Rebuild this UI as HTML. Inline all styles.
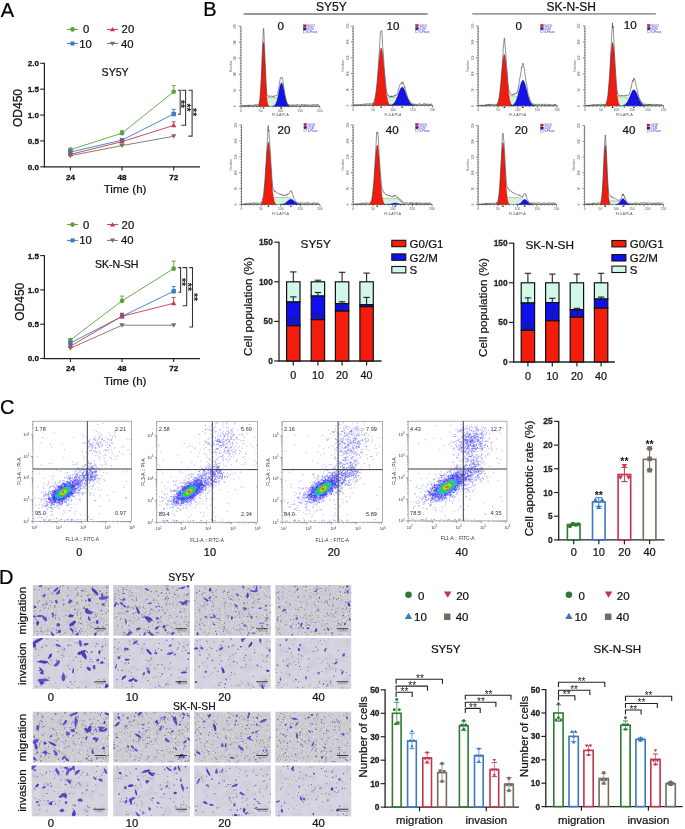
<!DOCTYPE html>
<html><head><meta charset="utf-8"><title>Figure</title>
<style>html,body{margin:0;padding:0;background:#fff;}body>svg{display:block;will-change:transform;}text{font-family:"Liberation Sans",sans-serif;}</style>
</head><body>
<svg width="685" height="829" viewBox="0 0 685 829" font-family="Liberation Sans, sans-serif">
<rect width="685" height="829" fill="#fff"/>
<text x="0.80" y="16.50" font-size="20" text-anchor="start" stroke="#000" stroke-width="0.22" fill="#000">A</text>
<text x="203.20" y="16.40" font-size="20" text-anchor="start" stroke="#000" stroke-width="0.22" fill="#000">B</text>
<text x="0.00" y="413.50" font-size="20" text-anchor="start" stroke="#000" stroke-width="0.22" fill="#000">C</text>
<text x="-1.00" y="583.80" font-size="20" text-anchor="start" stroke="#000" stroke-width="0.22" fill="#000">D</text>
<line x1="67.00" y1="29.40" x2="78.00" y2="29.40" stroke="#5aa23a" stroke-width="1.0"/>
<circle cx="72.50" cy="29.40" r="2.30" fill="#5aa23a"/>
<text x="83.00" y="33.40" font-size="11.3" text-anchor="start" stroke="#111" stroke-width="0.22" fill="#111">0</text>
<line x1="107.00" y1="29.40" x2="118.00" y2="29.40" stroke="#c43a52" stroke-width="1.0"/>
<path d="M109.97,31.21 L115.03,31.21 L112.50,26.98 Z" fill="#c43a52" stroke="none" stroke-width="0"/>
<text x="121.60" y="33.40" font-size="11.3" text-anchor="start" stroke="#111" stroke-width="0.22" fill="#111">20</text>
<line x1="67.00" y1="43.50" x2="78.00" y2="43.50" stroke="#3a7ac4" stroke-width="1.0"/>
<rect x="70.50" y="41.50" width="4.00" height="4.00" fill="#3a7ac4" stroke="none" stroke-width="0"/>
<text x="79.30" y="47.50" font-size="11.3" text-anchor="start" stroke="#111" stroke-width="0.22" fill="#111">10</text>
<line x1="107.00" y1="43.50" x2="118.00" y2="43.50" stroke="#7a705f" stroke-width="1.0"/>
<path d="M109.97,41.69 L115.03,41.69 L112.50,45.92 Z" fill="#7a705f" stroke="none" stroke-width="0"/>
<text x="121.00" y="47.50" font-size="11.3" text-anchor="start" stroke="#111" stroke-width="0.22" fill="#111">40</text>
<line x1="44.40" y1="62.80" x2="44.40" y2="167.40" stroke="#222" stroke-width="1.25"/>
<line x1="43.80" y1="166.80" x2="200.00" y2="166.80" stroke="#222" stroke-width="1.25"/>
<line x1="40.20" y1="166.80" x2="44.40" y2="166.80" stroke="#222" stroke-width="1.1"/>
<text x="39.00" y="169.70" font-size="8.1" text-anchor="end" font-weight="bold" stroke="#111" stroke-width="0.28" fill="#111">0.0</text>
<line x1="40.20" y1="140.93" x2="44.40" y2="140.93" stroke="#222" stroke-width="1.1"/>
<text x="39.00" y="143.83" font-size="8.1" text-anchor="end" font-weight="bold" stroke="#111" stroke-width="0.28" fill="#111">0.5</text>
<line x1="40.20" y1="115.05" x2="44.40" y2="115.05" stroke="#222" stroke-width="1.1"/>
<text x="39.00" y="117.95" font-size="8.1" text-anchor="end" font-weight="bold" stroke="#111" stroke-width="0.28" fill="#111">1.0</text>
<line x1="40.20" y1="89.18" x2="44.40" y2="89.18" stroke="#222" stroke-width="1.1"/>
<text x="39.00" y="92.08" font-size="8.1" text-anchor="end" font-weight="bold" stroke="#111" stroke-width="0.28" fill="#111">1.5</text>
<line x1="40.20" y1="63.30" x2="44.40" y2="63.30" stroke="#222" stroke-width="1.1"/>
<text x="39.00" y="66.20" font-size="8.1" text-anchor="end" font-weight="bold" stroke="#111" stroke-width="0.28" fill="#111">2.0</text>
<line x1="70.40" y1="166.80" x2="70.40" y2="170.40" stroke="#222" stroke-width="1.1"/>
<text x="70.40" y="179.50" font-size="8.1" text-anchor="middle" font-weight="bold" stroke="#111" stroke-width="0.28" fill="#111">24</text>
<line x1="122.00" y1="166.80" x2="122.00" y2="170.40" stroke="#222" stroke-width="1.1"/>
<text x="122.00" y="179.50" font-size="8.1" text-anchor="middle" font-weight="bold" stroke="#111" stroke-width="0.28" fill="#111">48</text>
<line x1="173.70" y1="166.80" x2="173.70" y2="170.40" stroke="#222" stroke-width="1.1"/>
<text x="173.70" y="179.50" font-size="8.1" text-anchor="middle" font-weight="bold" stroke="#111" stroke-width="0.28" fill="#111">72</text>
<text x="125.10" y="193.00" font-size="11.6" text-anchor="middle" stroke="#111" stroke-width="0.22" fill="#111">Time (h)</text>
<text x="101.60" y="76.00" font-size="10.6" text-anchor="start" stroke="#111" stroke-width="0.22" fill="#111">SY5Y</text>
<text x="21.90" y="108.00" font-size="12.0" text-anchor="middle" stroke="#111" stroke-width="0.22" fill="#111" transform="rotate(-90 21.90 108.00)">OD450</text>
<polyline points="70.40,149.72 122.00,133.16 173.70,91.76" fill="none" stroke="#5aa23a" stroke-width="0.9"/>
<line x1="70.40" y1="149.72" x2="70.40" y2="148.69" stroke="#5aa23a" stroke-width="0.9"/>
<line x1="68.40" y1="148.69" x2="72.40" y2="148.69" stroke="#5aa23a" stroke-width="0.9"/>
<line x1="122.00" y1="133.16" x2="122.00" y2="130.58" stroke="#5aa23a" stroke-width="0.9"/>
<line x1="120.00" y1="130.58" x2="124.00" y2="130.58" stroke="#5aa23a" stroke-width="0.9"/>
<line x1="173.70" y1="91.76" x2="173.70" y2="85.55" stroke="#5aa23a" stroke-width="0.9"/>
<line x1="171.70" y1="85.55" x2="175.70" y2="85.55" stroke="#5aa23a" stroke-width="0.9"/>
<circle cx="70.40" cy="149.72" r="2.35" fill="#5aa23a"/>
<circle cx="122.00" cy="133.16" r="2.35" fill="#5aa23a"/>
<circle cx="173.70" cy="91.76" r="2.35" fill="#5aa23a"/>
<polyline points="70.40,152.05 122.00,140.15 173.70,114.02" fill="none" stroke="#3a7ac4" stroke-width="0.9"/>
<line x1="70.40" y1="152.05" x2="70.40" y2="151.02" stroke="#3a7ac4" stroke-width="0.9"/>
<line x1="68.40" y1="151.02" x2="72.40" y2="151.02" stroke="#3a7ac4" stroke-width="0.9"/>
<line x1="122.00" y1="140.15" x2="122.00" y2="138.60" stroke="#3a7ac4" stroke-width="0.9"/>
<line x1="120.00" y1="138.60" x2="124.00" y2="138.60" stroke="#3a7ac4" stroke-width="0.9"/>
<line x1="173.70" y1="114.02" x2="173.70" y2="109.36" stroke="#3a7ac4" stroke-width="0.9"/>
<line x1="171.70" y1="109.36" x2="175.70" y2="109.36" stroke="#3a7ac4" stroke-width="0.9"/>
<rect x="68.20" y="149.85" width="4.40" height="4.40" fill="#3a7ac4" stroke="none" stroke-width="0"/>
<rect x="119.80" y="137.95" width="4.40" height="4.40" fill="#3a7ac4" stroke="none" stroke-width="0"/>
<rect x="171.50" y="111.82" width="4.40" height="4.40" fill="#3a7ac4" stroke="none" stroke-width="0"/>
<polyline points="70.40,154.38 122.00,141.70 173.70,125.40" fill="none" stroke="#c43a52" stroke-width="0.9"/>
<line x1="70.40" y1="154.38" x2="70.40" y2="153.35" stroke="#c43a52" stroke-width="0.9"/>
<line x1="68.40" y1="153.35" x2="72.40" y2="153.35" stroke="#c43a52" stroke-width="0.9"/>
<line x1="122.00" y1="141.70" x2="122.00" y2="140.15" stroke="#c43a52" stroke-width="0.9"/>
<line x1="120.00" y1="140.15" x2="124.00" y2="140.15" stroke="#c43a52" stroke-width="0.9"/>
<line x1="173.70" y1="125.40" x2="173.70" y2="121.78" stroke="#c43a52" stroke-width="0.9"/>
<line x1="171.70" y1="121.78" x2="175.70" y2="121.78" stroke="#c43a52" stroke-width="0.9"/>
<path d="M67.76,156.28 L73.05,156.28 L70.40,151.85 Z" fill="#c43a52" stroke="none" stroke-width="0"/>
<path d="M119.36,143.60 L124.64,143.60 L122.00,139.17 Z" fill="#c43a52" stroke="none" stroke-width="0"/>
<path d="M171.05,127.30 L176.34,127.30 L173.70,122.87 Z" fill="#c43a52" stroke="none" stroke-width="0"/>
<polyline points="70.40,155.67 122.00,145.58 173.70,136.27" fill="none" stroke="#7a705f" stroke-width="0.9"/>
<line x1="70.40" y1="155.67" x2="70.40" y2="155.16" stroke="#7a705f" stroke-width="0.9"/>
<line x1="68.40" y1="155.16" x2="72.40" y2="155.16" stroke="#7a705f" stroke-width="0.9"/>
<line x1="122.00" y1="145.58" x2="122.00" y2="145.06" stroke="#7a705f" stroke-width="0.9"/>
<line x1="120.00" y1="145.06" x2="124.00" y2="145.06" stroke="#7a705f" stroke-width="0.9"/>
<path d="M67.76,153.78 L73.05,153.78 L70.40,158.20 Z" fill="#7a705f" stroke="none" stroke-width="0"/>
<path d="M119.36,143.69 L124.64,143.69 L122.00,148.11 Z" fill="#7a705f" stroke="none" stroke-width="0"/>
<path d="M171.05,134.37 L176.34,134.37 L173.70,138.80 Z" fill="#7a705f" stroke="none" stroke-width="0"/>
<path d="M177.90,90.20 H180.20 V114.30 H177.90" fill="none" stroke="#333" stroke-width="1.05"/>
<text x="177.23" y="104.00" font-size="10.5" text-anchor="middle" font-weight="bold" fill="#222" transform="rotate(90 177.23 104.00)">**</text>
<path d="M181.30,90.20 H185.60 V125.30 H181.30" fill="none" stroke="#333" stroke-width="1.05"/>
<text x="182.73" y="107.50" font-size="10.5" text-anchor="middle" font-weight="bold" fill="#222" transform="rotate(90 182.73 107.50)">**</text>
<path d="M188.40,90.20 H192.10 V136.10 H188.40" fill="none" stroke="#333" stroke-width="1.05"/>
<text x="188.83" y="112.20" font-size="10.5" text-anchor="middle" font-weight="bold" fill="#222" transform="rotate(90 188.83 112.20)">**</text>
<line x1="67.00" y1="224.60" x2="78.00" y2="224.60" stroke="#5aa23a" stroke-width="1.0"/>
<circle cx="72.50" cy="224.60" r="2.30" fill="#5aa23a"/>
<text x="83.00" y="228.60" font-size="11.3" text-anchor="start" stroke="#111" stroke-width="0.22" fill="#111">0</text>
<line x1="107.00" y1="224.60" x2="118.00" y2="224.60" stroke="#c43a52" stroke-width="1.0"/>
<path d="M109.97,226.41 L115.03,226.41 L112.50,222.18 Z" fill="#c43a52" stroke="none" stroke-width="0"/>
<text x="121.60" y="228.60" font-size="11.3" text-anchor="start" stroke="#111" stroke-width="0.22" fill="#111">20</text>
<line x1="67.00" y1="240.40" x2="78.00" y2="240.40" stroke="#3a7ac4" stroke-width="1.0"/>
<rect x="70.50" y="238.40" width="4.00" height="4.00" fill="#3a7ac4" stroke="none" stroke-width="0"/>
<text x="79.30" y="244.40" font-size="11.3" text-anchor="start" stroke="#111" stroke-width="0.22" fill="#111">10</text>
<line x1="107.00" y1="240.40" x2="118.00" y2="240.40" stroke="#7a705f" stroke-width="1.0"/>
<path d="M109.97,238.59 L115.03,238.59 L112.50,242.82 Z" fill="#7a705f" stroke="none" stroke-width="0"/>
<text x="121.00" y="244.40" font-size="11.3" text-anchor="start" stroke="#111" stroke-width="0.22" fill="#111">40</text>
<line x1="44.40" y1="255.10" x2="44.40" y2="359.10" stroke="#222" stroke-width="1.25"/>
<line x1="43.80" y1="358.50" x2="200.00" y2="358.50" stroke="#222" stroke-width="1.25"/>
<line x1="40.20" y1="358.50" x2="44.40" y2="358.50" stroke="#222" stroke-width="1.1"/>
<text x="39.00" y="361.40" font-size="8.1" text-anchor="end" font-weight="bold" stroke="#111" stroke-width="0.28" fill="#111">0.0</text>
<line x1="40.20" y1="324.20" x2="44.40" y2="324.20" stroke="#222" stroke-width="1.1"/>
<text x="39.00" y="327.10" font-size="8.1" text-anchor="end" font-weight="bold" stroke="#111" stroke-width="0.28" fill="#111">0.5</text>
<line x1="40.20" y1="289.90" x2="44.40" y2="289.90" stroke="#222" stroke-width="1.1"/>
<text x="39.00" y="292.80" font-size="8.1" text-anchor="end" font-weight="bold" stroke="#111" stroke-width="0.28" fill="#111">1.0</text>
<line x1="40.20" y1="255.60" x2="44.40" y2="255.60" stroke="#222" stroke-width="1.1"/>
<text x="39.00" y="258.50" font-size="8.1" text-anchor="end" font-weight="bold" stroke="#111" stroke-width="0.28" fill="#111">1.5</text>
<line x1="70.40" y1="358.50" x2="70.40" y2="362.10" stroke="#222" stroke-width="1.1"/>
<text x="70.40" y="371.20" font-size="8.1" text-anchor="middle" font-weight="bold" stroke="#111" stroke-width="0.28" fill="#111">24</text>
<line x1="122.00" y1="358.50" x2="122.00" y2="362.10" stroke="#222" stroke-width="1.1"/>
<text x="122.00" y="371.20" font-size="8.1" text-anchor="middle" font-weight="bold" stroke="#111" stroke-width="0.28" fill="#111">48</text>
<line x1="173.70" y1="358.50" x2="173.70" y2="362.10" stroke="#222" stroke-width="1.1"/>
<text x="173.70" y="371.20" font-size="8.1" text-anchor="middle" font-weight="bold" stroke="#111" stroke-width="0.28" fill="#111">72</text>
<text x="125.10" y="384.70" font-size="11.6" text-anchor="middle" stroke="#111" stroke-width="0.22" fill="#111">Time (h)</text>
<text x="94.90" y="267.80" font-size="10.6" text-anchor="start" stroke="#111" stroke-width="0.22" fill="#111">SK-N-SH</text>
<text x="24.20" y="301.70" font-size="12.0" text-anchor="middle" stroke="#111" stroke-width="0.22" fill="#111" transform="rotate(-90 24.20 301.70)">OD450</text>
<polyline points="70.40,339.98 122.00,300.88 173.70,268.63" fill="none" stroke="#5aa23a" stroke-width="0.9"/>
<line x1="70.40" y1="339.98" x2="70.40" y2="338.61" stroke="#5aa23a" stroke-width="0.9"/>
<line x1="68.40" y1="338.61" x2="72.40" y2="338.61" stroke="#5aa23a" stroke-width="0.9"/>
<line x1="122.00" y1="300.88" x2="122.00" y2="296.07" stroke="#5aa23a" stroke-width="0.9"/>
<line x1="120.00" y1="296.07" x2="124.00" y2="296.07" stroke="#5aa23a" stroke-width="0.9"/>
<line x1="173.70" y1="268.63" x2="173.70" y2="261.09" stroke="#5aa23a" stroke-width="0.9"/>
<line x1="171.70" y1="261.09" x2="175.70" y2="261.09" stroke="#5aa23a" stroke-width="0.9"/>
<circle cx="70.40" cy="339.98" r="2.35" fill="#5aa23a"/>
<circle cx="122.00" cy="300.88" r="2.35" fill="#5aa23a"/>
<circle cx="173.70" cy="268.63" r="2.35" fill="#5aa23a"/>
<polyline points="70.40,343.06 122.00,316.31 173.70,291.27" fill="none" stroke="#3a7ac4" stroke-width="0.9"/>
<line x1="70.40" y1="343.06" x2="70.40" y2="341.69" stroke="#3a7ac4" stroke-width="0.9"/>
<line x1="68.40" y1="341.69" x2="72.40" y2="341.69" stroke="#3a7ac4" stroke-width="0.9"/>
<line x1="122.00" y1="316.31" x2="122.00" y2="313.57" stroke="#3a7ac4" stroke-width="0.9"/>
<line x1="120.00" y1="313.57" x2="124.00" y2="313.57" stroke="#3a7ac4" stroke-width="0.9"/>
<line x1="173.70" y1="291.27" x2="173.70" y2="286.47" stroke="#3a7ac4" stroke-width="0.9"/>
<line x1="171.70" y1="286.47" x2="175.70" y2="286.47" stroke="#3a7ac4" stroke-width="0.9"/>
<rect x="68.20" y="340.87" width="4.40" height="4.40" fill="#3a7ac4" stroke="none" stroke-width="0"/>
<rect x="119.80" y="314.11" width="4.40" height="4.40" fill="#3a7ac4" stroke="none" stroke-width="0"/>
<rect x="171.50" y="289.07" width="4.40" height="4.40" fill="#3a7ac4" stroke="none" stroke-width="0"/>
<polyline points="70.40,346.15 122.00,316.31 173.70,303.28" fill="none" stroke="#c43a52" stroke-width="0.9"/>
<line x1="70.40" y1="346.15" x2="70.40" y2="344.78" stroke="#c43a52" stroke-width="0.9"/>
<line x1="68.40" y1="344.78" x2="72.40" y2="344.78" stroke="#c43a52" stroke-width="0.9"/>
<line x1="122.00" y1="316.31" x2="122.00" y2="313.22" stroke="#c43a52" stroke-width="0.9"/>
<line x1="120.00" y1="313.22" x2="124.00" y2="313.22" stroke="#c43a52" stroke-width="0.9"/>
<line x1="173.70" y1="303.28" x2="173.70" y2="297.45" stroke="#c43a52" stroke-width="0.9"/>
<line x1="171.70" y1="297.45" x2="175.70" y2="297.45" stroke="#c43a52" stroke-width="0.9"/>
<path d="M67.76,348.05 L73.05,348.05 L70.40,343.62 Z" fill="#c43a52" stroke="none" stroke-width="0"/>
<path d="M119.36,318.21 L124.64,318.21 L122.00,313.78 Z" fill="#c43a52" stroke="none" stroke-width="0"/>
<path d="M171.05,305.17 L176.34,305.17 L173.70,300.75 Z" fill="#c43a52" stroke="none" stroke-width="0"/>
<polyline points="70.40,348.21 122.00,325.23 173.70,325.23" fill="none" stroke="#7a705f" stroke-width="0.9"/>
<line x1="70.40" y1="348.21" x2="70.40" y2="347.52" stroke="#7a705f" stroke-width="0.9"/>
<line x1="68.40" y1="347.52" x2="72.40" y2="347.52" stroke="#7a705f" stroke-width="0.9"/>
<line x1="122.00" y1="325.23" x2="122.00" y2="324.54" stroke="#7a705f" stroke-width="0.9"/>
<line x1="120.00" y1="324.54" x2="124.00" y2="324.54" stroke="#7a705f" stroke-width="0.9"/>
<path d="M67.76,346.31 L73.05,346.31 L70.40,350.74 Z" fill="#7a705f" stroke="none" stroke-width="0"/>
<path d="M119.36,323.33 L124.64,323.33 L122.00,327.76 Z" fill="#7a705f" stroke="none" stroke-width="0"/>
<path d="M171.05,323.33 L176.34,323.33 L173.70,327.76 Z" fill="#7a705f" stroke="none" stroke-width="0"/>
<path d="M178.20,267.60 H180.60 V292.20 H178.20" fill="none" stroke="#333" stroke-width="1.05"/>
<text x="177.63" y="282.00" font-size="10.5" text-anchor="middle" font-weight="bold" fill="#222" transform="rotate(90 177.63 282.00)">**</text>
<path d="M182.50,267.60 H186.70 V305.70 H182.50" fill="none" stroke="#333" stroke-width="1.05"/>
<text x="183.63" y="286.90" font-size="10.5" text-anchor="middle" font-weight="bold" fill="#222" transform="rotate(90 183.63 286.90)">**</text>
<path d="M189.30,267.60 H192.50 V326.90 H189.30" fill="none" stroke="#333" stroke-width="1.05"/>
<text x="190.13" y="297.00" font-size="10.5" text-anchor="middle" font-weight="bold" fill="#222" transform="rotate(90 190.13 297.00)">**</text>
<text x="316.00" y="11.30" font-size="12" text-anchor="start" stroke="#111" stroke-width="0.22" fill="#111">SY5Y</text>
<line x1="243.60" y1="14.00" x2="427.70" y2="14.00" stroke="#777" stroke-width="1.3"/>
<text x="546.50" y="11.00" font-size="12" text-anchor="start" stroke="#111" stroke-width="0.22" fill="#111">SK-N-SH</text>
<line x1="472.30" y1="13.80" x2="655.80" y2="13.80" stroke="#777" stroke-width="1.3"/>
<g stroke="#333" stroke-width="0.6">
<line x1="241.00" y1="26.30" x2="241.00" y2="106.20"/>
<line x1="241.00" y1="106.20" x2="319.80" y2="106.20"/>
<line x1="238.80" y1="26.30" x2="241.00" y2="26.30"/>
<line x1="239.90" y1="28.96" x2="241.00" y2="28.96"/>
<line x1="239.90" y1="31.63" x2="241.00" y2="31.63"/>
<line x1="239.90" y1="34.29" x2="241.00" y2="34.29"/>
<line x1="239.90" y1="36.95" x2="241.00" y2="36.95"/>
<line x1="239.90" y1="39.62" x2="241.00" y2="39.62"/>
<line x1="238.80" y1="42.28" x2="241.00" y2="42.28"/>
<line x1="239.90" y1="44.94" x2="241.00" y2="44.94"/>
<line x1="239.90" y1="47.61" x2="241.00" y2="47.61"/>
<line x1="239.90" y1="50.27" x2="241.00" y2="50.27"/>
<line x1="239.90" y1="52.93" x2="241.00" y2="52.93"/>
<line x1="239.90" y1="55.60" x2="241.00" y2="55.60"/>
<line x1="238.80" y1="58.26" x2="241.00" y2="58.26"/>
<line x1="239.90" y1="60.92" x2="241.00" y2="60.92"/>
<line x1="239.90" y1="63.59" x2="241.00" y2="63.59"/>
<line x1="239.90" y1="66.25" x2="241.00" y2="66.25"/>
<line x1="239.90" y1="68.91" x2="241.00" y2="68.91"/>
<line x1="239.90" y1="71.58" x2="241.00" y2="71.58"/>
<line x1="238.80" y1="74.24" x2="241.00" y2="74.24"/>
<line x1="239.90" y1="76.90" x2="241.00" y2="76.90"/>
<line x1="239.90" y1="79.57" x2="241.00" y2="79.57"/>
<line x1="239.90" y1="82.23" x2="241.00" y2="82.23"/>
<line x1="239.90" y1="84.89" x2="241.00" y2="84.89"/>
<line x1="239.90" y1="87.56" x2="241.00" y2="87.56"/>
<line x1="238.80" y1="90.22" x2="241.00" y2="90.22"/>
<line x1="239.90" y1="92.88" x2="241.00" y2="92.88"/>
<line x1="239.90" y1="95.55" x2="241.00" y2="95.55"/>
<line x1="239.90" y1="98.21" x2="241.00" y2="98.21"/>
<line x1="239.90" y1="100.87" x2="241.00" y2="100.87"/>
<line x1="239.90" y1="103.54" x2="241.00" y2="103.54"/>
<line x1="238.80" y1="106.20" x2="241.00" y2="106.20"/>
<line x1="241.00" y1="106.20" x2="241.00" y2="108.40"/>
<line x1="244.94" y1="106.20" x2="244.94" y2="107.30"/>
<line x1="248.88" y1="106.20" x2="248.88" y2="107.30"/>
<line x1="252.82" y1="106.20" x2="252.82" y2="107.30"/>
<line x1="256.76" y1="106.20" x2="256.76" y2="107.30"/>
<line x1="260.70" y1="106.20" x2="260.70" y2="108.40"/>
<line x1="264.64" y1="106.20" x2="264.64" y2="107.30"/>
<line x1="268.58" y1="106.20" x2="268.58" y2="107.30"/>
<line x1="272.52" y1="106.20" x2="272.52" y2="107.30"/>
<line x1="276.46" y1="106.20" x2="276.46" y2="107.30"/>
<line x1="280.40" y1="106.20" x2="280.40" y2="108.40"/>
<line x1="284.34" y1="106.20" x2="284.34" y2="107.30"/>
<line x1="288.28" y1="106.20" x2="288.28" y2="107.30"/>
<line x1="292.22" y1="106.20" x2="292.22" y2="107.30"/>
<line x1="296.16" y1="106.20" x2="296.16" y2="107.30"/>
<line x1="300.10" y1="106.20" x2="300.10" y2="108.40"/>
<line x1="304.04" y1="106.20" x2="304.04" y2="107.30"/>
<line x1="307.98" y1="106.20" x2="307.98" y2="107.30"/>
<line x1="311.92" y1="106.20" x2="311.92" y2="107.30"/>
<line x1="315.86" y1="106.20" x2="315.86" y2="107.30"/>
<line x1="319.80" y1="106.20" x2="319.80" y2="108.40"/>
</g>
<text x="236.40" y="26.30" font-size="3.0" text-anchor="middle" fill="#555" transform="rotate(-90 236.40 26.30)">250</text>
<text x="236.40" y="42.28" font-size="3.0" text-anchor="middle" fill="#555" transform="rotate(-90 236.40 42.28)">200</text>
<text x="236.40" y="58.26" font-size="3.0" text-anchor="middle" fill="#555" transform="rotate(-90 236.40 58.26)">150</text>
<text x="236.40" y="74.24" font-size="3.0" text-anchor="middle" fill="#555" transform="rotate(-90 236.40 74.24)">100</text>
<text x="236.40" y="90.22" font-size="3.0" text-anchor="middle" fill="#555" transform="rotate(-90 236.40 90.22)">50</text>
<text x="236.40" y="106.20" font-size="3.0" text-anchor="middle" fill="#555" transform="rotate(-90 236.40 106.20)">0</text>
<text x="241.00" y="111.80" font-size="3.3" text-anchor="middle" fill="#555">0</text>
<text x="260.70" y="111.80" font-size="3.3" text-anchor="middle" fill="#555">50</text>
<text x="280.40" y="111.80" font-size="3.3" text-anchor="middle" fill="#555">100</text>
<text x="300.10" y="111.80" font-size="3.3" text-anchor="middle" fill="#555">150</text>
<text x="319.80" y="111.80" font-size="3.3" text-anchor="middle" fill="#555">200</text>
<text x="280.40" y="116.40" font-size="3.4" text-anchor="middle" fill="#555">FL3-A/PI-A</text>
<text x="231.80" y="66.25" font-size="3.3" text-anchor="middle" fill="#555" transform="rotate(-90 231.80 66.25)">Number</text>
<path d="M241.00,106.20 L241.00,106.20 L241.49,106.20 L241.99,106.20 L242.48,106.20 L242.97,106.20 L243.46,106.20 L243.96,106.20 L244.45,106.20 L244.94,106.20 L245.43,106.20 L245.93,106.20 L246.42,106.20 L246.91,106.20 L247.40,106.20 L247.90,106.20 L248.39,106.20 L248.88,106.20 L249.37,106.20 L249.87,106.20 L250.36,106.20 L250.85,106.20 L251.34,106.20 L251.84,106.20 L252.33,106.20 L252.82,106.20 L253.31,106.20 L253.81,106.20 L254.30,106.20 L254.79,106.20 L255.28,106.20 L255.78,106.20 L256.27,106.20 L256.76,106.20 L257.25,106.20 L257.75,106.20 L258.24,106.19 L258.73,106.19 L259.22,106.18 L259.72,106.16 L260.21,106.13 L260.70,106.07 L261.19,105.98 L261.69,105.83 L262.18,105.58 L262.67,105.18 L263.16,104.58 L263.66,103.73 L264.15,102.65 L264.64,101.46 L265.13,100.31 L265.62,99.36 L266.12,98.65 L266.61,98.17 L267.10,97.86 L267.60,97.67 L268.09,97.56 L268.58,97.50 L269.07,97.46 L269.56,97.44 L270.06,97.42 L270.55,97.42 L271.04,97.42 L271.54,97.42 L272.03,97.42 L272.52,97.43 L273.01,97.44 L273.50,97.46 L274.00,97.48 L274.49,97.52 L274.98,97.57 L275.48,97.64 L275.97,97.73 L276.46,97.87 L276.95,98.05 L277.44,98.29 L277.94,98.62 L278.43,99.03 L278.92,99.55 L279.42,100.18 L279.91,100.88 L280.40,101.64 L280.89,102.41 L281.38,103.15 L281.88,103.81 L282.37,104.37 L282.86,104.83 L283.36,105.19 L283.85,105.46 L284.34,105.67 L284.83,105.82 L285.32,105.93 L285.82,106.01 L286.31,106.06 L286.80,106.10 L287.30,106.13 L287.79,106.15 L288.28,106.17 L288.77,106.18 L289.26,106.18 L289.76,106.19 L290.25,106.19 L290.74,106.19 L291.24,106.20 L291.73,106.20 L292.22,106.20 L292.71,106.20 L293.20,106.20 L293.70,106.20 L294.19,106.20 L294.68,106.20 L295.18,106.20 L295.67,106.20 L296.16,106.20 L296.65,106.20 L297.14,106.20 L297.64,106.20 L298.13,106.20 L298.62,106.20 L299.12,106.20 L299.61,106.20 L300.10,106.20 L300.59,106.20 L301.09,106.20 L301.58,106.20 L302.07,106.20 L302.56,106.20 L303.06,106.20 L303.55,106.20 L304.04,106.20 L304.53,106.20 L305.02,106.20 L305.52,106.20 L306.01,106.20 L306.50,106.20 L307.00,106.20 L307.49,106.20 L307.98,106.20 L308.47,106.20 L308.97,106.20 L309.46,106.20 L309.95,106.20 L310.44,106.20 L310.94,106.20 L311.43,106.20 L311.92,106.20 L312.41,106.20 L312.90,106.20 L313.40,106.20 L313.89,106.20 L314.38,106.20 L314.88,106.20 L315.37,106.20 L315.86,106.20 L316.35,106.20 L316.85,106.20 L317.34,106.20 L317.83,106.20 L318.32,106.20 L318.81,106.20 L319.31,106.20 L319.80,106.20 L319.80,106.20 Z" fill="#d6f2dc" stroke="#4a7a4a" stroke-width="0.4"/>
<path d="M258.24,106.20 L258.24,105.80 L258.73,105.21 L259.22,103.96 L259.72,101.55 L260.21,97.38 L260.70,90.89 L261.19,81.90 L261.69,70.92 L262.18,59.35 L262.67,49.28 L263.16,42.94 L263.66,41.88 L264.15,46.39 L264.64,55.32 L265.13,66.60 L265.62,78.01 L266.12,87.84 L266.61,95.27 L267.10,100.24 L267.60,103.23 L268.09,104.85 L268.58,105.64 L268.58,106.20 Z" fill="#f01c10" stroke="#6a1010" stroke-width="0.3"/>
<path d="M273.01,106.20 L273.01,106.03 L273.50,105.91 L274.00,105.71 L274.49,105.40 L274.98,104.93 L275.48,104.26 L275.97,103.33 L276.46,102.10 L276.95,100.53 L277.44,98.62 L277.94,96.40 L278.43,93.94 L278.92,91.36 L279.42,88.83 L279.91,86.54 L280.40,84.66 L280.89,83.38 L281.38,82.82 L281.88,83.03 L282.37,83.98 L282.86,85.60 L283.36,87.72 L283.85,90.17 L284.34,92.74 L284.83,95.28 L285.32,97.62 L285.82,99.68 L286.31,101.41 L286.80,102.80 L287.30,103.86 L287.79,104.65 L288.28,105.20 L288.77,105.58 L289.26,105.83 L289.76,105.98 L289.76,106.20 Z" fill="#1414e6" stroke="#10106a" stroke-width="0.3"/>
<polyline points="242.00,106.00 242.35,105.68 242.70,105.76 243.05,106.00 243.40,106.00 243.75,106.00 244.09,105.79 244.44,105.59 244.79,106.00 245.14,106.00 245.49,105.41 245.84,105.85 246.19,105.41 246.54,106.00 246.89,105.68 247.24,105.30 247.59,105.84 247.93,104.93 248.28,104.93 248.63,105.93 248.98,105.89 249.33,105.24 249.68,104.72 250.03,105.36 250.38,105.53 250.73,105.25 251.08,105.70 251.43,105.45 251.77,105.18 252.12,105.09 252.47,105.39 252.82,105.38 253.17,105.39 253.52,105.09 253.87,105.29 254.22,105.61 254.57,104.62 254.92,104.95 255.27,104.85 255.61,105.39 255.96,104.42 256.31,104.58 256.66,105.46 257.01,105.19 257.36,104.70 257.71,104.67 258.06,104.32 258.41,104.82 258.76,103.94 259.11,103.12 259.45,102.06 259.80,99.29 260.15,95.42 260.50,90.97 260.85,86.14 261.20,79.14 261.55,73.50 261.90,64.37 262.25,52.52 262.60,45.17 262.95,38.14 263.29,30.14 263.64,28.42 263.99,33.05 264.34,42.69 264.69,51.31 265.04,59.86 265.39,67.15 265.74,75.82 266.09,82.91 266.44,88.30 266.79,93.69 267.13,95.54 267.48,95.20 267.83,95.33 268.18,96.19 268.53,96.52 268.88,96.76 269.23,96.33 269.58,95.73 269.93,95.98 270.28,96.25 270.63,95.86 270.97,96.62 271.32,96.28 271.67,95.75 272.02,96.21 272.37,96.36 272.72,96.59 273.07,96.27 273.42,95.78 273.77,96.96 274.12,96.02 274.47,96.00 274.81,95.85 275.16,95.91 275.51,95.65 275.86,95.87 276.21,95.58 276.56,95.54 276.91,95.88 277.26,94.16 277.61,93.71 277.96,92.77 278.31,90.31 278.65,88.38 279.00,86.65 279.35,84.62 279.70,82.08 280.05,79.96 280.40,78.38 280.75,77.64 281.10,78.27 281.45,77.45 281.80,78.00 282.15,77.64 282.49,78.22 282.84,80.26 283.19,82.40 283.54,84.57 283.89,88.29 284.24,89.07 284.59,91.64 284.94,94.90 285.29,96.80 285.64,98.39 285.99,98.54 286.33,100.65 286.68,101.94 287.03,102.10 287.38,103.27 287.73,104.26 288.08,104.64 288.43,104.55 288.78,105.11 289.13,105.06 289.48,104.58 289.83,104.95 290.17,105.14 290.52,104.98 290.87,105.54 291.22,105.11 291.57,105.08 291.92,105.37 292.27,105.46 292.62,104.52 292.97,104.99 293.32,105.35 293.67,104.87 294.01,104.62 294.36,105.57 294.71,105.58 295.06,105.42 295.41,104.74 295.76,105.41 296.11,104.75 296.46,104.79 296.81,104.95 297.16,105.34 297.51,104.43 297.85,104.64 298.20,104.98 298.55,105.33 298.90,104.82 299.25,105.13 299.60,104.91 299.95,105.21 300.30,104.84 300.65,105.53 301.00,105.24 301.35,104.44 301.69,104.55 302.04,105.23 302.39,104.57 302.74,105.23 303.09,104.47 303.44,104.71 303.79,105.10 304.14,105.30 304.49,105.59 304.84,104.55 305.19,105.55 305.53,104.62 305.88,104.45 306.23,104.92 306.58,105.39 306.93,104.56 307.28,104.43 307.63,104.76 307.98,104.99 308.33,105.15 308.68,105.18 309.03,105.35 309.37,104.79 309.72,105.08 310.07,105.37 310.42,105.47 310.77,104.80 311.12,105.24 311.47,105.00 311.82,105.21 312.17,104.55 312.52,104.52 312.87,105.58 313.21,105.36 313.56,105.21 313.91,104.42 314.26,104.66 314.61,105.19 314.96,105.34 315.31,104.79 315.66,104.59 316.01,104.48 316.36,105.19 316.71,104.54 317.05,104.78 317.40,105.02 317.75,104.42 318.10,105.32 318.45,104.73 318.80,105.50" fill="none" stroke="#222" stroke-width="0.5"/>
<path d="M262.50,108.60 L264.50,108.60 L263.50,106.80 Z" fill="#111" stroke="none" stroke-width="0"/>
<path d="M280.50,108.60 L282.50,108.60 L281.50,106.80 Z" fill="#111" stroke="none" stroke-width="0"/>
<rect x="303.40" y="24.70" width="2.80" height="2.30" fill="#f01c10" stroke="#600" stroke-width="0.25"/>
<text x="307.00" y="26.90" font-size="2.7" text-anchor="start" fill="#3030d0">G0/G1</text>
<rect x="303.40" y="27.70" width="2.80" height="2.30" fill="#1414e6" stroke="#006" stroke-width="0.25"/>
<text x="307.00" y="29.90" font-size="2.7" text-anchor="start" fill="#3030d0">G2/M</text>
<rect x="303.40" y="30.70" width="2.80" height="2.30" fill="#f6fbf6" stroke="#333" stroke-width="0.25"/>
<text x="307.00" y="32.90" font-size="2.7" text-anchor="start" fill="#3030d0">S-Phase</text>
<text x="277.60" y="29.60" font-size="11.6" text-anchor="start" stroke="#111" stroke-width="0.22" fill="#111">0</text>
<g stroke="#333" stroke-width="0.6">
<line x1="353.20" y1="26.00" x2="353.20" y2="105.30"/>
<line x1="353.20" y1="105.30" x2="432.60" y2="105.30"/>
<line x1="351.00" y1="26.00" x2="353.20" y2="26.00"/>
<line x1="352.10" y1="28.64" x2="353.20" y2="28.64"/>
<line x1="352.10" y1="31.29" x2="353.20" y2="31.29"/>
<line x1="352.10" y1="33.93" x2="353.20" y2="33.93"/>
<line x1="352.10" y1="36.57" x2="353.20" y2="36.57"/>
<line x1="352.10" y1="39.22" x2="353.20" y2="39.22"/>
<line x1="351.00" y1="41.86" x2="353.20" y2="41.86"/>
<line x1="352.10" y1="44.50" x2="353.20" y2="44.50"/>
<line x1="352.10" y1="47.15" x2="353.20" y2="47.15"/>
<line x1="352.10" y1="49.79" x2="353.20" y2="49.79"/>
<line x1="352.10" y1="52.43" x2="353.20" y2="52.43"/>
<line x1="352.10" y1="55.08" x2="353.20" y2="55.08"/>
<line x1="351.00" y1="57.72" x2="353.20" y2="57.72"/>
<line x1="352.10" y1="60.36" x2="353.20" y2="60.36"/>
<line x1="352.10" y1="63.01" x2="353.20" y2="63.01"/>
<line x1="352.10" y1="65.65" x2="353.20" y2="65.65"/>
<line x1="352.10" y1="68.29" x2="353.20" y2="68.29"/>
<line x1="352.10" y1="70.94" x2="353.20" y2="70.94"/>
<line x1="351.00" y1="73.58" x2="353.20" y2="73.58"/>
<line x1="352.10" y1="76.22" x2="353.20" y2="76.22"/>
<line x1="352.10" y1="78.87" x2="353.20" y2="78.87"/>
<line x1="352.10" y1="81.51" x2="353.20" y2="81.51"/>
<line x1="352.10" y1="84.15" x2="353.20" y2="84.15"/>
<line x1="352.10" y1="86.80" x2="353.20" y2="86.80"/>
<line x1="351.00" y1="89.44" x2="353.20" y2="89.44"/>
<line x1="352.10" y1="92.08" x2="353.20" y2="92.08"/>
<line x1="352.10" y1="94.73" x2="353.20" y2="94.73"/>
<line x1="352.10" y1="97.37" x2="353.20" y2="97.37"/>
<line x1="352.10" y1="100.01" x2="353.20" y2="100.01"/>
<line x1="352.10" y1="102.66" x2="353.20" y2="102.66"/>
<line x1="351.00" y1="105.30" x2="353.20" y2="105.30"/>
<line x1="353.20" y1="105.30" x2="353.20" y2="107.50"/>
<line x1="357.17" y1="105.30" x2="357.17" y2="106.40"/>
<line x1="361.14" y1="105.30" x2="361.14" y2="106.40"/>
<line x1="365.11" y1="105.30" x2="365.11" y2="106.40"/>
<line x1="369.08" y1="105.30" x2="369.08" y2="106.40"/>
<line x1="373.05" y1="105.30" x2="373.05" y2="107.50"/>
<line x1="377.02" y1="105.30" x2="377.02" y2="106.40"/>
<line x1="380.99" y1="105.30" x2="380.99" y2="106.40"/>
<line x1="384.96" y1="105.30" x2="384.96" y2="106.40"/>
<line x1="388.93" y1="105.30" x2="388.93" y2="106.40"/>
<line x1="392.90" y1="105.30" x2="392.90" y2="107.50"/>
<line x1="396.87" y1="105.30" x2="396.87" y2="106.40"/>
<line x1="400.84" y1="105.30" x2="400.84" y2="106.40"/>
<line x1="404.81" y1="105.30" x2="404.81" y2="106.40"/>
<line x1="408.78" y1="105.30" x2="408.78" y2="106.40"/>
<line x1="412.75" y1="105.30" x2="412.75" y2="107.50"/>
<line x1="416.72" y1="105.30" x2="416.72" y2="106.40"/>
<line x1="420.69" y1="105.30" x2="420.69" y2="106.40"/>
<line x1="424.66" y1="105.30" x2="424.66" y2="106.40"/>
<line x1="428.63" y1="105.30" x2="428.63" y2="106.40"/>
<line x1="432.60" y1="105.30" x2="432.60" y2="107.50"/>
</g>
<text x="348.60" y="26.00" font-size="3.0" text-anchor="middle" fill="#555" transform="rotate(-90 348.60 26.00)">250</text>
<text x="348.60" y="41.86" font-size="3.0" text-anchor="middle" fill="#555" transform="rotate(-90 348.60 41.86)">200</text>
<text x="348.60" y="57.72" font-size="3.0" text-anchor="middle" fill="#555" transform="rotate(-90 348.60 57.72)">150</text>
<text x="348.60" y="73.58" font-size="3.0" text-anchor="middle" fill="#555" transform="rotate(-90 348.60 73.58)">100</text>
<text x="348.60" y="89.44" font-size="3.0" text-anchor="middle" fill="#555" transform="rotate(-90 348.60 89.44)">50</text>
<text x="348.60" y="105.30" font-size="3.0" text-anchor="middle" fill="#555" transform="rotate(-90 348.60 105.30)">0</text>
<text x="353.20" y="110.90" font-size="3.3" text-anchor="middle" fill="#555">0</text>
<text x="373.05" y="110.90" font-size="3.3" text-anchor="middle" fill="#555">50</text>
<text x="392.90" y="110.90" font-size="3.3" text-anchor="middle" fill="#555">100</text>
<text x="412.75" y="110.90" font-size="3.3" text-anchor="middle" fill="#555">150</text>
<text x="432.60" y="110.90" font-size="3.3" text-anchor="middle" fill="#555">200</text>
<text x="392.90" y="115.50" font-size="3.4" text-anchor="middle" fill="#555">FL3-A/PI-A</text>
<text x="344.00" y="65.65" font-size="3.3" text-anchor="middle" fill="#555" transform="rotate(-90 344.00 65.65)">Number</text>
<path d="M353.20,105.30 L353.20,105.30 L353.70,105.30 L354.19,105.30 L354.69,105.30 L355.19,105.30 L355.68,105.30 L356.18,105.30 L356.67,105.30 L357.17,105.30 L357.67,105.30 L358.16,105.30 L358.66,105.30 L359.15,105.30 L359.65,105.30 L360.15,105.30 L360.64,105.30 L361.14,105.30 L361.64,105.30 L362.13,105.30 L362.63,105.30 L363.12,105.30 L363.62,105.30 L364.12,105.30 L364.61,105.30 L365.11,105.30 L365.61,105.30 L366.10,105.30 L366.60,105.30 L367.09,105.30 L367.59,105.30 L368.09,105.30 L368.58,105.30 L369.08,105.30 L369.58,105.30 L370.07,105.30 L370.57,105.30 L371.06,105.30 L371.56,105.30 L372.06,105.30 L372.55,105.30 L373.05,105.30 L373.55,105.30 L374.04,105.30 L374.54,105.30 L375.03,105.30 L375.53,105.30 L376.03,105.30 L376.52,105.30 L377.02,105.29 L377.52,105.29 L378.01,105.28 L378.51,105.27 L379.00,105.25 L379.50,105.21 L380.00,105.14 L380.49,105.03 L380.99,104.84 L381.49,104.53 L381.98,104.05 L382.48,103.35 L382.98,102.43 L383.47,101.36 L383.97,100.28 L384.46,99.34 L384.96,98.62 L385.46,98.12 L385.95,97.79 L386.45,97.59 L386.94,97.47 L387.44,97.40 L387.94,97.36 L388.43,97.34 L388.93,97.32 L389.43,97.32 L389.92,97.31 L390.42,97.32 L390.92,97.32 L391.41,97.33 L391.91,97.34 L392.40,97.35 L392.90,97.37 L393.40,97.40 L393.89,97.44 L394.39,97.50 L394.88,97.59 L395.38,97.70 L395.88,97.86 L396.37,98.07 L396.87,98.36 L397.37,98.73 L397.86,99.20 L398.36,99.75 L398.86,100.39 L399.35,101.09 L399.85,101.79 L400.34,102.47 L400.84,103.08 L401.34,103.60 L401.83,104.03 L402.33,104.36 L402.82,104.62 L403.32,104.81 L403.82,104.95 L404.31,105.05 L404.81,105.12 L405.31,105.18 L405.80,105.21 L406.30,105.24 L406.80,105.26 L407.29,105.27 L407.79,105.28 L408.28,105.28 L408.78,105.29 L409.28,105.29 L409.77,105.29 L410.27,105.30 L410.76,105.30 L411.26,105.30 L411.76,105.30 L412.25,105.30 L412.75,105.30 L413.25,105.30 L413.74,105.30 L414.24,105.30 L414.74,105.30 L415.23,105.30 L415.73,105.30 L416.22,105.30 L416.72,105.30 L417.22,105.30 L417.71,105.30 L418.21,105.30 L418.71,105.30 L419.20,105.30 L419.70,105.30 L420.19,105.30 L420.69,105.30 L421.19,105.30 L421.68,105.30 L422.18,105.30 L422.68,105.30 L423.17,105.30 L423.67,105.30 L424.16,105.30 L424.66,105.30 L425.16,105.30 L425.65,105.30 L426.15,105.30 L426.64,105.30 L427.14,105.30 L427.64,105.30 L428.13,105.30 L428.63,105.30 L429.13,105.30 L429.62,105.30 L430.12,105.30 L430.62,105.30 L431.11,105.30 L431.61,105.30 L432.10,105.30 L432.60,105.30 L432.60,105.30 Z" fill="#d6f2dc" stroke="#4a7a4a" stroke-width="0.4"/>
<path d="M372.06,105.30 L372.06,104.90 L372.55,104.62 L373.05,104.19 L373.55,103.53 L374.04,102.57 L374.54,101.19 L375.03,99.30 L375.53,96.79 L376.03,93.58 L376.52,89.63 L377.02,84.95 L377.52,79.64 L378.01,73.87 L378.51,67.92 L379.00,62.12 L379.50,56.87 L380.00,52.54 L380.49,49.48 L380.99,47.95 L381.49,48.08 L381.98,49.86 L382.48,53.13 L382.98,57.62 L383.47,62.99 L383.97,68.83 L384.46,74.78 L384.96,80.49 L385.46,85.72 L385.95,90.29 L386.45,94.12 L386.94,97.22 L387.44,99.63 L387.94,101.43 L388.43,102.74 L388.93,103.65 L389.43,104.27 L389.92,104.68 L390.42,104.93 L390.42,105.30 Z" fill="#f01c10" stroke="#6a1010" stroke-width="0.3"/>
<path d="M389.43,105.30 L389.43,105.19 L389.92,105.14 L390.42,105.06 L390.92,104.96 L391.41,104.82 L391.91,104.64 L392.40,104.39 L392.90,104.08 L393.40,103.68 L393.89,103.19 L394.39,102.60 L394.88,101.88 L395.38,101.04 L395.88,100.08 L396.37,99.00 L396.87,97.81 L397.37,96.53 L397.86,95.19 L398.36,93.82 L398.86,92.47 L399.35,91.18 L399.85,89.99 L400.34,88.96 L400.84,88.12 L401.34,87.52 L401.83,87.18 L402.33,87.11 L402.82,87.32 L403.32,87.80 L403.82,88.53 L404.31,89.47 L404.81,90.59 L405.31,91.84 L405.80,93.17 L406.30,94.53 L406.80,95.89 L407.29,97.20 L407.79,98.44 L408.28,99.58 L408.78,100.60 L409.28,101.49 L409.77,102.27 L410.27,102.92 L410.76,103.46 L411.26,103.90 L411.76,104.25 L412.25,104.53 L412.75,104.74 L413.25,104.90 L413.74,105.02 L414.24,105.10 L414.74,105.17 L414.74,105.30 Z" fill="#1414e6" stroke="#10106a" stroke-width="0.3"/>
<polyline points="354.20,104.66 354.55,104.66 354.90,105.10 355.26,105.10 355.61,104.73 355.96,104.82 356.31,104.87 356.66,105.10 357.01,104.87 357.37,104.83 357.72,104.82 358.07,105.10 358.42,104.90 358.77,104.89 359.13,104.44 359.48,104.06 359.83,104.07 360.18,104.50 360.53,104.57 360.88,104.74 361.24,104.98 361.59,104.95 361.94,104.39 362.29,104.53 362.64,104.43 363.00,103.79 363.35,104.20 363.70,104.14 364.05,104.51 364.40,104.75 364.75,104.38 365.11,104.60 365.46,104.14 365.81,103.54 366.16,103.93 366.51,104.51 366.87,103.65 367.22,103.76 367.57,103.84 367.92,103.63 368.27,103.80 368.62,103.76 368.98,104.28 369.33,103.52 369.68,103.54 370.03,104.49 370.38,103.77 370.74,103.79 371.09,104.08 371.44,103.96 371.79,103.96 372.14,103.35 372.49,103.79 372.85,103.21 373.20,103.37 373.55,102.05 373.90,101.23 374.25,100.89 374.61,99.51 374.96,97.40 375.31,95.92 375.66,94.26 376.01,92.41 376.36,89.41 376.72,85.25 377.07,83.37 377.42,77.10 377.77,75.28 378.12,68.20 378.48,66.01 378.83,57.62 379.18,53.16 379.53,48.29 379.88,42.20 380.23,35.80 380.59,31.70 380.94,30.74 381.29,30.86 381.64,30.59 381.99,31.57 382.35,38.50 382.70,47.38 383.05,48.89 383.40,55.02 383.75,59.37 384.10,67.42 384.46,69.44 384.81,76.12 385.16,77.81 385.51,82.51 385.86,85.80 386.22,87.09 386.57,91.42 386.92,92.77 387.27,93.50 387.62,95.09 387.97,95.56 388.33,94.91 388.68,95.87 389.03,95.70 389.38,96.78 389.73,96.43 390.09,96.67 390.44,96.04 390.79,96.78 391.14,95.70 391.49,96.86 391.84,95.99 392.20,96.90 392.55,96.58 392.90,95.78 393.25,96.55 393.60,96.43 393.96,95.62 394.31,95.93 394.66,96.31 395.01,94.77 395.36,95.91 395.71,95.98 396.07,95.36 396.42,94.77 396.77,93.99 397.12,94.27 397.47,92.91 397.83,92.57 398.18,90.70 398.53,88.97 398.88,87.97 399.23,86.55 399.58,85.89 399.94,84.67 400.29,84.20 400.64,84.06 400.99,84.10 401.34,82.45 401.70,83.11 402.05,83.60 402.40,82.66 402.75,81.71 403.10,84.20 403.45,83.58 403.81,84.89 404.16,85.51 404.51,87.49 404.86,86.59 405.21,89.47 405.57,89.86 405.92,91.49 406.27,93.53 406.62,93.53 406.97,95.46 407.32,96.64 407.68,97.64 408.03,98.30 408.38,99.24 408.73,99.13 409.08,100.05 409.44,99.98 409.79,100.66 410.14,101.11 410.49,102.65 410.84,102.76 411.19,103.37 411.55,103.23 411.90,103.45 412.25,103.36 412.60,103.54 412.95,104.16 413.31,104.00 413.66,103.91 414.01,104.58 414.36,104.57 414.71,104.14 415.06,104.51 415.42,103.78 415.77,104.38 416.12,104.56 416.47,104.46 416.82,104.41 417.18,104.43 417.53,104.07 417.88,104.14 418.23,104.32 418.58,103.93 418.93,104.44 419.29,103.61 419.64,103.54 419.99,103.82 420.34,104.18 420.69,104.09 421.05,104.00 421.40,104.64 421.75,104.20 422.10,104.07 422.45,104.48 422.80,104.59 423.16,103.74 423.51,104.26 423.86,104.08 424.21,103.59 424.56,103.97 424.92,104.35 425.27,103.52 425.62,104.25 425.97,104.68 426.32,103.88 426.67,104.58 427.03,104.33 427.38,103.69 427.73,103.89 428.08,104.68 428.43,104.16 428.79,104.21 429.14,104.12 429.49,104.45 429.84,103.99 430.19,104.61 430.54,104.36 430.90,104.25 431.25,103.58 431.60,104.61" fill="none" stroke="#222" stroke-width="0.5"/>
<path d="M380.20,107.70 L382.20,107.70 L381.20,105.90 Z" fill="#111" stroke="none" stroke-width="0"/>
<path d="M401.20,107.70 L403.20,107.70 L402.20,105.90 Z" fill="#111" stroke="none" stroke-width="0"/>
<rect x="415.60" y="24.40" width="2.80" height="2.30" fill="#f01c10" stroke="#600" stroke-width="0.25"/>
<text x="419.20" y="26.60" font-size="2.7" text-anchor="start" fill="#3030d0">G0/G1</text>
<rect x="415.60" y="27.40" width="2.80" height="2.30" fill="#1414e6" stroke="#006" stroke-width="0.25"/>
<text x="419.20" y="29.60" font-size="2.7" text-anchor="start" fill="#3030d0">G2/M</text>
<rect x="415.60" y="30.40" width="2.80" height="2.30" fill="#f6fbf6" stroke="#333" stroke-width="0.25"/>
<text x="419.20" y="32.60" font-size="2.7" text-anchor="start" fill="#3030d0">S-Phase</text>
<text x="386.60" y="29.60" font-size="11.6" text-anchor="start" stroke="#111" stroke-width="0.22" fill="#111">10</text>
<g stroke="#333" stroke-width="0.6">
<line x1="241.50" y1="125.00" x2="241.50" y2="204.40"/>
<line x1="241.50" y1="204.40" x2="320.00" y2="204.40"/>
<line x1="239.30" y1="125.00" x2="241.50" y2="125.00"/>
<line x1="240.40" y1="127.65" x2="241.50" y2="127.65"/>
<line x1="240.40" y1="130.29" x2="241.50" y2="130.29"/>
<line x1="240.40" y1="132.94" x2="241.50" y2="132.94"/>
<line x1="240.40" y1="135.59" x2="241.50" y2="135.59"/>
<line x1="240.40" y1="138.23" x2="241.50" y2="138.23"/>
<line x1="239.30" y1="140.88" x2="241.50" y2="140.88"/>
<line x1="240.40" y1="143.53" x2="241.50" y2="143.53"/>
<line x1="240.40" y1="146.17" x2="241.50" y2="146.17"/>
<line x1="240.40" y1="148.82" x2="241.50" y2="148.82"/>
<line x1="240.40" y1="151.47" x2="241.50" y2="151.47"/>
<line x1="240.40" y1="154.11" x2="241.50" y2="154.11"/>
<line x1="239.30" y1="156.76" x2="241.50" y2="156.76"/>
<line x1="240.40" y1="159.41" x2="241.50" y2="159.41"/>
<line x1="240.40" y1="162.05" x2="241.50" y2="162.05"/>
<line x1="240.40" y1="164.70" x2="241.50" y2="164.70"/>
<line x1="240.40" y1="167.35" x2="241.50" y2="167.35"/>
<line x1="240.40" y1="169.99" x2="241.50" y2="169.99"/>
<line x1="239.30" y1="172.64" x2="241.50" y2="172.64"/>
<line x1="240.40" y1="175.29" x2="241.50" y2="175.29"/>
<line x1="240.40" y1="177.93" x2="241.50" y2="177.93"/>
<line x1="240.40" y1="180.58" x2="241.50" y2="180.58"/>
<line x1="240.40" y1="183.23" x2="241.50" y2="183.23"/>
<line x1="240.40" y1="185.87" x2="241.50" y2="185.87"/>
<line x1="239.30" y1="188.52" x2="241.50" y2="188.52"/>
<line x1="240.40" y1="191.17" x2="241.50" y2="191.17"/>
<line x1="240.40" y1="193.81" x2="241.50" y2="193.81"/>
<line x1="240.40" y1="196.46" x2="241.50" y2="196.46"/>
<line x1="240.40" y1="199.11" x2="241.50" y2="199.11"/>
<line x1="240.40" y1="201.75" x2="241.50" y2="201.75"/>
<line x1="239.30" y1="204.40" x2="241.50" y2="204.40"/>
<line x1="241.50" y1="204.40" x2="241.50" y2="206.60"/>
<line x1="245.43" y1="204.40" x2="245.43" y2="205.50"/>
<line x1="249.35" y1="204.40" x2="249.35" y2="205.50"/>
<line x1="253.28" y1="204.40" x2="253.28" y2="205.50"/>
<line x1="257.20" y1="204.40" x2="257.20" y2="205.50"/>
<line x1="261.12" y1="204.40" x2="261.12" y2="206.60"/>
<line x1="265.05" y1="204.40" x2="265.05" y2="205.50"/>
<line x1="268.98" y1="204.40" x2="268.98" y2="205.50"/>
<line x1="272.90" y1="204.40" x2="272.90" y2="205.50"/>
<line x1="276.82" y1="204.40" x2="276.82" y2="205.50"/>
<line x1="280.75" y1="204.40" x2="280.75" y2="206.60"/>
<line x1="284.68" y1="204.40" x2="284.68" y2="205.50"/>
<line x1="288.60" y1="204.40" x2="288.60" y2="205.50"/>
<line x1="292.52" y1="204.40" x2="292.52" y2="205.50"/>
<line x1="296.45" y1="204.40" x2="296.45" y2="205.50"/>
<line x1="300.38" y1="204.40" x2="300.38" y2="206.60"/>
<line x1="304.30" y1="204.40" x2="304.30" y2="205.50"/>
<line x1="308.23" y1="204.40" x2="308.23" y2="205.50"/>
<line x1="312.15" y1="204.40" x2="312.15" y2="205.50"/>
<line x1="316.07" y1="204.40" x2="316.07" y2="205.50"/>
<line x1="320.00" y1="204.40" x2="320.00" y2="206.60"/>
</g>
<text x="236.90" y="125.00" font-size="3.0" text-anchor="middle" fill="#555" transform="rotate(-90 236.90 125.00)">250</text>
<text x="236.90" y="140.88" font-size="3.0" text-anchor="middle" fill="#555" transform="rotate(-90 236.90 140.88)">200</text>
<text x="236.90" y="156.76" font-size="3.0" text-anchor="middle" fill="#555" transform="rotate(-90 236.90 156.76)">150</text>
<text x="236.90" y="172.64" font-size="3.0" text-anchor="middle" fill="#555" transform="rotate(-90 236.90 172.64)">100</text>
<text x="236.90" y="188.52" font-size="3.0" text-anchor="middle" fill="#555" transform="rotate(-90 236.90 188.52)">50</text>
<text x="236.90" y="204.40" font-size="3.0" text-anchor="middle" fill="#555" transform="rotate(-90 236.90 204.40)">0</text>
<text x="241.50" y="210.00" font-size="3.3" text-anchor="middle" fill="#555">0</text>
<text x="261.12" y="210.00" font-size="3.3" text-anchor="middle" fill="#555">50</text>
<text x="280.75" y="210.00" font-size="3.3" text-anchor="middle" fill="#555">100</text>
<text x="300.38" y="210.00" font-size="3.3" text-anchor="middle" fill="#555">150</text>
<text x="320.00" y="210.00" font-size="3.3" text-anchor="middle" fill="#555">200</text>
<text x="280.75" y="214.60" font-size="3.4" text-anchor="middle" fill="#555">FL3-A/PI-A</text>
<text x="232.30" y="164.70" font-size="3.3" text-anchor="middle" fill="#555" transform="rotate(-90 232.30 164.70)">Number</text>
<path d="M241.50,204.40 L241.50,204.40 L241.99,204.40 L242.48,204.40 L242.97,204.40 L243.46,204.40 L243.95,204.40 L244.44,204.40 L244.93,204.40 L245.43,204.40 L245.92,204.40 L246.41,204.40 L246.90,204.40 L247.39,204.40 L247.88,204.40 L248.37,204.40 L248.86,204.40 L249.35,204.40 L249.84,204.40 L250.33,204.40 L250.82,204.40 L251.31,204.40 L251.80,204.40 L252.29,204.40 L252.78,204.40 L253.28,204.40 L253.77,204.40 L254.26,204.40 L254.75,204.40 L255.24,204.40 L255.73,204.40 L256.22,204.40 L256.71,204.40 L257.20,204.40 L257.69,204.40 L258.18,204.40 L258.67,204.40 L259.16,204.40 L259.65,204.40 L260.14,204.40 L260.63,204.40 L261.12,204.40 L261.62,204.40 L262.11,204.40 L262.60,204.40 L263.09,204.40 L263.58,204.40 L264.07,204.39 L264.56,204.39 L265.05,204.38 L265.54,204.37 L266.03,204.35 L266.52,204.32 L267.01,204.26 L267.50,204.16 L267.99,203.99 L268.48,203.73 L268.98,203.31 L269.47,202.72 L269.96,201.93 L270.45,201.00 L270.94,200.07 L271.43,199.24 L271.92,198.60 L272.41,198.15 L272.90,197.85 L273.39,197.67 L273.88,197.56 L274.37,197.49 L274.86,197.45 L275.35,197.43 L275.84,197.42 L276.33,197.41 L276.82,197.41 L277.32,197.40 L277.81,197.40 L278.30,197.40 L278.79,197.40 L279.28,197.40 L279.77,197.40 L280.26,197.40 L280.75,197.40 L281.24,197.40 L281.73,197.40 L282.22,197.40 L282.71,197.40 L283.20,197.40 L283.69,197.41 L284.18,197.41 L284.68,197.41 L285.17,197.42 L285.66,197.43 L286.15,197.44 L286.64,197.45 L287.13,197.47 L287.62,197.50 L288.11,197.55 L288.60,197.61 L289.09,197.69 L289.58,197.80 L290.07,197.96 L290.56,198.16 L291.05,198.44 L291.54,198.79 L292.03,199.22 L292.52,199.73 L293.02,200.30 L293.51,200.91 L294.00,201.51 L294.49,202.09 L294.98,202.59 L295.47,203.02 L295.96,203.37 L296.45,203.64 L296.94,203.85 L297.43,204.00 L297.92,204.11 L298.41,204.20 L298.90,204.26 L299.39,204.30 L299.88,204.33 L300.38,204.35 L300.87,204.36 L301.36,204.37 L301.85,204.38 L302.34,204.39 L302.83,204.39 L303.32,204.39 L303.81,204.40 L304.30,204.40 L304.79,204.40 L305.28,204.40 L305.77,204.40 L306.26,204.40 L306.75,204.40 L307.24,204.40 L307.73,204.40 L308.23,204.40 L308.72,204.40 L309.21,204.40 L309.70,204.40 L310.19,204.40 L310.68,204.40 L311.17,204.40 L311.66,204.40 L312.15,204.40 L312.64,204.40 L313.13,204.40 L313.62,204.40 L314.11,204.40 L314.60,204.40 L315.09,204.40 L315.58,204.40 L316.07,204.40 L316.57,204.40 L317.06,204.40 L317.55,204.40 L318.04,204.40 L318.53,204.40 L319.02,204.40 L319.51,204.40 L320.00,204.40 L320.00,204.40 Z" fill="#d6f2dc" stroke="#4a7a4a" stroke-width="0.4"/>
<path d="M261.12,204.40 L261.12,203.77 L261.62,203.25 L262.11,202.40 L262.60,201.05 L263.09,199.01 L263.58,196.11 L264.07,192.16 L264.56,187.06 L265.05,180.84 L265.54,173.71 L266.03,166.06 L266.52,158.46 L267.01,151.60 L267.50,146.21 L267.99,142.89 L268.48,142.04 L268.98,143.77 L269.47,147.86 L269.96,153.83 L270.45,161.03 L270.94,168.72 L271.43,176.25 L271.92,183.10 L272.41,188.94 L272.90,193.64 L273.39,197.22 L273.88,199.80 L274.37,201.58 L274.86,202.74 L275.35,203.46 L275.84,203.89 L275.84,204.40 Z" fill="#f01c10" stroke="#6a1010" stroke-width="0.3"/>
<path d="M280.26,204.40 L280.26,204.36 L280.75,204.34 L281.24,204.30 L281.73,204.25 L282.22,204.19 L282.71,204.10 L283.20,203.98 L283.69,203.83 L284.18,203.63 L284.68,203.39 L285.17,203.11 L285.66,202.78 L286.15,202.40 L286.64,201.99 L287.13,201.55 L287.62,201.11 L288.11,200.67 L288.60,200.26 L289.09,199.91 L289.58,199.62 L290.07,199.42 L290.56,199.31 L291.05,199.31 L291.54,199.42 L292.03,199.63 L292.52,199.92 L293.02,200.28 L293.51,200.68 L294.00,201.12 L294.49,201.57 L294.98,202.00 L295.47,202.41 L295.96,202.79 L296.45,203.12 L296.94,203.40 L297.43,203.64 L297.92,203.83 L298.41,203.98 L298.90,204.10 L299.39,204.19 L299.88,204.26 L300.38,204.30 L300.87,204.34 L301.36,204.36 L301.36,204.40 Z" fill="#1414e6" stroke="#10106a" stroke-width="0.3"/>
<polyline points="242.50,204.20 242.85,204.20 243.20,204.20 243.54,204.13 243.89,204.08 244.24,204.20 244.59,204.20 244.93,203.73 245.28,204.20 245.63,204.20 245.98,203.42 246.32,204.01 246.67,203.52 247.02,203.90 247.37,203.65 247.72,204.19 248.06,203.55 248.41,203.22 248.76,203.59 249.11,203.28 249.45,203.32 249.80,204.01 250.15,203.14 250.50,203.31 250.85,203.63 251.19,203.93 251.54,202.90 251.89,203.35 252.24,203.04 252.58,202.83 252.93,203.02 253.28,202.76 253.63,203.38 253.97,202.88 254.32,203.30 254.67,202.71 255.02,202.77 255.37,203.71 255.71,203.66 256.06,203.56 256.41,202.65 256.76,203.29 257.10,203.06 257.45,203.45 257.80,203.20 258.15,203.34 258.50,203.38 258.84,203.09 259.19,203.08 259.54,202.68 259.89,202.92 260.23,202.58 260.58,202.60 260.93,202.34 261.28,202.61 261.62,202.85 261.97,201.23 262.32,200.11 262.67,198.90 263.02,197.77 263.36,195.45 263.71,193.87 264.06,189.48 264.41,186.43 264.75,183.10 265.10,179.28 265.45,171.44 265.80,165.21 266.15,163.25 266.49,153.52 266.84,148.93 267.19,143.82 267.54,136.86 267.88,128.98 268.23,125.58 268.58,131.03 268.93,129.98 269.27,138.10 269.62,139.74 269.97,148.11 270.32,151.30 270.67,156.77 271.01,164.39 271.36,167.68 271.71,174.92 272.06,179.93 272.40,182.45 272.75,187.27 273.10,188.30 273.45,188.80 273.80,189.29 274.14,190.72 274.49,191.47 274.84,190.86 275.19,192.04 275.53,191.54 275.88,191.83 276.23,192.66 276.58,192.75 276.93,192.85 277.27,192.87 277.62,193.09 277.97,193.29 278.32,193.37 278.66,193.12 279.01,193.78 279.36,194.00 279.71,193.77 280.05,194.47 280.40,194.50 280.75,193.79 281.10,194.44 281.45,194.50 281.79,195.25 282.14,194.84 282.49,194.72 282.84,195.50 283.18,194.83 283.53,194.88 283.88,195.68 284.23,195.01 284.57,195.29 284.92,194.98 285.27,195.40 285.62,194.84 285.97,194.71 286.31,195.69 286.66,195.53 287.01,194.40 287.36,193.75 287.70,194.74 288.05,194.18 288.40,193.72 288.75,194.00 289.10,193.19 289.44,192.57 289.79,191.86 290.14,190.99 290.49,191.33 290.83,191.17 291.18,190.61 291.53,192.51 291.88,192.10 292.23,192.59 292.57,194.32 292.92,195.48 293.27,195.45 293.62,197.46 293.96,198.50 294.31,198.97 294.66,199.35 295.01,201.00 295.35,201.28 295.70,201.79 296.05,201.53 296.40,202.44 296.75,202.14 297.09,203.25 297.44,203.09 297.79,202.74 298.14,202.49 298.48,203.08 298.83,203.40 299.18,203.55 299.53,203.07 299.88,203.50 300.22,202.76 300.57,202.73 300.92,203.53 301.27,203.42 301.61,202.79 301.96,202.99 302.31,202.79 302.66,203.35 303.00,203.61 303.35,203.42 303.70,202.82 304.05,203.45 304.40,203.36 304.74,203.28 305.09,203.27 305.44,203.29 305.79,202.67 306.13,203.59 306.48,203.78 306.83,202.65 307.18,202.73 307.52,202.60 307.87,203.26 308.22,202.65 308.57,202.67 308.92,203.52 309.26,202.89 309.61,202.78 309.96,202.99 310.31,203.17 310.65,203.44 311.00,203.38 311.35,203.52 311.70,203.71 312.05,203.09 312.39,203.45 312.74,202.82 313.09,203.74 313.44,202.71 313.78,202.96 314.13,202.69 314.48,202.72 314.83,202.71 315.18,203.10 315.52,203.78 315.87,202.90 316.22,203.59 316.57,203.44 316.91,203.00 317.26,203.17 317.61,203.30 317.96,202.67 318.30,203.06 318.65,203.39 319.00,203.49" fill="none" stroke="#222" stroke-width="0.5"/>
<path d="M267.40,206.80 L269.40,206.80 L268.40,205.00 Z" fill="#111" stroke="none" stroke-width="0"/>
<path d="M289.80,206.80 L291.80,206.80 L290.80,205.00 Z" fill="#111" stroke="none" stroke-width="0"/>
<rect x="303.90" y="123.40" width="2.80" height="2.30" fill="#f01c10" stroke="#600" stroke-width="0.25"/>
<text x="307.50" y="125.60" font-size="2.7" text-anchor="start" fill="#3030d0">G0/G1</text>
<rect x="303.90" y="126.40" width="2.80" height="2.30" fill="#1414e6" stroke="#006" stroke-width="0.25"/>
<text x="307.50" y="128.60" font-size="2.7" text-anchor="start" fill="#3030d0">G2/M</text>
<rect x="303.90" y="129.40" width="2.80" height="2.30" fill="#f6fbf6" stroke="#333" stroke-width="0.25"/>
<text x="307.50" y="131.60" font-size="2.7" text-anchor="start" fill="#3030d0">S-Phase</text>
<text x="277.60" y="133.80" font-size="11.6" text-anchor="start" stroke="#111" stroke-width="0.22" fill="#111">20</text>
<g stroke="#333" stroke-width="0.6">
<line x1="353.20" y1="125.00" x2="353.20" y2="204.40"/>
<line x1="353.20" y1="204.40" x2="432.10" y2="204.40"/>
<line x1="351.00" y1="125.00" x2="353.20" y2="125.00"/>
<line x1="352.10" y1="127.65" x2="353.20" y2="127.65"/>
<line x1="352.10" y1="130.29" x2="353.20" y2="130.29"/>
<line x1="352.10" y1="132.94" x2="353.20" y2="132.94"/>
<line x1="352.10" y1="135.59" x2="353.20" y2="135.59"/>
<line x1="352.10" y1="138.23" x2="353.20" y2="138.23"/>
<line x1="351.00" y1="140.88" x2="353.20" y2="140.88"/>
<line x1="352.10" y1="143.53" x2="353.20" y2="143.53"/>
<line x1="352.10" y1="146.17" x2="353.20" y2="146.17"/>
<line x1="352.10" y1="148.82" x2="353.20" y2="148.82"/>
<line x1="352.10" y1="151.47" x2="353.20" y2="151.47"/>
<line x1="352.10" y1="154.11" x2="353.20" y2="154.11"/>
<line x1="351.00" y1="156.76" x2="353.20" y2="156.76"/>
<line x1="352.10" y1="159.41" x2="353.20" y2="159.41"/>
<line x1="352.10" y1="162.05" x2="353.20" y2="162.05"/>
<line x1="352.10" y1="164.70" x2="353.20" y2="164.70"/>
<line x1="352.10" y1="167.35" x2="353.20" y2="167.35"/>
<line x1="352.10" y1="169.99" x2="353.20" y2="169.99"/>
<line x1="351.00" y1="172.64" x2="353.20" y2="172.64"/>
<line x1="352.10" y1="175.29" x2="353.20" y2="175.29"/>
<line x1="352.10" y1="177.93" x2="353.20" y2="177.93"/>
<line x1="352.10" y1="180.58" x2="353.20" y2="180.58"/>
<line x1="352.10" y1="183.23" x2="353.20" y2="183.23"/>
<line x1="352.10" y1="185.87" x2="353.20" y2="185.87"/>
<line x1="351.00" y1="188.52" x2="353.20" y2="188.52"/>
<line x1="352.10" y1="191.17" x2="353.20" y2="191.17"/>
<line x1="352.10" y1="193.81" x2="353.20" y2="193.81"/>
<line x1="352.10" y1="196.46" x2="353.20" y2="196.46"/>
<line x1="352.10" y1="199.11" x2="353.20" y2="199.11"/>
<line x1="352.10" y1="201.75" x2="353.20" y2="201.75"/>
<line x1="351.00" y1="204.40" x2="353.20" y2="204.40"/>
<line x1="353.20" y1="204.40" x2="353.20" y2="206.60"/>
<line x1="357.14" y1="204.40" x2="357.14" y2="205.50"/>
<line x1="361.09" y1="204.40" x2="361.09" y2="205.50"/>
<line x1="365.03" y1="204.40" x2="365.03" y2="205.50"/>
<line x1="368.98" y1="204.40" x2="368.98" y2="205.50"/>
<line x1="372.93" y1="204.40" x2="372.93" y2="206.60"/>
<line x1="376.87" y1="204.40" x2="376.87" y2="205.50"/>
<line x1="380.81" y1="204.40" x2="380.81" y2="205.50"/>
<line x1="384.76" y1="204.40" x2="384.76" y2="205.50"/>
<line x1="388.70" y1="204.40" x2="388.70" y2="205.50"/>
<line x1="392.65" y1="204.40" x2="392.65" y2="206.60"/>
<line x1="396.60" y1="204.40" x2="396.60" y2="205.50"/>
<line x1="400.54" y1="204.40" x2="400.54" y2="205.50"/>
<line x1="404.49" y1="204.40" x2="404.49" y2="205.50"/>
<line x1="408.43" y1="204.40" x2="408.43" y2="205.50"/>
<line x1="412.38" y1="204.40" x2="412.38" y2="206.60"/>
<line x1="416.32" y1="204.40" x2="416.32" y2="205.50"/>
<line x1="420.26" y1="204.40" x2="420.26" y2="205.50"/>
<line x1="424.21" y1="204.40" x2="424.21" y2="205.50"/>
<line x1="428.16" y1="204.40" x2="428.16" y2="205.50"/>
<line x1="432.10" y1="204.40" x2="432.10" y2="206.60"/>
</g>
<text x="348.60" y="125.00" font-size="3.0" text-anchor="middle" fill="#555" transform="rotate(-90 348.60 125.00)">250</text>
<text x="348.60" y="140.88" font-size="3.0" text-anchor="middle" fill="#555" transform="rotate(-90 348.60 140.88)">200</text>
<text x="348.60" y="156.76" font-size="3.0" text-anchor="middle" fill="#555" transform="rotate(-90 348.60 156.76)">150</text>
<text x="348.60" y="172.64" font-size="3.0" text-anchor="middle" fill="#555" transform="rotate(-90 348.60 172.64)">100</text>
<text x="348.60" y="188.52" font-size="3.0" text-anchor="middle" fill="#555" transform="rotate(-90 348.60 188.52)">50</text>
<text x="348.60" y="204.40" font-size="3.0" text-anchor="middle" fill="#555" transform="rotate(-90 348.60 204.40)">0</text>
<text x="353.20" y="210.00" font-size="3.3" text-anchor="middle" fill="#555">0</text>
<text x="372.93" y="210.00" font-size="3.3" text-anchor="middle" fill="#555">50</text>
<text x="392.65" y="210.00" font-size="3.3" text-anchor="middle" fill="#555">100</text>
<text x="412.38" y="210.00" font-size="3.3" text-anchor="middle" fill="#555">150</text>
<text x="432.10" y="210.00" font-size="3.3" text-anchor="middle" fill="#555">200</text>
<text x="392.65" y="214.60" font-size="3.4" text-anchor="middle" fill="#555">FL3-A/PI-A</text>
<text x="344.00" y="164.70" font-size="3.3" text-anchor="middle" fill="#555" transform="rotate(-90 344.00 164.70)">Number</text>
<path d="M353.20,204.40 L353.20,204.40 L353.69,204.40 L354.19,204.40 L354.68,204.40 L355.17,204.40 L355.67,204.40 L356.16,204.40 L356.65,204.40 L357.14,204.40 L357.64,204.40 L358.13,204.40 L358.62,204.40 L359.12,204.40 L359.61,204.40 L360.10,204.40 L360.60,204.40 L361.09,204.40 L361.58,204.40 L362.08,204.40 L362.57,204.40 L363.06,204.40 L363.56,204.40 L364.05,204.40 L364.54,204.40 L365.03,204.40 L365.53,204.40 L366.02,204.40 L366.51,204.40 L367.01,204.40 L367.50,204.40 L367.99,204.40 L368.49,204.40 L368.98,204.40 L369.47,204.40 L369.97,204.40 L370.46,204.40 L370.95,204.40 L371.45,204.40 L371.94,204.40 L372.43,204.40 L372.93,204.39 L373.42,204.39 L373.91,204.38 L374.40,204.36 L374.90,204.34 L375.39,204.29 L375.88,204.22 L376.38,204.09 L376.87,203.89 L377.36,203.56 L377.86,203.09 L378.35,202.44 L378.84,201.66 L379.34,200.85 L379.83,200.11 L380.32,199.52 L380.81,199.10 L381.31,198.83 L381.80,198.66 L382.29,198.55 L382.79,198.49 L383.28,198.45 L383.77,198.43 L384.27,198.42 L384.76,198.41 L385.25,198.41 L385.75,198.40 L386.24,198.40 L386.73,198.40 L387.23,198.40 L387.72,198.40 L388.21,198.40 L388.70,198.40 L389.20,198.40 L389.69,198.40 L390.18,198.40 L390.68,198.40 L391.17,198.41 L391.66,198.41 L392.16,198.41 L392.65,198.42 L393.14,198.42 L393.64,198.43 L394.13,198.44 L394.62,198.46 L395.12,198.49 L395.61,198.52 L396.10,198.58 L396.60,198.65 L397.09,198.75 L397.58,198.88 L398.07,199.06 L398.57,199.30 L399.06,199.60 L399.55,199.97 L400.05,200.42 L400.54,200.91 L401.03,201.44 L401.53,201.96 L402.02,202.45 L402.51,202.88 L403.01,203.24 L403.50,203.54 L403.99,203.77 L404.49,203.94 L404.98,204.07 L405.47,204.16 L405.96,204.23 L406.46,204.28 L406.95,204.32 L407.44,204.34 L407.94,204.36 L408.43,204.37 L408.92,204.38 L409.42,204.39 L409.91,204.39 L410.40,204.39 L410.90,204.39 L411.39,204.40 L411.88,204.40 L412.38,204.40 L412.87,204.40 L413.36,204.40 L413.85,204.40 L414.35,204.40 L414.84,204.40 L415.33,204.40 L415.83,204.40 L416.32,204.40 L416.81,204.40 L417.31,204.40 L417.80,204.40 L418.29,204.40 L418.79,204.40 L419.28,204.40 L419.77,204.40 L420.26,204.40 L420.76,204.40 L421.25,204.40 L421.74,204.40 L422.24,204.40 L422.73,204.40 L423.22,204.40 L423.72,204.40 L424.21,204.40 L424.70,204.40 L425.20,204.40 L425.69,204.40 L426.18,204.40 L426.68,204.40 L427.17,204.40 L427.66,204.40 L428.16,204.40 L428.65,204.40 L429.14,204.40 L429.63,204.40 L430.13,204.40 L430.62,204.40 L431.11,204.40 L431.61,204.40 L432.10,204.40 L432.10,204.40 Z" fill="#d6f2dc" stroke="#4a7a4a" stroke-width="0.4"/>
<path d="M369.97,204.40 L369.97,203.84 L370.46,203.38 L370.95,202.60 L371.45,201.37 L371.94,199.51 L372.43,196.82 L372.93,193.14 L373.42,188.37 L373.91,182.52 L374.40,175.76 L374.90,168.47 L375.39,161.19 L375.88,154.58 L376.38,149.33 L376.87,146.04 L377.36,145.12 L377.86,146.67 L378.35,150.51 L378.84,156.17 L379.34,163.02 L379.83,170.36 L380.32,177.56 L380.81,184.11 L381.31,189.70 L381.80,194.19 L382.29,197.60 L382.79,200.06 L383.28,201.74 L383.77,202.84 L384.27,203.52 L384.76,203.93 L384.76,204.40 Z" fill="#f01c10" stroke="#6a1010" stroke-width="0.3"/>
<path d="M385.75,204.40 L385.75,204.39 L386.24,204.38 L386.73,204.37 L387.23,204.36 L387.72,204.34 L388.21,204.31 L388.70,204.27 L389.20,204.21 L389.69,204.14 L390.18,204.05 L390.68,203.95 L391.17,203.83 L391.66,203.70 L392.16,203.56 L392.65,203.42 L393.14,203.29 L393.64,203.18 L394.13,203.09 L394.62,203.03 L395.12,203.00 L395.61,203.01 L396.10,203.06 L396.60,203.14 L397.09,203.25 L397.58,203.38 L398.07,203.52 L398.57,203.65 L399.06,203.79 L399.55,203.91 L400.05,204.02 L400.54,204.11 L401.03,204.19 L401.53,204.25 L402.02,204.29 L402.51,204.33 L403.01,204.35 L403.50,204.37 L403.99,204.38 L404.49,204.39 L404.49,204.40 Z" fill="#1414e6" stroke="#10106a" stroke-width="0.3"/>
<polyline points="354.20,204.20 354.55,204.20 354.90,204.20 355.25,204.20 355.60,204.20 355.95,204.20 356.30,203.67 356.65,203.78 357.00,203.78 357.35,204.20 357.70,203.97 358.05,204.20 358.39,204.20 358.74,204.20 359.09,204.16 359.44,203.25 359.79,203.32 360.14,203.29 360.49,203.25 360.84,203.93 361.19,203.75 361.54,203.33 361.89,203.17 362.24,202.99 362.59,202.93 362.94,203.86 363.29,203.21 363.64,203.11 363.99,203.29 364.34,203.67 364.69,203.30 365.04,203.75 365.39,202.73 365.74,202.80 366.08,203.18 366.43,203.47 366.78,202.73 367.13,203.13 367.48,202.75 367.83,202.78 368.18,203.18 368.53,203.27 368.88,203.02 369.23,203.18 369.58,203.45 369.93,203.18 370.28,202.41 370.63,202.91 370.98,202.20 371.33,200.41 371.68,199.63 372.03,197.56 372.38,195.56 372.73,193.24 373.08,188.67 373.43,187.00 373.77,182.34 374.12,178.48 374.47,171.94 374.82,167.94 375.17,161.75 375.52,153.41 375.87,148.96 376.22,140.88 376.57,132.72 376.92,133.46 377.27,132.01 377.62,132.11 377.97,132.30 378.32,138.58 378.67,146.88 379.02,152.50 379.37,159.09 379.72,163.24 380.07,170.00 380.42,172.37 380.77,176.33 381.12,180.42 381.46,184.76 381.81,187.00 382.16,189.93 382.51,190.34 382.86,190.09 383.21,191.14 383.56,192.29 383.91,192.10 384.26,192.98 384.61,192.98 384.96,193.86 385.31,194.20 385.66,194.10 386.01,194.66 386.36,194.55 386.71,194.03 387.06,194.95 387.41,195.50 387.76,195.60 388.11,195.59 388.46,194.97 388.81,195.61 389.15,195.82 389.50,196.17 389.85,195.17 390.20,195.97 390.55,196.34 390.90,196.63 391.25,196.72 391.60,196.66 391.95,196.01 392.30,196.70 392.65,196.81 393.00,196.12 393.35,196.39 393.70,195.24 394.05,196.46 394.40,195.83 394.75,195.46 395.10,196.03 395.45,195.25 395.80,196.12 396.15,196.63 396.50,196.58 396.84,197.34 397.19,197.03 397.54,197.54 397.89,196.93 398.24,197.31 398.59,198.08 398.94,198.95 399.29,198.94 399.64,199.28 399.99,199.67 400.34,200.03 400.69,199.64 401.04,200.96 401.39,201.49 401.74,200.81 402.09,201.63 402.44,201.46 402.79,202.48 403.14,202.15 403.49,202.62 403.84,202.53 404.19,202.64 404.53,202.99 404.88,203.51 405.23,203.40 405.58,202.62 405.93,202.61 406.28,202.60 406.63,203.32 406.98,202.95 407.33,202.78 407.68,202.98 408.03,202.78 408.38,203.13 408.73,202.98 409.08,202.95 409.43,203.45 409.78,202.67 410.13,202.63 410.48,203.69 410.83,202.61 411.18,202.63 411.53,202.98 411.88,203.73 412.22,202.71 412.57,203.63 412.92,202.62 413.27,202.99 413.62,203.72 413.97,203.59 414.32,203.03 414.67,203.11 415.02,202.89 415.37,202.68 415.72,203.53 416.07,203.79 416.42,202.69 416.77,203.78 417.12,202.74 417.47,203.65 417.82,202.82 418.17,202.86 418.52,202.74 418.87,203.13 419.22,202.74 419.56,203.55 419.91,202.99 420.26,203.40 420.61,202.73 420.96,202.87 421.31,203.23 421.66,203.17 422.01,203.77 422.36,203.76 422.71,203.08 423.06,203.21 423.41,202.76 423.76,203.07 424.11,203.63 424.46,203.36 424.81,202.88 425.16,203.17 425.51,203.79 425.86,202.79 426.21,202.81 426.56,203.70 426.91,203.15 427.25,203.34 427.60,202.85 427.95,203.43 428.30,203.52 428.65,203.22 429.00,202.64 429.35,203.69 429.70,203.66 430.05,203.05 430.40,202.74 430.75,203.18 431.10,203.28" fill="none" stroke="#222" stroke-width="0.5"/>
<path d="M376.30,206.80 L378.30,206.80 L377.30,205.00 Z" fill="#111" stroke="none" stroke-width="0"/>
<path d="M394.20,206.80 L396.20,206.80 L395.20,205.00 Z" fill="#111" stroke="none" stroke-width="0"/>
<rect x="415.60" y="123.40" width="2.80" height="2.30" fill="#f01c10" stroke="#600" stroke-width="0.25"/>
<text x="419.20" y="125.60" font-size="2.7" text-anchor="start" fill="#3030d0">G0/G1</text>
<rect x="415.60" y="126.40" width="2.80" height="2.30" fill="#1414e6" stroke="#006" stroke-width="0.25"/>
<text x="419.20" y="128.60" font-size="2.7" text-anchor="start" fill="#3030d0">G2/M</text>
<rect x="415.60" y="129.40" width="2.80" height="2.30" fill="#f6fbf6" stroke="#333" stroke-width="0.25"/>
<text x="419.20" y="131.60" font-size="2.7" text-anchor="start" fill="#3030d0">S-Phase</text>
<text x="385.80" y="133.80" font-size="11.6" text-anchor="start" stroke="#111" stroke-width="0.22" fill="#111">40</text>
<g stroke="#333" stroke-width="0.6">
<line x1="478.20" y1="26.00" x2="478.20" y2="105.70"/>
<line x1="478.20" y1="105.70" x2="557.20" y2="105.70"/>
<line x1="476.00" y1="26.00" x2="478.20" y2="26.00"/>
<line x1="477.10" y1="28.66" x2="478.20" y2="28.66"/>
<line x1="477.10" y1="31.31" x2="478.20" y2="31.31"/>
<line x1="477.10" y1="33.97" x2="478.20" y2="33.97"/>
<line x1="477.10" y1="36.63" x2="478.20" y2="36.63"/>
<line x1="477.10" y1="39.28" x2="478.20" y2="39.28"/>
<line x1="476.00" y1="41.94" x2="478.20" y2="41.94"/>
<line x1="477.10" y1="44.60" x2="478.20" y2="44.60"/>
<line x1="477.10" y1="47.25" x2="478.20" y2="47.25"/>
<line x1="477.10" y1="49.91" x2="478.20" y2="49.91"/>
<line x1="477.10" y1="52.57" x2="478.20" y2="52.57"/>
<line x1="477.10" y1="55.22" x2="478.20" y2="55.22"/>
<line x1="476.00" y1="57.88" x2="478.20" y2="57.88"/>
<line x1="477.10" y1="60.54" x2="478.20" y2="60.54"/>
<line x1="477.10" y1="63.19" x2="478.20" y2="63.19"/>
<line x1="477.10" y1="65.85" x2="478.20" y2="65.85"/>
<line x1="477.10" y1="68.51" x2="478.20" y2="68.51"/>
<line x1="477.10" y1="71.16" x2="478.20" y2="71.16"/>
<line x1="476.00" y1="73.82" x2="478.20" y2="73.82"/>
<line x1="477.10" y1="76.48" x2="478.20" y2="76.48"/>
<line x1="477.10" y1="79.13" x2="478.20" y2="79.13"/>
<line x1="477.10" y1="81.79" x2="478.20" y2="81.79"/>
<line x1="477.10" y1="84.45" x2="478.20" y2="84.45"/>
<line x1="477.10" y1="87.10" x2="478.20" y2="87.10"/>
<line x1="476.00" y1="89.76" x2="478.20" y2="89.76"/>
<line x1="477.10" y1="92.42" x2="478.20" y2="92.42"/>
<line x1="477.10" y1="95.07" x2="478.20" y2="95.07"/>
<line x1="477.10" y1="97.73" x2="478.20" y2="97.73"/>
<line x1="477.10" y1="100.39" x2="478.20" y2="100.39"/>
<line x1="477.10" y1="103.04" x2="478.20" y2="103.04"/>
<line x1="476.00" y1="105.70" x2="478.20" y2="105.70"/>
<line x1="478.20" y1="105.70" x2="478.20" y2="107.90"/>
<line x1="482.15" y1="105.70" x2="482.15" y2="106.80"/>
<line x1="486.10" y1="105.70" x2="486.10" y2="106.80"/>
<line x1="490.05" y1="105.70" x2="490.05" y2="106.80"/>
<line x1="494.00" y1="105.70" x2="494.00" y2="106.80"/>
<line x1="497.95" y1="105.70" x2="497.95" y2="107.90"/>
<line x1="501.90" y1="105.70" x2="501.90" y2="106.80"/>
<line x1="505.85" y1="105.70" x2="505.85" y2="106.80"/>
<line x1="509.80" y1="105.70" x2="509.80" y2="106.80"/>
<line x1="513.75" y1="105.70" x2="513.75" y2="106.80"/>
<line x1="517.70" y1="105.70" x2="517.70" y2="107.90"/>
<line x1="521.65" y1="105.70" x2="521.65" y2="106.80"/>
<line x1="525.60" y1="105.70" x2="525.60" y2="106.80"/>
<line x1="529.55" y1="105.70" x2="529.55" y2="106.80"/>
<line x1="533.50" y1="105.70" x2="533.50" y2="106.80"/>
<line x1="537.45" y1="105.70" x2="537.45" y2="107.90"/>
<line x1="541.40" y1="105.70" x2="541.40" y2="106.80"/>
<line x1="545.35" y1="105.70" x2="545.35" y2="106.80"/>
<line x1="549.30" y1="105.70" x2="549.30" y2="106.80"/>
<line x1="553.25" y1="105.70" x2="553.25" y2="106.80"/>
<line x1="557.20" y1="105.70" x2="557.20" y2="107.90"/>
</g>
<text x="473.60" y="26.00" font-size="3.0" text-anchor="middle" fill="#555" transform="rotate(-90 473.60 26.00)">250</text>
<text x="473.60" y="41.94" font-size="3.0" text-anchor="middle" fill="#555" transform="rotate(-90 473.60 41.94)">200</text>
<text x="473.60" y="57.88" font-size="3.0" text-anchor="middle" fill="#555" transform="rotate(-90 473.60 57.88)">150</text>
<text x="473.60" y="73.82" font-size="3.0" text-anchor="middle" fill="#555" transform="rotate(-90 473.60 73.82)">100</text>
<text x="473.60" y="89.76" font-size="3.0" text-anchor="middle" fill="#555" transform="rotate(-90 473.60 89.76)">50</text>
<text x="473.60" y="105.70" font-size="3.0" text-anchor="middle" fill="#555" transform="rotate(-90 473.60 105.70)">0</text>
<text x="478.20" y="111.30" font-size="3.3" text-anchor="middle" fill="#555">0</text>
<text x="497.95" y="111.30" font-size="3.3" text-anchor="middle" fill="#555">50</text>
<text x="517.70" y="111.30" font-size="3.3" text-anchor="middle" fill="#555">100</text>
<text x="537.45" y="111.30" font-size="3.3" text-anchor="middle" fill="#555">150</text>
<text x="557.20" y="111.30" font-size="3.3" text-anchor="middle" fill="#555">200</text>
<text x="517.70" y="115.90" font-size="3.4" text-anchor="middle" fill="#555">FL3-A/PI-A</text>
<text x="469.00" y="65.85" font-size="3.3" text-anchor="middle" fill="#555" transform="rotate(-90 469.00 65.85)">Number</text>
<path d="M478.20,105.70 L478.20,105.70 L478.69,105.70 L479.19,105.70 L479.68,105.70 L480.18,105.70 L480.67,105.70 L481.16,105.70 L481.66,105.70 L482.15,105.70 L482.64,105.70 L483.14,105.70 L483.63,105.70 L484.12,105.70 L484.62,105.70 L485.11,105.70 L485.61,105.70 L486.10,105.70 L486.59,105.70 L487.09,105.70 L487.58,105.70 L488.07,105.70 L488.57,105.70 L489.06,105.70 L489.56,105.70 L490.05,105.70 L490.54,105.70 L491.04,105.70 L491.53,105.70 L492.02,105.70 L492.52,105.70 L493.01,105.70 L493.51,105.70 L494.00,105.70 L494.49,105.70 L494.99,105.70 L495.48,105.70 L495.98,105.70 L496.47,105.70 L496.96,105.70 L497.46,105.70 L497.95,105.70 L498.44,105.70 L498.94,105.70 L499.43,105.69 L499.93,105.69 L500.42,105.68 L500.91,105.67 L501.41,105.64 L501.90,105.60 L502.39,105.52 L502.89,105.39 L503.38,105.18 L503.88,104.84 L504.37,104.30 L504.86,103.50 L505.36,102.42 L505.85,101.12 L506.34,99.76 L506.84,98.53 L507.33,97.56 L507.82,96.86 L508.32,96.41 L508.81,96.12 L509.31,95.95 L509.80,95.85 L510.29,95.79 L510.79,95.76 L511.28,95.75 L511.78,95.74 L512.27,95.75 L512.76,95.76 L513.26,95.78 L513.75,95.82 L514.24,95.86 L514.74,95.93 L515.23,96.02 L515.73,96.15 L516.22,96.33 L516.71,96.57 L517.21,96.90 L517.70,97.32 L518.19,97.86 L518.69,98.51 L519.18,99.28 L519.68,100.12 L520.17,101.00 L520.66,101.86 L521.16,102.65 L521.65,103.35 L522.14,103.92 L522.64,104.38 L523.13,104.73 L523.62,105.00 L524.12,105.20 L524.61,105.34 L525.11,105.45 L525.60,105.52 L526.09,105.57 L526.59,105.61 L527.08,105.64 L527.58,105.66 L528.07,105.67 L528.56,105.68 L529.06,105.68 L529.55,105.69 L530.04,105.69 L530.54,105.69 L531.03,105.70 L531.52,105.70 L532.02,105.70 L532.51,105.70 L533.01,105.70 L533.50,105.70 L533.99,105.70 L534.49,105.70 L534.98,105.70 L535.48,105.70 L535.97,105.70 L536.46,105.70 L536.96,105.70 L537.45,105.70 L537.94,105.70 L538.44,105.70 L538.93,105.70 L539.43,105.70 L539.92,105.70 L540.41,105.70 L540.91,105.70 L541.40,105.70 L541.89,105.70 L542.39,105.70 L542.88,105.70 L543.38,105.70 L543.87,105.70 L544.36,105.70 L544.86,105.70 L545.35,105.70 L545.84,105.70 L546.34,105.70 L546.83,105.70 L547.33,105.70 L547.82,105.70 L548.31,105.70 L548.81,105.70 L549.30,105.70 L549.79,105.70 L550.29,105.70 L550.78,105.70 L551.28,105.70 L551.77,105.70 L552.26,105.70 L552.76,105.70 L553.25,105.70 L553.74,105.70 L554.24,105.70 L554.73,105.70 L555.23,105.70 L555.72,105.70 L556.21,105.70 L556.71,105.70 L557.20,105.70 L557.20,105.70 Z" fill="#d6f2dc" stroke="#4a7a4a" stroke-width="0.4"/>
<path d="M496.47,105.70 L496.47,105.15 L496.96,104.74 L497.46,104.09 L497.95,103.09 L498.44,101.62 L498.94,99.56 L499.43,96.78 L499.93,93.20 L500.42,88.80 L500.91,83.66 L501.41,77.98 L501.90,72.07 L502.39,66.34 L502.89,61.27 L503.38,57.32 L503.88,54.88 L504.37,54.22 L504.86,55.39 L505.36,58.28 L505.85,62.58 L506.34,67.89 L506.84,73.71 L507.33,79.60 L507.82,85.16 L508.32,90.10 L508.81,94.28 L509.31,97.63 L509.80,100.20 L510.29,102.09 L510.79,103.41 L511.28,104.30 L511.78,104.87 L512.27,105.23 L512.27,105.70 Z" fill="#f01c10" stroke="#6a1010" stroke-width="0.3"/>
<path d="M510.79,105.70 L510.79,105.54 L511.28,105.46 L511.78,105.35 L512.27,105.19 L512.76,104.98 L513.26,104.69 L513.75,104.30 L514.24,103.80 L514.74,103.17 L515.23,102.39 L515.73,101.43 L516.22,100.29 L516.71,98.95 L517.21,97.43 L517.70,95.74 L518.19,93.90 L518.69,91.96 L519.18,89.96 L519.68,87.98 L520.17,86.08 L520.66,84.34 L521.16,82.84 L521.65,81.64 L522.14,80.80 L522.64,80.36 L523.13,80.35 L523.62,80.76 L524.12,81.57 L524.61,82.75 L525.11,84.24 L525.60,85.97 L526.09,87.86 L526.59,89.84 L527.08,91.83 L527.58,93.78 L528.07,95.63 L528.56,97.33 L529.06,98.86 L529.55,100.21 L530.04,101.36 L530.54,102.33 L531.03,103.13 L531.52,103.77 L532.02,104.27 L532.51,104.66 L533.01,104.96 L533.50,105.18 L533.99,105.34 L534.49,105.46 L534.98,105.54 L534.98,105.70 Z" fill="#1414e6" stroke="#10106a" stroke-width="0.3"/>
<polyline points="479.20,105.46 479.55,105.30 479.90,105.22 480.25,105.02 480.60,105.24 480.95,105.00 481.30,105.50 481.65,105.48 482.00,104.87 482.35,105.18 482.70,104.83 483.05,105.50 483.40,105.26 483.75,105.47 484.10,105.06 484.45,104.97 484.80,105.50 485.15,105.30 485.50,105.18 485.85,104.37 486.20,104.50 486.55,105.19 486.90,104.39 487.25,105.15 487.60,104.54 487.95,105.11 488.30,105.23 488.65,104.17 489.00,104.95 489.35,104.93 489.70,103.99 490.05,104.11 490.40,104.80 490.75,103.99 491.10,104.49 491.45,104.32 491.80,104.88 492.15,103.99 492.50,104.29 492.85,103.95 493.20,104.04 493.55,104.75 493.90,104.67 494.25,104.89 494.60,104.90 494.95,104.98 495.30,104.67 495.65,104.27 496.00,104.95 496.35,104.04 496.70,104.36 497.05,104.11 497.40,102.87 497.75,102.57 498.10,101.83 498.45,100.35 498.80,98.43 499.15,97.70 499.50,93.66 499.85,93.05 500.20,88.33 500.55,84.59 500.90,83.32 501.25,76.75 501.60,73.89 501.95,68.33 502.30,65.86 502.65,60.51 503.00,54.51 503.35,45.28 503.70,45.30 504.05,39.58 504.40,37.98 504.75,39.43 505.10,46.08 505.45,50.46 505.80,54.56 506.15,58.43 506.50,66.28 506.85,68.10 507.20,72.26 507.55,76.15 507.90,82.41 508.25,83.30 508.60,88.53 508.95,90.66 509.30,91.70 509.65,91.81 510.00,93.34 510.35,92.88 510.70,93.81 511.05,94.42 511.40,94.62 511.75,94.95 512.10,95.08 512.45,94.99 512.80,94.30 513.15,93.88 513.50,94.90 513.85,94.97 514.20,93.56 514.55,94.07 514.90,94.12 515.25,94.23 515.60,93.49 515.95,92.90 516.30,93.36 516.65,93.23 517.00,93.78 517.35,91.11 517.70,91.66 518.05,89.03 518.40,86.43 518.75,86.46 519.10,82.77 519.45,79.95 519.80,78.68 520.15,75.86 520.50,75.93 520.85,72.60 521.20,71.63 521.55,67.20 521.90,67.85 522.25,66.17 522.60,63.39 522.95,63.88 523.30,63.73 523.65,66.68 524.00,67.88 524.35,68.70 524.70,71.72 525.05,74.70 525.40,76.74 525.75,80.09 526.10,81.80 526.45,82.37 526.80,84.83 527.15,87.96 527.50,90.31 527.85,92.52 528.20,94.72 528.55,95.77 528.90,96.06 529.25,97.12 529.60,99.13 529.95,99.34 530.30,100.21 530.65,101.08 531.00,101.77 531.35,102.19 531.70,103.23 532.05,103.17 532.40,104.08 532.75,104.09 533.10,103.82 533.45,103.99 533.80,104.54 534.15,103.78 534.50,104.19 534.85,104.30 535.20,105.02 535.55,104.38 535.90,104.76 536.25,104.26 536.60,104.52 536.95,104.10 537.30,104.31 537.65,104.13 538.00,104.68 538.35,104.32 538.70,104.21 539.05,104.10 539.40,104.68 539.75,104.09 540.10,104.06 540.45,104.27 540.80,103.93 541.15,103.95 541.50,104.48 541.85,104.46 542.20,104.90 542.55,104.10 542.90,103.98 543.25,104.53 543.60,104.27 543.95,104.24 544.30,104.22 544.65,104.89 545.00,104.16 545.35,104.40 545.70,104.30 546.05,104.60 546.40,104.35 546.75,104.17 547.10,104.34 547.45,104.24 547.80,105.07 548.15,104.91 548.50,104.57 548.85,104.32 549.20,104.84 549.55,104.28 549.90,104.34 550.25,105.05 550.60,104.53 550.95,104.83 551.30,105.04 551.65,104.94 552.00,104.72 552.35,104.88 552.70,104.87 553.05,105.06 553.40,104.54 553.75,104.64 554.10,104.37 554.45,104.39 554.80,104.81 555.15,104.02 555.50,105.10 555.85,104.61 556.20,104.77" fill="none" stroke="#222" stroke-width="0.5"/>
<path d="M503.30,108.10 L505.30,108.10 L504.30,106.30 Z" fill="#111" stroke="none" stroke-width="0"/>
<path d="M521.90,108.10 L523.90,108.10 L522.90,106.30 Z" fill="#111" stroke="none" stroke-width="0"/>
<rect x="540.60" y="24.40" width="2.80" height="2.30" fill="#f01c10" stroke="#600" stroke-width="0.25"/>
<text x="544.20" y="26.60" font-size="2.7" text-anchor="start" fill="#3030d0">G0/G1</text>
<rect x="540.60" y="27.40" width="2.80" height="2.30" fill="#1414e6" stroke="#006" stroke-width="0.25"/>
<text x="544.20" y="29.60" font-size="2.7" text-anchor="start" fill="#3030d0">G2/M</text>
<rect x="540.60" y="30.40" width="2.80" height="2.30" fill="#f6fbf6" stroke="#333" stroke-width="0.25"/>
<text x="544.20" y="32.60" font-size="2.7" text-anchor="start" fill="#3030d0">S-Phase</text>
<text x="515.40" y="29.60" font-size="11.6" text-anchor="start" stroke="#111" stroke-width="0.22" fill="#111">0</text>
<g stroke="#333" stroke-width="0.6">
<line x1="585.00" y1="26.00" x2="585.00" y2="105.70"/>
<line x1="585.00" y1="105.70" x2="663.60" y2="105.70"/>
<line x1="582.80" y1="26.00" x2="585.00" y2="26.00"/>
<line x1="583.90" y1="28.66" x2="585.00" y2="28.66"/>
<line x1="583.90" y1="31.31" x2="585.00" y2="31.31"/>
<line x1="583.90" y1="33.97" x2="585.00" y2="33.97"/>
<line x1="583.90" y1="36.63" x2="585.00" y2="36.63"/>
<line x1="583.90" y1="39.28" x2="585.00" y2="39.28"/>
<line x1="582.80" y1="41.94" x2="585.00" y2="41.94"/>
<line x1="583.90" y1="44.60" x2="585.00" y2="44.60"/>
<line x1="583.90" y1="47.25" x2="585.00" y2="47.25"/>
<line x1="583.90" y1="49.91" x2="585.00" y2="49.91"/>
<line x1="583.90" y1="52.57" x2="585.00" y2="52.57"/>
<line x1="583.90" y1="55.22" x2="585.00" y2="55.22"/>
<line x1="582.80" y1="57.88" x2="585.00" y2="57.88"/>
<line x1="583.90" y1="60.54" x2="585.00" y2="60.54"/>
<line x1="583.90" y1="63.19" x2="585.00" y2="63.19"/>
<line x1="583.90" y1="65.85" x2="585.00" y2="65.85"/>
<line x1="583.90" y1="68.51" x2="585.00" y2="68.51"/>
<line x1="583.90" y1="71.16" x2="585.00" y2="71.16"/>
<line x1="582.80" y1="73.82" x2="585.00" y2="73.82"/>
<line x1="583.90" y1="76.48" x2="585.00" y2="76.48"/>
<line x1="583.90" y1="79.13" x2="585.00" y2="79.13"/>
<line x1="583.90" y1="81.79" x2="585.00" y2="81.79"/>
<line x1="583.90" y1="84.45" x2="585.00" y2="84.45"/>
<line x1="583.90" y1="87.10" x2="585.00" y2="87.10"/>
<line x1="582.80" y1="89.76" x2="585.00" y2="89.76"/>
<line x1="583.90" y1="92.42" x2="585.00" y2="92.42"/>
<line x1="583.90" y1="95.07" x2="585.00" y2="95.07"/>
<line x1="583.90" y1="97.73" x2="585.00" y2="97.73"/>
<line x1="583.90" y1="100.39" x2="585.00" y2="100.39"/>
<line x1="583.90" y1="103.04" x2="585.00" y2="103.04"/>
<line x1="582.80" y1="105.70" x2="585.00" y2="105.70"/>
<line x1="585.00" y1="105.70" x2="585.00" y2="107.90"/>
<line x1="588.93" y1="105.70" x2="588.93" y2="106.80"/>
<line x1="592.86" y1="105.70" x2="592.86" y2="106.80"/>
<line x1="596.79" y1="105.70" x2="596.79" y2="106.80"/>
<line x1="600.72" y1="105.70" x2="600.72" y2="106.80"/>
<line x1="604.65" y1="105.70" x2="604.65" y2="107.90"/>
<line x1="608.58" y1="105.70" x2="608.58" y2="106.80"/>
<line x1="612.51" y1="105.70" x2="612.51" y2="106.80"/>
<line x1="616.44" y1="105.70" x2="616.44" y2="106.80"/>
<line x1="620.37" y1="105.70" x2="620.37" y2="106.80"/>
<line x1="624.30" y1="105.70" x2="624.30" y2="107.90"/>
<line x1="628.23" y1="105.70" x2="628.23" y2="106.80"/>
<line x1="632.16" y1="105.70" x2="632.16" y2="106.80"/>
<line x1="636.09" y1="105.70" x2="636.09" y2="106.80"/>
<line x1="640.02" y1="105.70" x2="640.02" y2="106.80"/>
<line x1="643.95" y1="105.70" x2="643.95" y2="107.90"/>
<line x1="647.88" y1="105.70" x2="647.88" y2="106.80"/>
<line x1="651.81" y1="105.70" x2="651.81" y2="106.80"/>
<line x1="655.74" y1="105.70" x2="655.74" y2="106.80"/>
<line x1="659.67" y1="105.70" x2="659.67" y2="106.80"/>
<line x1="663.60" y1="105.70" x2="663.60" y2="107.90"/>
</g>
<text x="580.40" y="26.00" font-size="3.0" text-anchor="middle" fill="#555" transform="rotate(-90 580.40 26.00)">250</text>
<text x="580.40" y="41.94" font-size="3.0" text-anchor="middle" fill="#555" transform="rotate(-90 580.40 41.94)">200</text>
<text x="580.40" y="57.88" font-size="3.0" text-anchor="middle" fill="#555" transform="rotate(-90 580.40 57.88)">150</text>
<text x="580.40" y="73.82" font-size="3.0" text-anchor="middle" fill="#555" transform="rotate(-90 580.40 73.82)">100</text>
<text x="580.40" y="89.76" font-size="3.0" text-anchor="middle" fill="#555" transform="rotate(-90 580.40 89.76)">50</text>
<text x="580.40" y="105.70" font-size="3.0" text-anchor="middle" fill="#555" transform="rotate(-90 580.40 105.70)">0</text>
<text x="585.00" y="111.30" font-size="3.3" text-anchor="middle" fill="#555">0</text>
<text x="600.72" y="111.30" font-size="3.3" text-anchor="middle" fill="#555">50</text>
<text x="616.44" y="111.30" font-size="3.3" text-anchor="middle" fill="#555">100</text>
<text x="632.16" y="111.30" font-size="3.3" text-anchor="middle" fill="#555">150</text>
<text x="647.88" y="111.30" font-size="3.3" text-anchor="middle" fill="#555">200</text>
<text x="663.60" y="111.30" font-size="3.3" text-anchor="middle" fill="#555">250</text>
<text x="624.30" y="115.90" font-size="3.4" text-anchor="middle" fill="#555">FL3-A/PI-A</text>
<text x="575.80" y="65.85" font-size="3.3" text-anchor="middle" fill="#555" transform="rotate(-90 575.80 65.85)">Number</text>
<path d="M585.00,105.70 L585.00,105.70 L585.49,105.70 L585.98,105.70 L586.47,105.70 L586.97,105.70 L587.46,105.70 L587.95,105.70 L588.44,105.70 L588.93,105.70 L589.42,105.70 L589.91,105.70 L590.40,105.70 L590.89,105.70 L591.39,105.70 L591.88,105.70 L592.37,105.70 L592.86,105.70 L593.35,105.70 L593.84,105.70 L594.33,105.70 L594.83,105.70 L595.32,105.70 L595.81,105.70 L596.30,105.70 L596.79,105.70 L597.28,105.70 L597.77,105.70 L598.26,105.70 L598.75,105.70 L599.25,105.70 L599.74,105.70 L600.23,105.70 L600.72,105.70 L601.21,105.70 L601.70,105.70 L602.19,105.70 L602.69,105.70 L603.18,105.70 L603.67,105.70 L604.16,105.70 L604.65,105.70 L605.14,105.70 L605.63,105.70 L606.12,105.70 L606.62,105.70 L607.11,105.70 L607.60,105.70 L608.09,105.69 L608.58,105.69 L609.07,105.68 L609.56,105.66 L610.05,105.64 L610.54,105.59 L611.04,105.51 L611.53,105.38 L612.02,105.16 L612.51,104.81 L613.00,104.27 L613.49,103.48 L613.98,102.46 L614.48,101.26 L614.97,100.06 L615.46,99.01 L615.95,98.20 L616.44,97.63 L616.93,97.27 L617.42,97.04 L617.91,96.90 L618.40,96.82 L618.90,96.77 L619.39,96.74 L619.88,96.73 L620.37,96.72 L620.86,96.72 L621.35,96.72 L621.84,96.73 L622.34,96.74 L622.83,96.75 L623.32,96.78 L623.81,96.81 L624.30,96.85 L624.79,96.91 L625.28,97.00 L625.77,97.12 L626.26,97.28 L626.76,97.51 L627.25,97.81 L627.74,98.19 L628.23,98.68 L628.72,99.28 L629.21,99.97 L629.70,100.73 L630.20,101.51 L630.69,102.28 L631.18,102.99 L631.67,103.60 L632.16,104.11 L632.65,104.52 L633.14,104.84 L633.63,105.08 L634.12,105.25 L634.62,105.38 L635.11,105.47 L635.60,105.54 L636.09,105.59 L636.58,105.62 L637.07,105.64 L637.56,105.66 L638.06,105.67 L638.55,105.68 L639.04,105.69 L639.53,105.69 L640.02,105.69 L640.51,105.70 L641.00,105.70 L641.49,105.70 L641.99,105.70 L642.48,105.70 L642.97,105.70 L643.46,105.70 L643.95,105.70 L644.44,105.70 L644.93,105.70 L645.42,105.70 L645.91,105.70 L646.41,105.70 L646.90,105.70 L647.39,105.70 L647.88,105.70 L648.37,105.70 L648.86,105.70 L649.35,105.70 L649.85,105.70 L650.34,105.70 L650.83,105.70 L651.32,105.70 L651.81,105.70 L652.30,105.70 L652.79,105.70 L653.28,105.70 L653.77,105.70 L654.27,105.70 L654.76,105.70 L655.25,105.70 L655.74,105.70 L656.23,105.70 L656.72,105.70 L657.21,105.70 L657.71,105.70 L658.20,105.70 L658.69,105.70 L659.18,105.70 L659.67,105.70 L660.16,105.70 L660.65,105.70 L661.14,105.70 L661.63,105.70 L662.13,105.70 L662.62,105.70 L663.11,105.70 L663.60,105.70 L663.60,105.70 Z" fill="#d6f2dc" stroke="#4a7a4a" stroke-width="0.4"/>
<path d="M605.14,105.70 L605.14,105.19 L605.63,104.76 L606.12,104.04 L606.62,102.88 L607.11,101.09 L607.60,98.49 L608.09,94.88 L608.58,90.13 L609.07,84.22 L609.56,77.28 L610.05,69.64 L610.54,61.83 L611.04,54.51 L611.53,48.42 L612.02,44.23 L612.51,42.44 L613.00,43.28 L613.49,46.63 L613.98,52.09 L614.48,59.05 L614.97,66.77 L615.46,74.54 L615.95,81.79 L616.44,88.10 L616.93,93.28 L617.42,97.29 L617.91,100.24 L618.40,102.30 L618.90,103.67 L619.39,104.54 L619.88,105.06 L619.88,105.70 Z" fill="#f01c10" stroke="#6a1010" stroke-width="0.3"/>
<path d="M621.84,105.70 L621.84,105.57 L622.34,105.50 L622.83,105.42 L623.32,105.30 L623.81,105.14 L624.30,104.93 L624.79,104.66 L625.28,104.32 L625.77,103.89 L626.26,103.36 L626.76,102.73 L627.25,101.99 L627.74,101.13 L628.23,100.17 L628.72,99.12 L629.21,97.98 L629.70,96.79 L630.20,95.57 L630.69,94.38 L631.18,93.24 L631.67,92.20 L632.16,91.31 L632.65,90.59 L633.14,90.10 L633.63,89.84 L634.12,89.83 L634.62,90.07 L635.11,90.54 L635.60,91.24 L636.09,92.12 L636.58,93.15 L637.07,94.28 L637.56,95.47 L638.06,96.69 L638.55,97.88 L639.04,99.02 L639.53,100.09 L640.02,101.06 L640.51,101.92 L641.00,102.67 L641.49,103.31 L641.99,103.85 L642.48,104.28 L642.97,104.63 L643.46,104.91 L643.95,105.13 L644.44,105.29 L644.93,105.41 L645.42,105.50 L645.91,105.56 L645.91,105.70 Z" fill="#1414e6" stroke="#10106a" stroke-width="0.3"/>
<polyline points="586.00,105.26 586.35,105.21 586.70,105.50 587.04,105.50 587.39,105.50 587.74,105.31 588.09,105.50 588.44,105.13 588.79,105.50 589.13,105.04 589.48,105.50 589.83,104.91 590.18,104.95 590.53,105.27 590.87,105.07 591.22,104.85 591.57,105.38 591.92,104.90 592.27,104.55 592.62,105.15 592.96,104.46 593.31,104.56 593.66,104.34 594.01,104.92 594.36,105.18 594.70,104.30 595.05,104.27 595.40,104.69 595.75,105.09 596.10,104.95 596.45,104.41 596.79,104.81 597.14,104.01 597.49,104.44 597.84,104.90 598.19,104.35 598.53,104.69 598.88,104.00 599.23,104.03 599.58,104.50 599.93,104.34 600.28,104.27 600.62,104.14 600.97,103.94 601.32,105.07 601.67,104.67 602.02,104.38 602.36,104.73 602.71,104.39 603.06,104.98 603.41,104.02 603.76,104.43 604.11,104.90 604.45,104.20 604.80,104.56 605.15,104.62 605.50,104.13 605.85,104.13 606.19,103.32 606.54,101.43 606.89,100.35 607.24,99.78 607.59,96.35 607.94,95.22 608.28,91.47 608.63,86.33 608.98,82.78 609.33,79.05 609.68,73.63 610.02,67.97 610.37,63.16 610.72,52.12 611.07,50.31 611.42,41.09 611.77,32.41 612.11,29.52 612.46,22.88 612.81,28.13 613.16,26.36 613.51,32.34 613.85,40.34 614.20,46.02 614.55,55.11 614.90,59.46 615.25,65.50 615.60,72.01 615.94,77.09 616.29,80.89 616.64,85.73 616.99,89.93 617.34,91.49 617.68,93.89 618.03,94.12 618.38,94.17 618.73,95.45 619.08,95.92 619.43,95.99 619.77,95.48 620.12,95.76 620.47,95.88 620.82,95.64 621.17,95.06 621.51,95.89 621.86,95.70 622.21,95.14 622.56,95.47 622.91,95.91 623.26,95.67 623.60,95.69 623.95,96.14 624.30,95.88 624.65,96.01 625.00,95.31 625.34,95.93 625.69,95.43 626.04,94.95 626.39,94.98 626.74,95.79 627.09,95.45 627.43,95.94 627.78,95.87 628.13,95.79 628.48,95.29 628.83,94.12 629.17,94.46 629.52,94.05 629.87,91.94 630.22,91.63 630.57,90.42 630.92,87.17 631.26,87.47 631.61,84.42 631.96,84.04 632.31,81.13 632.66,80.27 633.00,81.67 633.35,80.62 633.70,77.99 634.05,78.97 634.40,79.86 634.75,79.41 635.09,80.25 635.44,82.36 635.79,83.79 636.14,86.29 636.49,87.14 636.83,89.29 637.18,89.66 637.53,91.26 637.88,93.80 638.23,94.08 638.58,96.46 638.92,97.57 639.27,97.55 639.62,98.84 639.97,98.93 640.32,100.17 640.66,100.74 641.01,102.24 641.36,101.70 641.71,103.26 642.06,102.90 642.41,102.86 642.75,103.19 643.10,103.49 643.45,104.19 643.80,103.95 644.15,103.89 644.49,104.76 644.84,103.80 645.19,103.87 645.54,104.47 645.89,104.08 646.24,104.50 646.58,104.72 646.93,104.21 647.28,105.00 647.63,104.12 647.98,103.91 648.32,104.75 648.67,103.96 649.02,104.99 649.37,104.07 649.72,104.76 650.07,103.94 650.41,104.58 650.76,103.99 651.11,105.06 651.46,105.00 651.81,104.12 652.15,104.33 652.50,104.46 652.85,105.06 653.20,104.89 653.55,104.66 653.90,105.04 654.24,103.91 654.59,104.18 654.94,103.96 655.29,104.26 655.64,104.69 655.98,105.01 656.33,104.22 656.68,104.96 657.03,104.44 657.38,104.54 657.73,104.51 658.07,105.01 658.42,105.01 658.77,104.48 659.12,105.06 659.47,104.47 659.81,104.92 660.16,104.76 660.51,104.92 660.86,104.42 661.21,104.63 661.56,104.83 661.90,104.83 662.25,104.42 662.60,104.01" fill="none" stroke="#222" stroke-width="0.5"/>
<path d="M611.60,108.10 L613.60,108.10 L612.60,106.30 Z" fill="#111" stroke="none" stroke-width="0"/>
<path d="M632.90,108.10 L634.90,108.10 L633.90,106.30 Z" fill="#111" stroke="none" stroke-width="0"/>
<rect x="647.40" y="24.40" width="2.80" height="2.30" fill="#f01c10" stroke="#600" stroke-width="0.25"/>
<text x="651.00" y="26.60" font-size="2.7" text-anchor="start" fill="#3030d0">G0/G1</text>
<rect x="647.40" y="27.40" width="2.80" height="2.30" fill="#1414e6" stroke="#006" stroke-width="0.25"/>
<text x="651.00" y="29.60" font-size="2.7" text-anchor="start" fill="#3030d0">G2/M</text>
<rect x="647.40" y="30.40" width="2.80" height="2.30" fill="#f6fbf6" stroke="#333" stroke-width="0.25"/>
<text x="651.00" y="32.60" font-size="2.7" text-anchor="start" fill="#3030d0">S-Phase</text>
<text x="623.80" y="29.40" font-size="11.6" text-anchor="start" stroke="#111" stroke-width="0.22" fill="#111">10</text>
<g stroke="#333" stroke-width="0.6">
<line x1="478.20" y1="125.60" x2="478.20" y2="204.40"/>
<line x1="478.20" y1="204.40" x2="556.60" y2="204.40"/>
<line x1="476.00" y1="125.60" x2="478.20" y2="125.60"/>
<line x1="477.10" y1="128.23" x2="478.20" y2="128.23"/>
<line x1="477.10" y1="130.85" x2="478.20" y2="130.85"/>
<line x1="477.10" y1="133.48" x2="478.20" y2="133.48"/>
<line x1="477.10" y1="136.11" x2="478.20" y2="136.11"/>
<line x1="477.10" y1="138.73" x2="478.20" y2="138.73"/>
<line x1="476.00" y1="141.36" x2="478.20" y2="141.36"/>
<line x1="477.10" y1="143.99" x2="478.20" y2="143.99"/>
<line x1="477.10" y1="146.61" x2="478.20" y2="146.61"/>
<line x1="477.10" y1="149.24" x2="478.20" y2="149.24"/>
<line x1="477.10" y1="151.87" x2="478.20" y2="151.87"/>
<line x1="477.10" y1="154.49" x2="478.20" y2="154.49"/>
<line x1="476.00" y1="157.12" x2="478.20" y2="157.12"/>
<line x1="477.10" y1="159.75" x2="478.20" y2="159.75"/>
<line x1="477.10" y1="162.37" x2="478.20" y2="162.37"/>
<line x1="477.10" y1="165.00" x2="478.20" y2="165.00"/>
<line x1="477.10" y1="167.63" x2="478.20" y2="167.63"/>
<line x1="477.10" y1="170.25" x2="478.20" y2="170.25"/>
<line x1="476.00" y1="172.88" x2="478.20" y2="172.88"/>
<line x1="477.10" y1="175.51" x2="478.20" y2="175.51"/>
<line x1="477.10" y1="178.13" x2="478.20" y2="178.13"/>
<line x1="477.10" y1="180.76" x2="478.20" y2="180.76"/>
<line x1="477.10" y1="183.39" x2="478.20" y2="183.39"/>
<line x1="477.10" y1="186.01" x2="478.20" y2="186.01"/>
<line x1="476.00" y1="188.64" x2="478.20" y2="188.64"/>
<line x1="477.10" y1="191.27" x2="478.20" y2="191.27"/>
<line x1="477.10" y1="193.89" x2="478.20" y2="193.89"/>
<line x1="477.10" y1="196.52" x2="478.20" y2="196.52"/>
<line x1="477.10" y1="199.15" x2="478.20" y2="199.15"/>
<line x1="477.10" y1="201.77" x2="478.20" y2="201.77"/>
<line x1="476.00" y1="204.40" x2="478.20" y2="204.40"/>
<line x1="478.20" y1="204.40" x2="478.20" y2="206.60"/>
<line x1="482.12" y1="204.40" x2="482.12" y2="205.50"/>
<line x1="486.04" y1="204.40" x2="486.04" y2="205.50"/>
<line x1="489.96" y1="204.40" x2="489.96" y2="205.50"/>
<line x1="493.88" y1="204.40" x2="493.88" y2="205.50"/>
<line x1="497.80" y1="204.40" x2="497.80" y2="206.60"/>
<line x1="501.72" y1="204.40" x2="501.72" y2="205.50"/>
<line x1="505.64" y1="204.40" x2="505.64" y2="205.50"/>
<line x1="509.56" y1="204.40" x2="509.56" y2="205.50"/>
<line x1="513.48" y1="204.40" x2="513.48" y2="205.50"/>
<line x1="517.40" y1="204.40" x2="517.40" y2="206.60"/>
<line x1="521.32" y1="204.40" x2="521.32" y2="205.50"/>
<line x1="525.24" y1="204.40" x2="525.24" y2="205.50"/>
<line x1="529.16" y1="204.40" x2="529.16" y2="205.50"/>
<line x1="533.08" y1="204.40" x2="533.08" y2="205.50"/>
<line x1="537.00" y1="204.40" x2="537.00" y2="206.60"/>
<line x1="540.92" y1="204.40" x2="540.92" y2="205.50"/>
<line x1="544.84" y1="204.40" x2="544.84" y2="205.50"/>
<line x1="548.76" y1="204.40" x2="548.76" y2="205.50"/>
<line x1="552.68" y1="204.40" x2="552.68" y2="205.50"/>
<line x1="556.60" y1="204.40" x2="556.60" y2="206.60"/>
</g>
<text x="473.60" y="125.60" font-size="3.0" text-anchor="middle" fill="#555" transform="rotate(-90 473.60 125.60)">250</text>
<text x="473.60" y="141.36" font-size="3.0" text-anchor="middle" fill="#555" transform="rotate(-90 473.60 141.36)">200</text>
<text x="473.60" y="157.12" font-size="3.0" text-anchor="middle" fill="#555" transform="rotate(-90 473.60 157.12)">150</text>
<text x="473.60" y="172.88" font-size="3.0" text-anchor="middle" fill="#555" transform="rotate(-90 473.60 172.88)">100</text>
<text x="473.60" y="188.64" font-size="3.0" text-anchor="middle" fill="#555" transform="rotate(-90 473.60 188.64)">50</text>
<text x="473.60" y="204.40" font-size="3.0" text-anchor="middle" fill="#555" transform="rotate(-90 473.60 204.40)">0</text>
<text x="478.20" y="210.00" font-size="3.3" text-anchor="middle" fill="#555">0</text>
<text x="497.80" y="210.00" font-size="3.3" text-anchor="middle" fill="#555">50</text>
<text x="517.40" y="210.00" font-size="3.3" text-anchor="middle" fill="#555">100</text>
<text x="537.00" y="210.00" font-size="3.3" text-anchor="middle" fill="#555">150</text>
<text x="556.60" y="210.00" font-size="3.3" text-anchor="middle" fill="#555">200</text>
<text x="517.40" y="214.60" font-size="3.4" text-anchor="middle" fill="#555">FL3-A/PI-A</text>
<text x="469.00" y="165.00" font-size="3.3" text-anchor="middle" fill="#555" transform="rotate(-90 469.00 165.00)">Number</text>
<path d="M478.20,204.40 L478.20,204.40 L478.69,204.40 L479.18,204.40 L479.67,204.40 L480.16,204.40 L480.65,204.40 L481.14,204.40 L481.63,204.40 L482.12,204.40 L482.61,204.40 L483.10,204.40 L483.59,204.40 L484.08,204.40 L484.57,204.40 L485.06,204.40 L485.55,204.40 L486.04,204.40 L486.53,204.40 L487.02,204.40 L487.51,204.40 L488.00,204.40 L488.49,204.40 L488.98,204.40 L489.47,204.40 L489.96,204.40 L490.45,204.40 L490.94,204.40 L491.43,204.40 L491.92,204.40 L492.41,204.40 L492.90,204.40 L493.39,204.40 L493.88,204.40 L494.37,204.40 L494.86,204.40 L495.35,204.40 L495.84,204.40 L496.33,204.40 L496.82,204.40 L497.31,204.40 L497.80,204.40 L498.29,204.40 L498.78,204.39 L499.27,204.39 L499.76,204.38 L500.25,204.36 L500.74,204.34 L501.23,204.30 L501.72,204.22 L502.21,204.10 L502.70,203.90 L503.19,203.57 L503.68,203.09 L504.17,202.41 L504.66,201.55 L505.15,200.61 L505.64,199.71 L506.13,198.95 L506.62,198.39 L507.11,198.01 L507.60,197.77 L508.09,197.62 L508.58,197.53 L509.07,197.48 L509.56,197.44 L510.05,197.43 L510.54,197.42 L511.03,197.41 L511.52,197.41 L512.01,197.41 L512.50,197.41 L512.99,197.41 L513.48,197.41 L513.97,197.41 L514.46,197.42 L514.95,197.42 L515.44,197.43 L515.93,197.44 L516.42,197.46 L516.91,197.49 L517.40,197.53 L517.89,197.58 L518.38,197.65 L518.87,197.75 L519.36,197.88 L519.85,198.07 L520.34,198.31 L520.83,198.63 L521.32,199.02 L521.81,199.50 L522.30,200.04 L522.79,200.64 L523.28,201.25 L523.77,201.84 L524.26,202.38 L524.75,202.84 L525.24,203.22 L525.73,203.53 L526.22,203.76 L526.71,203.94 L527.20,204.07 L527.69,204.16 L528.18,204.23 L528.67,204.28 L529.16,204.32 L529.65,204.34 L530.14,204.36 L530.63,204.37 L531.12,204.38 L531.61,204.39 L532.10,204.39 L532.59,204.39 L533.08,204.39 L533.57,204.40 L534.06,204.40 L534.55,204.40 L535.04,204.40 L535.53,204.40 L536.02,204.40 L536.51,204.40 L537.00,204.40 L537.49,204.40 L537.98,204.40 L538.47,204.40 L538.96,204.40 L539.45,204.40 L539.94,204.40 L540.43,204.40 L540.92,204.40 L541.41,204.40 L541.90,204.40 L542.39,204.40 L542.88,204.40 L543.37,204.40 L543.86,204.40 L544.35,204.40 L544.84,204.40 L545.33,204.40 L545.82,204.40 L546.31,204.40 L546.80,204.40 L547.29,204.40 L547.78,204.40 L548.27,204.40 L548.76,204.40 L549.25,204.40 L549.74,204.40 L550.23,204.40 L550.72,204.40 L551.21,204.40 L551.70,204.40 L552.19,204.40 L552.68,204.40 L553.17,204.40 L553.66,204.40 L554.15,204.40 L554.64,204.40 L555.13,204.40 L555.62,204.40 L556.11,204.40 L556.60,204.40 L556.60,204.40 Z" fill="#d6f2dc" stroke="#4a7a4a" stroke-width="0.4"/>
<path d="M496.82,204.40 L496.82,203.88 L497.31,203.32 L497.80,202.29 L498.29,200.53 L498.78,197.71 L499.27,193.51 L499.76,187.71 L500.25,180.31 L500.74,171.66 L501.23,162.49 L501.72,153.88 L502.21,147.05 L502.70,143.09 L503.19,142.68 L503.68,145.88 L504.17,152.15 L504.66,160.47 L505.15,169.61 L505.64,178.46 L506.13,186.18 L506.62,192.35 L507.11,196.89 L507.60,200.00 L508.09,201.97 L508.58,203.13 L509.07,203.78 L509.07,204.40 Z" fill="#f01c10" stroke="#6a1010" stroke-width="0.3"/>
<path d="M516.42,204.40 L516.42,204.37 L516.91,204.34 L517.40,204.30 L517.89,204.23 L518.38,204.13 L518.87,203.99 L519.36,203.78 L519.85,203.50 L520.34,203.15 L520.83,202.72 L521.32,202.21 L521.81,201.65 L522.30,201.07 L522.79,200.51 L523.28,200.01 L523.77,199.62 L524.26,199.37 L524.75,199.30 L525.24,199.41 L525.73,199.68 L526.22,200.10 L526.71,200.62 L527.20,201.19 L527.69,201.77 L528.18,202.32 L528.67,202.81 L529.16,203.23 L529.65,203.57 L530.14,203.83 L530.63,204.02 L531.12,204.16 L531.61,204.25 L532.10,204.31 L532.59,204.35 L532.59,204.40 Z" fill="#1414e6" stroke="#10106a" stroke-width="0.3"/>
<polyline points="479.20,204.20 479.55,204.20 479.89,204.09 480.24,204.20 480.59,204.19 480.94,204.20 481.28,204.20 481.63,204.13 481.98,204.20 482.33,204.14 482.67,204.20 483.02,204.20 483.37,204.01 483.71,203.48 484.06,204.20 484.41,204.10 484.76,203.56 485.10,203.13 485.45,203.53 485.80,203.70 486.15,202.96 486.49,204.03 486.84,203.02 487.19,203.67 487.53,203.82 487.88,203.82 488.23,203.57 488.58,202.94 488.92,203.69 489.27,203.19 489.62,203.11 489.97,203.42 490.31,203.20 490.66,203.77 491.01,203.77 491.35,203.59 491.70,203.01 492.05,203.31 492.40,203.44 492.74,203.11 493.09,203.27 493.44,203.45 493.79,202.86 494.13,202.97 494.48,203.51 494.83,203.11 495.17,203.16 495.52,202.72 495.87,202.87 496.22,203.35 496.56,202.43 496.91,203.38 497.26,202.71 497.61,201.49 497.95,201.20 498.30,199.17 498.65,197.80 498.99,193.96 499.34,190.21 499.69,186.33 500.04,180.43 500.38,176.42 500.73,168.83 501.08,162.52 501.43,155.63 501.77,149.30 502.12,140.63 502.47,134.63 502.81,134.38 503.16,133.12 503.51,139.34 503.86,140.18 504.20,146.31 504.55,150.89 504.90,158.08 505.25,166.32 505.59,171.63 505.94,176.11 506.29,182.58 506.63,184.47 506.98,186.09 507.33,187.12 507.68,188.06 508.02,187.79 508.37,189.33 508.72,189.73 509.07,189.92 509.41,189.62 509.76,190.88 510.11,190.71 510.45,190.86 510.80,190.72 511.15,191.05 511.50,191.24 511.84,192.17 512.19,192.22 512.54,192.50 512.89,192.07 513.23,192.17 513.58,193.32 513.93,193.46 514.27,193.56 514.62,193.72 514.97,193.57 515.32,193.59 515.66,194.12 516.01,194.57 516.36,194.21 516.71,194.40 517.05,194.30 517.40,193.96 517.75,194.41 518.09,194.77 518.44,194.79 518.79,194.88 519.14,195.84 519.48,194.95 519.83,195.31 520.18,195.36 520.53,195.60 520.87,196.34 521.22,196.50 521.57,197.14 521.91,196.45 522.26,197.56 522.61,197.11 522.96,195.94 523.30,195.12 523.65,193.95 524.00,193.85 524.35,193.58 524.69,193.23 525.04,193.62 525.39,193.73 525.73,195.28 526.08,194.76 526.43,196.41 526.78,198.35 527.12,199.20 527.47,199.96 527.82,200.74 528.17,201.77 528.51,201.25 528.86,201.52 529.21,202.63 529.55,202.84 529.90,203.44 530.25,203.48 530.60,203.22 530.94,203.36 531.29,202.69 531.64,203.51 531.99,203.69 532.33,202.57 532.68,203.08 533.03,203.55 533.37,203.07 533.72,203.70 534.07,203.10 534.42,202.56 534.76,202.70 535.11,202.91 535.46,203.43 535.81,203.31 536.15,203.55 536.50,202.83 536.85,203.12 537.19,202.82 537.54,203.36 537.89,203.49 538.24,202.79 538.58,202.58 538.93,202.74 539.28,202.80 539.63,202.79 539.97,202.88 540.32,203.50 540.67,203.15 541.01,203.35 541.36,203.74 541.71,203.74 542.06,203.44 542.40,203.47 542.75,202.95 543.10,202.63 543.45,203.25 543.79,202.66 544.14,202.60 544.49,202.64 544.83,203.35 545.18,203.52 545.53,203.51 545.88,203.55 546.22,203.54 546.57,203.04 546.92,202.71 547.27,202.78 547.61,203.22 547.96,203.01 548.31,202.83 548.65,203.69 549.00,203.00 549.35,202.70 549.70,202.85 550.04,202.89 550.39,203.22 550.74,203.58 551.09,202.85 551.43,203.40 551.78,202.83 552.13,202.63 552.47,203.32 552.82,203.31 553.17,202.66 553.52,202.93 553.86,203.59 554.21,203.64 554.56,203.62 554.91,202.71 555.25,202.83 555.60,203.62" fill="none" stroke="#222" stroke-width="0.5"/>
<path d="M502.00,206.80 L504.00,206.80 L503.00,205.00 Z" fill="#111" stroke="none" stroke-width="0"/>
<path d="M523.70,206.80 L525.70,206.80 L524.70,205.00 Z" fill="#111" stroke="none" stroke-width="0"/>
<rect x="540.60" y="124.00" width="2.80" height="2.30" fill="#f01c10" stroke="#600" stroke-width="0.25"/>
<text x="544.20" y="126.20" font-size="2.7" text-anchor="start" fill="#3030d0">G0/G1</text>
<rect x="540.60" y="127.00" width="2.80" height="2.30" fill="#1414e6" stroke="#006" stroke-width="0.25"/>
<text x="544.20" y="129.20" font-size="2.7" text-anchor="start" fill="#3030d0">G2/M</text>
<rect x="540.60" y="130.00" width="2.80" height="2.30" fill="#f6fbf6" stroke="#333" stroke-width="0.25"/>
<text x="544.20" y="132.20" font-size="2.7" text-anchor="start" fill="#3030d0">S-Phase</text>
<text x="514.80" y="134.00" font-size="11.6" text-anchor="start" stroke="#111" stroke-width="0.22" fill="#111">20</text>
<g stroke="#333" stroke-width="0.6">
<line x1="584.60" y1="125.60" x2="584.60" y2="204.40"/>
<line x1="584.60" y1="204.40" x2="663.60" y2="204.40"/>
<line x1="582.40" y1="125.60" x2="584.60" y2="125.60"/>
<line x1="583.50" y1="128.23" x2="584.60" y2="128.23"/>
<line x1="583.50" y1="130.85" x2="584.60" y2="130.85"/>
<line x1="583.50" y1="133.48" x2="584.60" y2="133.48"/>
<line x1="583.50" y1="136.11" x2="584.60" y2="136.11"/>
<line x1="583.50" y1="138.73" x2="584.60" y2="138.73"/>
<line x1="582.40" y1="141.36" x2="584.60" y2="141.36"/>
<line x1="583.50" y1="143.99" x2="584.60" y2="143.99"/>
<line x1="583.50" y1="146.61" x2="584.60" y2="146.61"/>
<line x1="583.50" y1="149.24" x2="584.60" y2="149.24"/>
<line x1="583.50" y1="151.87" x2="584.60" y2="151.87"/>
<line x1="583.50" y1="154.49" x2="584.60" y2="154.49"/>
<line x1="582.40" y1="157.12" x2="584.60" y2="157.12"/>
<line x1="583.50" y1="159.75" x2="584.60" y2="159.75"/>
<line x1="583.50" y1="162.37" x2="584.60" y2="162.37"/>
<line x1="583.50" y1="165.00" x2="584.60" y2="165.00"/>
<line x1="583.50" y1="167.63" x2="584.60" y2="167.63"/>
<line x1="583.50" y1="170.25" x2="584.60" y2="170.25"/>
<line x1="582.40" y1="172.88" x2="584.60" y2="172.88"/>
<line x1="583.50" y1="175.51" x2="584.60" y2="175.51"/>
<line x1="583.50" y1="178.13" x2="584.60" y2="178.13"/>
<line x1="583.50" y1="180.76" x2="584.60" y2="180.76"/>
<line x1="583.50" y1="183.39" x2="584.60" y2="183.39"/>
<line x1="583.50" y1="186.01" x2="584.60" y2="186.01"/>
<line x1="582.40" y1="188.64" x2="584.60" y2="188.64"/>
<line x1="583.50" y1="191.27" x2="584.60" y2="191.27"/>
<line x1="583.50" y1="193.89" x2="584.60" y2="193.89"/>
<line x1="583.50" y1="196.52" x2="584.60" y2="196.52"/>
<line x1="583.50" y1="199.15" x2="584.60" y2="199.15"/>
<line x1="583.50" y1="201.77" x2="584.60" y2="201.77"/>
<line x1="582.40" y1="204.40" x2="584.60" y2="204.40"/>
<line x1="584.60" y1="204.40" x2="584.60" y2="206.60"/>
<line x1="588.55" y1="204.40" x2="588.55" y2="205.50"/>
<line x1="592.50" y1="204.40" x2="592.50" y2="205.50"/>
<line x1="596.45" y1="204.40" x2="596.45" y2="205.50"/>
<line x1="600.40" y1="204.40" x2="600.40" y2="205.50"/>
<line x1="604.35" y1="204.40" x2="604.35" y2="206.60"/>
<line x1="608.30" y1="204.40" x2="608.30" y2="205.50"/>
<line x1="612.25" y1="204.40" x2="612.25" y2="205.50"/>
<line x1="616.20" y1="204.40" x2="616.20" y2="205.50"/>
<line x1="620.15" y1="204.40" x2="620.15" y2="205.50"/>
<line x1="624.10" y1="204.40" x2="624.10" y2="206.60"/>
<line x1="628.05" y1="204.40" x2="628.05" y2="205.50"/>
<line x1="632.00" y1="204.40" x2="632.00" y2="205.50"/>
<line x1="635.95" y1="204.40" x2="635.95" y2="205.50"/>
<line x1="639.90" y1="204.40" x2="639.90" y2="205.50"/>
<line x1="643.85" y1="204.40" x2="643.85" y2="206.60"/>
<line x1="647.80" y1="204.40" x2="647.80" y2="205.50"/>
<line x1="651.75" y1="204.40" x2="651.75" y2="205.50"/>
<line x1="655.70" y1="204.40" x2="655.70" y2="205.50"/>
<line x1="659.65" y1="204.40" x2="659.65" y2="205.50"/>
<line x1="663.60" y1="204.40" x2="663.60" y2="206.60"/>
</g>
<text x="580.00" y="125.60" font-size="3.0" text-anchor="middle" fill="#555" transform="rotate(-90 580.00 125.60)">250</text>
<text x="580.00" y="141.36" font-size="3.0" text-anchor="middle" fill="#555" transform="rotate(-90 580.00 141.36)">200</text>
<text x="580.00" y="157.12" font-size="3.0" text-anchor="middle" fill="#555" transform="rotate(-90 580.00 157.12)">150</text>
<text x="580.00" y="172.88" font-size="3.0" text-anchor="middle" fill="#555" transform="rotate(-90 580.00 172.88)">100</text>
<text x="580.00" y="188.64" font-size="3.0" text-anchor="middle" fill="#555" transform="rotate(-90 580.00 188.64)">50</text>
<text x="580.00" y="204.40" font-size="3.0" text-anchor="middle" fill="#555" transform="rotate(-90 580.00 204.40)">0</text>
<text x="584.60" y="210.00" font-size="3.3" text-anchor="middle" fill="#555">0</text>
<text x="600.40" y="210.00" font-size="3.3" text-anchor="middle" fill="#555">50</text>
<text x="616.20" y="210.00" font-size="3.3" text-anchor="middle" fill="#555">100</text>
<text x="632.00" y="210.00" font-size="3.3" text-anchor="middle" fill="#555">150</text>
<text x="647.80" y="210.00" font-size="3.3" text-anchor="middle" fill="#555">200</text>
<text x="663.60" y="210.00" font-size="3.3" text-anchor="middle" fill="#555">250</text>
<text x="624.10" y="214.60" font-size="3.4" text-anchor="middle" fill="#555">FL3-A/PI-A</text>
<text x="575.40" y="165.00" font-size="3.3" text-anchor="middle" fill="#555" transform="rotate(-90 575.40 165.00)">Number</text>
<path d="M584.60,204.40 L584.60,204.40 L585.09,204.40 L585.59,204.40 L586.08,204.40 L586.58,204.40 L587.07,204.40 L587.56,204.40 L588.06,204.40 L588.55,204.40 L589.04,204.40 L589.54,204.40 L590.03,204.40 L590.52,204.40 L591.02,204.40 L591.51,204.40 L592.01,204.40 L592.50,204.40 L592.99,204.40 L593.49,204.40 L593.98,204.40 L594.48,204.40 L594.97,204.40 L595.46,204.40 L595.96,204.40 L596.45,204.40 L596.94,204.40 L597.44,204.40 L597.93,204.40 L598.43,204.40 L598.92,204.40 L599.41,204.40 L599.91,204.40 L600.40,204.40 L600.89,204.40 L601.39,204.39 L601.88,204.39 L602.38,204.38 L602.87,204.36 L603.36,204.34 L603.86,204.29 L604.35,204.22 L604.84,204.10 L605.34,203.91 L605.83,203.63 L606.33,203.25 L606.82,202.78 L607.31,202.29 L607.81,201.84 L608.30,201.49 L608.79,201.23 L609.29,201.06 L609.78,200.96 L610.27,200.90 L610.77,200.86 L611.26,200.84 L611.76,200.83 L612.25,200.82 L612.74,200.83 L613.24,200.83 L613.73,200.84 L614.23,200.86 L614.72,200.88 L615.21,200.91 L615.71,200.96 L616.20,201.02 L616.69,201.11 L617.19,201.23 L617.68,201.38 L618.18,201.57 L618.67,201.80 L619.16,202.08 L619.66,202.38 L620.15,202.70 L620.64,203.01 L621.14,203.29 L621.63,203.54 L622.12,203.75 L622.62,203.92 L623.11,204.05 L623.61,204.15 L624.10,204.22 L624.59,204.27 L625.09,204.31 L625.58,204.33 L626.08,204.35 L626.57,204.37 L627.06,204.38 L627.56,204.38 L628.05,204.39 L628.54,204.39 L629.04,204.39 L629.53,204.40 L630.02,204.40 L630.52,204.40 L631.01,204.40 L631.51,204.40 L632.00,204.40 L632.49,204.40 L632.99,204.40 L633.48,204.40 L633.98,204.40 L634.47,204.40 L634.96,204.40 L635.46,204.40 L635.95,204.40 L636.44,204.40 L636.94,204.40 L637.43,204.40 L637.93,204.40 L638.42,204.40 L638.91,204.40 L639.41,204.40 L639.90,204.40 L640.39,204.40 L640.89,204.40 L641.38,204.40 L641.88,204.40 L642.37,204.40 L642.86,204.40 L643.36,204.40 L643.85,204.40 L644.34,204.40 L644.84,204.40 L645.33,204.40 L645.83,204.40 L646.32,204.40 L646.81,204.40 L647.31,204.40 L647.80,204.40 L648.29,204.40 L648.79,204.40 L649.28,204.40 L649.77,204.40 L650.27,204.40 L650.76,204.40 L651.26,204.40 L651.75,204.40 L652.24,204.40 L652.74,204.40 L653.23,204.40 L653.73,204.40 L654.22,204.40 L654.71,204.40 L655.21,204.40 L655.70,204.40 L656.19,204.40 L656.69,204.40 L657.18,204.40 L657.68,204.40 L658.17,204.40 L658.66,204.40 L659.16,204.40 L659.65,204.40 L660.14,204.40 L660.64,204.40 L661.13,204.40 L661.62,204.40 L662.12,204.40 L662.61,204.40 L663.11,204.40 L663.60,204.40 L663.60,204.40 Z" fill="#d6f2dc" stroke="#4a7a4a" stroke-width="0.4"/>
<path d="M600.40,204.40 L600.40,203.68 L600.89,202.72 L601.39,200.83 L601.88,197.47 L602.38,192.08 L602.87,184.37 L603.36,174.64 L603.86,163.96 L604.35,154.16 L604.84,147.32 L605.34,145.12 L605.83,148.10 L606.33,155.51 L606.82,165.58 L607.31,176.22 L607.81,185.69 L608.30,193.04 L608.79,198.10 L609.29,201.20 L609.78,202.92 L610.27,203.77 L610.27,204.40 Z" fill="#f01c10" stroke="#6a1010" stroke-width="0.3"/>
<path d="M615.71,204.40 L615.71,204.34 L616.20,204.30 L616.69,204.22 L617.19,204.09 L617.68,203.90 L618.18,203.63 L618.67,203.26 L619.16,202.78 L619.66,202.20 L620.15,201.53 L620.64,200.82 L621.14,200.11 L621.63,199.47 L622.12,198.97 L622.62,198.67 L623.11,198.61 L623.61,198.78 L624.10,199.18 L624.59,199.75 L625.09,200.43 L625.58,201.15 L626.08,201.85 L626.57,202.48 L627.06,203.02 L627.56,203.44 L628.05,203.77 L628.54,204.00 L629.04,204.15 L629.53,204.26 L630.02,204.32 L630.52,204.36 L630.52,204.40 Z" fill="#1414e6" stroke="#10106a" stroke-width="0.3"/>
<polyline points="585.60,204.20 585.95,203.74 586.30,204.20 586.65,204.01 587.00,204.20 587.35,204.20 587.70,203.57 588.05,204.20 588.40,203.93 588.75,204.11 589.10,204.07 589.45,203.97 589.80,204.20 590.15,203.47 590.50,204.20 590.85,204.08 591.20,204.20 591.55,203.94 591.90,203.72 592.25,203.08 592.60,203.67 592.95,203.95 593.30,203.74 593.65,202.82 594.00,203.91 594.35,203.22 594.70,203.48 595.05,203.12 595.40,203.49 595.75,203.06 596.10,203.27 596.45,203.08 596.80,202.77 597.15,203.15 597.50,203.67 597.85,203.75 598.20,202.69 598.55,203.23 598.90,203.57 599.25,202.64 599.60,203.03 599.95,202.77 600.30,202.44 600.65,202.75 601.00,201.61 601.35,199.23 601.70,198.02 602.05,193.61 602.40,190.66 602.75,183.81 603.10,177.20 603.45,168.84 603.80,161.07 604.15,154.14 604.50,147.47 604.85,140.88 605.20,135.01 605.55,136.16 605.90,143.72 606.25,146.40 606.60,156.41 606.95,163.35 607.30,172.45 607.65,178.91 608.00,185.23 608.35,189.27 608.70,192.66 609.05,193.52 609.40,194.50 609.75,194.62 610.10,195.13 610.45,196.30 610.80,196.29 611.15,196.82 611.50,196.46 611.85,196.31 612.20,197.46 612.55,196.98 612.90,197.74 613.25,198.26 613.60,197.54 613.95,198.21 614.30,198.57 614.65,198.40 615.00,198.80 615.35,198.73 615.70,198.83 616.05,199.01 616.40,198.96 616.75,199.48 617.10,199.89 617.45,200.09 617.80,200.27 618.15,199.97 618.50,200.41 618.85,199.94 619.20,200.47 619.55,200.28 619.90,199.67 620.25,200.45 620.60,199.83 620.95,198.85 621.30,197.58 621.65,196.38 622.00,195.27 622.35,195.30 622.70,193.74 623.05,195.41 623.40,194.07 623.75,195.73 624.10,195.27 624.45,197.66 624.80,197.00 625.15,198.31 625.50,198.84 625.85,200.28 626.20,201.55 626.55,200.98 626.90,202.21 627.25,203.09 627.60,202.67 627.95,202.91 628.30,203.01 628.65,203.46 629.00,203.55 629.35,203.02 629.70,203.20 630.05,203.61 630.40,203.24 630.75,202.90 631.10,202.92 631.45,203.21 631.80,203.31 632.15,203.35 632.50,203.51 632.85,203.55 633.20,203.25 633.55,203.66 633.90,202.92 634.25,202.94 634.60,203.05 634.95,203.76 635.30,203.35 635.65,203.27 636.00,203.68 636.35,202.63 636.70,202.89 637.05,203.19 637.40,202.95 637.75,203.55 638.10,203.52 638.45,203.16 638.80,202.90 639.15,203.02 639.50,203.79 639.85,203.06 640.20,202.71 640.55,202.90 640.90,202.68 641.25,202.62 641.60,203.53 641.95,203.44 642.30,203.14 642.65,202.63 643.00,203.35 643.35,202.67 643.70,202.78 644.05,203.18 644.40,203.05 644.75,202.65 645.10,202.86 645.45,203.44 645.80,202.78 646.15,203.56 646.50,203.35 646.85,202.65 647.20,202.78 647.55,203.42 647.90,203.45 648.25,203.06 648.60,202.79 648.95,202.98 649.30,202.68 649.65,202.93 650.00,202.81 650.35,203.07 650.70,203.36 651.05,203.29 651.40,203.21 651.75,203.16 652.10,202.79 652.45,203.48 652.80,203.72 653.15,202.92 653.50,203.47 653.85,203.30 654.20,203.66 654.55,202.80 654.90,203.47 655.25,203.45 655.60,202.83 655.95,203.19 656.30,203.47 656.65,202.73 657.00,203.31 657.35,203.37 657.70,202.64 658.05,202.85 658.40,202.90 658.75,203.50 659.10,202.82 659.45,203.08 659.80,202.80 660.15,203.36 660.50,202.86 660.85,202.85 661.20,203.33 661.55,203.01 661.90,202.86 662.25,202.61 662.60,202.70" fill="none" stroke="#222" stroke-width="0.5"/>
<path d="M604.30,206.80 L606.30,206.80 L605.30,205.00 Z" fill="#111" stroke="none" stroke-width="0"/>
<path d="M622.00,206.80 L624.00,206.80 L623.00,205.00 Z" fill="#111" stroke="none" stroke-width="0"/>
<rect x="647.00" y="124.00" width="2.80" height="2.30" fill="#f01c10" stroke="#600" stroke-width="0.25"/>
<text x="650.60" y="126.20" font-size="2.7" text-anchor="start" fill="#3030d0">G0/G1</text>
<rect x="647.00" y="127.00" width="2.80" height="2.30" fill="#1414e6" stroke="#006" stroke-width="0.25"/>
<text x="650.60" y="129.20" font-size="2.7" text-anchor="start" fill="#3030d0">G2/M</text>
<rect x="647.00" y="130.00" width="2.80" height="2.30" fill="#f6fbf6" stroke="#333" stroke-width="0.25"/>
<text x="650.60" y="132.20" font-size="2.7" text-anchor="start" fill="#3030d0">S-Phase</text>
<text x="622.60" y="134.00" font-size="11.6" text-anchor="start" stroke="#111" stroke-width="0.22" fill="#111">40</text>
<line x1="279.00" y1="241.70" x2="279.00" y2="361.60" stroke="#222" stroke-width="1.3"/>
<line x1="278.40" y1="361.00" x2="381.60" y2="361.00" stroke="#222" stroke-width="1.3"/>
<line x1="274.20" y1="361.00" x2="279.00" y2="361.00" stroke="#222" stroke-width="1.2"/>
<text x="272.80" y="364.00" font-size="8.3" text-anchor="end" font-weight="bold" stroke="#222" stroke-width="0.28" fill="#222">0</text>
<line x1="274.20" y1="321.40" x2="279.00" y2="321.40" stroke="#222" stroke-width="1.2"/>
<text x="272.80" y="324.40" font-size="8.3" text-anchor="end" font-weight="bold" stroke="#222" stroke-width="0.28" fill="#222">50</text>
<line x1="274.20" y1="281.80" x2="279.00" y2="281.80" stroke="#222" stroke-width="1.2"/>
<text x="272.80" y="284.80" font-size="8.3" text-anchor="end" font-weight="bold" stroke="#222" stroke-width="0.28" fill="#222">100</text>
<line x1="274.20" y1="242.20" x2="279.00" y2="242.20" stroke="#222" stroke-width="1.2"/>
<text x="272.80" y="245.20" font-size="8.3" text-anchor="end" font-weight="bold" stroke="#222" stroke-width="0.28" fill="#222">150</text>
<line x1="293.30" y1="361.00" x2="293.30" y2="365.40" stroke="#222" stroke-width="1.2"/>
<text x="293.30" y="379.20" font-size="10.8" text-anchor="middle" stroke="#111" stroke-width="0.22" fill="#111">0</text>
<line x1="293.30" y1="281.80" x2="293.30" y2="271.90" stroke="#222" stroke-width="1.1"/>
<line x1="290.10" y1="271.90" x2="296.50" y2="271.90" stroke="#222" stroke-width="1.1"/>
<line x1="293.30" y1="302.00" x2="293.30" y2="296.85" stroke="#222" stroke-width="1.1"/>
<line x1="290.10" y1="296.85" x2="296.50" y2="296.85" stroke="#222" stroke-width="1.1"/>
<line x1="293.30" y1="325.76" x2="293.30" y2="319.02" stroke="#222" stroke-width="1.1"/>
<line x1="290.10" y1="319.02" x2="296.50" y2="319.02" stroke="#222" stroke-width="1.1"/>
<rect x="286.60" y="281.80" width="13.40" height="20.20" fill="#d2f8ea" stroke="#111" stroke-width="1.2"/>
<rect x="286.60" y="302.00" width="13.40" height="23.76" fill="#1010ee" stroke="#111" stroke-width="1.2"/>
<rect x="286.60" y="325.76" width="13.40" height="35.24" fill="#f41c0c" stroke="#111" stroke-width="1.2"/>
<line x1="293.30" y1="302.00" x2="293.30" y2="296.85" stroke="#222" stroke-width="1.1"/>
<line x1="290.10" y1="296.85" x2="296.50" y2="296.85" stroke="#222" stroke-width="1.1"/>
<line x1="293.30" y1="325.76" x2="293.30" y2="319.02" stroke="#222" stroke-width="1.1"/>
<line x1="290.10" y1="319.02" x2="296.50" y2="319.02" stroke="#222" stroke-width="1.1"/>
<line x1="317.90" y1="361.00" x2="317.90" y2="365.40" stroke="#222" stroke-width="1.2"/>
<text x="317.90" y="379.20" font-size="10.8" text-anchor="middle" stroke="#111" stroke-width="0.22" fill="#111">10</text>
<line x1="317.90" y1="281.80" x2="317.90" y2="280.22" stroke="#222" stroke-width="1.1"/>
<line x1="314.70" y1="280.22" x2="321.10" y2="280.22" stroke="#222" stroke-width="1.1"/>
<line x1="317.90" y1="296.06" x2="317.90" y2="292.49" stroke="#222" stroke-width="1.1"/>
<line x1="314.70" y1="292.49" x2="321.10" y2="292.49" stroke="#222" stroke-width="1.1"/>
<line x1="317.90" y1="319.66" x2="317.90" y2="314.43" stroke="#222" stroke-width="1.1"/>
<line x1="314.70" y1="314.43" x2="321.10" y2="314.43" stroke="#222" stroke-width="1.1"/>
<rect x="311.20" y="281.80" width="13.40" height="14.26" fill="#d2f8ea" stroke="#111" stroke-width="1.2"/>
<rect x="311.20" y="296.06" width="13.40" height="23.60" fill="#1010ee" stroke="#111" stroke-width="1.2"/>
<rect x="311.20" y="319.66" width="13.40" height="41.34" fill="#f41c0c" stroke="#111" stroke-width="1.2"/>
<line x1="317.90" y1="296.06" x2="317.90" y2="292.49" stroke="#222" stroke-width="1.1"/>
<line x1="314.70" y1="292.49" x2="321.10" y2="292.49" stroke="#222" stroke-width="1.1"/>
<line x1="317.90" y1="319.66" x2="317.90" y2="314.43" stroke="#222" stroke-width="1.1"/>
<line x1="314.70" y1="314.43" x2="321.10" y2="314.43" stroke="#222" stroke-width="1.1"/>
<line x1="342.10" y1="361.00" x2="342.10" y2="365.40" stroke="#222" stroke-width="1.2"/>
<text x="342.10" y="379.20" font-size="10.8" text-anchor="middle" stroke="#111" stroke-width="0.22" fill="#111">20</text>
<line x1="342.10" y1="281.80" x2="342.10" y2="272.30" stroke="#222" stroke-width="1.1"/>
<line x1="338.90" y1="272.30" x2="345.30" y2="272.30" stroke="#222" stroke-width="1.1"/>
<line x1="342.10" y1="311.10" x2="342.10" y2="301.76" stroke="#222" stroke-width="1.1"/>
<line x1="338.90" y1="301.76" x2="345.30" y2="301.76" stroke="#222" stroke-width="1.1"/>
<rect x="335.40" y="281.80" width="13.40" height="21.78" fill="#d2f8ea" stroke="#111" stroke-width="1.2"/>
<rect x="335.40" y="303.58" width="13.40" height="7.52" fill="#1010ee" stroke="#111" stroke-width="1.2"/>
<rect x="335.40" y="311.10" width="13.40" height="49.90" fill="#f41c0c" stroke="#111" stroke-width="1.2"/>
<line x1="342.10" y1="311.10" x2="342.10" y2="301.76" stroke="#222" stroke-width="1.1"/>
<line x1="338.90" y1="301.76" x2="345.30" y2="301.76" stroke="#222" stroke-width="1.1"/>
<line x1="366.60" y1="361.00" x2="366.60" y2="365.40" stroke="#222" stroke-width="1.2"/>
<text x="366.60" y="379.20" font-size="10.8" text-anchor="middle" stroke="#111" stroke-width="0.22" fill="#111">40</text>
<line x1="366.60" y1="281.80" x2="366.60" y2="273.09" stroke="#222" stroke-width="1.1"/>
<line x1="363.40" y1="273.09" x2="369.80" y2="273.09" stroke="#222" stroke-width="1.1"/>
<line x1="366.60" y1="304.77" x2="366.60" y2="297.40" stroke="#222" stroke-width="1.1"/>
<line x1="363.40" y1="297.40" x2="369.80" y2="297.40" stroke="#222" stroke-width="1.1"/>
<rect x="359.90" y="281.80" width="13.40" height="22.97" fill="#d2f8ea" stroke="#111" stroke-width="1.2"/>
<rect x="359.90" y="304.77" width="13.40" height="1.90" fill="#1010ee" stroke="#111" stroke-width="1.2"/>
<rect x="359.90" y="306.67" width="13.40" height="54.33" fill="#f41c0c" stroke="#111" stroke-width="1.2"/>
<line x1="366.60" y1="304.77" x2="366.60" y2="297.40" stroke="#222" stroke-width="1.1"/>
<line x1="363.40" y1="297.40" x2="369.80" y2="297.40" stroke="#222" stroke-width="1.1"/>
<text x="300.60" y="248.00" font-size="11.8" text-anchor="start" stroke="#111" stroke-width="0.22" fill="#111">SY5Y</text>
<text x="251.50" y="306.50" font-size="11.7" text-anchor="middle" stroke="#111" stroke-width="0.22" fill="#111" transform="rotate(-90 251.50 306.50)">Cell population (%)</text>
<rect x="391.80" y="240.30" width="14.00" height="6.40" fill="#f41c0c" stroke="#111" stroke-width="1.1"/>
<text x="409.60" y="247.90" font-size="11.5" text-anchor="start" stroke="#111" stroke-width="0.22" fill="#111">G0/G1</text>
<rect x="391.80" y="253.90" width="14.00" height="6.40" fill="#1010ee" stroke="#111" stroke-width="1.1"/>
<text x="409.60" y="261.50" font-size="11.5" text-anchor="start" stroke="#111" stroke-width="0.22" fill="#111">G2/M</text>
<rect x="391.80" y="266.50" width="14.00" height="6.40" fill="#d2f8ea" stroke="#111" stroke-width="1.1"/>
<text x="409.60" y="274.10" font-size="11.5" text-anchor="start" stroke="#111" stroke-width="0.22" fill="#111">S</text>
<line x1="513.70" y1="242.70" x2="513.70" y2="362.60" stroke="#222" stroke-width="1.3"/>
<line x1="513.10" y1="362.00" x2="614.80" y2="362.00" stroke="#222" stroke-width="1.3"/>
<line x1="508.90" y1="362.00" x2="513.70" y2="362.00" stroke="#222" stroke-width="1.2"/>
<text x="507.50" y="365.00" font-size="8.3" text-anchor="end" font-weight="bold" stroke="#222" stroke-width="0.28" fill="#222">0</text>
<line x1="508.90" y1="322.40" x2="513.70" y2="322.40" stroke="#222" stroke-width="1.2"/>
<text x="507.50" y="325.40" font-size="8.3" text-anchor="end" font-weight="bold" stroke="#222" stroke-width="0.28" fill="#222">50</text>
<line x1="508.90" y1="282.80" x2="513.70" y2="282.80" stroke="#222" stroke-width="1.2"/>
<text x="507.50" y="285.80" font-size="8.3" text-anchor="end" font-weight="bold" stroke="#222" stroke-width="0.28" fill="#222">100</text>
<line x1="508.90" y1="243.20" x2="513.70" y2="243.20" stroke="#222" stroke-width="1.2"/>
<text x="507.50" y="246.20" font-size="8.3" text-anchor="end" font-weight="bold" stroke="#222" stroke-width="0.28" fill="#222">150</text>
<line x1="527.90" y1="362.00" x2="527.90" y2="366.40" stroke="#222" stroke-width="1.2"/>
<text x="527.90" y="380.20" font-size="10.8" text-anchor="middle" stroke="#111" stroke-width="0.22" fill="#111">0</text>
<line x1="527.90" y1="282.80" x2="527.90" y2="273.30" stroke="#222" stroke-width="1.1"/>
<line x1="524.70" y1="273.30" x2="531.10" y2="273.30" stroke="#222" stroke-width="1.1"/>
<line x1="527.90" y1="303.00" x2="527.90" y2="297.85" stroke="#222" stroke-width="1.1"/>
<line x1="524.70" y1="297.85" x2="531.10" y2="297.85" stroke="#222" stroke-width="1.1"/>
<line x1="527.90" y1="330.32" x2="527.90" y2="323.98" stroke="#222" stroke-width="1.1"/>
<line x1="524.70" y1="323.98" x2="531.10" y2="323.98" stroke="#222" stroke-width="1.1"/>
<rect x="521.20" y="282.80" width="13.40" height="20.20" fill="#d2f8ea" stroke="#111" stroke-width="1.2"/>
<rect x="521.20" y="303.00" width="13.40" height="27.32" fill="#1010ee" stroke="#111" stroke-width="1.2"/>
<rect x="521.20" y="330.32" width="13.40" height="31.68" fill="#f41c0c" stroke="#111" stroke-width="1.2"/>
<line x1="527.90" y1="303.00" x2="527.90" y2="297.85" stroke="#222" stroke-width="1.1"/>
<line x1="524.70" y1="297.85" x2="531.10" y2="297.85" stroke="#222" stroke-width="1.1"/>
<line x1="527.90" y1="330.32" x2="527.90" y2="323.98" stroke="#222" stroke-width="1.1"/>
<line x1="524.70" y1="323.98" x2="531.10" y2="323.98" stroke="#222" stroke-width="1.1"/>
<line x1="552.30" y1="362.00" x2="552.30" y2="366.40" stroke="#222" stroke-width="1.2"/>
<text x="552.30" y="380.20" font-size="10.8" text-anchor="middle" stroke="#111" stroke-width="0.22" fill="#111">10</text>
<line x1="552.30" y1="282.80" x2="552.30" y2="274.09" stroke="#222" stroke-width="1.1"/>
<line x1="549.10" y1="274.09" x2="555.50" y2="274.09" stroke="#222" stroke-width="1.1"/>
<line x1="552.30" y1="302.60" x2="552.30" y2="298.24" stroke="#222" stroke-width="1.1"/>
<line x1="549.10" y1="298.24" x2="555.50" y2="298.24" stroke="#222" stroke-width="1.1"/>
<line x1="552.30" y1="320.82" x2="552.30" y2="312.10" stroke="#222" stroke-width="1.1"/>
<line x1="549.10" y1="312.10" x2="555.50" y2="312.10" stroke="#222" stroke-width="1.1"/>
<rect x="545.60" y="282.80" width="13.40" height="19.80" fill="#d2f8ea" stroke="#111" stroke-width="1.2"/>
<rect x="545.60" y="302.60" width="13.40" height="18.22" fill="#1010ee" stroke="#111" stroke-width="1.2"/>
<rect x="545.60" y="320.82" width="13.40" height="41.18" fill="#f41c0c" stroke="#111" stroke-width="1.2"/>
<line x1="552.30" y1="302.60" x2="552.30" y2="298.24" stroke="#222" stroke-width="1.1"/>
<line x1="549.10" y1="298.24" x2="555.50" y2="298.24" stroke="#222" stroke-width="1.1"/>
<line x1="552.30" y1="320.82" x2="552.30" y2="312.10" stroke="#222" stroke-width="1.1"/>
<line x1="549.10" y1="312.10" x2="555.50" y2="312.10" stroke="#222" stroke-width="1.1"/>
<line x1="576.90" y1="362.00" x2="576.90" y2="366.40" stroke="#222" stroke-width="1.2"/>
<text x="576.90" y="380.20" font-size="10.8" text-anchor="middle" stroke="#111" stroke-width="0.22" fill="#111">20</text>
<line x1="576.90" y1="282.80" x2="576.90" y2="274.09" stroke="#222" stroke-width="1.1"/>
<line x1="573.70" y1="274.09" x2="580.10" y2="274.09" stroke="#222" stroke-width="1.1"/>
<line x1="576.90" y1="317.17" x2="576.90" y2="308.30" stroke="#222" stroke-width="1.1"/>
<line x1="573.70" y1="308.30" x2="580.10" y2="308.30" stroke="#222" stroke-width="1.1"/>
<rect x="570.20" y="282.80" width="13.40" height="26.93" fill="#d2f8ea" stroke="#111" stroke-width="1.2"/>
<rect x="570.20" y="309.73" width="13.40" height="7.44" fill="#1010ee" stroke="#111" stroke-width="1.2"/>
<rect x="570.20" y="317.17" width="13.40" height="44.83" fill="#f41c0c" stroke="#111" stroke-width="1.2"/>
<line x1="576.90" y1="317.17" x2="576.90" y2="308.30" stroke="#222" stroke-width="1.1"/>
<line x1="573.70" y1="308.30" x2="580.10" y2="308.30" stroke="#222" stroke-width="1.1"/>
<line x1="601.10" y1="362.00" x2="601.10" y2="366.40" stroke="#222" stroke-width="1.2"/>
<text x="601.10" y="380.20" font-size="10.8" text-anchor="middle" stroke="#111" stroke-width="0.22" fill="#111">40</text>
<line x1="601.10" y1="282.80" x2="601.10" y2="273.30" stroke="#222" stroke-width="1.1"/>
<line x1="597.90" y1="273.30" x2="604.30" y2="273.30" stroke="#222" stroke-width="1.1"/>
<line x1="601.10" y1="299.04" x2="601.10" y2="297.06" stroke="#222" stroke-width="1.1"/>
<line x1="597.90" y1="297.06" x2="604.30" y2="297.06" stroke="#222" stroke-width="1.1"/>
<rect x="594.40" y="282.80" width="13.40" height="16.24" fill="#d2f8ea" stroke="#111" stroke-width="1.2"/>
<rect x="594.40" y="299.04" width="13.40" height="9.11" fill="#1010ee" stroke="#111" stroke-width="1.2"/>
<rect x="594.40" y="308.14" width="13.40" height="53.86" fill="#f41c0c" stroke="#111" stroke-width="1.2"/>
<line x1="601.10" y1="299.04" x2="601.10" y2="297.06" stroke="#222" stroke-width="1.1"/>
<line x1="597.90" y1="297.06" x2="604.30" y2="297.06" stroke="#222" stroke-width="1.1"/>
<text x="525.50" y="249.30" font-size="11.8" text-anchor="start" stroke="#111" stroke-width="0.22" fill="#111">SK-N-SH</text>
<text x="486.90" y="307.50" font-size="11.7" text-anchor="middle" stroke="#111" stroke-width="0.22" fill="#111" transform="rotate(-90 486.90 307.50)">Cell population (%)</text>
<rect x="611.90" y="240.50" width="14.00" height="6.40" fill="#f41c0c" stroke="#111" stroke-width="1.1"/>
<text x="629.70" y="248.10" font-size="11.5" text-anchor="start" stroke="#111" stroke-width="0.22" fill="#111">G0/G1</text>
<rect x="611.90" y="254.60" width="14.00" height="6.40" fill="#1010ee" stroke="#111" stroke-width="1.1"/>
<text x="629.70" y="262.20" font-size="11.5" text-anchor="start" stroke="#111" stroke-width="0.22" fill="#111">G2/M</text>
<rect x="611.90" y="266.10" width="14.00" height="6.40" fill="#d2f8ea" stroke="#111" stroke-width="1.1"/>
<text x="629.70" y="273.70" font-size="11.5" text-anchor="start" stroke="#111" stroke-width="0.22" fill="#111">S</text>
<defs><filter id="fblur" x="-50%" y="-50%" width="200%" height="200%"><feGaussianBlur stdDeviation="2.2"/></filter></defs>
<rect x="32.90" y="421.20" width="98.60" height="100.10" fill="#fff" stroke="#8c8c8c" stroke-width="0.7"/>
<path d="M30.7 521.3h2.2M31.9 514.8h1M31.9 511.0h1M31.9 508.3h1M31.9 506.2h1M31.9 504.5h1M31.9 503.0h1M31.9 501.8h1M31.9 500.7h1M30.7 499.7h2.2M31.9 493.2h1M31.9 489.4h1M31.9 486.7h1M31.9 484.6h1M31.9 482.9h1M31.9 481.4h1M31.9 480.2h1M31.9 479.1h1M30.7 478.1h2.2M31.9 471.6h1M31.9 467.8h1M31.9 465.1h1M31.9 463.0h1M31.9 461.3h1M31.9 459.8h1M31.9 458.6h1M31.9 457.5h1M30.7 456.5h2.2M31.9 450.0h1M31.9 446.2h1M31.9 443.5h1M31.9 441.4h1M31.9 439.7h1M31.9 438.2h1M31.9 437.0h1M31.9 435.9h1M30.7 434.9h2.2M31.9 428.4h1M31.9 424.6h1M31.9 421.9h1M32.9 521.3v2.2M40.2 521.3v1.1M44.5 521.3v1.1M47.6 521.3v1.1M49.9 521.3v1.1M51.8 521.3v1.1M53.5 521.3v1.1M54.9 521.3v1.1M56.1 521.3v1.1M57.2 521.3v2.2M64.6 521.3v1.1M68.9 521.3v1.1M71.9 521.3v1.1M74.3 521.3v1.1M76.2 521.3v1.1M77.8 521.3v1.1M79.2 521.3v1.1M80.5 521.3v1.1M81.6 521.3v2.2M88.9 521.3v1.1M93.2 521.3v1.1M96.2 521.3v1.1M98.6 521.3v1.1M100.5 521.3v1.1M102.2 521.3v1.1M103.6 521.3v1.1M104.8 521.3v1.1M105.9 521.3v2.2M113.3 521.3v1.1M117.6 521.3v1.1M120.6 521.3v1.1M123.0 521.3v1.1M124.9 521.3v1.1M126.5 521.3v1.1M127.9 521.3v1.1M129.2 521.3v1.1M130.3 521.3v2.2" stroke="#555" stroke-width="0.5" fill="none"/>
<text x="29.30" y="522.60" font-size="4.0" text-anchor="end" fill="#333">10<tspan dy="-1.7" font-size="2.7">2</tspan></text>
<text x="34.50" y="529.30" font-size="4.0" text-anchor="middle" fill="#333">10<tspan dy="-1.7" font-size="2.7">2</tspan></text>
<text x="29.30" y="501.00" font-size="4.0" text-anchor="end" fill="#333">10<tspan dy="-1.7" font-size="2.7">3</tspan></text>
<text x="58.85" y="529.30" font-size="4.0" text-anchor="middle" fill="#333">10<tspan dy="-1.7" font-size="2.7">3</tspan></text>
<text x="29.30" y="479.40" font-size="4.0" text-anchor="end" fill="#333">10<tspan dy="-1.7" font-size="2.7">4</tspan></text>
<text x="83.19" y="529.30" font-size="4.0" text-anchor="middle" fill="#333">10<tspan dy="-1.7" font-size="2.7">4</tspan></text>
<text x="29.30" y="457.80" font-size="4.0" text-anchor="end" fill="#333">10<tspan dy="-1.7" font-size="2.7">5</tspan></text>
<text x="107.54" y="529.30" font-size="4.0" text-anchor="middle" fill="#333">10<tspan dy="-1.7" font-size="2.7">5</tspan></text>
<text x="29.30" y="436.20" font-size="4.0" text-anchor="end" fill="#333">10<tspan dy="-1.7" font-size="2.7">6</tspan></text>
<text x="131.88" y="529.30" font-size="4.0" text-anchor="middle" fill="#333">10<tspan dy="-1.7" font-size="2.7">6</tspan></text>
<text x="82.20" y="540.60" font-size="4.8" text-anchor="middle" fill="#333">FL1-A :: FITC-A</text>
<text x="20.70" y="471.25" font-size="4.8" text-anchor="middle" fill="#333" transform="rotate(-90 20.70 471.25)">FL3-A :: PI-A</text>
<ellipse cx="63.30" cy="492.40" rx="15.00" ry="6.00" fill="#4a4af2" fill-opacity="0.4" filter="url(#fblur)" transform="rotate(-35 63.30 492.40)"/>
<path d="M81.9 476.0h.1M57.0 506.8h.1M79.9 479.7h.1M59.1 503.6h.1M87.7 475.5h.1M91.6 477.0h.1M62.7 482.9h.1M51.8 511.6h.1M65.3 477.7h.1M76.0 477.3h.1M89.1 483.2h.1M64.2 481.0h.1M95.6 464.3h.1M48.3 483.6h.1M83.2 486.7h.1M61.7 504.4h.1M62.5 514.5h.1M78.0 487.6h.1M78.7 482.1h.1M35.5 505.7h.1M78.6 486.6h.1M64.9 512.2h.1M66.8 481.5h.1M79.1 482.4h.1M89.5 470.5h.1M79.9 499.3h.1M86.5 482.0h.1M73.4 496.0h.1M62.4 483.4h.1M52.1 491.1h.1M87.1 472.9h.1M61.6 504.0h.1M87.6 491.0h.1M79.4 491.0h.1M44.3 505.9h.1M44.6 499.5h.1M56.7 487.1h.1M46.1 518.0h.1M46.8 494.3h.1M100.3 478.7h.1M45.7 505.8h.1M95.9 470.8h.1M78.0 477.7h.1M42.5 507.3h.1M57.7 486.1h.1M78.1 487.8h.1M55.1 507.6h.1M58.5 485.7h.1M44.3 506.3h.1M91.7 466.9h.1M48.2 496.7h.1M82.3 474.8h.1M75.5 479.3h.1M46.9 505.5h.1M42.0 504.7h.1M59.7 503.4h.1M39.6 512.1h.1M80.2 481.9h.1M43.2 500.9h.1M48.7 495.4h.1M51.2 511.5h.1M81.9 469.1h.1M81.1 485.3h.1M48.3 492.5h.1M63.7 502.1h.1M41.4 517.5h.1M57.7 486.6h.1M47.5 505.3h.1M84.1 478.6h.1M58.0 486.7h.1M44.2 503.5h.1M44.8 495.0h.1M78.4 493.1h.1M43.0 497.0h.1M50.8 505.0h.1M88.8 475.4h.1M43.3 498.2h.1M43.7 491.8h.1M77.8 492.3h.1M50.8 491.8h.1M70.3 480.0h.1M48.6 506.9h.1M86.3 484.1h.1M47.6 485.2h.1M43.2 513.9h.1M66.7 477.6h.1M70.4 478.2h.1M38.9 508.1h.1M50.6 505.4h.1M62.3 503.3h.1M76.0 479.2h.1M59.6 503.0h.1M39.3 517.0h.1M47.5 494.3h.1M77.9 480.3h.1M46.1 504.4h.1M93.8 479.8h.1M66.5 481.7h.1M63.6 480.3h.1M83.2 488.6h.1M62.4 503.4h.1M84.6 483.3h.1M79.9 477.4h.1M55.7 481.8h.1M51.4 486.3h.1M55.0 487.3h.1M103.9 479.8h.1M80.3 485.0h.1M76.1 498.6h.1M53.9 483.3h.1M54.4 506.1h.1M60.4 471.6h.1M39.0 504.6h.1M69.0 479.5h.1M74.3 479.9h.1M70.5 498.0h.1M69.8 478.2h.1M72.8 475.3h.1M66.2 503.3h.1M58.8 505.6h.1M59.4 482.7h.1M50.6 493.3h.1M55.6 484.7h.1M74.5 492.9h.1M60.0 481.6h.1M77.8 492.9h.1M50.8 493.2h.1M90.5 477.1h.1M76.9 474.6h.1M67.3 481.7h.1M106.7 472.7h.1M71.4 499.7h.1M75.8 479.8h.1M57.3 506.9h.1M41.7 499.6h.1M45.7 492.2h.1M51.0 493.5h.1M76.2 474.7h.1M60.1 504.7h.1M45.3 505.3h.1M68.0 503.1h.1M57.2 505.5h.1M75.2 480.3h.1M37.8 514.2h.1M53.7 486.7h.1M86.7 488.5h.1M46.9 516.6h.1M84.1 487.8h.1M59.8 503.0h.1M64.6 477.3h.1M45.6 493.5h.1M45.4 501.9h.1M62.0 505.7h.1M96.8 481.8h.1M51.4 508.3h.1M40.9 499.1h.1M67.5 504.6h.1M94.3 477.1h.1M49.8 487.2h.1M69.5 477.9h.1M80.2 487.9h.1M47.4 503.6h.1M49.8 488.1h.1M86.2 471.2h.1M52.6 490.6h.1M68.0 499.3h.1M50.7 507.7h.1M83.1 473.3h.1M69.1 500.0h.1M95.3 472.0h.1M58.9 505.1h.1M37.3 517.9h.1M70.9 480.5h.1M60.0 504.2h.1M77.3 473.7h.1M42.0 505.7h.1M66.4 501.7h.1M46.8 508.6h.1M46.4 501.4h.1M69.4 478.8h.1M51.9 505.3h.1M79.9 479.4h.1M66.2 501.4h.1M74.6 477.7h.1M80.2 475.6h.1M46.9 498.8h.1M81.9 481.1h.1M91.5 488.7h.1M58.8 482.7h.1M72.7 496.5h.1M40.7 501.0h.1M49.5 494.1h.1M88.2 467.2h.1M63.2 483.3h.1M48.8 481.9h.1M76.0 491.6h.1M103.6 472.6h.1M87.6 489.9h.1M68.2 476.6h.1M79.7 480.8h.1M58.1 486.0h.1M47.0 503.2h.1M75.8 495.8h.1M79.4 495.8h.1M80.5 486.1h.1M80.0 475.6h.1M78.6 482.7h.1M83.3 479.5h.1M49.5 506.8h.1M61.2 504.0h.1M95.0 478.8h.1M47.9 504.6h.1M46.5 506.1h.1M80.5 480.5h.1M93.9 476.2h.1M82.5 474.9h.1M76.7 479.7h.1M74.4 477.6h.1M61.7 484.4h.1M58.3 508.6h.1M65.6 502.0h.1M56.5 485.1h.1M68.4 500.4h.1M83.3 486.5h.1M43.5 494.4h.1M48.4 494.4h.1M44.6 496.4h.1M53.6 490.5h.1M41.1 492.5h.1M75.3 493.1h.1M62.1 483.8h.1M45.4 494.2h.1M83.9 476.2h.1M52.2 491.3h.1M78.9 499.6h.1M74.4 496.4h.1M64.6 482.8h.1M84.5 487.3h.1M50.8 507.5h.1M46.8 501.7h.1M49.2 492.2h.1M75.8 476.2h.1M38.8 498.5h.1M84.6 484.0h.1M64.7 501.5h.1M42.4 517.8h.1M71.5 500.8h.1M33.8 518.5h.1M63.8 510.6h.1M66.8 499.2h.1M52.0 507.5h.1M51.7 505.0h.1M74.5 473.2h.1M98.5 488.0h.1M44.2 495.6h.1M83.5 478.9h.1M56.2 518.0h.1M56.6 518.6h.1M78.9 480.8h.1M60.0 507.6h.1M85.7 486.1h.1M46.9 502.0h.1M62.7 480.6h.1M81.7 484.7h.1M83.1 480.5h.1M73.0 495.6h.1M50.9 515.3h.1M55.6 482.9h.1M52.7 485.8h.1M73.7 496.7h.1M79.7 489.4h.1M70.4 475.5h.1M81.3 486.8h.1M80.9 480.0h.1M46.2 498.8h.1M46.3 506.7h.1M79.2 486.6h.1M50.2 491.5h.1M91.1 478.9h.1M86.4 474.8h.1M66.5 505.5h.1M51.6 507.6h.1M72.6 461.9h.1M63.3 482.9h.1M46.2 513.6h.1M78.2 480.1h.1M82.4 494.8h.1M66.2 499.9h.1M54.1 485.8h.1M79.9 485.0h.1M49.0 491.2h.1M82.1 482.0h.1M83.8 492.5h.1M85.1 485.9h.1M45.5 495.6h.1M60.6 504.4h.1M62.3 502.7h.1M77.4 481.3h.1M52.6 509.4h.1M46.9 501.5h.1M53.5 504.5h.1M80.7 492.0h.1M85.7 484.6h.1M76.0 477.3h.1M85.1 464.6h.1M64.8 501.9h.1M83.6 475.8h.1M47.5 505.2h.1M46.0 498.9h.1M55.3 488.6h.1M82.2 479.1h.1M82.5 480.3h.1M45.3 520.3h.1M47.1 495.3h.1M75.9 493.2h.1M82.0 475.0h.1M80.2 485.9h.1M52.0 508.9h.1M64.5 502.5h.1M54.7 487.5h.1M72.3 478.6h.1M80.5 489.4h.1M93.1 485.0h.1M80.6 483.3h.1M50.7 486.8h.1M48.5 493.3h.1M72.6 474.4h.1M48.3 494.8h.1M79.0 492.6h.1M86.2 484.0h.1M88.5 463.6h.1M77.9 489.5h.1M87.1 479.7h.1M92.1 479.6h.1M86.1 472.4h.1M83.0 483.8h.1M92.3 472.5h.1M81.0 481.7h.1M74.3 477.5h.1M92.8 480.5h.1M86.8 472.4h.1M82.5 466.2h.1M80.8 484.1h.1M89.6 479.3h.1M90.7 480.5h.1M82.5 475.3h.1M91.1 476.9h.1M92.5 475.5h.1M90.7 479.6h.1M99.7 483.3h.1M84.7 477.3h.1M94.4 469.1h.1M96.0 466.8h.1M65.9 472.9h.1M84.1 477.1h.1M82.3 474.1h.1M88.2 474.7h.1M76.6 473.5h.1M92.1 466.6h.1M86.7 478.0h.1M79.0 472.4h.1M94.2 483.5h.1M96.0 472.4h.1M78.5 481.3h.1M95.0 478.7h.1M88.9 480.2h.1M90.5 475.8h.1M75.2 486.3h.1M79.6 478.0h.1M84.6 476.6h.1M73.4 485.9h.1M96.0 471.5h.1M93.1 481.5h.1M82.3 468.0h.1M85.6 475.2h.1M86.2 473.7h.1M86.5 472.1h.1M80.7 472.2h.1M74.0 464.4h.1M75.8 485.9h.1M86.6 477.3h.1M93.3 472.5h.1M95.0 489.1h.1M83.9 469.7h.1M72.3 477.3h.1M79.9 487.4h.1M95.5 473.1h.1M94.5 479.5h.1M90.5 464.3h.1M89.5 479.3h.1M84.2 477.6h.1M92.6 473.5h.1M78.8 470.0h.1M92.7 473.1h.1M82.9 479.2h.1M90.5 470.8h.1M79.5 481.5h.1M95.9 470.2h.1M79.3 490.4h.1M75.0 480.0h.1M86.2 465.6h.1M76.8 476.7h.1M83.5 476.5h.1M95.8 478.0h.1M98.7 468.5h.1M91.3 479.6h.1M75.0 475.3h.1M90.5 477.3h.1M88.4 466.1h.1M89.5 483.6h.1M96.6 474.7h.1M89.6 482.4h.1M75.9 469.5h.1M79.9 470.6h.1M80.2 478.1h.1M92.2 473.2h.1M84.4 480.1h.1M90.3 469.7h.1M79.1 479.0h.1M80.6 481.5h.1M83.4 472.5h.1M77.7 467.8h.1M80.0 488.3h.1M82.2 473.5h.1M83.4 477.6h.1M83.8 471.4h.1M79.5 474.5h.1M78.3 485.1h.1M86.4 474.9h.1M87.8 478.7h.1M94.8 479.1h.1M90.1 472.0h.1M79.2 476.8h.1M79.2 484.6h.1M88.0 480.1h.1M91.5 477.5h.1M86.6 483.2h.1M86.9 485.3h.1M73.1 484.7h.1M93.1 472.7h.1M85.7 480.6h.1M86.4 480.0h.1M77.4 481.5h.1M93.2 466.4h.1M92.8 478.4h.1M75.0 483.4h.1M76.4 480.3h.1M91.0 471.8h.1M76.6 484.7h.1M95.3 477.7h.1M88.9 473.7h.1M80.8 488.9h.1M102.5 465.3h.1M84.2 475.7h.1M85.4 475.4h.1M75.8 485.4h.1M84.6 483.1h.1M80.9 481.0h.1M96.8 467.8h.1M98.7 478.6h.1M83.3 473.8h.1M82.0 479.0h.1M87.2 476.7h.1M90.3 473.8h.1M91.3 468.4h.1M89.1 486.9h.1M76.6 478.6h.1M97.9 481.0h.1M90.7 465.8h.1M88.0 480.3h.1M83.1 469.7h.1M92.7 474.8h.1M85.0 477.9h.1M80.5 482.3h.1M87.8 477.6h.1M91.9 486.7h.1M93.5 475.5h.1M72.5 484.1h.1M93.3 477.7h.1M88.3 474.1h.1M74.5 478.3h.1M93.5 477.2h.1M89.4 466.2h.1M89.0 468.2h.1M68.8 477.3h.1M92.0 476.4h.1M100.0 479.9h.1M91.1 478.4h.1M97.2 475.6h.1M84.8 474.9h.1M96.2 471.0h.1M75.9 492.4h.1M91.4 473.7h.1M91.6 477.0h.1M85.9 468.6h.1M70.3 484.4h.1M79.4 493.1h.1M78.7 480.9h.1M77.1 484.5h.1M88.7 474.7h.1M82.6 483.2h.1M89.8 480.4h.1M89.8 481.8h.1M81.1 488.5h.1M101.5 475.7h.1M85.5 480.7h.1M73.3 480.0h.1M90.8 467.7h.1M75.5 483.7h.1M72.3 465.0h.1M81.5 472.2h.1M84.9 479.5h.1M91.4 476.6h.1M69.2 483.3h.1M78.1 484.1h.1M92.3 477.0h.1M72.5 482.3h.1M91.1 463.6h.1M94.0 471.8h.1M90.7 480.9h.1M75.8 471.4h.1M78.9 490.2h.1M79.9 484.5h.1M84.6 472.0h.1M77.5 481.0h.1M85.3 464.5h.1M79.4 478.7h.1M95.7 471.9h.1M94.2 469.0h.1M86.7 478.3h.1M78.3 475.6h.1M87.5 468.7h.1M82.9 469.7h.1M87.8 476.3h.1M90.2 477.0h.1M94.4 462.8h.1M81.9 480.4h.1M75.5 481.9h.1M81.8 477.7h.1M82.7 475.6h.1M87.4 485.2h.1M79.7 483.8h.1M88.7 477.8h.1M91.9 471.7h.1M96.8 475.9h.1M92.9 486.2h.1M82.3 477.0h.1M86.3 470.3h.1M90.5 477.4h.1M88.0 470.0h.1M88.4 479.2h.1M92.0 467.4h.1M97.1 478.5h.1M81.8 481.9h.1M88.6 476.6h.1M78.9 471.9h.1M73.7 471.7h.1M87.2 485.0h.1M81.9 493.2h.1M94.0 471.6h.1M77.2 478.4h.1M74.7 477.2h.1M89.1 478.6h.1M85.5 478.4h.1M93.2 480.8h.1M93.9 465.4h.1M84.1 493.3h.1M94.8 479.9h.1M86.5 473.8h.1M79.0 484.9h.1M70.6 477.7h.1M86.4 471.4h.1M92.6 472.9h.1M92.3 467.6h.1M86.7 478.3h.1M75.8 470.9h.1M87.3 475.3h.1M88.7 470.7h.1M72.6 481.8h.1M86.7 481.1h.1M76.1 476.1h.1M79.6 481.0h.1M92.5 476.8h.1M85.8 488.8h.1M77.6 480.1h.1M79.0 483.0h.1M77.1 475.9h.1M93.3 468.2h.1M91.2 463.5h.1M71.2 480.9h.1M84.7 482.0h.1M80.7 483.3h.1M85.6 481.1h.1M93.9 467.8h.1M87.5 459.1h.1M77.5 494.1h.1M101.1 490.1h.1M86.1 475.6h.1M91.8 475.0h.1M99.6 470.4h.1M90.2 475.9h.1M80.9 475.9h.1M72.2 481.3h.1M91.9 469.2h.1M90.1 472.3h.1M84.8 478.3h.1M82.8 472.6h.1M79.0 483.0h.1M81.5 481.3h.1M67.5 472.4h.1M84.0 466.5h.1M75.8 477.4h.1M87.0 475.1h.1M67.4 478.4h.1M87.1 481.0h.1M89.0 477.6h.1M95.7 474.9h.1M86.0 492.1h.1M96.6 471.6h.1M89.0 468.5h.1M92.9 471.8h.1M77.9 490.5h.1M85.6 480.6h.1M90.8 476.0h.1M95.6 471.5h.1M94.5 472.6h.1M92.0 472.9h.1M95.6 476.0h.1M71.5 480.8h.1M88.8 472.5h.1M82.5 485.4h.1M78.8 476.9h.1M92.5 477.2h.1M95.2 476.9h.1M88.5 475.2h.1M78.1 483.3h.1M91.7 479.7h.1M77.3 480.1h.1M94.5 476.7h.1M96.4 472.0h.1M73.1 493.1h.1M92.3 479.3h.1M86.2 479.5h.1M82.3 481.0h.1M71.7 484.7h.1M91.2 476.9h.1M69.6 479.8h.1M75.6 478.8h.1M78.6 486.8h.1M93.7 468.8h.1M69.2 478.6h.1M88.2 460.9h.1M94.4 460.6h.1M86.9 469.0h.1M92.3 467.5h.1M78.6 468.2h.1M90.7 474.9h.1M86.1 457.2h.1M70.3 483.1h.1M79.0 483.3h.1M81.5 493.2h.1M86.3 475.2h.1M94.4 475.0h.1M82.7 469.3h.1M89.8 471.6h.1M91.7 473.2h.1M86.6 473.3h.1M70.9 478.3h.1M85.0 470.2h.1M86.7 475.5h.1M68.3 475.5h.1M87.1 468.0h.1M78.1 484.7h.1M90.4 470.2h.1M70.1 477.0h.1M76.1 473.8h.1M77.3 468.8h.1M78.9 486.2h.1M86.6 474.0h.1M92.2 474.3h.1M90.0 470.1h.1M94.5 471.3h.1M96.0 475.4h.1M89.9 474.1h.1M90.9 474.8h.1M87.9 477.2h.1M95.9 465.8h.1M84.7 475.6h.1M77.2 476.1h.1M86.2 473.9h.1M84.8 483.3h.1M89.8 473.9h.1M83.9 476.3h.1M92.8 469.3h.1M91.1 475.4h.1M91.8 471.3h.1M74.6 488.9h.1M87.4 481.4h.1M83.8 478.2h.1M77.5 480.0h.1M94.7 465.3h.1M90.3 480.0h.1M84.3 465.8h.1M95.2 474.4h.1M91.1 470.9h.1M95.2 476.3h.1M80.2 470.3h.1M97.1 474.8h.1M78.8 490.0h.1M88.8 472.7h.1M86.2 470.1h.1M86.4 471.7h.1M76.8 474.3h.1M88.9 462.2h.1M85.6 473.8h.1M91.0 477.9h.1M91.2 470.1h.1M97.4 478.9h.1M82.9 475.1h.1M108.0 444.3h.1M88.8 446.5h.1M105.7 445.2h.1M99.9 457.3h.1M94.1 451.6h.1M115.1 459.1h.1M87.7 449.7h.1M100.7 464.7h.1M112.2 453.6h.1M111.3 450.0h.1M88.8 463.5h.1M82.3 451.7h.1M107.2 447.1h.1M109.6 445.3h.1M107.5 447.5h.1M92.0 453.4h.1M93.7 450.6h.1M88.9 447.4h.1M104.9 454.8h.1M88.4 441.2h.1M99.3 437.2h.1M105.5 464.6h.1M106.3 450.6h.1M91.1 450.1h.1M104.8 461.4h.1M95.9 455.5h.1M95.9 443.3h.1M95.2 447.8h.1M84.4 442.6h.1M114.4 431.0h.1M108.4 451.8h.1M95.1 439.3h.1M111.0 442.8h.1M102.5 443.8h.1M88.2 454.0h.1M106.1 438.0h.1M110.6 435.5h.1M86.6 452.5h.1M95.1 445.6h.1M115.6 436.9h.1M105.7 442.3h.1M100.5 443.8h.1M91.5 446.0h.1M90.2 445.7h.1M89.9 443.4h.1M100.8 434.3h.1M98.8 451.2h.1M100.7 453.1h.1M89.5 450.3h.1M102.7 423.4h.1M99.4 452.7h.1M98.8 445.9h.1M98.2 444.3h.1M89.0 440.1h.1M77.4 462.4h.1M99.3 447.4h.1M105.8 449.7h.1M98.7 432.9h.1M87.4 459.2h.1M103.7 450.9h.1M88.9 441.7h.1M102.2 439.3h.1M111.5 439.5h.1M95.1 436.3h.1M103.1 456.0h.1M101.6 445.5h.1M95.9 452.0h.1M99.5 459.7h.1M96.8 442.5h.1M94.2 430.2h.1M101.8 446.6h.1M83.4 436.2h.1M88.7 443.0h.1M89.2 451.7h.1M111.5 440.4h.1M99.7 437.0h.1M112.7 436.8h.1M91.5 445.6h.1M91.3 467.1h.1M97.5 443.6h.1M89.5 444.9h.1M93.4 442.2h.1M109.5 440.8h.1M103.7 440.5h.1M109.6 439.5h.1M89.8 443.6h.1M112.0 442.3h.1M90.7 444.4h.1M92.3 447.7h.1M92.6 448.1h.1M108.4 449.5h.1M114.6 448.0h.1M118.0 455.8h.1M96.7 451.8h.1M92.1 444.0h.1M98.6 439.3h.1M102.6 444.9h.1M119.4 451.8h.1M97.0 440.2h.1M94.1 440.1h.1M92.0 445.7h.1M86.0 443.1h.1M104.4 440.9h.1M88.3 441.6h.1M108.0 439.5h.1M115.0 432.3h.1M91.4 450.4h.1M112.9 444.0h.1M83.0 443.3h.1M90.4 440.1h.1M95.7 440.8h.1M99.0 446.7h.1M96.6 431.3h.1M97.7 424.7h.1M100.2 442.2h.1M90.2 462.3h.1M116.0 456.3h.1M101.6 441.7h.1M104.1 458.6h.1M98.6 444.4h.1M93.6 445.0h.1M107.8 438.3h.1M110.0 446.7h.1M121.7 447.1h.1M112.1 437.7h.1M123.6 446.3h.1M98.7 457.6h.1M101.1 435.8h.1M105.6 450.0h.1M99.4 441.9h.1M83.5 459.0h.1M95.2 448.5h.1M94.6 440.0h.1M102.4 438.6h.1M108.9 432.9h.1M105.5 455.1h.1M95.2 447.4h.1M107.8 442.2h.1M97.3 444.2h.1M126.7 439.2h.1M97.9 442.1h.1M94.1 438.3h.1M93.1 446.9h.1M111.2 458.6h.1M86.8 437.9h.1M99.3 437.9h.1M91.9 443.9h.1M94.0 439.0h.1M101.8 439.5h.1M97.0 448.2h.1M54.1 432.7h.1M70.3 510.7h.1M130.0 439.8h.1M52.9 504.1h.1M60.8 495.2h.1M99.9 496.0h.1M83.8 456.3h.1M123.0 453.9h.1M122.5 471.9h.1M43.4 488.4h.1M51.0 476.4h.1M99.2 513.6h.1M57.1 470.5h.1M94.8 500.5h.1M44.8 478.3h.1M75.9 511.5h.1M107.0 495.7h.1M68.7 494.2h.1M60.3 503.7h.1M52.2 463.6h.1M69.8 501.9h.1M89.9 495.4h.1M123.4 487.5h.1M39.3 473.8h.1M34.9 497.8h.1M68.3 506.0h.1M51.5 447.3h.1M78.6 477.5h.1M69.2 510.7h.1M104.7 480.8h.1M105.8 463.4h.1M97.8 454.2h.1M77.1 519.3h.1M37.6 456.6h.1M109.3 500.7h.1M71.0 504.3h.1M64.5 449.8h.1M90.6 493.3h.1M63.8 457.5h.1M125.5 497.5h.1M130.5 454.0h.1M95.6 500.6h.1M126.4 497.9h.1M126.7 471.2h.1M52.4 514.4h.1M54.3 498.0h.1M98.5 490.2h.1M80.1 501.1h.1M41.4 465.0h.1M73.6 437.4h.1M126.7 481.2h.1M77.2 463.9h.1M50.4 498.3h.1M37.3 486.8h.1M57.4 498.3h.1M113.4 492.0h.1M114.4 435.4h.1M71.5 507.6h.1M93.6 495.2h.1M55.6 492.1h.1M41.3 442.7h.1M62.1 444.7h.1M47.3 510.1h.1M74.3 513.8h.1M80.7 514.8h.1M53.2 519.2h.1M109.9 457.5h.1M75.7 464.3h.1M68.3 504.9h.1M59.2 494.0h.1M75.0 504.3h.1M111.2 465.6h.1M49.1 463.3h.1M99.1 446.2h.1M109.6 445.0h.1M44.1 483.7h.1M68.5 519.4h.1M82.3 434.1h.1M43.3 487.0h.1M50.4 444.1h.1M52.8 478.8h.1M60.1 480.5h.1M71.8 500.9h.1M42.6 437.5h.1M59.1 491.5h.1M95.2 450.9h.1M90.2 493.2h.1M88.4 517.0h.1M100.1 506.4h.1M71.2 493.4h.1M73.3 479.4h.1M67.4 483.6h.1M82.7 493.9h.1M53.6 476.2h.1M128.1 450.1h.1M67.0 519.9h.1M78.8 519.8h.1M60.5 520.2h.1M81.1 519.7h.1M61.3 519.3h.1M61.3 519.6h.1M43.6 520.0h.1M71.1 520.1h.1M92.7 519.3h.1M72.0 519.6h.1M49.9 519.6h.1M84.7 519.9h.1M67.3 519.7h.1M48.6 520.3h.1M44.7 519.8h.1M71.5 519.5h.1M49.7 520.2h.1M58.7 520.2h.1M49.2 519.9h.1M74.3 520.3h.1M44.2 519.9h.1M64.6 520.2h.1M72.9 519.8h.1M90.7 519.4h.1M70.9 520.3h.1" stroke="#4040f4" stroke-opacity="0.5" stroke-width="0.8" stroke-linecap="square" fill="none"/>
<path d="M53.5 497.5h.1M54.2 497.6h.1M64.4 486.5h.1M72.5 481.4h.1M64.3 485.6h.1M55.0 497.1h.1M53.2 500.3h.1M63.6 499.6h.1M49.3 497.0h.1M77.8 483.3h.1M64.9 485.9h.1M63.0 488.1h.1M54.7 492.0h.1M72.1 487.6h.1M71.2 491.0h.1M64.4 484.5h.1M54.3 504.3h.1M55.7 501.9h.1M51.4 504.0h.1M59.6 499.0h.1M52.8 501.9h.1M65.8 497.9h.1M71.2 495.8h.1M51.8 495.6h.1M53.1 499.5h.1M61.7 498.9h.1M74.1 488.7h.1M63.6 487.5h.1M54.5 502.4h.1M49.2 502.1h.1M62.8 488.1h.1M63.6 498.0h.1M61.6 488.7h.1M59.5 498.7h.1M59.1 502.3h.1M63.9 497.4h.1M54.1 492.9h.1M56.4 502.4h.1M52.5 498.1h.1M54.5 494.4h.1M70.5 493.4h.1M72.7 486.6h.1M52.5 502.4h.1M67.3 494.3h.1M51.9 501.2h.1M59.6 499.3h.1M72.5 487.0h.1M69.0 494.1h.1M49.3 498.8h.1M50.7 500.1h.1M61.6 486.6h.1M55.6 498.7h.1M58.4 500.7h.1M71.7 491.6h.1M61.1 486.4h.1M70.5 490.5h.1M64.9 498.0h.1M69.1 492.6h.1M67.0 486.5h.1M51.0 501.3h.1M62.2 498.4h.1M55.7 498.2h.1M74.4 484.0h.1M64.5 486.9h.1M54.1 495.6h.1M70.2 494.4h.1M59.8 498.3h.1M69.6 496.4h.1M68.3 496.7h.1M74.7 486.8h.1M60.5 499.4h.1M63.1 500.1h.1M73.0 484.7h.1M58.5 486.8h.1M64.1 483.8h.1M73.9 485.2h.1M70.8 484.3h.1M54.1 496.1h.1M53.4 497.7h.1M57.7 498.7h.1M65.3 497.5h.1M75.8 488.7h.1M55.4 500.4h.1M66.2 496.1h.1M61.6 498.8h.1M53.5 492.9h.1M53.7 494.2h.1M56.6 491.9h.1M71.2 489.2h.1M70.1 484.6h.1M62.5 499.7h.1M53.1 493.7h.1M69.6 483.1h.1M49.5 498.9h.1M58.2 491.7h.1M68.6 494.2h.1M73.9 489.8h.1M54.4 499.2h.1M74.4 486.0h.1M70.8 484.9h.1M68.0 483.1h.1M51.4 501.8h.1M54.0 498.7h.1M71.2 493.0h.1M72.0 494.6h.1M74.3 486.4h.1M63.8 500.1h.1M77.1 483.2h.1M63.3 483.5h.1M69.2 483.8h.1M68.6 485.2h.1M60.9 486.7h.1M62.1 487.6h.1M65.9 483.7h.1M51.5 503.2h.1M55.9 492.7h.1M53.1 498.8h.1M77.1 485.4h.1M71.5 486.3h.1M70.0 494.7h.1M76.9 482.8h.1M55.4 490.9h.1M58.2 491.1h.1M55.3 494.8h.1M63.6 485.0h.1M73.2 487.5h.1M62.1 488.1h.1M54.2 496.3h.1M68.8 497.1h.1M52.5 492.0h.1M52.0 496.1h.1M69.1 495.0h.1M50.6 501.8h.1M72.5 489.3h.1M72.4 486.5h.1M58.8 499.8h.1M60.8 488.1h.1M59.7 489.0h.1M55.4 497.0h.1M62.1 500.5h.1M69.7 491.7h.1M55.9 498.3h.1M75.1 488.6h.1M49.3 502.4h.1M54.5 490.2h.1M56.0 490.1h.1M76.5 488.4h.1M53.4 498.3h.1M63.7 497.8h.1M61.1 487.1h.1M53.4 494.4h.1M53.9 496.9h.1M50.5 499.5h.1M54.4 500.9h.1M59.5 501.9h.1M49.2 502.6h.1M61.7 488.5h.1M64.0 497.8h.1M64.6 486.9h.1M55.4 497.8h.1M72.8 489.0h.1M68.9 494.7h.1M65.6 484.8h.1M62.1 501.4h.1M69.5 486.3h.1M50.6 500.8h.1M66.4 486.2h.1M68.9 481.6h.1M75.9 483.8h.1M61.3 488.6h.1M62.4 501.8h.1M71.1 490.3h.1M62.4 485.1h.1M56.1 499.1h.1M62.7 487.7h.1M72.0 483.2h.1M67.9 496.6h.1M53.3 495.4h.1M58.2 491.4h.1M58.9 499.9h.1M48.9 498.6h.1M63.1 498.1h.1M74.8 480.9h.1M53.4 499.1h.1M55.6 491.8h.1M52.7 498.6h.1M54.9 493.7h.1M67.7 495.8h.1M48.7 497.8h.1M71.5 487.4h.1M72.5 485.9h.1M61.3 488.4h.1M54.4 500.6h.1M64.2 498.8h.1M58.9 499.2h.1M53.9 500.4h.1M50.1 499.3h.1M59.7 487.6h.1M53.9 492.2h.1M70.3 492.8h.1M63.5 498.5h.1M61.0 499.6h.1M72.8 485.2h.1M52.7 496.6h.1M57.2 489.4h.1M69.9 482.4h.1M55.8 499.1h.1M54.8 490.6h.1M62.7 498.3h.1M66.5 485.8h.1M69.8 482.5h.1M53.7 494.0h.1M55.5 497.4h.1M78.6 485.2h.1M48.8 499.5h.1M72.1 485.8h.1M69.9 495.1h.1M71.7 494.7h.1M59.2 502.3h.1M57.8 502.5h.1M75.6 488.2h.1M65.6 496.6h.1M55.8 497.7h.1M63.4 497.6h.1M67.1 484.5h.1M77.1 488.6h.1M72.0 492.3h.1M61.4 497.9h.1M61.6 487.3h.1M53.0 497.6h.1M75.5 484.2h.1M68.4 494.1h.1M59.3 486.8h.1M52.4 502.8h.1M60.1 486.3h.1M67.2 495.4h.1M58.6 489.5h.1M73.8 487.3h.1M49.3 498.3h.1M54.2 497.3h.1M55.8 488.8h.1M65.8 496.9h.1M75.0 480.6h.1M60.9 489.2h.1M73.3 493.6h.1M64.6 498.3h.1M59.6 498.9h.1M70.8 487.4h.1M59.3 501.0h.1M69.8 485.7h.1M62.8 484.5h.1M65.9 484.8h.1M55.7 493.1h.1M70.8 481.9h.1M53.5 497.5h.1M53.2 495.9h.1M78.4 483.9h.1M67.7 482.2h.1M74.3 486.1h.1M76.0 480.9h.1M57.0 492.1h.1M56.3 493.7h.1M56.6 493.3h.1M54.6 499.5h.1M57.5 500.4h.1M54.4 498.6h.1M57.8 488.1h.1M75.6 490.7h.1M72.3 493.5h.1M58.6 499.8h.1M64.9 496.1h.1M67.2 494.6h.1M55.9 494.1h.1M54.1 495.9h.1M70.5 486.4h.1M62.8 498.8h.1M74.4 481.3h.1M63.9 496.8h.1M55.9 500.0h.1M64.9 498.1h.1M57.4 490.0h.1M51.9 499.7h.1M59.2 489.8h.1M67.5 481.7h.1M57.9 499.9h.1M53.4 500.8h.1M68.2 495.7h.1M61.8 488.4h.1M53.0 502.9h.1M72.2 485.1h.1M61.5 502.0h.1M64.5 486.4h.1M53.7 498.6h.1M54.5 492.4h.1M53.3 499.0h.1M57.5 500.6h.1M69.6 485.1h.1M71.6 492.8h.1M54.2 502.5h.1M77.7 483.7h.1M53.4 492.3h.1M64.8 486.9h.1M50.0 500.6h.1M54.5 492.0h.1M67.3 496.2h.1M65.3 496.2h.1M71.7 486.0h.1M68.0 483.4h.1M74.4 489.6h.1M49.2 499.8h.1M64.9 483.8h.1M57.7 491.1h.1M54.7 499.4h.1M66.7 495.7h.1M70.5 484.3h.1M55.3 490.7h.1M71.8 487.3h.1M68.6 497.6h.1M68.4 494.0h.1M54.0 497.7h.1M72.5 490.1h.1M56.0 498.8h.1M55.6 492.9h.1M72.4 488.7h.1M55.4 500.9h.1M69.2 485.3h.1M60.6 485.6h.1M53.7 496.5h.1M70.2 492.2h.1M61.7 501.2h.1M71.2 493.7h.1M52.9 492.9h.1M64.7 484.9h.1M68.6 496.8h.1M61.6 486.9h.1M62.7 498.0h.1M74.0 486.8h.1M68.9 496.3h.1M71.3 491.2h.1M66.1 497.1h.1M48.8 497.9h.1M51.7 497.6h.1M54.4 500.9h.1M59.1 501.1h.1M54.0 502.3h.1M59.4 500.8h.1M53.3 498.9h.1M55.8 495.1h.1M58.8 487.3h.1M54.6 497.0h.1M76.7 484.2h.1M61.5 498.0h.1M61.5 485.8h.1M70.7 486.7h.1M73.1 493.5h.1M55.3 501.9h.1M63.4 498.1h.1M54.8 491.7h.1M59.1 489.4h.1M72.4 494.7h.1M58.4 499.0h.1M73.0 485.9h.1M56.6 490.3h.1M73.3 493.0h.1M60.7 488.7h.1M72.6 481.7h.1M60.0 489.3h.1M76.0 482.0h.1M62.8 485.8h.1M69.6 493.6h.1M73.5 485.8h.1M57.0 492.6h.1M61.4 485.5h.1M74.8 481.0h.1M58.5 488.9h.1M59.9 487.4h.1M54.1 497.7h.1M75.0 489.2h.1M60.0 500.7h.1M53.9 497.9h.1M74.6 483.5h.1M61.8 500.0h.1M55.6 496.5h.1M72.9 486.7h.1M53.9 490.4h.1M71.5 488.5h.1M62.6 487.9h.1M55.8 492.4h.1M71.2 493.7h.1M67.1 485.2h.1M65.5 486.4h.1M64.7 485.4h.1M74.1 486.1h.1M64.5 485.6h.1M72.5 491.9h.1M61.0 499.7h.1M52.0 494.6h.1M54.6 498.5h.1M55.0 500.8h.1M71.5 492.0h.1M69.0 492.9h.1M71.4 491.9h.1M59.8 499.0h.1M50.9 503.0h.1M56.4 499.5h.1M64.2 484.3h.1M72.7 489.9h.1M52.4 495.2h.1M69.0 495.4h.1M71.7 492.2h.1M66.2 486.7h.1M75.7 483.6h.1M65.0 500.2h.1M55.3 490.9h.1M64.9 484.4h.1M71.3 493.1h.1M74.8 491.0h.1M71.0 486.0h.1M72.5 493.2h.1M60.7 500.8h.1M55.1 500.2h.1M67.9 495.6h.1M57.8 499.6h.1M58.9 490.5h.1M67.8 493.6h.1M55.7 497.3h.1M55.5 502.6h.1M55.6 497.3h.1M55.1 491.4h.1M67.1 485.2h.1M62.7 499.9h.1M69.6 492.8h.1M51.5 494.3h.1M63.2 498.5h.1M67.5 495.7h.1M71.1 487.8h.1M56.4 493.9h.1M74.1 491.7h.1M59.6 487.3h.1M57.8 502.7h.1M52.9 497.9h.1M70.3 486.4h.1M60.2 498.8h.1M54.3 495.8h.1M62.3 498.7h.1M58.2 491.3h.1M52.6 492.1h.1M67.4 495.7h.1M67.9 486.2h.1M77.6 483.1h.1M67.3 482.3h.1M65.4 483.9h.1M73.2 487.8h.1M64.6 499.4h.1M54.7 497.1h.1M51.6 498.6h.1M67.5 484.8h.1M55.1 494.4h.1M56.2 493.2h.1M58.3 487.4h.1M48.6 499.5h.1M59.1 490.7h.1M60.1 487.1h.1M54.0 495.9h.1M54.0 501.8h.1M53.0 494.7h.1M56.6 490.0h.1M68.1 494.8h.1M53.4 492.9h.1M71.0 495.5h.1M64.9 498.2h.1M54.4 499.9h.1M66.4 496.6h.1M51.1 500.5h.1M57.6 492.3h.1M53.0 497.1h.1M59.4 500.1h.1M75.6 484.2h.1M60.1 486.5h.1M75.4 485.2h.1M66.8 497.9h.1M59.5 489.5h.1M73.3 486.5h.1M74.6 492.0h.1M73.0 482.8h.1M61.3 500.0h.1M74.9 488.6h.1M77.3 482.4h.1M65.1 497.5h.1M72.7 483.5h.1M60.9 499.6h.1M77.4 484.7h.1M57.1 503.8h.1M73.9 491.3h.1M77.5 482.9h.1M49.7 498.0h.1M73.7 481.9h.1M71.8 493.8h.1M66.2 485.4h.1M69.2 493.2h.1M69.7 482.9h.1M54.0 491.9h.1M69.0 496.8h.1M61.4 487.5h.1M71.3 485.8h.1M72.7 484.7h.1M61.7 501.6h.1M72.6 482.9h.1M75.5 489.5h.1M72.6 485.8h.1M62.3 501.7h.1M65.9 484.0h.1M72.8 481.5h.1M58.2 502.5h.1M68.4 483.1h.1M61.3 501.5h.1M77.4 487.2h.1M73.8 482.3h.1M68.9 486.1h.1M66.6 499.2h.1M52.1 504.1h.1M74.2 480.4h.1M70.7 492.9h.1M56.3 499.0h.1M71.0 492.2h.1M48.6 498.9h.1M55.9 501.3h.1M57.1 498.5h.1M63.2 486.8h.1M75.8 482.2h.1M60.5 487.9h.1M73.3 490.5h.1M59.7 488.3h.1M74.0 487.5h.1" stroke="#3a3af2" stroke-opacity="0.7" stroke-width="0.8" stroke-linecap="square" fill="none"/>
<path d="M67.9 487.0h.1M65.7 495.1h.1M63.0 489.1h.1M67.1 493.5h.1M63.0 489.1h.1M58.8 498.2h.1M63.3 495.8h.1M68.9 488.1h.1M70.2 489.7h.1M59.7 498.1h.1M57.8 495.8h.1M69.6 490.6h.1M56.8 496.8h.1M69.5 489.2h.1M57.6 497.0h.1M58.1 497.5h.1M55.9 495.9h.1M69.7 490.3h.1M65.8 494.7h.1M57.9 493.3h.1M58.4 497.3h.1M58.2 493.1h.1M58.5 496.7h.1M57.5 494.8h.1M62.5 496.5h.1M67.9 487.3h.1M68.7 490.8h.1M57.1 493.4h.1M67.4 492.8h.1M68.7 491.7h.1M59.9 497.3h.1M57.7 497.3h.1M69.6 487.5h.1M58.5 496.8h.1M61.4 497.0h.1M64.9 495.8h.1M65.2 495.0h.1M68.7 492.3h.1M64.2 495.7h.1M59.7 496.7h.1M68.2 488.1h.1M57.6 494.8h.1M62.4 489.5h.1M57.4 493.3h.1M69.1 492.2h.1M60.6 489.7h.1M63.7 495.7h.1M69.5 487.5h.1M63.3 488.8h.1M56.1 494.9h.1M62.4 489.2h.1M69.7 488.5h.1M57.1 494.0h.1M70.3 486.9h.1M57.1 496.9h.1M57.9 493.4h.1M68.1 487.9h.1M67.5 493.9h.1M63.7 496.4h.1M59.6 490.4h.1M69.1 489.8h.1M65.3 495.0h.1M62.2 488.6h.1M64.5 487.8h.1M69.3 490.9h.1M64.2 487.8h.1M57.8 496.0h.1M64.4 487.5h.1M58.3 492.5h.1M55.6 496.8h.1M64.8 495.8h.1M58.8 497.3h.1M68.2 486.7h.1M56.6 496.2h.1M64.7 495.0h.1M58.7 498.2h.1M68.5 487.5h.1M68.2 492.6h.1M66.8 487.2h.1M66.7 487.3h.1M62.6 497.2h.1M65.1 487.5h.1M56.3 497.9h.1M68.8 492.2h.1M62.6 497.0h.1M63.9 495.8h.1M70.6 489.0h.1M69.8 488.2h.1M65.7 494.3h.1M57.0 497.5h.1M57.7 495.4h.1M57.9 496.7h.1M64.0 488.8h.1M66.6 494.2h.1M57.7 493.7h.1M70.3 489.3h.1M58.5 497.4h.1M59.5 498.1h.1M60.1 497.5h.1M68.7 490.3h.1M55.9 497.3h.1M59.3 496.9h.1M68.8 490.5h.1M58.3 497.1h.1M64.3 495.8h.1M67.8 487.6h.1M68.9 486.4h.1M56.0 496.1h.1M56.6 495.9h.1M57.0 494.7h.1M55.8 496.4h.1M70.2 488.1h.1M56.7 496.4h.1M64.8 487.5h.1M58.8 497.5h.1M57.7 498.0h.1M69.4 487.7h.1M55.9 495.2h.1M67.5 492.4h.1M59.3 492.0h.1M55.9 497.3h.1M57.7 493.7h.1M69.5 487.1h.1M63.9 488.0h.1M60.2 490.8h.1M64.2 487.5h.1M60.5 497.1h.1M63.7 495.4h.1M56.7 495.1h.1M59.3 490.9h.1M56.8 496.2h.1M68.2 491.6h.1M65.7 494.9h.1M66.7 487.4h.1M60.8 497.6h.1M69.1 492.1h.1M56.8 493.9h.1M69.7 491.0h.1M63.4 488.7h.1M63.9 487.8h.1M70.5 488.1h.1M67.7 492.8h.1M58.5 497.2h.1M68.3 491.1h.1M57.4 495.7h.1M64.7 488.5h.1M58.7 492.9h.1M69.7 486.6h.1M58.5 491.7h.1M63.9 488.2h.1M64.6 495.4h.1M62.0 497.0h.1M69.8 490.9h.1M62.4 489.6h.1M69.7 487.6h.1M69.3 490.6h.1M57.8 496.8h.1M57.6 496.6h.1M59.4 497.6h.1M69.0 490.1h.1M69.3 486.8h.1M66.9 493.2h.1M61.4 489.1h.1M70.1 490.7h.1M69.5 488.4h.1M65.0 495.0h.1" stroke="#20a8f0" stroke-opacity="0.9" stroke-width="0.8" stroke-linecap="square" fill="none"/>
<path d="M65.1 493.1h.1M61.8 491.7h.1M61.9 495.2h.1M61.9 495.0h.1M63.9 495.3h.1M67.1 488.7h.1M60.3 495.6h.1M61.5 494.8h.1M64.8 493.0h.1M62.7 495.7h.1M61.6 496.1h.1M60.8 492.6h.1M66.0 493.2h.1M59.5 496.4h.1M63.1 494.2h.1M64.7 493.3h.1M64.0 494.3h.1M61.8 490.3h.1M68.6 490.2h.1M68.0 488.7h.1M63.9 489.1h.1M63.6 493.9h.1M58.6 495.2h.1M67.1 489.0h.1M61.1 495.4h.1M59.8 495.3h.1M67.7 488.5h.1M66.1 489.4h.1M67.1 488.2h.1M58.7 493.7h.1M59.6 496.1h.1M65.5 489.9h.1M66.3 491.4h.1M61.9 490.1h.1M59.1 494.1h.1M64.6 489.2h.1M59.5 495.7h.1M63.6 494.3h.1M66.9 492.7h.1M59.2 495.7h.1M64.6 489.9h.1M63.4 495.1h.1M60.4 493.4h.1M62.1 495.0h.1M60.8 495.9h.1M59.2 495.3h.1M67.0 492.4h.1M59.3 494.6h.1M60.9 495.5h.1M59.0 494.9h.1M59.7 496.1h.1M66.3 489.3h.1M66.5 493.2h.1M65.4 493.2h.1M67.5 491.4h.1M67.2 488.1h.1M62.0 494.9h.1M65.4 493.7h.1M58.0 495.9h.1M61.1 495.0h.1M67.7 491.7h.1M62.1 491.6h.1M63.0 490.1h.1M68.5 490.3h.1M61.2 491.2h.1M58.7 495.2h.1M62.5 490.9h.1M59.0 494.2h.1M67.2 491.0h.1M60.0 492.1h.1M65.8 488.4h.1M65.6 493.1h.1M67.4 490.0h.1M60.0 495.7h.1M61.0 490.7h.1M66.8 488.6h.1M68.3 489.0h.1M63.9 490.1h.1M64.8 490.1h.1M68.3 488.7h.1M66.8 490.2h.1M68.7 489.4h.1M61.3 496.3h.1M67.7 490.5h.1M66.7 491.8h.1M65.7 493.3h.1M68.4 489.1h.1M63.9 489.8h.1M59.2 493.9h.1M59.4 493.9h.1M60.3 495.1h.1M61.7 496.2h.1M59.6 495.1h.1M64.8 489.9h.1M58.6 494.2h.1M66.2 492.1h.1M63.5 494.9h.1M66.6 489.7h.1M62.0 491.1h.1M62.9 490.6h.1M62.8 494.5h.1M66.1 489.4h.1M59.8 496.5h.1M64.4 493.8h.1M65.4 492.9h.1M62.8 489.7h.1M61.1 495.4h.1M67.0 490.5h.1M62.4 494.5h.1M60.5 494.6h.1M58.4 495.8h.1M60.1 495.6h.1M66.6 489.6h.1M66.5 490.7h.1M66.1 490.5h.1M59.5 493.4h.1M63.6 489.8h.1M59.0 495.5h.1M64.5 489.1h.1M63.2 490.8h.1M60.8 491.7h.1M60.2 495.9h.1M61.6 491.5h.1M60.1 494.0h.1M63.6 489.2h.1M67.4 489.1h.1M61.2 490.9h.1M65.2 494.1h.1M59.7 494.0h.1M59.3 494.3h.1M67.1 490.0h.1M67.4 489.7h.1M58.8 495.5h.1M61.1 495.8h.1M67.7 491.7h.1M61.8 491.2h.1M66.3 490.4h.1M67.4 489.3h.1M61.8 495.2h.1M68.3 488.5h.1M63.1 490.8h.1M63.6 495.1h.1M63.7 494.0h.1M67.7 488.7h.1M64.7 493.7h.1M60.4 496.3h.1M67.3 492.1h.1M62.8 495.2h.1M68.5 489.4h.1M62.0 494.9h.1M59.7 495.4h.1M66.5 489.2h.1M60.4 493.3h.1M64.7 489.2h.1M62.3 495.9h.1M60.2 492.4h.1M60.3 492.0h.1M65.3 492.9h.1M65.4 489.7h.1M62.3 495.5h.1M67.1 488.9h.1M66.1 490.1h.1M65.6 493.0h.1M58.9 495.7h.1M62.5 489.8h.1M60.4 494.7h.1M60.0 495.7h.1M61.9 491.5h.1M60.6 492.4h.1M67.2 490.6h.1M66.7 488.3h.1M66.5 492.3h.1M62.0 491.2h.1M61.0 494.8h.1M58.1 495.3h.1M62.5 489.7h.1M61.1 492.4h.1M63.0 494.6h.1M59.6 493.5h.1M68.3 489.3h.1M66.6 489.3h.1M60.9 495.6h.1M60.6 493.1h.1M61.5 490.4h.1M62.2 490.5h.1M59.1 492.9h.1M62.7 489.8h.1M59.5 494.7h.1M65.0 489.3h.1M66.5 493.2h.1M61.8 494.5h.1M61.2 494.6h.1M58.0 495.3h.1M61.3 495.8h.1M62.5 490.9h.1" stroke="#34d23a" stroke-opacity="0.95" stroke-width="0.8" stroke-linecap="square" fill="none"/>
<path d="M64.9 490.3h.1M64.6 491.3h.1M63.8 493.2h.1M61.6 493.3h.1M64.5 490.7h.1M62.0 493.4h.1M61.8 494.5h.1M62.0 491.9h.1M66.0 490.8h.1M63.7 490.6h.1M64.9 492.8h.1M62.5 494.0h.1M61.6 492.2h.1M61.3 493.8h.1M61.9 492.1h.1M62.1 494.1h.1M62.4 494.3h.1M60.8 493.2h.1M64.9 491.8h.1M61.5 493.8h.1M64.6 490.8h.1M61.9 493.2h.1M62.6 493.6h.1M64.9 492.3h.1M64.9 491.8h.1M63.7 493.7h.1M65.2 490.4h.1M65.9 491.4h.1M63.5 493.7h.1M64.9 490.8h.1M65.6 491.4h.1M64.8 491.0h.1M64.9 491.0h.1M61.1 493.7h.1M63.8 491.0h.1M64.6 490.8h.1M61.8 494.3h.1M64.5 490.8h.1M63.3 491.1h.1M64.5 492.8h.1M65.7 491.6h.1M64.9 492.0h.1M63.8 493.7h.1M61.5 493.9h.1M62.0 493.1h.1M63.1 491.7h.1M64.7 493.0h.1M63.9 490.7h.1M61.0 494.3h.1M63.3 491.6h.1M61.5 493.6h.1M60.7 493.6h.1M63.7 491.4h.1M64.5 490.7h.1" stroke="#c8e020" stroke-opacity="0.95" stroke-width="0.8" stroke-linecap="square" fill="none"/>
<path d="M62.9 492.0h.1M63.5 491.7h.1M62.2 493.1h.1M63.8 492.1h.1M62.8 492.4h.1M63.2 491.8h.1M62.7 492.5h.1" stroke="#ee4a1c" stroke-opacity="1.0" stroke-width="0.8" stroke-linecap="square" fill="none"/>
<line x1="87.30" y1="421.20" x2="87.30" y2="521.30" stroke="#3c3c3c" stroke-width="1.0"/>
<line x1="32.90" y1="469.00" x2="131.50" y2="469.00" stroke="#3c3c3c" stroke-width="1.0"/>
<text x="34.90" y="430.90" font-size="5.6" text-anchor="start" fill="#333">1.78</text>
<text x="126.00" y="430.90" font-size="5.6" text-anchor="end" fill="#333">2.21</text>
<text x="34.90" y="515.30" font-size="5.6" text-anchor="start" fill="#333">95.0</text>
<text x="126.00" y="515.30" font-size="5.6" text-anchor="end" fill="#333">0.97</text>
<text x="79.20" y="555.90" font-size="11.0" text-anchor="middle" stroke="#111" stroke-width="0.22" fill="#111">0</text>
<rect x="156.80" y="421.60" width="100.60" height="100.60" fill="#fff" stroke="#8c8c8c" stroke-width="0.7"/>
<path d="M154.6 522.2h2.2M155.8 515.7h1M155.8 511.9h1M155.8 509.2h1M155.8 507.1h1M155.8 505.4h1M155.8 503.9h1M155.8 502.7h1M155.8 501.6h1M154.6 500.6h2.2M155.8 494.1h1M155.8 490.3h1M155.8 487.6h1M155.8 485.5h1M155.8 483.8h1M155.8 482.3h1M155.8 481.1h1M155.8 480.0h1M154.6 479.0h2.2M155.8 472.5h1M155.8 468.7h1M155.8 466.0h1M155.8 463.9h1M155.8 462.2h1M155.8 460.7h1M155.8 459.5h1M155.8 458.4h1M154.6 457.4h2.2M155.8 450.9h1M155.8 447.1h1M155.8 444.4h1M155.8 442.3h1M155.8 440.6h1M155.8 439.1h1M155.8 437.9h1M155.8 436.8h1M154.6 435.8h2.2M155.8 429.3h1M155.8 425.5h1M155.8 422.8h1M156.8 522.2v2.2M164.3 522.2v1.1M168.7 522.2v1.1M171.8 522.2v1.1M174.2 522.2v1.1M176.1 522.2v1.1M177.8 522.2v1.1M179.2 522.2v1.1M180.5 522.2v1.1M181.6 522.2v2.2M189.1 522.2v1.1M193.5 522.2v1.1M196.6 522.2v1.1M199.0 522.2v1.1M201.0 522.2v1.1M202.6 522.2v1.1M204.1 522.2v1.1M205.3 522.2v1.1M206.5 522.2v2.2M214.0 522.2v1.1M218.3 522.2v1.1M221.4 522.2v1.1M223.8 522.2v1.1M225.8 522.2v1.1M227.5 522.2v1.1M228.9 522.2v1.1M230.2 522.2v1.1M231.3 522.2v2.2M238.8 522.2v1.1M243.2 522.2v1.1M246.3 522.2v1.1M248.7 522.2v1.1M250.6 522.2v1.1M252.3 522.2v1.1M253.8 522.2v1.1M255.0 522.2v1.1M256.2 522.2v2.2" stroke="#555" stroke-width="0.5" fill="none"/>
<text x="153.20" y="523.50" font-size="4.0" text-anchor="end" fill="#333">10<tspan dy="-1.7" font-size="2.7">2</tspan></text>
<text x="158.40" y="530.20" font-size="4.0" text-anchor="middle" fill="#333">10<tspan dy="-1.7" font-size="2.7">2</tspan></text>
<text x="153.20" y="501.90" font-size="4.0" text-anchor="end" fill="#333">10<tspan dy="-1.7" font-size="2.7">3</tspan></text>
<text x="183.24" y="530.20" font-size="4.0" text-anchor="middle" fill="#333">10<tspan dy="-1.7" font-size="2.7">3</tspan></text>
<text x="153.20" y="480.30" font-size="4.0" text-anchor="end" fill="#333">10<tspan dy="-1.7" font-size="2.7">4</tspan></text>
<text x="208.08" y="530.20" font-size="4.0" text-anchor="middle" fill="#333">10<tspan dy="-1.7" font-size="2.7">4</tspan></text>
<text x="153.20" y="458.70" font-size="4.0" text-anchor="end" fill="#333">10<tspan dy="-1.7" font-size="2.7">5</tspan></text>
<text x="232.92" y="530.20" font-size="4.0" text-anchor="middle" fill="#333">10<tspan dy="-1.7" font-size="2.7">5</tspan></text>
<text x="153.20" y="437.10" font-size="4.0" text-anchor="end" fill="#333">10<tspan dy="-1.7" font-size="2.7">6</tspan></text>
<text x="257.76" y="530.20" font-size="4.0" text-anchor="middle" fill="#333">10<tspan dy="-1.7" font-size="2.7">6</tspan></text>
<text x="207.10" y="541.50" font-size="4.8" text-anchor="middle" fill="#333">FL1-A :: FITC-A</text>
<text x="144.60" y="471.90" font-size="4.8" text-anchor="middle" fill="#333" transform="rotate(-90 144.60 471.90)">FL3-A :: PI-A</text>
<ellipse cx="189.00" cy="491.70" rx="15.00" ry="6.00" fill="#4a4af2" fill-opacity="0.4" filter="url(#fblur)" transform="rotate(-35 189.00 491.70)"/>
<path d="M194.7 480.2h.1M162.3 500.9h.1M202.4 478.5h.1M203.8 473.9h.1M176.2 489.3h.1M166.0 498.0h.1M193.0 479.8h.1M205.6 480.2h.1M168.7 504.2h.1M219.9 476.2h.1M173.6 485.2h.1M196.1 479.6h.1M178.0 504.7h.1M192.7 500.4h.1M189.6 501.0h.1M204.8 486.7h.1M173.9 490.3h.1M187.3 482.7h.1M172.8 513.6h.1M180.2 487.3h.1M174.7 495.7h.1M169.4 499.0h.1M164.0 499.7h.1M212.4 487.8h.1M211.6 479.9h.1M205.4 480.9h.1M167.4 494.1h.1M173.5 502.7h.1M204.9 474.7h.1M175.7 484.4h.1M170.9 501.5h.1M206.1 485.5h.1M200.5 476.0h.1M201.5 491.2h.1M186.4 501.9h.1M196.7 477.0h.1M207.0 481.4h.1M167.0 488.1h.1M177.3 490.1h.1M204.9 483.0h.1M205.7 486.6h.1M189.3 504.4h.1M185.8 504.5h.1M173.2 501.1h.1M195.7 478.3h.1M175.7 490.5h.1M158.1 512.8h.1M181.0 486.3h.1M212.5 470.9h.1M211.4 475.3h.1M206.4 498.4h.1M162.0 491.3h.1M180.6 483.6h.1M192.8 498.6h.1M240.3 472.3h.1M186.3 482.9h.1M203.4 489.5h.1M208.7 467.7h.1M190.9 503.3h.1M210.3 469.1h.1M201.8 479.1h.1M176.7 506.0h.1M172.5 491.0h.1M202.9 488.3h.1M230.2 474.4h.1M213.4 467.4h.1M170.6 496.4h.1M180.4 505.5h.1M202.8 475.7h.1M166.9 505.2h.1M197.6 475.2h.1M210.6 485.0h.1M194.5 480.2h.1M189.9 477.3h.1M174.2 503.5h.1M201.5 476.8h.1M210.8 484.8h.1M176.4 504.0h.1M168.9 501.6h.1M204.3 485.1h.1M206.2 501.1h.1M194.8 497.6h.1M229.3 459.7h.1M183.7 503.3h.1M171.4 501.3h.1M205.1 481.2h.1M206.5 478.6h.1M199.9 478.1h.1M208.2 492.1h.1M196.1 505.1h.1M209.8 477.7h.1M211.8 484.3h.1M185.3 478.9h.1M211.2 471.4h.1M190.5 505.8h.1M164.1 508.3h.1M181.9 472.7h.1M199.5 477.8h.1M202.3 489.7h.1M192.7 498.7h.1M203.2 492.2h.1M206.8 483.4h.1M195.3 507.6h.1M210.7 471.4h.1M191.1 480.5h.1M191.8 504.0h.1M211.0 484.1h.1M179.1 508.4h.1M161.9 497.7h.1M177.0 504.9h.1M172.9 507.9h.1M181.3 504.5h.1M188.4 505.5h.1M176.5 492.9h.1M188.8 479.0h.1M206.2 481.0h.1M175.3 485.1h.1M184.2 484.2h.1M183.5 507.8h.1M191.4 499.3h.1M171.6 497.1h.1M214.0 464.0h.1M201.9 489.7h.1M186.0 476.5h.1M159.9 501.7h.1M208.2 482.9h.1M191.7 499.8h.1M194.7 501.2h.1M175.0 505.5h.1M221.2 476.8h.1M173.7 480.5h.1M189.8 501.0h.1M177.4 511.6h.1M192.8 474.2h.1M196.0 477.9h.1M202.1 500.6h.1M198.2 478.4h.1M198.0 504.0h.1M188.1 482.2h.1M204.6 483.0h.1M180.0 504.0h.1M173.1 506.4h.1M175.1 495.0h.1M162.9 501.8h.1M203.4 491.1h.1M201.3 478.3h.1M216.7 475.4h.1M172.9 500.9h.1M232.1 473.9h.1M168.1 481.7h.1M173.5 500.1h.1M207.5 479.4h.1M202.5 478.7h.1M183.9 505.8h.1M191.1 500.3h.1M210.2 476.5h.1M163.5 509.5h.1M213.7 481.3h.1M176.9 507.8h.1M191.2 502.7h.1M203.2 469.0h.1M195.7 469.6h.1M175.3 503.6h.1M201.0 492.7h.1M199.2 497.4h.1M174.1 502.4h.1M210.5 470.1h.1M173.6 504.7h.1M190.7 501.0h.1M200.5 492.0h.1M174.4 515.4h.1M207.6 479.8h.1M177.1 486.6h.1M201.9 474.4h.1M189.3 474.2h.1M219.0 480.6h.1M199.6 492.9h.1M199.0 471.5h.1M208.6 474.4h.1M187.1 503.1h.1M179.2 504.1h.1M203.0 475.5h.1M170.2 489.1h.1M173.5 502.1h.1M194.3 469.3h.1M199.8 492.9h.1M185.2 482.3h.1M212.8 462.9h.1M206.7 484.1h.1M212.5 481.1h.1M159.6 504.7h.1M204.6 482.3h.1M182.0 485.9h.1M170.5 490.6h.1M193.4 499.2h.1M186.2 508.9h.1M202.0 477.3h.1M208.9 477.1h.1M204.5 485.6h.1M173.8 504.1h.1M194.2 499.6h.1M219.3 479.1h.1M191.6 514.9h.1M174.2 502.6h.1M204.4 486.6h.1M186.2 505.0h.1M210.5 473.7h.1M214.6 474.0h.1M182.8 508.4h.1M167.8 501.2h.1M173.4 490.8h.1M208.6 483.3h.1M183.1 482.7h.1M189.3 501.4h.1M171.2 504.5h.1M178.0 508.6h.1M181.5 482.4h.1M200.3 476.0h.1M173.5 481.6h.1M176.4 491.2h.1M199.9 498.1h.1M207.5 482.2h.1M176.1 510.7h.1M204.9 484.6h.1M189.3 502.2h.1M202.3 493.1h.1M204.6 475.6h.1M172.3 496.3h.1M174.8 490.7h.1M167.1 504.4h.1M197.4 479.7h.1M179.6 471.9h.1M201.2 477.8h.1M197.9 494.3h.1M166.0 514.5h.1M199.4 471.7h.1M207.3 483.9h.1M216.4 481.4h.1M188.7 481.3h.1M166.2 503.1h.1M204.9 479.9h.1M175.1 505.6h.1M185.6 484.6h.1M167.0 507.9h.1M200.1 495.7h.1M209.8 489.8h.1M207.5 480.6h.1M194.7 480.4h.1M204.2 486.1h.1M174.3 491.1h.1M179.7 481.9h.1M199.4 476.3h.1M206.4 482.7h.1M167.8 500.7h.1M188.3 475.3h.1M187.4 481.9h.1M197.9 478.2h.1M213.9 481.4h.1M185.0 483.1h.1M171.2 499.9h.1M210.7 486.6h.1M213.3 472.3h.1M216.0 470.6h.1M206.5 483.5h.1M210.6 483.6h.1M213.9 499.2h.1M192.8 479.6h.1M194.7 477.3h.1M183.7 482.7h.1M231.1 469.8h.1M202.1 490.7h.1M172.2 503.6h.1M204.7 487.0h.1M191.7 473.8h.1M191.9 476.4h.1M174.3 491.2h.1M194.6 498.1h.1M201.8 490.2h.1M161.1 515.8h.1M181.3 486.3h.1M200.4 469.5h.1M180.3 509.3h.1M187.8 502.2h.1M161.4 511.7h.1M202.7 478.3h.1M212.7 480.7h.1M185.3 480.9h.1M185.3 484.1h.1M187.6 502.4h.1M171.0 496.4h.1M183.0 503.5h.1M175.4 504.6h.1M172.5 499.6h.1M202.9 473.7h.1M172.7 510.9h.1M205.4 480.1h.1M189.0 481.9h.1M209.7 491.0h.1M173.4 494.4h.1M201.5 475.3h.1M172.2 505.0h.1M206.5 487.9h.1M205.6 496.0h.1M193.8 499.3h.1M204.9 478.8h.1M223.0 468.8h.1M205.3 493.7h.1M170.5 507.5h.1M205.5 485.4h.1M172.9 520.1h.1M198.5 475.6h.1M163.1 497.8h.1M173.9 497.3h.1M182.2 486.9h.1M208.1 484.5h.1M173.5 497.6h.1M212.4 487.3h.1M187.6 502.4h.1M216.1 471.3h.1M187.7 502.6h.1M173.4 499.7h.1M221.4 477.2h.1M206.0 480.2h.1M191.1 500.9h.1M195.0 479.9h.1M188.3 478.7h.1M181.7 505.0h.1M173.5 496.5h.1M186.3 483.5h.1M189.9 481.3h.1M200.7 498.4h.1M193.9 480.2h.1M215.2 482.0h.1M198.8 502.7h.1M190.3 501.4h.1M161.4 496.8h.1M190.7 500.8h.1M212.8 481.6h.1M177.7 488.3h.1M172.8 507.3h.1M161.7 512.7h.1M205.0 490.1h.1M209.0 458.9h.1M206.2 473.5h.1M204.8 481.6h.1M200.0 494.4h.1M178.7 487.4h.1M171.7 502.7h.1M175.4 481.8h.1M206.4 476.3h.1M170.9 491.0h.1M160.3 514.8h.1M202.5 476.4h.1M178.4 488.5h.1M182.4 486.8h.1M195.4 502.1h.1M210.2 473.2h.1M200.1 481.0h.1M219.1 466.9h.1M213.9 480.8h.1M206.1 473.8h.1M210.7 466.7h.1M214.5 469.5h.1M219.1 465.6h.1M216.2 468.3h.1M200.5 485.7h.1M209.9 476.7h.1M214.9 473.8h.1M221.1 472.1h.1M219.4 471.9h.1M203.0 481.2h.1M211.4 475.3h.1M213.8 483.9h.1M212.0 483.5h.1M217.6 473.7h.1M206.1 488.0h.1M211.9 475.3h.1M198.9 471.4h.1M205.9 475.1h.1M203.2 478.7h.1M211.8 480.7h.1M220.2 476.6h.1M205.4 482.5h.1M198.0 479.7h.1M203.4 485.5h.1M204.4 472.2h.1M220.4 473.8h.1M221.9 473.7h.1M203.9 482.3h.1M217.9 469.8h.1M219.6 472.4h.1M208.4 472.2h.1M204.9 474.2h.1M217.0 469.3h.1M202.3 484.6h.1M214.3 481.5h.1M199.7 477.1h.1M227.5 476.8h.1M215.0 476.0h.1M225.1 476.6h.1M203.7 478.6h.1M205.6 467.9h.1M208.3 476.7h.1M213.8 469.7h.1M211.6 476.2h.1M201.8 487.7h.1M219.2 468.4h.1M216.5 464.6h.1M210.2 481.8h.1M217.9 477.7h.1M202.6 472.9h.1M197.0 484.7h.1M207.0 474.9h.1M208.1 470.0h.1M222.4 475.1h.1M215.2 477.1h.1M224.5 476.3h.1M205.4 483.0h.1M220.9 469.8h.1M203.8 479.9h.1M203.5 488.8h.1M220.0 470.2h.1M211.0 477.1h.1M203.9 471.5h.1M217.0 470.7h.1M210.7 473.3h.1M217.8 466.8h.1M200.1 475.1h.1M205.4 471.6h.1M210.7 472.7h.1M199.9 471.9h.1M222.5 475.5h.1M216.8 481.5h.1M209.8 465.2h.1M200.2 473.8h.1M213.1 472.5h.1M211.8 469.9h.1M215.7 463.8h.1M217.8 472.5h.1M198.7 479.4h.1M199.3 479.5h.1M209.5 473.0h.1M200.9 480.9h.1M199.5 480.1h.1M201.5 476.3h.1M199.6 485.1h.1M216.5 465.3h.1M221.8 469.5h.1M222.0 478.0h.1M215.6 485.6h.1M218.9 467.1h.1M213.7 472.0h.1M218.4 480.8h.1M211.9 474.5h.1M205.6 474.2h.1M217.6 476.8h.1M211.6 484.1h.1M216.2 468.0h.1M197.7 477.6h.1M227.4 472.8h.1M214.6 472.2h.1M198.8 484.3h.1M203.0 468.8h.1M211.3 480.6h.1M204.9 481.6h.1M209.3 486.4h.1M209.1 466.6h.1M214.5 473.9h.1M211.8 473.8h.1M201.2 482.3h.1M228.5 475.8h.1M210.5 474.2h.1M203.6 486.0h.1M217.1 466.8h.1M216.4 482.9h.1M215.7 470.7h.1M222.2 476.4h.1M212.6 474.1h.1M211.6 470.3h.1M200.8 466.7h.1M217.4 466.9h.1M204.8 475.5h.1M208.4 485.1h.1M212.0 483.3h.1M195.3 478.1h.1M212.9 472.1h.1M216.4 476.7h.1M219.1 475.9h.1M209.0 481.2h.1M214.8 474.3h.1M198.3 482.7h.1M212.9 478.6h.1M205.0 478.4h.1M221.9 479.6h.1M209.3 467.0h.1M206.3 473.0h.1M217.8 463.5h.1M206.6 485.5h.1M223.3 472.5h.1M211.6 483.1h.1M208.5 484.2h.1M208.7 463.4h.1M205.4 480.4h.1M210.5 469.2h.1M210.9 474.8h.1M218.1 466.6h.1M210.3 478.3h.1M214.6 461.5h.1M216.8 471.5h.1M205.4 476.7h.1M212.1 485.2h.1M215.2 482.3h.1M203.8 474.6h.1M220.0 469.7h.1M215.9 459.1h.1M201.3 477.5h.1M208.8 478.2h.1M214.1 475.8h.1M211.2 471.8h.1M219.8 470.4h.1M201.0 480.6h.1M211.5 479.4h.1M222.8 474.3h.1M203.6 486.8h.1M203.5 472.2h.1M209.6 478.7h.1M211.2 475.6h.1M200.5 481.1h.1M209.0 482.4h.1M212.0 473.5h.1M213.2 473.7h.1M197.7 483.5h.1M217.3 467.3h.1M224.4 478.2h.1M215.6 478.8h.1M205.9 478.1h.1M222.2 478.3h.1M233.8 479.6h.1M217.7 468.0h.1M211.6 469.5h.1M204.9 473.7h.1M203.9 470.6h.1M214.3 493.0h.1M214.3 482.4h.1M204.9 483.2h.1M213.3 487.8h.1M201.1 485.5h.1M196.3 478.7h.1M197.9 479.4h.1M215.3 478.9h.1M212.9 486.0h.1M214.5 479.8h.1M220.0 476.1h.1M210.2 470.5h.1M204.0 480.1h.1M198.6 480.6h.1M222.3 476.5h.1M219.3 471.8h.1M200.7 483.7h.1M217.3 466.5h.1M218.8 470.8h.1M218.1 470.3h.1M212.3 470.5h.1M212.2 462.0h.1M218.0 482.2h.1M212.1 479.0h.1M218.3 469.5h.1M220.8 489.6h.1M207.4 461.8h.1M210.9 479.6h.1M218.2 475.4h.1M214.7 466.2h.1M208.0 471.8h.1M201.5 468.5h.1M193.8 478.0h.1M213.4 470.2h.1M209.4 477.8h.1M225.0 469.9h.1M220.2 471.0h.1M214.3 466.6h.1M214.1 481.2h.1M211.0 479.9h.1M208.8 478.2h.1M218.0 467.5h.1M227.2 477.3h.1M205.8 468.4h.1M215.6 461.3h.1M221.8 478.1h.1M206.9 466.2h.1M210.9 483.3h.1M221.6 473.6h.1M212.8 477.6h.1M215.0 472.2h.1M203.0 484.3h.1M201.0 488.7h.1M206.5 484.8h.1M204.8 466.0h.1M207.7 482.5h.1M210.8 480.2h.1M217.7 472.9h.1M218.1 468.9h.1M202.8 485.4h.1M214.7 468.0h.1M205.7 476.8h.1M215.5 481.8h.1M224.2 481.7h.1M217.0 471.6h.1M196.5 483.9h.1M220.1 471.8h.1M207.7 478.9h.1M217.2 470.4h.1M203.6 484.8h.1M212.6 473.2h.1M212.2 471.7h.1M208.4 484.5h.1M214.0 475.8h.1M210.5 472.3h.1M198.3 474.2h.1M203.5 481.0h.1M203.0 487.2h.1M224.1 482.6h.1M206.8 477.5h.1M215.2 473.6h.1M207.1 484.3h.1M208.3 469.0h.1M212.9 472.3h.1M217.4 470.7h.1M211.2 477.2h.1M219.7 481.3h.1M211.4 479.6h.1M198.2 474.3h.1M219.1 466.9h.1M203.2 470.5h.1M198.3 477.6h.1M214.5 475.9h.1M204.1 470.5h.1M212.6 474.5h.1M208.8 479.8h.1M220.8 472.8h.1M209.0 485.4h.1M215.9 477.2h.1M205.7 468.6h.1M209.7 469.6h.1M195.3 478.8h.1M199.1 486.1h.1M221.6 478.3h.1M215.2 478.6h.1M212.3 472.0h.1M205.5 490.2h.1M212.3 485.3h.1M218.0 472.7h.1M216.7 470.8h.1M198.4 479.8h.1M219.2 473.3h.1M219.1 478.2h.1M208.6 481.4h.1M206.5 472.2h.1M219.4 478.0h.1M220.0 473.5h.1M218.0 473.8h.1M220.2 470.3h.1M208.2 486.9h.1M212.1 465.0h.1M207.5 483.3h.1M215.7 464.3h.1M213.5 474.5h.1M217.0 469.6h.1M214.0 476.4h.1M191.2 477.0h.1M201.3 483.9h.1M213.7 484.9h.1M215.3 474.4h.1M211.7 469.4h.1M217.5 477.9h.1M213.1 474.3h.1M205.2 477.7h.1M218.6 478.5h.1M207.2 467.7h.1M209.4 482.9h.1M220.7 471.7h.1M207.6 472.9h.1M217.9 473.4h.1M216.3 479.5h.1M221.6 474.3h.1M201.5 492.3h.1M198.3 479.6h.1M211.0 472.2h.1M220.2 470.7h.1M211.7 477.9h.1M219.2 463.5h.1M204.2 489.8h.1M218.7 469.1h.1M213.5 481.3h.1M205.8 488.7h.1M198.2 485.6h.1M193.7 477.5h.1M214.9 472.8h.1M211.7 467.6h.1M210.1 460.0h.1M223.9 472.9h.1M208.4 473.4h.1M199.9 481.2h.1M201.7 478.4h.1M211.2 478.7h.1M213.5 471.9h.1M202.9 476.3h.1M205.6 482.9h.1M216.3 481.7h.1M202.2 469.2h.1M213.9 469.7h.1M213.4 466.0h.1M214.4 471.7h.1M208.5 470.2h.1M199.8 490.8h.1M215.5 474.9h.1M216.0 471.1h.1M215.2 474.4h.1M213.4 475.6h.1M221.8 470.9h.1M210.8 469.0h.1M203.4 486.1h.1M206.0 487.1h.1M210.5 480.4h.1M208.2 465.3h.1M207.8 470.2h.1M220.1 476.3h.1M217.0 467.3h.1M212.2 471.4h.1M215.3 466.4h.1M210.1 464.6h.1M209.1 478.7h.1M201.7 484.6h.1M209.3 468.5h.1M208.7 476.8h.1M205.1 484.4h.1M214.4 479.8h.1M219.5 483.2h.1M213.6 476.3h.1M203.8 470.6h.1M213.4 473.6h.1M214.9 479.2h.1M216.8 476.5h.1M211.9 480.0h.1M205.2 483.5h.1M210.9 471.3h.1M214.1 466.2h.1M210.2 479.0h.1M227.8 436.0h.1M223.8 422.8h.1M234.0 424.1h.1M217.7 448.5h.1M223.9 446.5h.1M212.4 438.8h.1M213.1 473.4h.1M192.2 446.9h.1M236.7 437.1h.1M217.7 439.3h.1M246.9 446.1h.1M237.8 429.9h.1M228.1 456.4h.1M221.0 456.3h.1M256.4 445.2h.1M216.0 444.7h.1M229.7 440.3h.1M230.2 436.8h.1M212.4 435.8h.1M241.7 435.1h.1M231.1 434.2h.1M232.6 435.4h.1M228.9 450.6h.1M229.8 449.7h.1M205.6 425.1h.1M224.4 436.2h.1M205.6 442.5h.1M224.0 436.8h.1M217.5 460.0h.1M222.6 442.8h.1M213.3 442.9h.1M229.2 432.3h.1M202.3 431.4h.1M231.9 432.7h.1M236.8 438.2h.1M228.9 454.1h.1M228.2 448.3h.1M223.3 435.0h.1M216.8 431.8h.1M222.7 442.4h.1M209.0 443.5h.1M199.4 434.5h.1M206.8 454.8h.1M222.8 445.8h.1M229.7 433.1h.1M210.6 430.5h.1M243.7 440.5h.1M215.1 452.0h.1M231.3 464.8h.1M235.5 446.2h.1M235.8 453.1h.1M230.3 444.8h.1M214.1 445.0h.1M233.6 434.3h.1M221.9 445.4h.1M219.2 439.5h.1M223.4 438.1h.1M203.8 444.6h.1M219.2 453.5h.1M224.9 435.8h.1M242.6 435.6h.1M218.7 441.5h.1M229.8 458.5h.1M227.8 433.9h.1M228.5 451.5h.1M225.9 447.5h.1M222.9 425.1h.1M221.4 445.5h.1M229.6 455.1h.1M214.5 427.6h.1M220.1 436.1h.1M225.0 451.1h.1M219.4 440.8h.1M221.0 442.4h.1M217.8 440.0h.1M216.5 441.5h.1M209.7 426.9h.1M235.1 423.3h.1M222.7 455.5h.1M211.1 429.8h.1M219.1 447.4h.1M224.2 449.4h.1M198.0 456.3h.1M207.9 443.9h.1M227.7 438.7h.1M205.6 429.5h.1M214.2 441.0h.1M213.1 456.7h.1M226.5 427.5h.1M211.7 424.8h.1M231.4 450.3h.1M228.4 430.1h.1M246.1 454.1h.1M213.5 443.7h.1M208.9 442.4h.1M207.7 429.3h.1M239.6 450.6h.1M227.0 451.0h.1M221.1 446.8h.1M217.7 449.7h.1M227.2 444.0h.1M236.0 450.4h.1M221.7 452.8h.1M213.3 429.9h.1M223.0 431.7h.1M223.6 454.6h.1M232.9 435.9h.1M231.5 447.3h.1M230.5 447.8h.1M226.4 424.0h.1M220.8 473.6h.1M215.0 461.2h.1M239.5 453.8h.1M219.9 463.0h.1M241.4 428.6h.1M215.3 423.8h.1M216.2 444.2h.1M225.9 443.6h.1M204.6 453.9h.1M219.5 441.9h.1M216.9 440.4h.1M208.9 437.9h.1M226.1 459.3h.1M229.8 442.8h.1M232.3 442.6h.1M233.3 454.6h.1M218.3 444.5h.1M212.3 425.9h.1M223.1 441.8h.1M236.4 438.7h.1M212.4 450.1h.1M228.2 433.9h.1M224.6 441.7h.1M241.9 464.6h.1M215.8 440.5h.1M226.1 447.5h.1M232.4 431.7h.1M222.5 444.1h.1M212.7 457.8h.1M209.7 459.9h.1M212.4 448.8h.1M227.1 445.6h.1M225.3 476.8h.1M226.6 440.8h.1M217.8 457.5h.1M230.7 438.7h.1M243.5 443.6h.1M228.1 427.5h.1M230.0 447.9h.1M233.7 439.5h.1M231.3 437.5h.1M222.9 441.7h.1M219.5 430.3h.1M211.6 446.1h.1M220.4 442.1h.1M227.3 447.4h.1M231.3 431.2h.1M232.5 445.1h.1M214.9 449.6h.1M228.9 452.2h.1M222.9 460.5h.1M219.6 453.2h.1M222.2 439.7h.1M232.3 452.3h.1M204.8 429.8h.1M234.1 435.0h.1M241.9 433.5h.1M217.4 444.5h.1M232.1 430.2h.1M212.2 441.3h.1M249.2 424.4h.1M228.3 431.8h.1M217.9 448.5h.1M228.2 461.2h.1M226.2 459.9h.1M235.6 437.2h.1M206.4 441.6h.1M224.1 452.3h.1M219.4 452.0h.1M225.6 434.4h.1M217.8 436.1h.1M227.0 423.0h.1M236.7 461.1h.1M210.5 445.3h.1M242.2 448.0h.1M220.7 445.7h.1M230.1 453.7h.1M225.0 435.1h.1M221.0 433.3h.1M208.2 439.6h.1M219.3 443.2h.1M216.2 449.1h.1M221.3 440.4h.1M223.7 444.5h.1M226.8 452.4h.1M212.8 433.1h.1M218.0 441.3h.1M238.4 439.6h.1M215.4 437.6h.1M221.5 456.3h.1M230.7 436.1h.1M225.8 440.4h.1M241.0 440.5h.1M228.1 435.1h.1M208.9 429.7h.1M184.1 443.5h.1M218.1 440.3h.1M238.0 447.9h.1M227.5 449.8h.1M223.1 464.2h.1M227.6 450.8h.1M243.8 456.8h.1M218.1 439.1h.1M220.0 442.6h.1M223.7 444.8h.1M207.0 457.1h.1M209.9 451.5h.1M205.4 433.3h.1M229.2 441.3h.1M233.9 434.4h.1M220.3 450.4h.1M216.9 441.4h.1M226.7 431.4h.1M222.3 456.3h.1M199.3 453.0h.1M220.4 441.7h.1M234.5 452.1h.1M216.6 452.3h.1M219.9 445.8h.1M204.8 426.0h.1M229.6 441.8h.1M227.2 437.0h.1M195.0 449.0h.1M212.4 437.0h.1M216.8 448.9h.1M216.9 422.3h.1M215.5 438.1h.1M215.5 432.2h.1M211.0 434.7h.1M223.0 434.2h.1M224.5 436.4h.1M239.5 446.2h.1M250.0 444.3h.1M219.3 439.8h.1M225.8 447.1h.1M231.9 439.0h.1M223.1 458.6h.1M225.5 439.9h.1M217.3 423.3h.1M222.7 432.8h.1M240.6 451.3h.1M232.6 442.4h.1M229.1 439.7h.1M224.0 444.7h.1M213.0 452.5h.1M223.4 427.2h.1M216.4 448.3h.1M213.4 436.4h.1M214.8 431.5h.1M226.2 453.3h.1M233.2 428.5h.1M212.9 443.9h.1M206.3 447.4h.1M227.3 442.2h.1M225.1 448.2h.1M223.9 441.1h.1M209.2 444.6h.1M246.9 433.4h.1M204.5 440.9h.1M224.1 452.0h.1M220.8 429.2h.1M220.6 435.9h.1M223.8 457.2h.1M223.8 443.9h.1M234.4 447.9h.1M231.0 437.3h.1M237.1 443.4h.1M232.2 444.2h.1M205.9 441.8h.1M229.3 453.5h.1M213.0 445.4h.1M209.1 443.9h.1M228.8 442.7h.1M233.4 457.1h.1M199.7 443.0h.1M229.1 441.1h.1M215.7 462.7h.1M254.1 465.4h.1M219.6 445.5h.1M204.0 448.7h.1M211.6 453.2h.1M230.9 446.9h.1M227.9 451.1h.1M221.5 438.1h.1M231.1 456.5h.1M223.2 460.1h.1M217.2 459.0h.1M236.2 460.6h.1M209.4 449.4h.1M217.8 441.7h.1M215.5 451.7h.1M214.3 452.9h.1M231.3 439.5h.1M231.4 429.6h.1M233.5 452.0h.1M226.3 443.6h.1M220.0 441.6h.1M241.3 428.4h.1M232.1 450.1h.1M219.2 456.4h.1M227.5 439.6h.1M218.5 433.7h.1M224.3 450.5h.1M212.2 462.6h.1M207.4 443.1h.1M218.1 442.9h.1M221.4 447.6h.1M239.2 434.6h.1M215.1 426.3h.1M191.3 452.1h.1M227.1 439.8h.1M216.2 454.7h.1M226.0 446.9h.1M219.4 441.1h.1M242.9 457.5h.1M221.1 458.0h.1M188.8 517.2h.1M188.7 496.2h.1M209.9 471.7h.1M163.8 508.3h.1M245.2 462.6h.1M203.5 516.0h.1M161.1 451.8h.1M182.7 492.5h.1M200.8 482.5h.1M245.5 453.2h.1M200.3 449.8h.1M212.3 497.3h.1M185.0 488.9h.1M256.6 463.1h.1M162.5 473.1h.1M215.0 507.8h.1M200.3 512.3h.1M195.9 489.2h.1M235.1 489.6h.1M211.4 519.4h.1M183.9 480.3h.1M168.2 500.4h.1M180.7 510.0h.1M163.1 460.3h.1M222.4 520.0h.1M227.4 503.4h.1M241.4 487.5h.1M179.8 505.5h.1M212.6 467.9h.1M200.7 461.1h.1M164.7 494.9h.1M158.1 444.9h.1M202.9 503.9h.1M170.9 476.9h.1M194.5 465.2h.1M160.0 466.9h.1M171.2 491.7h.1M164.7 494.2h.1M179.9 494.7h.1M187.3 467.1h.1M161.9 482.4h.1M226.2 433.3h.1M244.8 464.3h.1M177.8 487.0h.1M254.5 461.0h.1M195.1 447.9h.1M181.5 462.2h.1M210.1 505.0h.1M245.1 459.3h.1M207.0 507.7h.1M207.4 493.4h.1M256.4 486.8h.1M174.6 491.0h.1M196.3 501.7h.1M191.0 475.0h.1M227.6 491.7h.1M226.9 511.7h.1M158.7 464.8h.1M218.5 483.9h.1M203.9 513.0h.1M193.6 474.4h.1M158.7 445.8h.1M186.0 507.7h.1M205.5 489.5h.1M235.0 473.0h.1M164.3 486.2h.1M235.5 450.5h.1M191.8 462.6h.1M239.1 477.8h.1M188.5 446.7h.1M159.5 496.3h.1M179.1 492.9h.1M205.4 485.8h.1M252.6 446.8h.1M254.7 437.2h.1M234.2 440.0h.1M206.5 498.8h.1M167.5 503.9h.1M223.6 439.3h.1M169.8 500.9h.1M190.5 445.3h.1M244.3 437.8h.1M256.1 453.2h.1M204.0 470.5h.1M173.5 501.3h.1M185.8 502.7h.1M176.8 480.7h.1M225.5 465.9h.1M215.6 516.9h.1M174.0 498.1h.1M213.0 512.2h.1M202.7 484.9h.1M177.5 455.0h.1M166.5 497.8h.1M210.0 499.0h.1M220.2 469.6h.1M213.3 520.5h.1M183.2 521.0h.1M206.9 520.7h.1M174.3 521.0h.1M190.6 521.0h.1M200.9 520.5h.1M166.2 520.2h.1M167.2 520.7h.1M201.7 520.6h.1M215.5 520.9h.1M176.8 520.5h.1M167.6 520.7h.1M178.1 520.9h.1M164.4 520.6h.1M167.6 520.7h.1M162.5 520.8h.1M176.5 520.4h.1M188.0 520.7h.1M214.4 520.3h.1M174.1 520.5h.1M193.9 520.5h.1M192.7 520.6h.1M166.1 520.8h.1M176.2 521.1h.1M163.9 521.1h.1" stroke="#4040f4" stroke-opacity="0.5" stroke-width="0.8" stroke-linecap="square" fill="none"/>
<path d="M177.8 498.4h.1M183.0 487.5h.1M183.1 499.4h.1M197.5 482.5h.1M197.4 479.8h.1M194.0 492.5h.1M183.5 498.5h.1M200.0 482.6h.1M200.2 484.8h.1M179.1 493.2h.1M175.9 501.5h.1M201.8 481.2h.1M197.8 486.9h.1M190.2 483.7h.1M180.7 492.0h.1M198.2 483.7h.1M179.9 490.8h.1M198.2 487.2h.1M189.0 497.6h.1M185.3 487.2h.1M187.1 488.1h.1M180.5 500.0h.1M202.0 484.5h.1M196.3 495.0h.1M188.1 497.7h.1M193.6 484.5h.1M192.8 495.8h.1M173.9 500.0h.1M187.6 487.0h.1M178.3 495.0h.1M198.7 485.9h.1M179.1 492.6h.1M197.0 491.4h.1M201.5 489.1h.1M191.4 497.5h.1M197.3 485.4h.1M189.9 498.3h.1M181.7 498.0h.1M184.5 501.6h.1M185.4 498.1h.1M181.7 493.7h.1M174.3 501.5h.1M200.6 485.5h.1M179.0 495.2h.1M199.4 484.0h.1M187.7 498.5h.1M201.7 484.7h.1M179.6 495.6h.1M202.7 485.5h.1M199.2 487.5h.1M191.4 498.6h.1M184.4 499.0h.1M193.5 484.4h.1M196.5 481.9h.1M190.9 485.2h.1M180.3 494.4h.1M185.0 486.0h.1M189.6 485.1h.1M183.2 498.6h.1M190.3 496.2h.1M182.6 501.1h.1M176.6 496.7h.1M195.5 482.1h.1M196.2 480.6h.1M178.8 498.4h.1M192.6 495.0h.1M185.7 488.3h.1M199.9 491.6h.1M176.8 493.4h.1M198.1 488.0h.1M176.4 503.0h.1M179.4 499.5h.1M188.2 487.6h.1M191.5 495.6h.1M178.9 493.3h.1M199.6 492.4h.1M188.1 487.7h.1M184.3 489.1h.1M193.2 497.4h.1M182.7 488.5h.1M180.9 498.8h.1M189.1 497.3h.1M174.9 497.9h.1M201.9 482.8h.1M201.3 487.2h.1M179.3 497.8h.1M187.3 497.5h.1M189.2 482.9h.1M187.8 497.6h.1M199.8 487.6h.1M186.8 485.8h.1M196.9 489.5h.1M199.5 486.8h.1M198.4 490.4h.1M199.2 489.4h.1M189.2 486.8h.1M203.4 485.8h.1M195.1 484.6h.1M196.7 486.8h.1M184.0 488.1h.1M184.7 486.8h.1M188.4 498.5h.1M177.3 497.5h.1M197.8 492.3h.1M189.5 496.6h.1M197.7 479.8h.1M191.2 496.4h.1M200.5 484.4h.1M194.1 481.7h.1M179.8 495.7h.1M193.7 495.6h.1M190.9 486.2h.1M200.3 484.5h.1M193.5 494.5h.1M174.2 501.1h.1M182.5 497.7h.1M179.7 497.5h.1M195.1 485.3h.1M184.1 497.9h.1M190.9 484.0h.1M197.8 486.0h.1M182.5 498.2h.1M177.8 497.7h.1M199.4 484.2h.1M197.1 490.3h.1M175.3 498.6h.1M195.7 482.8h.1M184.5 489.0h.1M188.8 486.7h.1M195.8 496.0h.1M183.0 498.1h.1M195.4 491.9h.1M197.3 483.7h.1M178.8 498.9h.1M178.7 499.5h.1M196.7 489.5h.1M181.7 503.1h.1M191.3 482.4h.1M178.3 502.4h.1M194.0 485.1h.1M195.0 491.3h.1M193.3 493.4h.1M195.1 480.9h.1M182.0 489.6h.1M195.6 494.5h.1M194.6 483.9h.1M185.5 488.8h.1M186.7 501.5h.1M199.7 488.5h.1M198.6 490.1h.1M191.6 495.4h.1M193.4 485.2h.1M177.9 494.0h.1M196.6 493.5h.1M198.4 492.9h.1M189.7 495.9h.1M183.1 491.2h.1M198.9 488.7h.1M186.1 497.8h.1M195.6 495.3h.1M199.6 485.5h.1M200.2 485.4h.1M199.7 491.5h.1M195.0 483.6h.1M179.5 495.9h.1M192.9 485.0h.1M184.8 499.5h.1M187.6 486.8h.1M175.3 496.5h.1M178.2 499.9h.1M201.1 489.3h.1M197.6 491.7h.1M179.2 495.9h.1M182.1 491.8h.1M176.3 501.9h.1M196.1 492.2h.1M196.2 486.0h.1M181.2 500.5h.1M183.7 498.4h.1M194.2 493.3h.1M180.7 494.0h.1M181.8 497.7h.1M186.4 498.6h.1M183.1 487.8h.1M181.8 498.6h.1M192.2 497.3h.1M174.0 499.5h.1M182.4 492.8h.1M198.7 486.0h.1M178.4 499.8h.1M188.0 486.0h.1M188.4 486.6h.1M180.1 490.7h.1M193.8 483.8h.1M200.4 483.8h.1M196.4 493.3h.1M175.7 501.8h.1M178.7 491.6h.1M181.2 503.1h.1M184.2 499.2h.1M197.9 492.1h.1M183.3 498.0h.1M190.4 485.7h.1M178.6 499.4h.1M198.3 485.3h.1M196.2 481.3h.1M181.8 490.2h.1M183.5 490.3h.1M192.5 495.9h.1M177.2 494.8h.1M178.2 495.6h.1M201.7 483.2h.1M188.1 487.4h.1M189.1 497.0h.1M188.0 500.4h.1M183.0 500.2h.1M177.6 500.8h.1M182.9 497.6h.1M200.1 484.2h.1M181.3 497.9h.1M199.6 480.6h.1M184.3 498.8h.1M189.6 496.2h.1M188.7 486.1h.1M197.8 493.4h.1M185.2 489.5h.1M200.4 481.2h.1M186.6 488.5h.1M185.9 488.0h.1M188.0 485.9h.1M199.9 486.4h.1M201.7 485.3h.1M197.5 480.9h.1M196.5 484.4h.1M185.1 498.0h.1M183.3 502.9h.1M182.5 498.1h.1M199.3 492.3h.1M197.4 480.9h.1M184.0 486.5h.1M182.6 502.9h.1M189.3 485.6h.1M198.1 490.6h.1M196.8 481.0h.1M202.2 484.9h.1M190.8 483.4h.1M198.8 480.0h.1M182.1 499.1h.1M196.9 489.0h.1M197.9 485.5h.1M203.7 485.4h.1M194.8 495.3h.1M202.0 484.3h.1M187.0 485.8h.1M184.5 487.9h.1M200.1 488.0h.1M198.3 490.6h.1M184.8 489.7h.1M196.8 486.4h.1M182.9 497.7h.1M200.4 489.1h.1M199.2 487.0h.1M188.5 483.2h.1M176.9 493.4h.1M182.6 487.7h.1M191.6 484.9h.1M200.8 479.8h.1M202.1 487.5h.1M185.9 488.7h.1M195.7 491.2h.1M193.6 484.7h.1M197.8 489.4h.1M193.9 494.4h.1M190.5 497.4h.1M202.4 482.6h.1M200.0 482.5h.1M197.5 480.6h.1M186.7 499.3h.1M193.8 492.6h.1M194.9 481.1h.1M186.6 487.9h.1M182.8 489.3h.1M199.5 481.0h.1M182.4 497.5h.1M179.1 492.9h.1M181.5 502.0h.1M199.1 488.2h.1M190.9 497.6h.1M180.2 494.9h.1M182.4 499.4h.1M182.8 488.9h.1M198.2 483.1h.1M198.1 490.2h.1M183.6 502.8h.1M188.5 485.4h.1M199.1 487.6h.1M185.5 487.1h.1M179.9 492.0h.1M195.1 481.5h.1M181.9 500.2h.1M183.8 498.4h.1M180.8 499.8h.1M197.6 490.7h.1M185.7 501.0h.1M190.4 483.3h.1M198.0 484.3h.1M193.9 494.1h.1M176.5 498.1h.1M185.9 499.8h.1M187.6 486.7h.1M200.7 488.7h.1M196.5 493.7h.1M200.1 485.8h.1M195.4 492.7h.1M180.0 493.4h.1M174.0 499.4h.1M183.9 501.2h.1M180.0 492.9h.1M184.6 499.2h.1M181.9 493.6h.1M193.1 481.9h.1M182.9 489.3h.1M178.0 492.0h.1M183.6 501.0h.1M178.1 496.3h.1M181.4 494.4h.1M177.3 496.8h.1M199.7 490.2h.1M178.0 495.2h.1M174.2 498.4h.1M190.6 496.5h.1M196.5 484.5h.1M198.6 482.0h.1M196.4 489.1h.1M184.6 489.2h.1M176.5 502.1h.1M195.0 483.8h.1M201.2 484.9h.1M185.1 498.4h.1M185.0 498.1h.1M194.2 484.3h.1M178.8 503.3h.1M200.0 488.1h.1M190.5 497.8h.1M194.2 492.7h.1M196.1 481.9h.1M190.3 497.2h.1M191.3 484.7h.1M192.1 496.4h.1M201.7 480.4h.1M176.6 497.4h.1M174.7 497.1h.1M191.4 482.5h.1M187.1 500.9h.1M176.8 499.9h.1M189.5 495.9h.1M182.1 498.5h.1M179.9 493.7h.1M192.3 495.8h.1M193.8 495.9h.1M200.6 490.2h.1M185.0 486.4h.1M196.3 482.6h.1M180.4 491.0h.1M177.9 497.8h.1M182.4 489.5h.1M178.9 493.2h.1M177.0 496.2h.1M182.6 501.9h.1M195.0 493.9h.1M196.6 489.2h.1M194.3 492.5h.1M199.9 484.1h.1M194.3 484.3h.1M196.3 494.2h.1M199.1 490.5h.1M196.8 486.0h.1M183.5 490.1h.1M203.1 485.0h.1M191.7 494.6h.1M201.1 482.0h.1M180.9 503.0h.1M201.4 484.3h.1M176.2 500.2h.1M194.8 485.3h.1M194.3 492.2h.1M181.3 499.4h.1M189.1 483.0h.1M195.5 491.2h.1M186.9 484.8h.1M191.9 498.1h.1M199.8 482.7h.1M197.4 490.8h.1M177.3 498.9h.1M187.3 498.2h.1M201.3 485.6h.1M194.0 485.2h.1M186.7 499.7h.1M184.6 487.6h.1M202.7 487.6h.1M197.5 493.3h.1M183.6 489.3h.1M181.8 498.8h.1M188.3 487.0h.1M177.0 498.5h.1M194.9 495.7h.1M176.8 502.3h.1M183.1 488.4h.1M181.8 493.4h.1M179.6 497.9h.1M192.2 497.7h.1M199.8 485.6h.1M193.3 495.8h.1M189.8 496.3h.1M182.5 497.7h.1M181.7 500.6h.1M197.3 480.9h.1M186.5 486.8h.1M189.0 499.2h.1M188.8 485.5h.1M181.7 489.0h.1M192.2 485.9h.1M182.0 503.2h.1M177.6 502.3h.1M195.9 482.6h.1M197.0 485.5h.1M196.4 483.6h.1M185.2 500.6h.1M193.9 481.7h.1M177.1 502.6h.1M177.2 503.5h.1M199.0 483.9h.1M200.3 484.4h.1M185.4 498.1h.1M202.8 487.1h.1M187.5 484.0h.1M196.5 490.6h.1M177.2 494.5h.1M196.8 480.7h.1M202.3 489.0h.1M199.9 487.9h.1M193.1 496.4h.1M190.2 484.7h.1M194.2 482.9h.1M196.9 490.1h.1M187.3 488.2h.1M183.5 498.1h.1M176.9 502.7h.1M189.2 499.5h.1M182.0 499.4h.1M200.1 479.8h.1M181.3 501.4h.1M189.9 497.6h.1M190.9 496.4h.1M198.1 485.4h.1M193.6 484.3h.1M187.2 487.1h.1M197.7 486.8h.1M194.8 496.4h.1M187.1 500.4h.1M186.6 488.0h.1M196.1 492.1h.1M175.3 502.1h.1M185.1 486.8h.1M196.4 486.3h.1M197.4 493.3h.1M181.0 498.8h.1M192.3 484.3h.1M178.1 491.2h.1M189.2 487.0h.1M195.8 490.8h.1M201.9 487.0h.1M179.2 495.9h.1M177.9 494.7h.1M183.2 490.8h.1M192.6 497.7h.1M201.7 480.7h.1M184.8 489.0h.1M182.1 499.9h.1M177.6 494.7h.1M186.5 497.3h.1M183.2 490.8h.1M193.3 496.0h.1M201.7 483.2h.1M201.4 481.8h.1M194.7 480.5h.1M184.3 501.9h.1M184.4 499.6h.1M190.4 497.9h.1M194.0 493.0h.1M194.1 483.0h.1M201.5 482.0h.1M190.3 483.8h.1M193.4 497.0h.1M182.1 497.4h.1M180.4 490.2h.1M175.9 500.5h.1M197.7 487.8h.1M196.9 490.3h.1M198.7 488.3h.1M191.9 495.7h.1M188.1 487.5h.1M197.1 488.5h.1M196.5 492.1h.1M185.1 489.4h.1M186.6 497.8h.1M191.0 486.3h.1M198.6 487.1h.1M202.3 483.3h.1M193.4 494.4h.1M190.5 497.8h.1M196.4 489.1h.1M178.4 498.4h.1M197.2 493.5h.1M194.6 485.6h.1M193.1 494.1h.1M196.4 491.3h.1M180.7 495.3h.1M197.5 484.1h.1M182.3 491.0h.1M177.8 501.4h.1M192.6 485.7h.1M198.6 483.3h.1M178.2 497.8h.1M180.5 497.6h.1M197.5 493.5h.1M189.0 499.1h.1M189.4 486.2h.1M180.6 493.6h.1M193.0 482.2h.1M194.6 485.3h.1M180.3 492.5h.1M198.9 487.7h.1M179.0 495.7h.1M192.4 482.5h.1M198.9 487.6h.1M180.9 494.0h.1M191.0 499.1h.1M189.3 484.1h.1M192.5 497.7h.1M178.3 499.8h.1M187.6 497.7h.1M200.9 490.0h.1M193.7 494.9h.1M195.8 485.7h.1M187.8 499.1h.1M199.6 485.8h.1M183.7 486.9h.1M183.6 500.1h.1M183.2 501.0h.1M201.6 485.9h.1M186.4 501.3h.1M202.2 488.8h.1M196.8 491.6h.1M196.0 493.6h.1M201.1 483.0h.1M177.1 501.9h.1M197.0 488.4h.1M198.1 484.4h.1M186.2 488.4h.1M198.3 485.0h.1M197.4 487.8h.1M190.4 495.8h.1M197.3 486.8h.1M178.4 503.4h.1" stroke="#3a3af2" stroke-opacity="0.7" stroke-width="0.8" stroke-linecap="square" fill="none"/>
<path d="M192.0 487.4h.1M194.4 487.1h.1M188.8 488.2h.1M194.7 487.5h.1M186.8 495.8h.1M184.0 497.3h.1M183.6 492.2h.1M183.6 493.3h.1M193.4 486.5h.1M184.7 491.8h.1M182.0 496.6h.1M181.8 494.2h.1M189.0 488.3h.1M189.8 487.4h.1M189.4 495.1h.1M194.8 491.6h.1M192.5 486.9h.1M194.2 487.8h.1M183.3 491.8h.1M187.8 488.0h.1M190.5 494.2h.1M183.6 497.6h.1M182.9 492.8h.1M185.2 490.4h.1M181.8 495.8h.1M190.7 494.0h.1M192.9 493.4h.1M182.4 494.2h.1M195.2 489.6h.1M185.7 496.9h.1M190.6 487.4h.1M193.3 487.0h.1M194.9 487.5h.1M184.1 490.9h.1M183.6 492.3h.1M185.9 496.6h.1M191.0 494.6h.1M181.8 495.2h.1M192.0 493.1h.1M188.9 488.4h.1M187.9 496.5h.1M186.6 496.7h.1M183.0 493.8h.1M190.2 495.4h.1M193.9 492.6h.1M183.1 492.7h.1M191.0 486.9h.1M187.4 496.6h.1M194.0 486.2h.1M194.3 486.6h.1M183.5 495.8h.1M186.4 496.9h.1M183.4 497.2h.1M190.5 486.6h.1M183.3 492.9h.1M195.2 487.1h.1M181.9 496.5h.1M182.7 497.0h.1M186.8 496.2h.1M195.7 488.9h.1M194.8 489.6h.1M184.7 490.7h.1M191.0 487.3h.1M194.6 486.7h.1M184.7 491.6h.1M182.4 493.6h.1M194.0 487.4h.1M184.8 490.7h.1M183.5 491.8h.1M194.9 491.3h.1M190.1 486.9h.1M192.4 492.6h.1M191.0 486.6h.1M185.3 496.1h.1M182.2 493.7h.1M192.4 487.3h.1M182.0 495.7h.1M189.0 487.8h.1M195.0 490.2h.1M189.1 488.3h.1M184.7 496.1h.1M184.3 491.2h.1M186.3 496.7h.1M193.4 486.1h.1M182.6 492.9h.1M184.3 496.9h.1M188.7 495.2h.1M189.7 487.6h.1M193.1 486.1h.1M181.4 495.5h.1M187.2 488.8h.1M184.0 491.6h.1M191.8 493.1h.1M194.5 490.2h.1M184.6 496.0h.1M183.6 497.2h.1M182.9 493.1h.1M191.2 487.4h.1M188.4 495.7h.1M191.6 487.1h.1M195.6 487.4h.1M184.2 496.2h.1M195.2 487.1h.1M184.0 496.2h.1M181.7 494.2h.1M184.4 497.4h.1M183.6 496.2h.1M187.7 495.9h.1M194.1 485.9h.1M194.7 487.6h.1M188.5 488.5h.1M181.8 494.5h.1M181.5 496.0h.1M194.6 490.5h.1M186.3 489.2h.1M194.8 489.8h.1M191.3 487.1h.1M184.4 496.1h.1M194.8 489.8h.1M184.7 491.4h.1M187.5 489.1h.1M195.7 489.7h.1M194.5 490.9h.1M183.5 494.3h.1M182.9 493.1h.1M195.9 487.4h.1M185.3 489.8h.1M183.0 492.4h.1M188.4 488.5h.1M194.5 488.3h.1M193.6 486.7h.1M184.1 496.9h.1M194.3 490.0h.1M194.2 491.7h.1M190.9 495.0h.1M184.3 492.1h.1M189.4 495.6h.1M183.9 496.1h.1M195.5 486.4h.1M188.3 487.7h.1M181.8 494.5h.1M182.8 496.3h.1M183.8 497.3h.1M184.9 491.1h.1M189.7 494.8h.1M183.8 492.1h.1M193.5 492.4h.1M193.0 485.8h.1M191.5 494.0h.1M185.3 491.0h.1M195.3 488.1h.1M196.4 486.9h.1M193.9 486.5h.1M194.6 488.7h.1M192.0 486.6h.1M181.7 494.8h.1M182.7 493.1h.1M190.3 487.6h.1M187.5 488.7h.1" stroke="#20a8f0" stroke-opacity="0.9" stroke-width="0.8" stroke-linecap="square" fill="none"/>
<path d="M188.8 494.6h.1M184.0 495.6h.1M185.0 495.4h.1M184.2 494.1h.1M186.6 490.3h.1M188.8 494.4h.1M191.3 487.6h.1M186.3 491.4h.1M186.9 494.5h.1M193.9 487.7h.1M183.8 494.8h.1M188.2 490.3h.1M184.1 493.3h.1M188.1 494.9h.1M193.2 490.3h.1M184.4 493.4h.1M191.0 487.7h.1M184.8 492.4h.1M186.2 492.1h.1M194.4 488.7h.1M191.6 489.0h.1M184.3 493.1h.1M185.5 495.1h.1M186.1 490.7h.1M187.7 495.0h.1M192.1 488.5h.1M192.3 488.5h.1M192.5 487.6h.1M191.0 488.1h.1M186.6 495.3h.1M192.5 490.2h.1M190.8 488.0h.1M185.5 492.5h.1M185.2 494.1h.1M190.5 493.5h.1M186.3 494.8h.1M185.2 494.6h.1M185.4 495.2h.1M188.1 494.2h.1M184.1 495.7h.1M186.1 494.9h.1M185.3 495.3h.1M187.2 491.1h.1M190.5 492.3h.1M192.7 490.5h.1M193.3 488.3h.1M190.7 489.4h.1M190.8 488.0h.1M192.2 491.2h.1M185.1 492.9h.1M188.6 494.7h.1M190.9 488.5h.1M185.5 494.9h.1M184.1 494.3h.1M186.7 491.6h.1M186.5 495.2h.1M188.0 494.6h.1M192.8 487.7h.1M193.9 488.6h.1M187.5 493.9h.1M192.5 487.6h.1M193.8 489.8h.1M188.4 489.0h.1M184.9 492.1h.1M192.9 491.4h.1M187.0 491.6h.1M193.1 489.8h.1M185.7 492.8h.1M187.9 494.8h.1M191.2 488.9h.1M184.8 492.7h.1M191.8 491.8h.1M191.5 491.6h.1M193.3 488.7h.1M186.3 491.8h.1M191.8 493.0h.1M188.1 490.6h.1M186.0 490.8h.1M191.2 491.6h.1M189.4 489.5h.1M193.3 490.9h.1M184.7 494.7h.1M185.6 492.6h.1M192.9 487.8h.1M186.4 490.6h.1M184.7 494.0h.1M187.3 494.5h.1M187.2 491.2h.1M190.1 488.2h.1M190.8 493.6h.1M188.6 494.9h.1M191.2 488.4h.1M183.9 495.0h.1M192.3 491.8h.1M188.1 490.2h.1M189.3 494.3h.1M191.5 492.5h.1M194.4 488.9h.1M185.9 491.4h.1M192.1 492.1h.1M191.6 491.8h.1M184.9 491.8h.1M187.9 490.8h.1M184.8 494.2h.1M193.7 490.2h.1M186.3 494.0h.1M190.3 493.7h.1M194.1 488.9h.1M184.6 494.6h.1M192.8 491.0h.1M189.3 489.7h.1M187.0 493.9h.1M186.0 495.7h.1M184.2 494.9h.1M192.4 488.3h.1M191.5 492.8h.1M191.6 492.2h.1M192.9 489.5h.1M185.4 495.6h.1M185.1 492.7h.1M188.1 490.4h.1M184.1 494.6h.1M189.2 490.0h.1M192.9 489.2h.1M186.7 490.1h.1M188.4 495.2h.1M186.4 491.2h.1M194.0 489.6h.1M188.8 493.5h.1M189.0 489.4h.1M190.2 488.9h.1M191.2 492.1h.1M192.5 491.9h.1M184.5 493.1h.1M193.5 488.5h.1M191.7 490.5h.1M193.3 489.5h.1M186.3 493.8h.1M185.2 494.2h.1M193.2 490.3h.1M188.7 494.1h.1M185.7 493.3h.1M188.8 494.9h.1M193.7 490.0h.1M193.4 490.1h.1M184.7 492.5h.1M191.0 488.0h.1M192.5 492.1h.1M186.9 491.3h.1M183.7 494.2h.1M189.7 489.0h.1M187.2 494.8h.1" stroke="#34d23a" stroke-opacity="0.95" stroke-width="0.8" stroke-linecap="square" fill="none"/>
<path d="M191.6 490.8h.1M188.0 493.6h.1M187.4 492.0h.1M188.3 490.8h.1M186.7 493.5h.1M190.5 491.3h.1M188.0 491.4h.1M187.4 492.4h.1M190.6 491.2h.1M190.1 490.0h.1M189.3 490.6h.1M189.4 489.9h.1M189.3 492.9h.1M186.5 493.2h.1M189.5 489.9h.1M187.5 491.8h.1M189.0 490.6h.1M188.5 493.0h.1M190.1 489.9h.1M190.6 492.0h.1M187.1 492.5h.1M187.6 493.3h.1M187.7 491.9h.1M189.2 490.2h.1M188.3 491.2h.1M186.7 493.6h.1M188.7 490.7h.1M189.4 490.5h.1M191.4 490.4h.1M187.2 491.7h.1M188.1 493.0h.1M187.0 491.8h.1M191.3 489.7h.1M189.6 492.4h.1M187.3 491.5h.1M189.6 489.9h.1M189.6 490.1h.1M187.8 491.8h.1M187.7 491.6h.1M187.7 493.3h.1M186.8 493.6h.1M187.4 492.7h.1M190.6 491.1h.1M187.2 491.8h.1M187.6 491.1h.1M190.6 489.8h.1M190.3 490.6h.1M188.4 490.7h.1M188.3 493.3h.1M190.6 489.7h.1M188.2 493.5h.1" stroke="#c8e020" stroke-opacity="0.95" stroke-width="0.8" stroke-linecap="square" fill="none"/>
<path d="M189.4 490.9h.1M190.0 491.2h.1M189.8 491.2h.1M188.5 491.7h.1M189.4 490.9h.1M188.4 492.6h.1M188.4 492.6h.1M188.8 492.2h.1M188.5 492.4h.1M189.2 492.1h.1M188.6 492.0h.1M188.9 491.7h.1M188.0 492.5h.1M188.4 492.3h.1" stroke="#ee4a1c" stroke-opacity="1.0" stroke-width="0.8" stroke-linecap="square" fill="none"/>
<line x1="212.30" y1="421.60" x2="212.30" y2="522.20" stroke="#3c3c3c" stroke-width="1.0"/>
<line x1="156.80" y1="469.60" x2="257.40" y2="469.60" stroke="#3c3c3c" stroke-width="1.0"/>
<text x="158.80" y="431.30" font-size="5.6" text-anchor="start" fill="#333">2.58</text>
<text x="251.90" y="431.30" font-size="5.6" text-anchor="end" fill="#333">5.69</text>
<text x="158.80" y="516.20" font-size="5.6" text-anchor="start" fill="#333">89.4</text>
<text x="251.90" y="516.20" font-size="5.6" text-anchor="end" fill="#333">2.34</text>
<text x="209.90" y="555.90" font-size="11.0" text-anchor="middle" stroke="#111" stroke-width="0.22" fill="#111">10</text>
<rect x="282.10" y="421.60" width="100.30" height="100.60" fill="#fff" stroke="#8c8c8c" stroke-width="0.7"/>
<path d="M279.9 522.2h2.2M281.1 515.7h1M281.1 511.9h1M281.1 509.2h1M281.1 507.1h1M281.1 505.4h1M281.1 503.9h1M281.1 502.7h1M281.1 501.6h1M279.9 500.6h2.2M281.1 494.1h1M281.1 490.3h1M281.1 487.6h1M281.1 485.5h1M281.1 483.8h1M281.1 482.3h1M281.1 481.1h1M281.1 480.0h1M279.9 479.0h2.2M281.1 472.5h1M281.1 468.7h1M281.1 466.0h1M281.1 463.9h1M281.1 462.2h1M281.1 460.7h1M281.1 459.5h1M281.1 458.4h1M279.9 457.4h2.2M281.1 450.9h1M281.1 447.1h1M281.1 444.4h1M281.1 442.3h1M281.1 440.6h1M281.1 439.1h1M281.1 437.9h1M281.1 436.8h1M279.9 435.8h2.2M281.1 429.3h1M281.1 425.5h1M281.1 422.8h1M282.1 522.2v2.2M289.6 522.2v1.1M293.9 522.2v1.1M297.0 522.2v1.1M299.4 522.2v1.1M301.4 522.2v1.1M303.0 522.2v1.1M304.5 522.2v1.1M305.7 522.2v1.1M306.9 522.2v2.2M314.3 522.2v1.1M318.7 522.2v1.1M321.8 522.2v1.1M324.2 522.2v1.1M326.1 522.2v1.1M327.8 522.2v1.1M329.2 522.2v1.1M330.5 522.2v1.1M331.6 522.2v2.2M339.1 522.2v1.1M343.4 522.2v1.1M346.5 522.2v1.1M348.9 522.2v1.1M350.9 522.2v1.1M352.6 522.2v1.1M354.0 522.2v1.1M355.3 522.2v1.1M356.4 522.2v2.2M363.9 522.2v1.1M368.2 522.2v1.1M371.3 522.2v1.1M373.7 522.2v1.1M375.7 522.2v1.1M377.3 522.2v1.1M378.8 522.2v1.1M380.0 522.2v1.1M381.2 522.2v2.2" stroke="#555" stroke-width="0.5" fill="none"/>
<text x="278.50" y="523.50" font-size="4.0" text-anchor="end" fill="#333">10<tspan dy="-1.7" font-size="2.7">2</tspan></text>
<text x="283.70" y="530.20" font-size="4.0" text-anchor="middle" fill="#333">10<tspan dy="-1.7" font-size="2.7">2</tspan></text>
<text x="278.50" y="501.90" font-size="4.0" text-anchor="end" fill="#333">10<tspan dy="-1.7" font-size="2.7">3</tspan></text>
<text x="308.47" y="530.20" font-size="4.0" text-anchor="middle" fill="#333">10<tspan dy="-1.7" font-size="2.7">3</tspan></text>
<text x="278.50" y="480.30" font-size="4.0" text-anchor="end" fill="#333">10<tspan dy="-1.7" font-size="2.7">4</tspan></text>
<text x="333.23" y="530.20" font-size="4.0" text-anchor="middle" fill="#333">10<tspan dy="-1.7" font-size="2.7">4</tspan></text>
<text x="278.50" y="458.70" font-size="4.0" text-anchor="end" fill="#333">10<tspan dy="-1.7" font-size="2.7">5</tspan></text>
<text x="358.00" y="530.20" font-size="4.0" text-anchor="middle" fill="#333">10<tspan dy="-1.7" font-size="2.7">5</tspan></text>
<text x="278.50" y="437.10" font-size="4.0" text-anchor="end" fill="#333">10<tspan dy="-1.7" font-size="2.7">6</tspan></text>
<text x="382.76" y="530.20" font-size="4.0" text-anchor="middle" fill="#333">10<tspan dy="-1.7" font-size="2.7">6</tspan></text>
<text x="332.25" y="541.50" font-size="4.8" text-anchor="middle" fill="#333">FL1-A :: FITC-A</text>
<text x="269.90" y="471.90" font-size="4.8" text-anchor="middle" fill="#333" transform="rotate(-90 269.90 471.90)">FL3-A :: PI-A</text>
<ellipse cx="323.00" cy="488.80" rx="16.20" ry="6.48" fill="#4a4af2" fill-opacity="0.4" filter="url(#fblur)" transform="rotate(-33 323.00 488.80)"/>
<path d="M332.2 474.5h.1M351.5 475.5h.1M349.1 482.8h.1M332.6 472.6h.1M329.5 472.5h.1M306.6 503.4h.1M377.1 453.0h.1M301.3 502.6h.1M299.2 502.0h.1M336.7 465.8h.1M341.5 484.0h.1M301.0 489.2h.1M305.4 501.6h.1M300.5 480.8h.1M351.2 484.9h.1M297.2 497.8h.1M341.7 483.3h.1M307.1 491.7h.1M312.7 486.0h.1M295.0 509.4h.1M335.0 467.0h.1M318.5 480.3h.1M304.6 496.0h.1M334.7 474.8h.1M334.5 495.3h.1M322.9 468.0h.1M324.0 464.1h.1M346.2 472.3h.1M339.8 495.3h.1M297.2 507.7h.1M294.3 514.2h.1M314.5 477.4h.1M298.4 497.7h.1M330.3 499.5h.1M327.0 496.5h.1M291.8 504.5h.1M338.4 472.2h.1M303.2 497.9h.1M303.8 495.8h.1M318.4 481.4h.1M326.6 475.6h.1M335.7 492.3h.1M313.8 511.9h.1M309.6 489.1h.1M288.1 502.7h.1M325.2 476.3h.1M343.2 469.6h.1M312.3 484.3h.1M340.3 463.9h.1M325.1 477.0h.1M319.4 502.6h.1M321.1 500.0h.1M287.0 514.5h.1M322.3 479.0h.1M342.6 493.1h.1M299.7 488.1h.1M344.9 477.6h.1M342.3 483.6h.1M343.5 482.2h.1M322.7 477.5h.1M333.7 475.3h.1M339.4 485.6h.1M331.0 493.6h.1M308.4 488.8h.1M323.6 477.9h.1M341.1 479.9h.1M316.8 511.2h.1M313.0 473.8h.1M312.9 502.7h.1M297.6 502.3h.1M299.4 499.3h.1M311.4 502.1h.1M360.0 457.8h.1M334.2 472.7h.1M332.2 475.1h.1M305.1 507.1h.1M316.7 478.9h.1M306.5 501.6h.1M350.5 465.9h.1M319.0 501.9h.1M303.6 495.5h.1M349.0 475.7h.1M302.9 501.6h.1M351.1 464.8h.1M283.7 512.0h.1M315.9 502.2h.1M341.2 477.2h.1M314.6 482.2h.1M345.4 476.7h.1M336.1 474.9h.1M290.2 506.8h.1M364.4 463.6h.1M328.3 472.9h.1M340.7 492.0h.1M356.0 480.5h.1M314.0 502.4h.1M351.1 469.9h.1M339.0 491.1h.1M320.4 469.0h.1M339.1 491.3h.1M304.9 500.6h.1M297.9 498.9h.1M313.0 482.4h.1M341.3 483.6h.1M322.8 501.0h.1M308.2 488.2h.1M338.7 463.6h.1M343.6 470.8h.1M302.9 497.7h.1M303.5 493.7h.1M305.8 494.4h.1M352.7 475.3h.1M310.1 502.7h.1M321.8 501.9h.1M305.1 492.4h.1M347.5 468.9h.1M335.9 493.4h.1M353.4 474.0h.1M337.9 470.4h.1M329.0 472.1h.1M331.0 475.4h.1M307.1 501.5h.1M325.1 469.2h.1M304.9 493.9h.1M295.9 514.8h.1M340.6 487.7h.1M339.4 476.4h.1M314.7 483.6h.1M321.2 479.9h.1M327.4 474.4h.1M311.0 502.0h.1M342.4 479.1h.1M335.8 475.0h.1M337.5 489.9h.1M305.8 504.8h.1M312.6 506.8h.1M339.7 491.5h.1M332.9 468.6h.1M291.2 484.0h.1M341.8 488.4h.1M344.0 466.5h.1M322.1 475.2h.1M309.8 501.9h.1M305.0 497.8h.1M289.5 507.2h.1M306.1 507.1h.1M316.9 501.1h.1M301.7 503.3h.1M338.7 486.2h.1M314.5 501.8h.1M331.4 494.6h.1M316.8 501.5h.1M327.5 476.6h.1M298.3 497.5h.1M307.5 501.8h.1M342.7 487.1h.1M347.5 485.0h.1M342.2 478.2h.1M313.9 481.6h.1M303.3 512.3h.1M332.1 473.1h.1M339.2 489.0h.1M315.8 483.1h.1M323.5 500.8h.1M357.5 470.2h.1M305.8 488.0h.1M330.5 475.4h.1M341.5 473.0h.1M316.7 504.6h.1M350.0 474.0h.1M331.6 494.2h.1M344.1 469.5h.1M311.4 486.0h.1M330.1 475.6h.1M311.7 516.5h.1M340.5 498.2h.1M316.7 510.3h.1M339.5 473.0h.1M333.6 494.0h.1M289.6 517.1h.1M346.0 496.5h.1M302.8 496.9h.1M305.4 514.1h.1M337.8 499.0h.1M332.6 475.6h.1M308.5 509.8h.1M284.5 512.4h.1M350.9 470.2h.1M347.1 471.5h.1M337.5 457.9h.1M339.0 486.0h.1M346.9 477.3h.1M287.7 503.7h.1M310.4 487.5h.1M306.0 487.7h.1M299.5 510.4h.1M340.8 488.7h.1M343.2 482.4h.1M342.5 477.6h.1M316.9 482.3h.1M338.8 474.5h.1M325.2 477.3h.1M294.1 503.6h.1M294.5 492.3h.1M342.4 471.2h.1M306.3 503.2h.1M343.2 481.0h.1M308.8 502.6h.1M311.7 503.4h.1M313.3 485.3h.1M291.2 487.4h.1M343.6 493.7h.1M303.0 488.2h.1M313.5 505.1h.1M340.1 490.4h.1M333.6 469.5h.1M338.2 494.0h.1M318.6 501.0h.1M302.0 498.3h.1M318.8 506.7h.1M319.5 502.4h.1M315.6 505.0h.1M323.7 473.8h.1M319.9 510.0h.1M338.3 474.1h.1M338.3 475.0h.1M341.5 475.0h.1M305.7 504.4h.1M348.9 485.5h.1M344.8 476.8h.1M324.4 500.5h.1M346.3 474.7h.1M351.0 468.2h.1M338.0 474.0h.1M318.6 502.8h.1M305.2 492.6h.1M326.9 476.0h.1M305.2 497.8h.1M315.7 483.3h.1M351.6 467.8h.1M324.7 476.6h.1M304.5 498.8h.1M317.2 503.4h.1M317.5 479.4h.1M307.9 491.2h.1M299.7 494.7h.1M302.9 499.8h.1M304.2 493.8h.1M331.7 494.5h.1M333.7 467.8h.1M318.4 476.3h.1M326.8 475.5h.1M350.5 488.4h.1M296.2 508.9h.1M336.5 475.0h.1M337.8 466.8h.1M305.8 494.6h.1M294.4 500.9h.1M312.2 502.0h.1M335.2 458.5h.1M300.7 503.8h.1M334.5 500.4h.1M346.2 476.3h.1M306.2 510.2h.1M349.4 472.5h.1M310.4 482.7h.1M346.3 474.2h.1M300.1 502.5h.1M300.2 493.0h.1M303.2 488.6h.1M334.0 474.9h.1M339.1 464.2h.1M303.8 494.4h.1M318.4 475.8h.1M299.9 497.1h.1M345.7 479.0h.1M306.7 490.4h.1M346.4 483.4h.1M297.7 505.5h.1M324.4 476.8h.1M352.4 471.8h.1M343.9 464.7h.1M301.1 500.0h.1M298.1 497.1h.1M345.0 476.9h.1M309.8 487.3h.1M300.0 502.9h.1M318.6 477.8h.1M349.0 472.8h.1M343.4 469.9h.1M309.1 513.9h.1M297.1 510.5h.1M306.3 507.3h.1M321.8 476.7h.1M294.8 509.0h.1M343.4 481.6h.1M306.6 508.8h.1M321.5 479.0h.1M341.5 469.3h.1M295.1 495.2h.1M322.8 476.2h.1M345.1 473.6h.1M356.4 472.0h.1M358.8 463.4h.1M344.0 470.5h.1M342.5 466.0h.1M353.1 471.9h.1M345.5 477.4h.1M347.1 464.4h.1M350.3 462.3h.1M349.0 460.0h.1M335.3 478.7h.1M354.9 477.5h.1M339.5 478.2h.1M336.4 474.1h.1M334.3 476.1h.1M341.4 474.3h.1M336.3 476.7h.1M351.1 472.3h.1M353.6 469.6h.1M349.5 476.1h.1M334.4 480.6h.1M342.2 482.6h.1M348.5 480.5h.1M345.7 474.2h.1M338.4 487.4h.1M347.1 473.7h.1M354.7 460.7h.1M333.8 478.4h.1M342.1 475.5h.1M350.9 462.5h.1M353.6 470.6h.1M350.4 465.8h.1M345.9 463.1h.1M344.1 481.8h.1M343.1 480.7h.1M348.6 482.1h.1M340.4 473.9h.1M347.7 461.1h.1M342.0 474.8h.1M342.5 479.4h.1M351.0 458.4h.1M336.9 478.1h.1M348.9 467.7h.1M349.7 474.5h.1M332.6 478.1h.1M348.1 477.1h.1M330.8 472.9h.1M344.7 473.8h.1M355.8 467.4h.1M349.6 462.8h.1M342.4 477.2h.1M345.2 474.3h.1M339.0 486.8h.1M351.8 474.1h.1M341.4 472.7h.1M354.8 475.5h.1M341.4 472.1h.1M356.8 464.6h.1M342.8 476.6h.1M354.6 483.8h.1M350.7 473.0h.1M359.6 479.0h.1M342.1 482.3h.1M336.2 474.2h.1M339.5 462.1h.1M339.0 493.4h.1M347.9 480.3h.1M336.8 473.8h.1M348.7 466.7h.1M338.9 481.2h.1M348.8 475.6h.1M357.0 481.2h.1M359.8 472.7h.1M340.2 479.0h.1M352.2 469.0h.1M352.5 465.6h.1M350.6 467.7h.1M339.6 469.6h.1M348.4 467.1h.1M341.6 482.6h.1M352.5 464.8h.1M350.6 463.1h.1M346.0 481.6h.1M335.8 472.1h.1M353.3 481.4h.1M346.1 472.8h.1M341.1 484.3h.1M334.8 465.3h.1M332.7 481.9h.1M353.8 472.1h.1M344.2 479.8h.1M339.2 480.3h.1M340.7 478.2h.1M340.5 467.3h.1M354.9 467.2h.1M334.2 478.6h.1M351.8 458.8h.1M344.6 478.9h.1M339.9 471.4h.1M351.0 484.0h.1M351.4 474.6h.1M345.2 459.4h.1M338.1 475.7h.1M353.9 468.2h.1M357.4 479.6h.1M344.6 464.4h.1M332.4 475.6h.1M331.9 473.4h.1M355.7 471.6h.1M343.2 475.5h.1M340.2 477.7h.1M359.0 475.8h.1M349.6 476.3h.1M336.2 479.2h.1M351.2 470.4h.1M357.9 471.4h.1M336.2 470.7h.1M344.6 482.2h.1M349.9 468.9h.1M336.1 481.1h.1M352.5 475.1h.1M348.6 476.6h.1M342.2 483.2h.1M351.3 472.7h.1M358.2 471.9h.1M351.3 476.3h.1M347.5 459.9h.1M351.3 470.5h.1M343.1 473.3h.1M350.5 480.3h.1M345.8 470.0h.1M350.9 471.4h.1M347.4 484.7h.1M355.8 475.0h.1M342.1 491.8h.1M343.6 475.7h.1M343.4 467.6h.1M348.0 475.9h.1M342.5 470.6h.1M356.2 478.5h.1M347.9 475.9h.1M340.7 477.5h.1M344.7 484.3h.1M343.6 474.3h.1M356.1 473.1h.1M344.7 468.3h.1M346.0 477.0h.1M353.8 473.6h.1M344.1 480.3h.1M334.2 473.3h.1M337.7 487.0h.1M345.3 474.3h.1M346.8 463.1h.1M351.3 469.5h.1M337.6 471.8h.1M349.8 485.4h.1M347.9 463.6h.1M352.5 471.7h.1M355.7 471.4h.1M353.4 476.0h.1M342.0 475.7h.1M338.7 468.8h.1M338.7 478.6h.1M339.5 490.6h.1M345.2 480.9h.1M334.1 471.9h.1M341.9 463.2h.1M356.5 477.3h.1M349.0 469.6h.1M351.1 476.7h.1M343.2 474.2h.1M348.0 475.0h.1M349.6 473.9h.1M331.8 476.5h.1M350.1 473.7h.1M339.2 484.1h.1M336.6 481.5h.1M342.6 484.4h.1M342.3 468.7h.1M347.9 471.8h.1M349.5 470.4h.1M340.7 473.9h.1M344.8 464.6h.1M328.5 478.9h.1M332.9 480.0h.1M343.9 468.1h.1M353.6 463.6h.1M336.7 481.0h.1M346.8 467.4h.1M354.1 468.7h.1M345.4 470.3h.1M337.8 479.7h.1M341.0 466.5h.1M354.3 471.5h.1M345.6 471.6h.1M355.8 482.0h.1M330.2 475.4h.1M338.4 482.4h.1M355.3 475.3h.1M345.1 478.2h.1M342.2 471.3h.1M342.1 487.2h.1M341.7 483.9h.1M338.0 480.2h.1M332.4 478.7h.1M357.4 473.0h.1M345.5 472.5h.1M335.9 482.3h.1M347.9 473.4h.1M340.0 477.3h.1M342.1 469.3h.1M334.9 485.3h.1M342.1 489.4h.1M337.0 485.9h.1M332.1 475.2h.1M341.0 482.9h.1M340.6 480.6h.1M344.5 473.2h.1M329.6 464.6h.1M336.4 478.6h.1M344.3 478.5h.1M351.5 467.3h.1M344.3 474.9h.1M339.8 474.7h.1M335.4 474.1h.1M336.5 482.0h.1M355.9 465.1h.1M339.6 479.8h.1M354.8 465.4h.1M342.8 483.0h.1M347.6 472.8h.1M348.4 470.3h.1M336.1 484.3h.1M342.8 473.4h.1M358.4 475.8h.1M350.1 479.2h.1M340.4 472.7h.1M338.7 476.5h.1M344.8 475.6h.1M346.3 476.6h.1M343.5 469.9h.1M345.7 480.4h.1M334.5 476.3h.1M340.3 470.4h.1M337.5 469.5h.1M340.7 486.1h.1M345.2 461.2h.1M345.3 485.2h.1M338.7 463.7h.1M354.5 469.9h.1M350.0 465.5h.1M346.9 475.6h.1M331.5 473.4h.1M347.3 475.7h.1M336.9 473.2h.1M357.1 481.4h.1M343.8 467.8h.1M330.9 477.3h.1M350.6 461.8h.1M336.5 492.8h.1M346.3 475.9h.1M345.0 480.4h.1M343.0 475.9h.1M357.8 472.1h.1M342.5 475.0h.1M345.1 458.6h.1M344.0 479.7h.1M347.3 477.6h.1M338.9 482.4h.1M339.6 482.8h.1M327.1 480.4h.1M354.0 473.3h.1M353.6 477.8h.1M355.1 460.1h.1M326.5 466.3h.1M349.9 469.3h.1M331.0 478.1h.1M334.2 472.4h.1M335.7 473.2h.1M336.0 480.4h.1M344.2 479.6h.1M353.1 467.0h.1M343.3 460.5h.1M353.2 459.8h.1M339.2 474.0h.1M344.3 480.2h.1M340.5 470.8h.1M349.9 469.4h.1M338.8 469.5h.1M327.5 470.5h.1M355.0 462.3h.1M338.1 467.1h.1M355.5 476.8h.1M339.9 471.9h.1M356.4 474.0h.1M352.7 471.5h.1M324.6 470.8h.1M333.7 488.9h.1M334.4 472.0h.1M336.2 471.7h.1M354.8 466.9h.1M350.3 463.3h.1M351.7 467.2h.1M352.3 469.4h.1M346.9 463.3h.1M339.7 471.2h.1M332.2 474.6h.1M334.3 477.3h.1M349.7 472.3h.1M355.4 464.8h.1M342.7 467.2h.1M352.5 472.2h.1M332.2 481.1h.1M352.6 466.7h.1M340.5 477.7h.1M336.1 475.4h.1M358.0 472.1h.1M340.1 462.6h.1M355.9 463.9h.1M345.1 484.2h.1M344.0 467.2h.1M339.2 480.1h.1M343.1 473.3h.1M346.4 468.5h.1M338.9 469.4h.1M336.3 491.6h.1M341.4 475.5h.1M349.4 476.9h.1M349.5 474.4h.1M335.4 475.7h.1M346.1 467.8h.1M345.5 475.9h.1M332.3 476.3h.1M343.5 464.0h.1M338.1 489.9h.1M336.3 475.7h.1M339.1 473.9h.1M346.7 470.8h.1M344.9 472.9h.1M353.3 468.6h.1M340.8 477.6h.1M341.6 472.5h.1M348.3 473.7h.1M342.7 479.7h.1M352.8 463.7h.1M341.1 463.6h.1M354.2 474.1h.1M341.2 474.7h.1M346.2 469.3h.1M353.2 475.7h.1M347.5 470.9h.1M353.9 461.4h.1M353.8 479.5h.1M351.2 465.3h.1M348.6 484.7h.1M332.5 473.0h.1M361.3 470.2h.1M337.7 475.8h.1M334.4 481.0h.1M352.2 474.0h.1M335.2 475.1h.1M355.9 470.6h.1M342.7 460.6h.1M347.5 470.4h.1M348.7 482.9h.1M334.4 481.1h.1M355.9 476.6h.1M334.5 478.1h.1M356.0 471.4h.1M354.2 469.3h.1M340.1 486.0h.1M349.1 481.8h.1M342.6 483.7h.1M351.6 470.4h.1M351.7 470.5h.1M342.6 465.2h.1M354.7 473.7h.1M355.6 472.0h.1M346.8 484.5h.1M351.0 467.5h.1M352.7 467.6h.1M342.1 465.0h.1M344.1 473.0h.1M331.6 464.8h.1M354.0 468.9h.1M352.5 467.1h.1M351.0 479.8h.1M338.3 480.7h.1M347.8 457.1h.1M349.3 468.0h.1M343.9 428.7h.1M353.6 439.9h.1M365.9 438.6h.1M348.5 449.1h.1M344.6 436.1h.1M337.5 432.6h.1M351.6 452.8h.1M349.8 442.6h.1M356.5 435.7h.1M356.4 447.0h.1M339.8 443.6h.1M337.2 433.4h.1M371.8 440.0h.1M359.3 435.3h.1M340.4 438.6h.1M351.1 458.2h.1M358.7 435.2h.1M341.9 434.9h.1M354.8 448.5h.1M341.1 450.0h.1M353.1 443.0h.1M378.9 437.6h.1M364.8 439.4h.1M347.8 441.5h.1M370.8 456.6h.1M351.9 457.1h.1M346.1 453.7h.1M348.3 441.7h.1M357.5 443.0h.1M357.1 443.5h.1M357.0 438.8h.1M338.6 442.6h.1M351.7 451.6h.1M358.9 446.9h.1M345.9 427.3h.1M353.3 449.5h.1M365.8 446.8h.1M359.4 447.1h.1M349.0 433.1h.1M345.2 443.1h.1M371.8 442.0h.1M357.6 434.4h.1M348.8 433.7h.1M358.2 447.5h.1M342.1 447.9h.1M350.1 431.5h.1M340.6 428.1h.1M352.4 457.2h.1M334.7 450.7h.1M366.1 446.4h.1M340.7 466.4h.1M349.5 453.3h.1M346.8 435.8h.1M324.0 453.4h.1M335.1 448.3h.1M337.5 441.3h.1M340.7 438.4h.1M342.4 444.2h.1M330.4 433.7h.1M353.2 428.0h.1M342.9 451.1h.1M362.8 430.8h.1M348.0 445.5h.1M344.6 453.8h.1M351.3 433.1h.1M341.0 450.4h.1M349.6 427.7h.1M347.8 449.4h.1M338.6 445.6h.1M333.9 431.7h.1M357.8 441.6h.1M359.0 445.2h.1M366.1 432.5h.1M338.0 446.7h.1M346.8 434.9h.1M359.3 455.5h.1M339.7 441.0h.1M343.4 459.7h.1M362.6 441.2h.1M354.0 436.7h.1M327.8 439.1h.1M355.7 461.8h.1M348.9 436.7h.1M352.7 431.2h.1M360.3 440.4h.1M339.6 448.5h.1M355.9 431.0h.1M350.2 443.4h.1M345.8 458.1h.1M342.9 431.5h.1M362.5 453.2h.1M351.6 462.5h.1M351.7 429.2h.1M350.3 431.6h.1M347.4 450.4h.1M357.7 443.5h.1M359.7 443.9h.1M356.2 454.7h.1M338.6 422.5h.1M344.7 433.4h.1M347.3 450.5h.1M338.4 457.9h.1M335.4 456.9h.1M346.1 446.1h.1M356.1 435.8h.1M355.4 460.8h.1M362.0 439.8h.1M352.3 435.1h.1M353.5 451.5h.1M366.6 446.3h.1M333.6 435.0h.1M355.0 439.4h.1M354.3 429.2h.1M337.8 448.1h.1M359.2 431.9h.1M356.3 435.9h.1M346.0 435.1h.1M341.3 441.5h.1M355.9 438.0h.1M350.0 450.7h.1M330.8 446.2h.1M336.2 443.0h.1M345.5 457.6h.1M348.3 444.9h.1M352.6 446.4h.1M348.2 438.0h.1M341.8 441.9h.1M359.6 442.0h.1M339.3 434.1h.1M351.7 430.4h.1M343.4 436.9h.1M353.2 441.2h.1M346.6 457.3h.1M355.5 442.2h.1M341.0 441.3h.1M376.4 455.6h.1M337.1 461.8h.1M350.3 449.6h.1M345.8 446.6h.1M346.7 453.1h.1M355.3 442.5h.1M364.4 434.5h.1M344.6 451.1h.1M364.1 444.6h.1M338.2 445.1h.1M344.7 457.7h.1M345.1 435.0h.1M343.7 442.2h.1M353.0 448.0h.1M348.4 439.8h.1M336.6 447.6h.1M343.9 460.6h.1M336.3 439.2h.1M345.7 460.5h.1M345.9 426.0h.1M358.4 441.7h.1M342.5 442.5h.1M344.7 436.5h.1M349.2 446.3h.1M352.1 445.8h.1M361.1 457.0h.1M356.6 448.9h.1M336.0 459.7h.1M352.1 452.9h.1M345.3 438.8h.1M358.4 441.4h.1M364.3 433.7h.1M350.6 442.5h.1M343.0 452.3h.1M344.5 430.6h.1M361.3 451.9h.1M347.4 446.1h.1M354.7 453.2h.1M348.3 445.3h.1M345.9 447.6h.1M339.1 424.6h.1M346.9 454.7h.1M353.8 435.1h.1M347.7 443.6h.1M362.5 440.0h.1M345.9 427.6h.1M353.0 456.4h.1M351.6 432.1h.1M353.1 442.4h.1M344.7 443.2h.1M352.9 423.9h.1M351.8 464.7h.1M335.4 429.1h.1M347.5 444.1h.1M357.0 461.2h.1M341.4 451.2h.1M338.4 442.0h.1M345.4 444.2h.1M339.5 444.4h.1M341.1 424.2h.1M356.4 446.5h.1M349.4 455.8h.1M347.2 457.0h.1M353.4 440.7h.1M338.2 445.3h.1M367.0 454.9h.1M341.2 445.7h.1M359.1 454.6h.1M357.1 429.4h.1M363.1 449.3h.1M354.2 443.0h.1M355.0 427.4h.1M348.7 444.6h.1M343.2 439.0h.1M354.1 442.9h.1M346.6 452.2h.1M347.6 426.5h.1M340.0 440.1h.1M356.6 433.7h.1M359.9 443.4h.1M357.2 459.0h.1M354.1 433.3h.1M354.9 445.0h.1M344.7 447.8h.1M354.9 438.6h.1M375.6 429.8h.1M354.9 452.4h.1M350.2 451.2h.1M336.5 463.9h.1M349.4 432.3h.1M351.0 443.5h.1M345.3 447.8h.1M345.5 451.5h.1M366.6 433.8h.1M338.2 461.6h.1M350.9 431.1h.1M351.1 431.5h.1M367.6 441.3h.1M360.6 452.5h.1M357.5 463.0h.1M373.5 459.8h.1M351.0 450.5h.1M340.8 451.6h.1M354.3 445.1h.1M369.8 465.5h.1M343.3 422.7h.1M334.6 457.4h.1M333.2 431.2h.1M349.0 439.4h.1M354.1 450.2h.1M363.7 429.3h.1M336.4 439.8h.1M340.7 433.3h.1M365.7 442.8h.1M343.8 426.9h.1M345.1 451.1h.1M356.5 459.8h.1M343.7 429.4h.1M355.4 452.7h.1M353.6 454.4h.1M355.6 439.0h.1M352.3 452.0h.1M364.8 435.8h.1M346.1 439.9h.1M353.2 433.1h.1M357.1 446.1h.1M357.1 429.9h.1M342.2 431.0h.1M361.9 440.2h.1M359.8 429.8h.1M340.5 462.0h.1M333.6 432.6h.1M340.2 435.2h.1M350.7 462.7h.1M335.5 443.6h.1M337.6 436.6h.1M342.1 441.4h.1M342.7 441.1h.1M354.6 440.5h.1M328.1 430.2h.1M346.6 433.0h.1M344.3 432.3h.1M352.0 434.6h.1M332.2 432.0h.1M349.7 451.3h.1M346.7 434.7h.1M355.7 438.7h.1M338.7 451.5h.1M361.6 451.8h.1M358.8 442.4h.1M347.7 450.4h.1M351.8 451.3h.1M357.2 443.6h.1M352.1 441.9h.1M352.1 448.2h.1M353.5 447.8h.1M347.9 446.0h.1M356.1 443.2h.1M345.9 446.5h.1M356.3 455.9h.1M358.2 447.5h.1M360.9 449.4h.1M375.6 445.2h.1M347.8 436.2h.1M356.5 453.3h.1M346.7 452.5h.1M356.3 447.8h.1M344.4 433.0h.1M358.9 433.3h.1M336.3 450.2h.1M346.7 428.9h.1M361.6 434.3h.1M341.5 462.6h.1M342.0 431.6h.1M350.6 431.1h.1M345.1 448.3h.1M337.4 447.8h.1M353.8 457.2h.1M350.0 448.3h.1M335.8 425.9h.1M340.1 446.4h.1M358.8 440.7h.1M348.3 429.5h.1M365.9 438.6h.1M345.9 459.3h.1M339.7 451.3h.1M341.5 431.5h.1M343.3 448.8h.1M338.3 424.3h.1M343.7 457.3h.1M350.4 439.7h.1M335.5 438.7h.1M368.4 439.4h.1M338.0 453.2h.1M328.9 438.7h.1M360.8 428.8h.1M359.4 446.3h.1M353.5 441.5h.1M368.8 435.1h.1M371.6 436.4h.1M352.0 444.2h.1M354.7 429.8h.1M339.1 455.5h.1M341.1 452.2h.1M342.0 447.3h.1M367.4 458.4h.1M351.4 442.2h.1M343.2 438.5h.1M357.8 427.2h.1M350.3 440.7h.1M361.2 430.8h.1M348.4 449.9h.1M362.5 428.5h.1M338.8 437.0h.1M364.4 424.0h.1M347.0 439.4h.1M355.3 447.0h.1M356.5 426.9h.1M354.6 438.0h.1M357.8 423.7h.1M327.3 440.4h.1M366.0 441.2h.1M358.3 429.9h.1M350.0 437.6h.1M361.7 432.3h.1M366.3 449.2h.1M356.0 440.3h.1M345.2 452.0h.1M345.7 453.6h.1M368.4 440.9h.1M352.4 438.5h.1M351.1 430.7h.1M361.4 430.7h.1M362.8 435.4h.1M344.6 447.7h.1M358.6 444.3h.1M356.0 428.5h.1M341.9 455.0h.1M350.1 443.1h.1M357.9 446.3h.1M351.4 434.8h.1M337.4 440.5h.1M355.6 438.4h.1M369.3 450.2h.1M357.8 427.9h.1M350.7 440.7h.1M352.7 448.0h.1M350.5 434.2h.1M348.1 434.4h.1M350.2 442.7h.1M340.6 443.0h.1M348.0 453.3h.1M333.2 445.8h.1M357.3 451.2h.1M356.4 428.0h.1M360.7 444.0h.1M343.2 440.2h.1M365.5 441.0h.1M344.4 443.7h.1M374.0 425.3h.1M347.4 441.1h.1M358.4 435.6h.1M349.5 444.8h.1M343.6 453.9h.1M340.3 443.9h.1M341.7 439.6h.1M342.9 442.9h.1M335.8 431.4h.1M343.1 454.9h.1M379.4 446.0h.1M335.1 513.1h.1M296.6 493.1h.1M357.5 475.8h.1M337.9 516.6h.1M306.2 452.7h.1M376.1 448.5h.1M335.3 467.7h.1M369.0 464.7h.1M355.5 470.2h.1M313.6 474.7h.1M375.4 513.9h.1M346.2 501.5h.1M317.6 451.7h.1M295.1 435.4h.1M298.8 481.5h.1M293.1 504.6h.1M376.9 495.6h.1M325.7 467.8h.1M303.2 474.6h.1M334.7 453.8h.1M321.8 509.9h.1M369.4 467.4h.1M298.5 487.7h.1M321.0 498.0h.1M319.7 445.9h.1M316.0 494.0h.1M347.7 501.8h.1M285.6 480.4h.1M335.3 438.9h.1M335.8 508.8h.1M347.2 447.4h.1M347.9 520.7h.1M328.6 447.7h.1M313.6 508.0h.1M323.2 481.0h.1M361.3 466.9h.1M326.6 439.2h.1M344.5 460.2h.1M347.4 514.2h.1M336.9 470.3h.1M371.6 456.5h.1M317.5 477.0h.1M335.1 468.5h.1M320.7 455.1h.1M379.6 487.3h.1M352.3 492.7h.1M322.0 465.6h.1M294.7 519.8h.1M294.6 445.0h.1M284.6 501.8h.1M334.5 515.4h.1M342.9 502.5h.1M349.1 466.1h.1M299.6 492.9h.1M316.4 483.3h.1M377.7 508.7h.1M312.8 514.9h.1M289.2 472.3h.1M319.3 490.0h.1M315.8 480.3h.1M346.8 520.2h.1M335.3 504.6h.1M283.7 499.8h.1M311.5 485.8h.1M339.8 519.8h.1M353.8 438.5h.1M286.2 451.4h.1M340.1 491.3h.1M323.0 515.1h.1M360.3 473.2h.1M303.3 518.3h.1M312.8 460.7h.1M323.8 448.9h.1M331.5 455.5h.1M322.4 435.3h.1M360.9 477.8h.1M375.1 519.4h.1M369.8 469.6h.1M350.8 454.8h.1M342.1 472.5h.1M302.7 488.2h.1M312.4 490.0h.1M364.4 484.2h.1M294.8 504.6h.1M315.4 488.5h.1M293.5 468.7h.1M334.0 432.2h.1M357.4 454.2h.1M313.2 474.8h.1M310.1 511.0h.1M338.3 453.8h.1M333.2 482.5h.1M343.2 499.9h.1M307.8 505.3h.1M321.3 509.3h.1M351.4 450.0h.1M353.8 487.8h.1M308.0 436.3h.1M349.9 496.9h.1M317.7 462.9h.1M357.8 470.1h.1M353.6 478.0h.1M339.6 506.2h.1M314.7 520.4h.1M326.0 488.3h.1M286.2 521.1h.1M315.3 520.6h.1M304.5 520.2h.1M298.6 520.3h.1M284.6 521.2h.1M295.0 520.3h.1M299.4 520.6h.1M335.3 520.7h.1M334.1 520.3h.1M295.8 520.9h.1M294.7 520.9h.1M310.8 521.3h.1M293.7 520.4h.1M323.0 520.3h.1M329.1 521.3h.1M341.1 520.3h.1M341.7 521.0h.1M287.2 521.2h.1M324.4 520.3h.1M310.7 521.0h.1M329.9 520.7h.1M308.9 520.6h.1M333.7 520.2h.1M304.2 521.0h.1M321.5 521.1h.1" stroke="#4040f4" stroke-opacity="0.5" stroke-width="0.8" stroke-linecap="square" fill="none"/>
<path d="M318.9 484.0h.1M331.0 488.4h.1M318.3 486.8h.1M329.4 476.8h.1M332.2 491.4h.1M330.6 488.4h.1M316.0 495.4h.1M309.3 494.3h.1M332.8 490.4h.1M321.9 495.3h.1M328.6 479.7h.1M320.3 485.1h.1M320.9 483.4h.1M332.4 491.5h.1M314.9 497.2h.1M324.9 496.0h.1M308.4 495.1h.1M329.9 481.7h.1M331.9 481.9h.1M313.4 489.6h.1M323.3 480.3h.1M324.0 482.9h.1M315.5 489.6h.1M330.2 477.7h.1M326.4 482.1h.1M323.9 495.3h.1M314.2 497.5h.1M309.3 499.6h.1M311.5 493.2h.1M318.9 481.9h.1M325.9 494.0h.1M331.2 481.6h.1M320.0 485.1h.1M308.7 495.5h.1M333.1 490.6h.1M324.1 495.3h.1M317.2 496.3h.1M312.4 495.7h.1M332.1 485.1h.1M313.7 488.6h.1M320.7 498.6h.1M312.6 492.2h.1M331.0 480.5h.1M313.0 491.1h.1M321.4 483.6h.1M319.1 497.8h.1M332.7 480.3h.1M322.9 493.8h.1M327.8 477.5h.1M331.0 479.0h.1M312.3 488.1h.1M331.4 492.0h.1M314.4 492.0h.1M311.9 496.9h.1M325.4 493.6h.1M338.1 482.1h.1M326.8 492.0h.1M330.5 490.1h.1M336.8 478.8h.1M308.0 493.1h.1M311.1 499.6h.1M310.6 498.7h.1M314.5 496.3h.1M313.2 492.9h.1M326.5 491.7h.1M324.9 493.9h.1M334.4 479.5h.1M324.2 494.7h.1M318.1 497.3h.1M323.5 480.9h.1M316.2 486.0h.1M320.5 495.4h.1M333.7 480.7h.1M334.5 486.1h.1M327.7 480.4h.1M324.8 483.1h.1M309.4 498.9h.1M320.8 483.0h.1M318.3 484.1h.1M328.0 491.9h.1M321.1 484.8h.1M309.7 501.7h.1M323.4 493.9h.1M336.9 487.5h.1M331.3 480.5h.1M315.7 484.8h.1M332.5 483.5h.1M330.5 491.7h.1M326.9 494.6h.1M318.7 481.8h.1M337.7 485.0h.1M333.4 476.0h.1M311.0 493.3h.1M323.1 480.7h.1M331.2 479.6h.1M313.3 492.1h.1M329.2 477.4h.1M331.2 489.4h.1M314.1 489.5h.1M313.9 491.2h.1M323.1 482.6h.1M313.9 493.0h.1M338.5 480.7h.1M325.2 480.0h.1M335.2 484.0h.1M316.0 495.8h.1M325.2 481.2h.1M308.3 500.9h.1M311.7 493.0h.1M331.2 493.4h.1M332.1 486.0h.1M306.3 497.7h.1M331.4 489.0h.1M308.0 494.5h.1M331.1 481.8h.1M310.9 488.0h.1M329.5 482.2h.1M310.2 497.4h.1M324.8 494.0h.1M315.3 499.8h.1M311.7 499.3h.1M331.2 480.0h.1M318.0 498.1h.1M306.6 497.3h.1M325.3 482.5h.1M316.1 496.3h.1M308.6 498.8h.1M313.1 499.2h.1M334.0 482.0h.1M316.7 488.0h.1M319.4 499.7h.1M321.9 495.1h.1M315.9 500.9h.1M319.7 497.2h.1M309.0 495.5h.1M336.2 485.7h.1M326.9 494.3h.1M314.5 495.4h.1M322.7 498.7h.1M314.7 496.0h.1M313.6 493.4h.1M322.5 483.5h.1M333.2 486.3h.1M312.6 495.7h.1M312.1 486.6h.1M334.9 481.3h.1M330.9 487.6h.1M334.9 484.2h.1M330.8 481.9h.1M320.3 485.0h.1M322.9 495.4h.1M325.1 495.0h.1M337.9 480.6h.1M315.1 495.8h.1M333.3 484.0h.1M323.9 494.7h.1M335.3 482.4h.1M329.3 489.7h.1M329.3 491.2h.1M332.2 482.9h.1M328.3 480.7h.1M316.7 487.6h.1M321.5 494.7h.1M315.6 498.3h.1M313.6 498.0h.1M312.3 491.6h.1M311.6 493.9h.1M333.0 478.0h.1M332.9 481.1h.1M315.9 497.1h.1M325.9 482.0h.1M332.4 477.4h.1M316.5 487.0h.1M316.6 488.5h.1M326.8 491.6h.1M333.4 485.9h.1M326.1 494.2h.1M335.9 477.0h.1M317.7 483.9h.1M324.6 493.3h.1M311.8 496.9h.1M308.0 496.3h.1M337.2 480.4h.1M331.7 479.7h.1M331.6 486.6h.1M332.7 484.1h.1M313.0 500.7h.1M328.1 480.5h.1M322.0 483.0h.1M319.2 498.9h.1M336.5 476.9h.1M312.9 495.7h.1M331.4 481.9h.1M337.1 478.5h.1M312.0 491.7h.1M337.2 476.3h.1M326.6 491.9h.1M312.8 488.8h.1M329.8 480.6h.1M332.2 484.2h.1M317.1 499.0h.1M339.2 480.8h.1M313.5 495.5h.1M340.1 481.8h.1M316.9 486.6h.1M334.0 484.0h.1M336.6 486.3h.1M332.1 478.0h.1M312.6 491.8h.1M316.1 488.9h.1M336.1 476.9h.1M317.4 486.5h.1M306.0 495.0h.1M328.9 481.6h.1M315.7 489.5h.1M313.9 500.1h.1M335.8 487.9h.1M310.7 494.4h.1M325.7 482.3h.1M330.3 492.0h.1M313.2 488.1h.1M329.8 494.2h.1M321.3 495.0h.1M321.6 495.4h.1M311.9 488.0h.1M333.2 484.8h.1M326.8 480.0h.1M317.8 482.8h.1M316.6 487.5h.1M317.8 486.8h.1M316.6 496.2h.1M332.4 480.5h.1M332.2 488.6h.1M310.4 494.2h.1M316.4 486.5h.1M307.4 496.7h.1M312.3 489.2h.1M308.2 496.2h.1M311.0 495.7h.1M333.2 483.3h.1M322.4 495.7h.1M336.5 479.3h.1M327.6 482.2h.1M308.1 492.5h.1M320.1 484.8h.1M325.7 494.8h.1M332.7 482.9h.1M313.2 491.2h.1M310.6 494.0h.1M334.2 486.9h.1M332.3 490.2h.1M335.8 477.4h.1M324.7 494.8h.1M318.9 485.2h.1M329.1 490.0h.1M324.3 494.7h.1M332.5 481.2h.1M322.3 483.5h.1M323.1 496.6h.1M314.1 489.4h.1M314.1 491.8h.1M314.7 491.0h.1M326.6 493.5h.1M312.2 487.2h.1M329.1 493.1h.1M322.1 484.0h.1M312.6 495.8h.1M336.4 480.0h.1M310.2 490.1h.1M308.2 498.7h.1M324.0 494.2h.1M330.1 492.1h.1M325.6 480.0h.1M314.5 500.9h.1M331.7 487.7h.1M330.4 488.0h.1M320.6 495.0h.1M317.6 485.7h.1M335.3 483.9h.1M314.7 491.4h.1M335.7 484.2h.1M310.6 496.7h.1M334.2 484.9h.1M313.6 492.3h.1M336.0 487.1h.1M331.5 481.3h.1M311.6 495.1h.1M319.7 485.0h.1M316.2 498.4h.1M331.6 487.1h.1M333.5 476.8h.1M335.4 487.5h.1M331.7 483.1h.1M315.3 496.2h.1M320.1 495.7h.1M332.7 483.7h.1M309.6 490.3h.1M309.5 495.0h.1M310.9 499.3h.1M322.4 494.8h.1M310.2 494.5h.1M335.7 485.1h.1M338.3 484.5h.1M335.6 484.1h.1M320.8 484.0h.1M312.1 487.6h.1M314.1 499.7h.1M313.9 487.0h.1M323.7 481.9h.1M315.2 488.1h.1M311.2 496.7h.1M325.4 492.5h.1M332.6 482.9h.1M334.4 480.6h.1M320.0 497.6h.1M311.2 497.0h.1M315.0 484.2h.1M332.3 488.1h.1M313.7 500.5h.1M336.9 476.1h.1M332.3 491.8h.1M314.3 492.0h.1M313.7 501.0h.1M308.7 494.7h.1M336.7 479.6h.1M331.8 485.0h.1M327.3 482.4h.1M316.1 488.6h.1M313.6 495.2h.1M336.3 485.7h.1M312.2 487.3h.1M319.9 483.8h.1M320.8 480.3h.1M326.6 491.7h.1M331.1 487.5h.1M315.7 486.8h.1M314.5 495.1h.1M331.9 489.0h.1M325.2 479.4h.1M312.6 487.7h.1M322.7 496.8h.1M312.7 488.3h.1M314.6 500.4h.1M337.3 477.1h.1M329.8 491.3h.1M330.4 481.9h.1M332.7 483.9h.1M313.8 496.7h.1M311.2 489.5h.1M317.2 482.7h.1M317.4 485.2h.1M335.6 488.6h.1M327.1 480.5h.1M335.0 487.8h.1M315.9 486.3h.1M322.8 495.8h.1M309.8 497.5h.1M338.1 485.4h.1M313.9 487.8h.1M326.8 493.9h.1M316.3 488.5h.1M324.0 480.4h.1M325.7 481.1h.1M333.9 487.1h.1M324.4 496.0h.1M315.4 488.3h.1M334.8 477.0h.1M326.4 496.0h.1M337.1 481.9h.1M332.3 483.1h.1M315.3 498.3h.1M308.0 497.2h.1M330.4 490.0h.1M318.3 485.3h.1M323.1 494.7h.1M320.3 498.2h.1M331.2 482.1h.1M311.2 491.4h.1M307.8 495.9h.1M319.6 495.2h.1M312.0 490.1h.1M316.4 500.7h.1M322.1 482.8h.1M332.4 480.8h.1M324.5 480.5h.1M320.8 496.2h.1M316.1 487.9h.1M324.3 493.9h.1M312.5 489.6h.1M317.5 487.7h.1M326.0 493.1h.1M314.6 487.5h.1M330.7 479.8h.1M329.1 478.2h.1M331.4 488.7h.1M334.3 478.7h.1M321.3 483.7h.1M319.8 482.3h.1M319.9 495.2h.1M335.0 483.2h.1M310.5 494.7h.1M331.7 481.3h.1M334.4 480.0h.1M336.1 482.4h.1M314.2 490.1h.1M328.7 477.3h.1M319.0 483.6h.1M320.0 496.2h.1M320.9 482.9h.1M310.6 496.9h.1M327.9 481.1h.1M313.5 491.0h.1M321.1 484.2h.1M330.7 479.6h.1M326.1 482.4h.1M325.0 482.8h.1M319.2 482.2h.1M329.7 490.2h.1M315.4 495.3h.1M339.9 480.4h.1M328.3 477.4h.1M311.2 493.0h.1M316.4 495.9h.1M315.0 490.7h.1M306.6 497.8h.1M311.1 490.3h.1M324.7 493.8h.1M328.0 491.0h.1M324.3 494.1h.1M334.0 477.1h.1M325.5 492.6h.1M314.5 495.7h.1M316.3 488.2h.1M322.5 483.8h.1M328.8 478.1h.1M321.8 480.1h.1M321.2 495.5h.1M315.1 495.5h.1M311.1 494.9h.1M311.2 491.6h.1M316.9 488.1h.1M335.2 485.0h.1M329.2 481.6h.1M326.1 495.2h.1M328.7 490.0h.1M322.6 494.9h.1M323.4 483.5h.1M313.1 500.3h.1M320.2 495.8h.1M324.3 497.9h.1M329.9 489.5h.1M315.9 488.4h.1M328.4 490.9h.1M331.3 479.3h.1M323.7 482.2h.1M332.0 488.0h.1M322.4 497.7h.1M314.7 497.1h.1M322.7 495.5h.1M320.2 497.8h.1M330.5 488.7h.1M320.0 484.4h.1M312.0 497.4h.1M331.8 478.3h.1M315.4 499.0h.1M325.2 492.7h.1M322.1 483.0h.1M329.1 480.6h.1M324.1 482.0h.1M317.6 485.1h.1M308.6 494.5h.1M309.7 490.4h.1M318.2 500.2h.1M309.2 494.7h.1M325.0 481.4h.1M311.6 495.1h.1M335.4 484.6h.1M314.0 492.1h.1M317.0 497.8h.1M314.1 497.9h.1M311.9 491.9h.1M313.5 493.4h.1M316.9 500.1h.1M310.1 495.5h.1M327.7 479.5h.1M325.2 493.1h.1M330.1 482.4h.1M335.1 483.8h.1M324.0 482.2h.1M328.5 481.9h.1M332.4 484.7h.1M316.9 488.1h.1M310.3 488.8h.1M324.3 494.9h.1M317.2 486.7h.1M309.9 496.9h.1M316.3 484.7h.1M313.2 497.7h.1M325.6 478.6h.1M328.1 490.5h.1M312.6 489.5h.1M334.0 484.4h.1M321.6 482.9h.1M334.4 482.9h.1M313.4 498.1h.1M334.9 483.3h.1M335.2 478.7h.1M331.9 489.4h.1M312.1 491.1h.1M315.6 489.4h.1M323.7 483.1h.1M335.8 482.1h.1M315.6 497.4h.1M321.7 496.0h.1M330.8 481.6h.1M328.1 481.6h.1M335.1 476.9h.1M320.7 499.1h.1M311.4 494.3h.1M336.9 486.6h.1M334.0 481.6h.1M331.4 490.0h.1M334.2 485.2h.1M325.6 479.5h.1M317.3 486.2h.1M322.0 484.0h.1M323.5 497.5h.1M320.8 483.7h.1M324.0 480.7h.1M320.5 497.6h.1M313.6 485.6h.1M310.7 493.9h.1M308.8 491.5h.1M327.0 480.9h.1M315.1 490.1h.1M314.1 489.7h.1M314.0 499.8h.1M314.5 489.8h.1M323.9 481.2h.1M322.7 496.0h.1M317.2 487.5h.1M321.7 483.9h.1M313.0 492.8h.1" stroke="#3a3af2" stroke-opacity="0.7" stroke-width="0.8" stroke-linecap="square" fill="none"/>
<path d="M331.4 484.7h.1M325.6 482.9h.1M329.5 488.3h.1M319.3 487.5h.1M324.3 491.8h.1M328.1 488.6h.1M318.0 488.5h.1M329.1 484.7h.1M330.4 486.8h.1M323.4 492.5h.1M327.2 483.4h.1M316.4 492.4h.1M320.6 486.0h.1M316.5 492.6h.1M330.2 487.5h.1M314.3 493.7h.1M318.2 488.2h.1M327.7 482.6h.1M321.4 485.9h.1M329.2 487.4h.1M316.1 491.5h.1M329.7 483.2h.1M330.0 482.5h.1M321.3 485.7h.1M322.6 485.2h.1M327.7 482.8h.1M330.7 485.0h.1M314.7 491.9h.1M323.7 484.6h.1M315.0 492.4h.1M315.1 494.8h.1M317.5 493.7h.1M325.3 491.4h.1M331.4 484.9h.1M329.8 485.7h.1M317.9 494.4h.1M324.7 483.4h.1M325.8 483.5h.1M317.1 490.3h.1M316.5 491.3h.1M330.3 487.6h.1M330.2 484.6h.1M327.2 484.0h.1M319.0 494.6h.1M331.2 485.4h.1M323.3 492.7h.1M326.6 484.1h.1M325.4 484.3h.1M327.8 489.9h.1M317.1 494.4h.1M327.3 489.9h.1M325.6 484.1h.1M330.1 487.2h.1M330.0 487.6h.1M329.9 485.8h.1M322.4 493.9h.1M315.4 494.3h.1M321.4 493.4h.1M317.5 493.7h.1M330.0 483.6h.1M327.4 490.7h.1M321.3 494.3h.1M316.9 488.5h.1M328.5 488.3h.1M327.9 488.9h.1M314.7 493.6h.1M322.0 493.2h.1M326.2 490.8h.1M317.4 489.2h.1M327.2 490.5h.1M327.8 488.7h.1M330.5 485.9h.1M315.7 493.8h.1M319.6 486.9h.1M330.7 484.7h.1M318.3 493.9h.1M321.0 494.4h.1M316.0 490.6h.1M329.8 486.8h.1M318.3 494.1h.1M327.3 483.2h.1M315.4 490.5h.1M315.3 494.2h.1M328.4 487.9h.1M315.9 492.5h.1M319.1 488.0h.1M328.9 488.4h.1M317.2 488.5h.1M318.0 493.6h.1M323.1 485.2h.1M325.7 491.9h.1M323.2 492.6h.1M329.9 487.9h.1M327.8 483.0h.1M327.2 490.1h.1M319.0 495.0h.1M330.2 485.4h.1M330.8 486.2h.1M316.9 494.1h.1M326.3 483.1h.1M330.0 483.7h.1M324.6 492.5h.1M314.6 492.3h.1M322.6 484.2h.1M321.5 494.2h.1M325.6 483.2h.1M325.1 492.4h.1M331.1 483.4h.1M328.2 489.2h.1M321.2 493.6h.1M324.9 484.0h.1M319.2 494.9h.1M314.6 493.3h.1M325.5 482.9h.1M319.1 487.7h.1M325.4 483.4h.1M320.1 494.0h.1M322.1 484.8h.1M317.1 493.4h.1M319.0 487.7h.1M323.0 492.4h.1M323.4 492.2h.1M324.0 492.5h.1M316.0 490.9h.1M316.6 494.1h.1M318.8 494.3h.1M324.7 484.0h.1M328.9 484.4h.1M318.2 487.7h.1M317.7 494.9h.1M324.3 484.6h.1M329.6 484.1h.1M318.1 488.1h.1M326.4 483.6h.1M315.3 491.3h.1M328.5 489.1h.1M314.5 492.1h.1M321.2 485.5h.1M330.7 482.9h.1M316.1 491.2h.1M328.7 488.7h.1M316.2 494.6h.1M328.1 489.2h.1M314.9 493.5h.1M320.1 493.8h.1M315.9 492.7h.1M329.7 484.1h.1M330.8 484.2h.1M317.5 489.6h.1M316.2 493.1h.1M318.6 488.1h.1M329.6 484.4h.1M319.6 494.0h.1M328.7 488.7h.1M316.3 494.1h.1M318.5 493.6h.1M319.8 487.2h.1M315.3 491.0h.1M329.7 486.0h.1M319.8 487.3h.1M331.5 484.5h.1M327.9 482.5h.1M331.1 484.9h.1M329.4 487.4h.1M319.6 494.1h.1M327.5 490.3h.1M318.8 487.1h.1M316.7 493.7h.1M330.1 487.7h.1M325.1 491.2h.1M316.5 490.0h.1M325.6 483.4h.1M322.4 493.0h.1M328.7 489.2h.1M320.0 486.1h.1" stroke="#20a8f0" stroke-opacity="0.9" stroke-width="0.8" stroke-linecap="square" fill="none"/>
<path d="M325.2 484.6h.1M324.1 485.1h.1M318.9 489.9h.1M320.2 489.2h.1M327.7 486.9h.1M323.6 491.8h.1M322.6 487.2h.1M319.6 489.7h.1M327.0 489.3h.1M319.2 489.7h.1M326.6 484.9h.1M323.5 490.8h.1M323.7 486.3h.1M321.6 487.1h.1M323.2 490.8h.1M320.7 488.1h.1M326.9 488.1h.1M327.8 486.3h.1M320.4 491.3h.1M318.2 492.2h.1M324.1 490.4h.1M321.2 487.3h.1M319.8 490.2h.1M327.9 486.5h.1M323.3 485.5h.1M319.8 490.0h.1M322.9 486.4h.1M327.7 485.4h.1M328.2 486.2h.1M323.0 486.7h.1M327.9 484.5h.1M323.3 491.1h.1M325.3 484.5h.1M320.3 491.7h.1M319.9 489.9h.1M324.3 485.1h.1M321.2 487.2h.1M319.4 487.7h.1M322.6 491.1h.1M324.6 486.0h.1M326.7 488.7h.1M320.1 488.7h.1M327.7 487.2h.1M327.9 485.4h.1M328.9 485.5h.1M318.9 491.6h.1M318.1 492.9h.1M327.7 486.8h.1M327.9 488.6h.1M324.0 490.8h.1M327.1 484.5h.1M326.2 488.4h.1M322.5 491.8h.1M325.4 484.7h.1M324.0 491.6h.1M319.6 489.5h.1M318.4 489.6h.1M320.4 488.9h.1M318.3 493.0h.1M327.2 486.2h.1M322.4 491.4h.1M317.3 492.2h.1M326.2 485.3h.1M323.7 491.9h.1M322.8 491.2h.1M322.0 492.4h.1M329.2 486.2h.1M322.8 490.7h.1M318.4 491.6h.1M327.0 489.2h.1M325.9 485.1h.1M324.1 490.9h.1M327.8 486.0h.1M317.0 491.6h.1M321.2 486.8h.1M318.0 489.6h.1M318.9 490.2h.1M324.2 486.3h.1M325.8 489.7h.1M328.0 486.8h.1M318.7 490.6h.1M328.9 486.3h.1M322.6 487.2h.1M319.2 490.0h.1M317.3 492.1h.1M320.5 492.5h.1M319.6 488.4h.1M329.0 486.5h.1M316.9 491.5h.1M320.7 493.2h.1M327.4 486.4h.1M326.1 490.0h.1M325.1 489.3h.1M322.6 492.5h.1M323.7 485.2h.1M326.0 488.1h.1M318.1 489.5h.1M327.3 487.4h.1M319.3 491.1h.1M323.0 486.5h.1M325.2 490.7h.1M317.6 490.0h.1M325.4 486.3h.1M317.8 490.5h.1M327.9 485.5h.1M320.3 487.6h.1M321.6 486.5h.1M321.2 493.1h.1M323.7 485.6h.1M326.7 487.7h.1M322.9 485.4h.1M320.9 491.9h.1M325.3 485.3h.1M322.4 485.9h.1M319.8 491.2h.1M319.7 490.3h.1M323.6 486.3h.1M322.3 486.4h.1M318.6 490.3h.1M328.7 486.0h.1M319.6 490.0h.1M319.9 492.2h.1M327.8 486.2h.1M326.7 488.2h.1M323.3 485.6h.1M327.4 488.3h.1M320.0 492.4h.1M320.6 487.9h.1M317.3 491.3h.1M323.4 486.0h.1M317.4 491.8h.1M318.6 493.0h.1M317.7 492.7h.1M318.8 491.9h.1M327.7 486.5h.1M327.3 487.8h.1M318.8 489.2h.1M320.8 487.5h.1M319.1 490.7h.1M324.6 485.6h.1M326.9 486.1h.1M320.3 487.1h.1M318.7 492.8h.1M321.8 492.2h.1M317.7 492.3h.1M328.9 485.8h.1M327.5 484.9h.1M319.9 491.8h.1M329.2 485.4h.1M319.9 492.7h.1M317.0 492.7h.1M326.9 489.3h.1M323.0 485.4h.1M326.0 489.2h.1M325.1 485.5h.1M327.6 484.1h.1M319.0 491.8h.1M318.9 489.7h.1M326.0 490.3h.1M316.9 492.0h.1M326.2 490.2h.1M324.3 491.0h.1M323.0 485.4h.1M325.6 485.7h.1M320.3 491.1h.1M319.7 492.1h.1M322.2 487.2h.1M326.7 487.2h.1M326.2 485.0h.1M327.1 486.3h.1M326.0 485.5h.1M327.4 484.2h.1M328.4 484.7h.1M322.6 486.1h.1M317.0 491.7h.1M325.8 489.4h.1M320.8 487.1h.1M328.5 484.7h.1M328.2 485.0h.1M321.1 486.5h.1M318.5 490.2h.1M322.1 491.8h.1M326.9 485.1h.1M319.9 493.0h.1M322.0 491.9h.1M328.0 485.6h.1M326.3 488.7h.1M327.6 484.3h.1M323.5 491.8h.1M316.9 491.2h.1M323.2 490.6h.1M324.7 490.6h.1M324.6 486.3h.1M328.5 484.9h.1M327.8 486.9h.1M318.8 492.6h.1M324.2 490.0h.1M317.8 492.2h.1M327.5 484.1h.1M320.1 489.3h.1M319.8 493.2h.1M320.6 492.2h.1M326.1 485.2h.1M326.2 486.3h.1M320.8 487.8h.1M318.3 493.2h.1M317.8 491.4h.1M325.2 486.4h.1" stroke="#34d23a" stroke-opacity="0.95" stroke-width="0.8" stroke-linecap="square" fill="none"/>
<path d="M321.4 490.8h.1M325.5 487.3h.1M321.3 490.5h.1M324.8 487.9h.1M322.8 487.4h.1M321.2 491.0h.1M324.6 488.3h.1M320.2 490.7h.1M320.7 490.0h.1M323.1 489.6h.1M323.3 490.4h.1M320.7 489.3h.1M324.0 489.0h.1M323.5 487.3h.1M322.3 490.8h.1M322.6 487.6h.1M322.1 488.2h.1M324.9 486.6h.1M324.8 488.4h.1M320.7 490.6h.1M325.2 488.5h.1M324.9 486.9h.1M321.3 489.4h.1M325.0 486.7h.1M321.6 489.0h.1M324.5 486.6h.1M325.5 488.0h.1M324.8 487.2h.1M322.6 487.4h.1M322.3 490.6h.1M323.9 489.8h.1M322.4 490.2h.1M321.1 489.9h.1M324.9 486.6h.1M320.3 489.5h.1M325.1 487.4h.1M323.7 489.2h.1M324.1 489.1h.1M321.3 490.3h.1M323.6 489.7h.1M323.5 489.7h.1M321.4 489.3h.1M322.5 490.0h.1M325.5 488.5h.1M320.6 489.7h.1M324.0 489.5h.1M324.3 487.7h.1M322.3 487.8h.1M320.9 490.6h.1M325.1 489.0h.1M325.4 488.5h.1M322.8 487.7h.1M322.1 488.3h.1M324.0 489.3h.1M321.4 489.6h.1M321.5 490.8h.1M322.1 488.2h.1M321.6 488.8h.1M322.4 488.2h.1" stroke="#c8e020" stroke-opacity="0.95" stroke-width="0.8" stroke-linecap="square" fill="none"/>
<path d="M323.6 488.8h.1M322.5 489.4h.1M321.6 489.4h.1M322.8 489.6h.1M322.4 489.7h.1M323.1 489.5h.1M324.2 487.8h.1M323.2 488.7h.1M322.5 488.3h.1M324.3 487.9h.1M322.2 488.7h.1M322.1 489.0h.1" stroke="#ee4a1c" stroke-opacity="1.0" stroke-width="0.8" stroke-linecap="square" fill="none"/>
<line x1="338.10" y1="421.60" x2="338.10" y2="522.20" stroke="#3c3c3c" stroke-width="1.0"/>
<line x1="282.10" y1="469.60" x2="382.40" y2="469.60" stroke="#3c3c3c" stroke-width="1.0"/>
<text x="284.10" y="431.30" font-size="5.6" text-anchor="start" fill="#333">2.16</text>
<text x="376.90" y="431.30" font-size="5.6" text-anchor="end" fill="#333">7.99</text>
<text x="284.10" y="516.20" font-size="5.6" text-anchor="start" fill="#333">84.0</text>
<text x="376.90" y="516.20" font-size="5.6" text-anchor="end" fill="#333">5.89</text>
<text x="333.80" y="555.90" font-size="11.0" text-anchor="middle" stroke="#111" stroke-width="0.22" fill="#111">20</text>
<rect x="408.10" y="421.20" width="98.90" height="99.70" fill="#fff" stroke="#8c8c8c" stroke-width="0.7"/>
<path d="M405.9 520.9h2.2M407.1 514.4h1M407.1 510.6h1M407.1 507.9h1M407.1 505.8h1M407.1 504.1h1M407.1 502.6h1M407.1 501.4h1M407.1 500.3h1M405.9 499.3h2.2M407.1 492.8h1M407.1 489.0h1M407.1 486.3h1M407.1 484.2h1M407.1 482.5h1M407.1 481.0h1M407.1 479.8h1M407.1 478.7h1M405.9 477.7h2.2M407.1 471.2h1M407.1 467.4h1M407.1 464.7h1M407.1 462.6h1M407.1 460.9h1M407.1 459.4h1M407.1 458.2h1M407.1 457.1h1M405.9 456.1h2.2M407.1 449.6h1M407.1 445.8h1M407.1 443.1h1M407.1 441.0h1M407.1 439.3h1M407.1 437.8h1M407.1 436.6h1M407.1 435.5h1M405.9 434.5h2.2M407.1 428.0h1M407.1 424.2h1M407.1 421.5h1M408.1 520.9v2.2M415.5 520.9v1.1M419.8 520.9v1.1M422.8 520.9v1.1M425.2 520.9v1.1M427.1 520.9v1.1M428.7 520.9v1.1M430.2 520.9v1.1M431.4 520.9v1.1M432.5 520.9v2.2M439.9 520.9v1.1M444.2 520.9v1.1M447.2 520.9v1.1M449.6 520.9v1.1M451.5 520.9v1.1M453.2 520.9v1.1M454.6 520.9v1.1M455.8 520.9v1.1M456.9 520.9v2.2M464.3 520.9v1.1M468.6 520.9v1.1M471.6 520.9v1.1M474.0 520.9v1.1M475.9 520.9v1.1M477.6 520.9v1.1M479.0 520.9v1.1M480.2 520.9v1.1M481.4 520.9v2.2M488.7 520.9v1.1M493.0 520.9v1.1M496.1 520.9v1.1M498.4 520.9v1.1M500.4 520.9v1.1M502.0 520.9v1.1M503.4 520.9v1.1M504.7 520.9v1.1M505.8 520.9v2.2" stroke="#555" stroke-width="0.5" fill="none"/>
<text x="404.50" y="522.20" font-size="4.0" text-anchor="end" fill="#333">10<tspan dy="-1.7" font-size="2.7">2</tspan></text>
<text x="409.70" y="528.90" font-size="4.0" text-anchor="middle" fill="#333">10<tspan dy="-1.7" font-size="2.7">2</tspan></text>
<text x="404.50" y="500.60" font-size="4.0" text-anchor="end" fill="#333">10<tspan dy="-1.7" font-size="2.7">3</tspan></text>
<text x="434.12" y="528.90" font-size="4.0" text-anchor="middle" fill="#333">10<tspan dy="-1.7" font-size="2.7">3</tspan></text>
<text x="404.50" y="479.00" font-size="4.0" text-anchor="end" fill="#333">10<tspan dy="-1.7" font-size="2.7">4</tspan></text>
<text x="458.54" y="528.90" font-size="4.0" text-anchor="middle" fill="#333">10<tspan dy="-1.7" font-size="2.7">4</tspan></text>
<text x="404.50" y="457.40" font-size="4.0" text-anchor="end" fill="#333">10<tspan dy="-1.7" font-size="2.7">5</tspan></text>
<text x="482.96" y="528.90" font-size="4.0" text-anchor="middle" fill="#333">10<tspan dy="-1.7" font-size="2.7">5</tspan></text>
<text x="404.50" y="435.80" font-size="4.0" text-anchor="end" fill="#333">10<tspan dy="-1.7" font-size="2.7">6</tspan></text>
<text x="507.38" y="528.90" font-size="4.0" text-anchor="middle" fill="#333">10<tspan dy="-1.7" font-size="2.7">6</tspan></text>
<text x="457.55" y="540.20" font-size="4.8" text-anchor="middle" fill="#333">FL1-A :: FITC-A</text>
<text x="395.90" y="471.05" font-size="4.8" text-anchor="middle" fill="#333" transform="rotate(-90 395.90 471.05)">FL3-A :: PI-A</text>
<ellipse cx="447.00" cy="486.80" rx="17.25" ry="6.90" fill="#4a4af2" fill-opacity="0.4" filter="url(#fblur)" transform="rotate(-33 447.00 486.80)"/>
<path d="M447.5 472.7h.1M469.4 483.1h.1M430.6 504.9h.1M457.9 490.9h.1M472.4 467.5h.1M480.9 482.3h.1M431.3 483.3h.1M437.4 481.1h.1M434.5 484.2h.1M441.8 478.0h.1M448.1 471.6h.1M420.4 492.2h.1M456.5 468.9h.1M426.1 498.1h.1M422.2 496.4h.1M474.4 489.2h.1M426.9 490.8h.1M502.4 450.7h.1M467.3 474.5h.1M416.4 487.6h.1M456.7 470.6h.1M446.8 500.1h.1M428.2 491.2h.1M465.4 484.2h.1M465.6 473.0h.1M468.5 490.5h.1M465.4 462.2h.1M426.2 491.7h.1M428.5 490.2h.1M467.2 465.7h.1M466.6 479.3h.1M451.2 472.0h.1M454.2 471.9h.1M426.1 500.5h.1M467.9 474.8h.1M428.1 499.4h.1M459.2 468.9h.1M441.5 477.2h.1M425.9 496.3h.1M425.2 499.4h.1M472.7 468.3h.1M472.2 475.4h.1M426.0 478.6h.1M433.2 485.2h.1M477.8 464.2h.1M469.9 470.7h.1M440.9 477.4h.1M456.3 492.1h.1M454.9 497.2h.1M412.0 518.6h.1M417.1 485.1h.1M418.4 501.0h.1M413.4 507.5h.1M444.0 499.9h.1M416.5 497.1h.1M481.4 480.9h.1M451.7 469.3h.1M471.1 487.7h.1M431.4 485.1h.1M416.2 503.3h.1M460.1 467.2h.1M470.2 465.8h.1M457.5 466.0h.1M469.4 475.1h.1M498.7 463.4h.1M473.2 460.3h.1M468.7 467.2h.1M473.3 491.0h.1M434.3 484.5h.1M440.8 471.8h.1M418.8 505.6h.1M467.5 477.4h.1M431.2 484.6h.1M444.3 499.2h.1M477.7 456.9h.1M418.3 503.7h.1M466.1 491.3h.1M422.7 502.1h.1M468.4 484.2h.1M465.1 469.6h.1M429.6 505.3h.1M466.4 470.5h.1M465.4 458.7h.1M415.0 493.3h.1M464.7 489.0h.1M449.4 470.9h.1M421.8 486.4h.1M463.8 492.8h.1M421.7 519.9h.1M446.5 498.1h.1M423.4 497.9h.1M428.7 499.9h.1M444.7 475.8h.1M453.8 462.2h.1M415.1 494.2h.1M422.4 498.7h.1M430.0 487.8h.1M455.5 467.7h.1M454.1 497.7h.1M454.2 469.6h.1M449.9 472.5h.1M423.9 502.8h.1M469.7 481.2h.1M471.2 461.9h.1M439.2 480.7h.1M463.6 466.4h.1M472.5 472.7h.1M468.1 484.2h.1M450.6 496.0h.1M464.1 458.4h.1M442.9 475.7h.1M500.6 459.3h.1M458.8 472.2h.1M456.6 467.4h.1M449.6 500.6h.1M464.5 485.6h.1M438.2 479.9h.1M454.5 470.5h.1M424.3 496.3h.1M428.4 484.7h.1M441.6 501.7h.1M435.8 510.1h.1M470.6 476.0h.1M424.8 497.1h.1M457.3 493.1h.1M468.1 469.5h.1M459.7 467.0h.1M469.6 479.7h.1M464.3 470.0h.1M434.4 479.1h.1M476.3 471.1h.1M474.0 462.5h.1M452.9 496.4h.1M446.3 498.6h.1M449.4 498.2h.1M471.0 481.6h.1M456.3 472.6h.1M426.6 508.4h.1M414.1 501.9h.1M418.6 496.1h.1M427.6 508.9h.1M431.8 484.2h.1M424.3 494.6h.1M468.9 479.8h.1M463.3 500.8h.1M421.2 512.2h.1M468.5 489.5h.1M440.8 475.8h.1M455.1 467.7h.1M449.0 469.2h.1M475.3 485.4h.1M425.3 501.4h.1M474.1 471.1h.1M451.7 496.0h.1M427.3 494.7h.1M442.6 475.9h.1M415.2 506.4h.1M429.9 506.3h.1M466.1 485.0h.1M454.6 496.3h.1M445.9 498.4h.1M427.5 491.1h.1M464.7 471.4h.1M432.5 502.2h.1M464.7 489.3h.1M468.7 476.3h.1M468.0 475.2h.1M472.5 483.4h.1M421.5 489.4h.1M434.5 478.7h.1M451.4 473.2h.1M458.0 471.0h.1M439.2 480.2h.1M443.8 474.7h.1M431.3 504.9h.1M446.0 502.7h.1M428.9 491.5h.1M460.2 489.8h.1M460.7 464.8h.1M416.3 502.0h.1M467.1 478.0h.1M421.2 478.9h.1M462.1 487.1h.1M475.8 471.6h.1M449.6 500.6h.1M437.1 478.2h.1M435.9 501.4h.1M467.7 472.7h.1M425.5 496.7h.1M424.8 501.6h.1M423.1 498.0h.1M425.0 495.5h.1M421.0 498.8h.1M453.9 500.4h.1M429.6 481.9h.1M442.9 499.9h.1M467.2 468.2h.1M423.2 484.7h.1M445.4 515.8h.1M462.4 459.5h.1M466.5 479.1h.1M456.4 494.3h.1M470.3 478.5h.1M453.1 495.5h.1M452.0 502.0h.1M441.8 475.6h.1M458.1 490.9h.1M431.2 502.9h.1M463.1 488.6h.1M421.3 500.0h.1M470.2 500.1h.1M468.4 478.6h.1M481.0 458.8h.1M419.3 498.3h.1M424.6 494.7h.1M466.4 488.7h.1M419.3 488.5h.1M458.1 469.6h.1M424.6 503.9h.1M469.5 475.9h.1M473.1 485.9h.1M452.8 497.5h.1M423.4 508.0h.1M444.9 505.4h.1M427.5 484.3h.1M466.8 476.1h.1M430.6 505.0h.1M431.9 487.1h.1M410.9 502.2h.1M467.3 475.8h.1M458.2 472.0h.1M430.7 504.2h.1M425.2 497.7h.1M428.4 492.3h.1M482.3 458.1h.1M433.2 508.1h.1M452.0 468.1h.1M464.6 468.0h.1M426.6 517.8h.1M463.8 484.8h.1M426.4 496.0h.1M466.8 464.1h.1M474.7 461.7h.1M457.1 467.6h.1M430.2 488.9h.1M437.2 481.5h.1M423.6 514.3h.1M419.4 502.7h.1M436.0 502.6h.1M446.2 474.1h.1M426.0 497.4h.1M470.9 479.5h.1M425.9 486.3h.1M459.5 469.1h.1M445.3 501.9h.1M462.1 469.9h.1M423.0 504.1h.1M472.3 474.0h.1M424.7 491.0h.1M457.5 493.9h.1M441.3 477.6h.1M430.4 502.1h.1M477.6 472.7h.1M493.5 472.4h.1M433.9 482.5h.1M427.1 500.2h.1M461.1 460.7h.1M465.0 485.4h.1M441.6 475.8h.1M478.7 472.3h.1M439.4 501.4h.1M433.1 479.4h.1M426.2 499.9h.1M435.3 507.9h.1M438.7 477.4h.1M475.6 466.2h.1M450.9 496.4h.1M468.2 475.9h.1M465.5 466.1h.1M447.2 472.2h.1M468.1 470.7h.1M428.2 492.0h.1M450.0 497.0h.1M444.6 473.6h.1M442.2 500.1h.1M471.9 470.0h.1M452.1 474.3h.1M450.3 471.2h.1M470.7 474.9h.1M469.8 475.0h.1M452.3 462.4h.1M467.9 473.2h.1M477.6 470.6h.1M464.1 467.7h.1M469.1 470.9h.1M468.1 471.1h.1M474.6 469.5h.1M469.6 478.8h.1M470.9 467.9h.1M456.0 468.2h.1M467.7 476.2h.1M476.3 479.4h.1M471.6 472.5h.1M450.0 471.0h.1M469.0 476.5h.1M465.4 478.0h.1M467.6 468.5h.1M475.7 476.8h.1M469.3 476.7h.1M462.0 475.8h.1M462.6 473.2h.1M469.7 468.3h.1M474.9 466.2h.1M451.2 470.3h.1M473.9 466.3h.1M468.8 468.8h.1M472.0 479.3h.1M473.0 463.9h.1M483.5 479.2h.1M476.6 472.5h.1M468.2 470.3h.1M477.2 469.2h.1M471.3 464.9h.1M471.0 473.8h.1M482.1 469.3h.1M466.5 477.5h.1M471.8 468.9h.1M478.5 471.6h.1M460.7 483.3h.1M460.7 481.6h.1M468.0 480.6h.1M470.7 468.6h.1M474.3 472.9h.1M476.6 458.6h.1M466.6 481.7h.1M463.0 462.5h.1M477.9 470.8h.1M459.7 479.6h.1M472.0 474.2h.1M456.2 475.9h.1M477.9 458.7h.1M474.8 467.5h.1M466.5 473.0h.1M460.2 481.5h.1M481.1 471.5h.1M481.3 462.1h.1M465.3 477.3h.1M462.9 471.7h.1M469.3 465.0h.1M450.7 475.6h.1M469.7 471.6h.1M475.0 463.9h.1M481.6 468.3h.1M476.2 472.3h.1M460.2 470.3h.1M471.6 477.0h.1M465.2 465.8h.1M465.2 481.1h.1M472.5 467.0h.1M455.0 475.6h.1M463.5 477.0h.1M471.0 472.3h.1M461.9 473.6h.1M481.4 469.7h.1M458.9 475.8h.1M462.8 482.4h.1M455.7 472.8h.1M468.9 491.3h.1M469.6 457.0h.1M464.0 484.5h.1M478.4 465.2h.1M476.6 460.1h.1M470.7 470.1h.1M460.8 472.4h.1M480.4 470.5h.1M467.9 461.4h.1M460.6 473.4h.1M461.9 482.4h.1M469.7 464.7h.1M475.7 466.7h.1M475.9 465.1h.1M473.7 485.4h.1M466.7 489.2h.1M472.4 475.1h.1M455.7 474.3h.1M468.9 471.0h.1M479.1 470.1h.1M464.6 477.5h.1M470.4 476.8h.1M473.8 470.8h.1M476.2 464.6h.1M458.4 481.5h.1M467.3 468.9h.1M467.8 487.5h.1M466.7 485.5h.1M475.2 468.1h.1M473.2 479.3h.1M474.9 477.1h.1M472.5 484.4h.1M462.0 466.9h.1M458.5 482.6h.1M473.7 477.5h.1M487.3 476.9h.1M478.7 469.2h.1M476.8 461.2h.1M470.3 471.1h.1M465.2 472.6h.1M453.3 469.4h.1M463.6 486.9h.1M462.7 474.3h.1M473.4 462.9h.1M477.7 460.9h.1M471.1 460.0h.1M466.0 464.8h.1M471.3 474.9h.1M465.3 474.1h.1M478.6 471.5h.1M472.4 470.9h.1M471.9 462.6h.1M483.2 469.8h.1M467.4 460.0h.1M482.4 477.2h.1M471.2 469.4h.1M456.8 473.7h.1M473.2 460.4h.1M471.7 477.2h.1M474.3 474.5h.1M475.7 460.6h.1M466.1 476.2h.1M484.5 474.0h.1M463.8 468.7h.1M455.2 480.1h.1M478.1 471.1h.1M462.9 471.2h.1M461.0 475.3h.1M464.0 474.4h.1M459.6 461.4h.1M465.1 471.6h.1M472.6 476.0h.1M461.0 475.9h.1M471.9 479.2h.1M481.6 478.5h.1M468.6 471.9h.1M481.4 471.9h.1M478.0 477.3h.1M475.4 466.4h.1M459.6 473.8h.1M474.0 463.4h.1M480.3 473.8h.1M470.7 472.9h.1M465.9 471.8h.1M481.8 466.9h.1M464.8 465.2h.1M480.5 480.1h.1M471.0 475.4h.1M476.9 464.1h.1M470.9 460.1h.1M460.3 474.2h.1M454.2 472.5h.1M464.3 468.7h.1M470.4 463.1h.1M467.4 476.5h.1M464.0 483.7h.1M474.3 470.7h.1M458.0 474.7h.1M456.6 466.6h.1M458.8 483.2h.1M487.6 478.5h.1M468.4 471.0h.1M471.1 461.5h.1M455.1 473.7h.1M469.8 480.3h.1M464.0 466.9h.1M457.8 483.3h.1M473.8 456.8h.1M465.7 488.5h.1M468.4 470.5h.1M480.9 467.1h.1M467.1 468.4h.1M478.7 474.0h.1M467.5 473.8h.1M472.5 482.4h.1M464.4 478.2h.1M471.5 454.9h.1M469.7 456.3h.1M468.7 476.0h.1M465.4 472.6h.1M477.2 469.4h.1M470.6 466.7h.1M468.4 479.1h.1M485.2 476.0h.1M470.2 472.6h.1M481.9 471.9h.1M470.5 475.1h.1M466.8 465.7h.1M463.2 477.3h.1M461.0 469.3h.1M466.0 484.5h.1M468.7 479.1h.1M481.7 473.5h.1M466.0 480.5h.1M469.8 479.4h.1M464.4 474.4h.1M476.7 471.3h.1M464.8 470.7h.1M475.9 470.1h.1M479.9 456.6h.1M476.5 476.8h.1M457.6 469.9h.1M474.3 469.0h.1M457.9 468.4h.1M477.5 462.0h.1M471.6 481.1h.1M469.9 472.3h.1M473.8 458.4h.1M470.1 471.6h.1M466.7 479.6h.1M475.6 468.7h.1M460.6 471.0h.1M457.9 472.8h.1M473.1 460.4h.1M456.5 482.0h.1M461.3 477.8h.1M467.6 469.5h.1M475.3 456.8h.1M471.2 472.5h.1M457.3 466.3h.1M477.0 469.4h.1M480.2 464.7h.1M477.2 469.1h.1M461.7 479.1h.1M466.2 479.6h.1M478.9 465.7h.1M468.2 470.4h.1M464.8 481.2h.1M471.6 468.0h.1M478.0 475.4h.1M475.1 466.4h.1M475.3 471.7h.1M478.1 462.4h.1M477.6 466.4h.1M466.1 464.8h.1M474.2 464.5h.1M461.7 475.8h.1M457.4 471.8h.1M473.1 473.2h.1M463.9 485.9h.1M461.7 470.7h.1M485.3 463.9h.1M463.9 478.9h.1M457.9 472.2h.1M478.6 461.3h.1M479.3 464.6h.1M462.8 472.7h.1M480.0 461.5h.1M473.0 459.8h.1M481.6 468.1h.1M460.8 470.2h.1M466.1 473.4h.1M463.8 471.2h.1M473.8 462.0h.1M469.1 479.1h.1M469.0 476.3h.1M459.4 479.7h.1M466.3 480.3h.1M473.7 467.1h.1M453.9 475.0h.1M472.2 464.4h.1M458.0 476.7h.1M463.7 480.0h.1M465.6 473.9h.1M464.6 475.3h.1M456.8 472.4h.1M463.7 474.7h.1M459.5 471.5h.1M476.7 465.1h.1M467.8 459.5h.1M470.4 480.1h.1M459.8 476.8h.1M470.9 486.0h.1M483.6 464.0h.1M458.3 471.4h.1M481.4 473.4h.1M482.4 468.5h.1M473.7 464.9h.1M456.0 472.9h.1M461.8 474.9h.1M460.8 471.7h.1M461.4 474.8h.1M470.2 480.0h.1M468.7 475.8h.1M470.3 472.0h.1M479.8 470.3h.1M466.1 471.8h.1M464.2 478.4h.1M466.6 473.7h.1M475.8 479.9h.1M459.7 488.9h.1M473.6 471.1h.1M461.9 488.4h.1M467.5 471.8h.1M468.5 481.4h.1M474.4 470.5h.1M471.8 468.4h.1M465.0 479.5h.1M473.4 481.0h.1M478.8 478.8h.1M479.7 477.4h.1M473.8 467.1h.1M482.6 470.9h.1M477.1 474.7h.1M477.8 478.1h.1M471.2 472.0h.1M468.1 473.7h.1M469.8 468.1h.1M471.2 469.8h.1M457.9 475.8h.1M474.9 469.6h.1M458.0 472.8h.1M471.4 466.7h.1M483.3 472.0h.1M483.4 478.4h.1M476.6 471.6h.1M484.6 471.0h.1M480.0 468.9h.1M465.2 470.0h.1M459.2 482.1h.1M485.3 473.5h.1M473.9 459.3h.1M471.1 460.1h.1M470.0 465.0h.1M468.0 476.7h.1M478.0 475.4h.1M470.7 476.2h.1M462.5 471.6h.1M474.8 472.6h.1M477.5 475.8h.1M467.5 474.9h.1M466.6 462.0h.1M471.9 481.9h.1M464.3 475.7h.1M470.2 457.6h.1M473.7 473.9h.1M479.8 470.8h.1M466.1 476.5h.1M469.4 465.3h.1M459.4 486.1h.1M458.9 483.7h.1M461.1 476.4h.1M478.1 464.3h.1M471.3 472.4h.1M462.6 490.0h.1M465.7 479.2h.1M475.5 473.6h.1M479.1 476.6h.1M463.5 466.9h.1M463.3 484.0h.1M471.9 463.9h.1M479.0 473.1h.1M479.9 468.3h.1M457.3 477.3h.1M463.9 469.7h.1M457.6 464.9h.1M463.4 475.0h.1M477.7 475.5h.1M463.7 467.4h.1M467.7 477.1h.1M465.2 466.3h.1M454.9 476.5h.1M474.2 472.3h.1M474.1 464.2h.1M477.0 477.4h.1M480.0 474.3h.1M474.6 478.8h.1M474.9 465.3h.1M467.8 447.9h.1M463.2 453.9h.1M485.5 455.4h.1M481.1 441.6h.1M467.8 444.7h.1M462.0 443.2h.1M478.0 436.9h.1M464.8 434.6h.1M491.6 448.1h.1M465.8 452.9h.1M475.1 439.9h.1M466.9 440.2h.1M467.2 450.9h.1M456.2 442.2h.1M481.1 442.4h.1M469.9 442.4h.1M469.0 454.0h.1M476.4 439.6h.1M466.5 440.0h.1M461.2 448.4h.1M459.7 430.1h.1M475.8 458.1h.1M482.0 433.6h.1M460.6 431.2h.1M490.5 442.8h.1M467.3 446.8h.1M471.3 438.2h.1M466.6 449.4h.1M480.1 447.0h.1M463.8 436.2h.1M478.7 430.1h.1M466.2 443.7h.1M480.6 438.1h.1M470.1 434.6h.1M471.6 449.2h.1M478.0 431.1h.1M463.3 429.8h.1M460.9 452.1h.1M461.6 443.1h.1M482.3 450.2h.1M474.3 456.2h.1M461.2 448.0h.1M465.2 439.4h.1M449.8 432.0h.1M462.0 451.6h.1M480.7 443.9h.1M471.9 446.7h.1M485.0 445.9h.1M466.0 438.7h.1M460.7 445.1h.1M481.8 434.3h.1M461.2 450.8h.1M455.5 436.4h.1M454.7 434.6h.1M470.8 440.2h.1M460.7 449.2h.1M461.2 441.5h.1M472.0 439.6h.1M470.8 439.9h.1M456.4 457.5h.1M473.8 444.9h.1M487.5 446.6h.1M484.0 445.8h.1M456.5 446.3h.1M482.3 454.3h.1M462.8 460.8h.1M463.4 441.6h.1M463.2 429.4h.1M465.1 436.6h.1M470.0 450.6h.1M464.4 447.8h.1M459.1 450.7h.1M463.4 452.2h.1M482.5 439.3h.1M467.6 439.7h.1M482.6 448.6h.1M474.2 442.4h.1M459.0 439.3h.1M481.4 454.0h.1M476.3 448.9h.1M458.6 447.1h.1M465.0 444.1h.1M464.9 441.9h.1M461.3 437.1h.1M474.5 451.3h.1M481.1 434.3h.1M479.1 434.7h.1M474.9 441.3h.1M469.1 427.9h.1M469.3 430.1h.1M463.4 436.6h.1M485.4 456.9h.1M463.6 450.9h.1M465.2 460.2h.1M480.4 437.5h.1M466.3 453.8h.1M466.8 458.2h.1M479.8 448.7h.1M477.9 439.0h.1M477.4 434.6h.1M485.6 444.8h.1M473.7 451.5h.1M471.3 426.5h.1M481.8 443.7h.1M474.6 446.6h.1M457.1 440.6h.1M469.1 436.7h.1M471.6 452.4h.1M467.6 458.3h.1M473.1 445.7h.1M483.5 461.7h.1M469.4 438.0h.1M478.3 451.8h.1M485.6 427.2h.1M488.1 441.8h.1M467.8 454.3h.1M471.5 437.0h.1M478.2 436.7h.1M483.8 434.3h.1M475.5 438.9h.1M472.3 441.0h.1M482.2 445.4h.1M468.1 434.2h.1M467.1 441.6h.1M471.1 442.0h.1M482.1 441.0h.1M467.3 471.4h.1M455.7 441.3h.1M477.5 439.6h.1M472.1 436.5h.1M469.7 434.4h.1M465.1 446.1h.1M453.0 448.6h.1M470.5 437.7h.1M474.5 448.6h.1M467.5 442.4h.1M472.8 446.8h.1M491.4 444.0h.1M477.5 441.7h.1M464.6 441.7h.1M469.1 448.6h.1M466.1 448.4h.1M491.0 446.6h.1M478.9 444.9h.1M468.0 452.8h.1M482.0 437.6h.1M482.4 432.5h.1M450.5 443.0h.1M475.4 448.7h.1M473.2 457.6h.1M464.7 448.1h.1M487.8 454.4h.1M473.2 463.7h.1M481.8 445.6h.1M471.8 424.0h.1M459.4 441.5h.1M472.5 438.3h.1M475.4 437.8h.1M464.9 452.6h.1M472.8 446.0h.1M473.9 445.5h.1M475.7 449.6h.1M466.2 440.0h.1M473.2 431.4h.1M472.1 448.4h.1M470.2 442.2h.1M473.1 436.8h.1M473.3 442.3h.1M456.9 446.5h.1M467.3 444.9h.1M462.8 426.9h.1M480.0 441.9h.1M455.5 445.0h.1M463.1 432.9h.1M474.0 438.3h.1M474.3 435.3h.1M469.7 433.2h.1M464.4 432.5h.1M463.8 440.4h.1M475.9 454.9h.1M464.9 438.8h.1M472.3 455.5h.1M469.2 434.6h.1M474.9 442.5h.1M472.3 446.3h.1M456.6 447.8h.1M463.5 454.7h.1M474.1 437.2h.1M472.7 440.6h.1M482.6 450.4h.1M469.8 435.1h.1M476.0 436.2h.1M495.2 425.9h.1M502.8 427.8h.1M470.2 441.2h.1M467.7 447.0h.1M467.0 458.7h.1M458.0 440.7h.1M459.4 445.1h.1M454.6 436.5h.1M477.1 440.8h.1M465.3 451.1h.1M480.5 446.2h.1M477.5 447.7h.1M472.5 450.5h.1M476.8 428.7h.1M459.9 442.4h.1M476.0 429.9h.1M471.6 430.9h.1M463.2 430.8h.1M489.6 438.8h.1M464.2 467.0h.1M479.1 434.0h.1M475.9 445.4h.1M472.4 454.1h.1M480.7 433.0h.1M468.4 452.2h.1M467.7 435.0h.1M467.1 431.3h.1M474.8 442.6h.1M470.5 444.9h.1M471.8 450.9h.1M478.6 439.5h.1M474.5 448.2h.1M462.7 435.0h.1M474.5 437.5h.1M461.7 436.1h.1M482.2 438.5h.1M467.4 441.2h.1M461.6 437.4h.1M466.6 453.6h.1M465.9 449.6h.1M480.7 449.0h.1M472.9 432.0h.1M481.5 435.1h.1M463.2 434.3h.1M482.6 435.8h.1M455.6 434.6h.1M444.6 445.3h.1M463.1 438.2h.1M469.6 444.9h.1M481.0 433.1h.1M461.0 424.4h.1M475.1 427.0h.1M467.3 443.8h.1M480.2 443.2h.1M464.0 439.5h.1M468.6 445.2h.1M475.3 438.2h.1M485.7 444.7h.1M472.2 449.8h.1M458.0 453.7h.1M472.3 440.7h.1M465.4 447.3h.1M481.6 448.3h.1M477.1 430.8h.1M474.2 432.0h.1M463.8 458.0h.1M460.4 430.7h.1M470.0 440.2h.1M472.0 439.9h.1M473.5 446.2h.1M465.1 439.7h.1M468.4 443.5h.1M476.0 444.2h.1M469.2 435.7h.1M463.1 430.1h.1M462.9 446.1h.1M481.4 457.5h.1M472.6 427.4h.1M481.2 455.5h.1M477.6 441.5h.1M500.6 433.4h.1M471.4 435.3h.1M482.8 440.8h.1M478.5 443.0h.1M466.4 446.2h.1M475.7 448.2h.1M488.5 430.6h.1M484.5 447.5h.1M465.9 439.1h.1M474.7 446.3h.1M460.1 445.6h.1M465.9 426.9h.1M467.8 437.4h.1M463.8 435.3h.1M469.9 441.8h.1M479.2 440.9h.1M480.3 429.8h.1M496.8 439.1h.1M459.4 439.4h.1M459.1 455.6h.1M493.2 431.7h.1M464.1 439.9h.1M466.7 448.8h.1M476.1 426.9h.1M480.7 446.2h.1M475.8 427.1h.1M484.3 438.5h.1M466.5 443.1h.1M455.8 429.7h.1M476.8 436.9h.1M473.3 437.0h.1M470.1 440.9h.1M459.7 447.7h.1M461.6 428.0h.1M457.4 429.6h.1M482.4 429.8h.1M463.0 434.9h.1M468.2 460.5h.1M471.4 430.5h.1M481.7 462.7h.1M466.5 428.7h.1M482.3 448.2h.1M473.3 447.8h.1M470.2 434.3h.1M470.9 436.8h.1M470.9 456.4h.1M460.6 446.7h.1M472.1 455.2h.1M467.8 447.7h.1M457.5 432.0h.1M470.3 437.8h.1M463.3 451.8h.1M486.0 434.9h.1M467.4 455.1h.1M468.7 460.2h.1M471.3 443.4h.1M451.3 441.1h.1M457.4 436.1h.1M478.0 440.9h.1M475.9 433.4h.1M478.2 440.1h.1M476.6 434.1h.1M468.2 437.2h.1M465.9 451.2h.1M470.7 445.4h.1M451.4 446.5h.1M478.1 435.4h.1M461.0 429.6h.1M471.4 439.9h.1M474.6 439.1h.1M496.8 448.8h.1M465.4 438.3h.1M467.6 432.4h.1M461.6 446.7h.1M473.9 430.7h.1M481.0 441.6h.1M485.1 444.9h.1M478.7 440.0h.1M454.1 448.6h.1M480.3 438.3h.1M475.8 437.4h.1M466.2 433.5h.1M469.4 439.5h.1M462.1 442.1h.1M476.9 434.4h.1M465.3 443.5h.1M489.3 452.9h.1M476.5 449.2h.1M468.9 448.0h.1M465.9 442.6h.1M465.6 440.5h.1M472.7 441.5h.1M461.9 447.5h.1M471.8 437.3h.1M484.8 428.8h.1M454.1 454.8h.1M476.1 434.4h.1M484.6 441.7h.1M472.2 449.0h.1M466.2 441.0h.1M479.8 445.1h.1M483.1 427.5h.1M464.6 429.8h.1M474.2 441.2h.1M474.2 446.1h.1M468.1 442.1h.1M471.7 445.7h.1M481.6 430.7h.1M469.0 435.8h.1M489.1 438.7h.1M477.3 425.2h.1M470.6 444.8h.1M463.2 443.9h.1M467.4 442.8h.1M463.7 437.8h.1M482.7 447.0h.1M473.6 451.2h.1M471.2 436.8h.1M470.3 441.9h.1M463.2 437.3h.1M482.1 459.6h.1M486.7 440.9h.1M481.3 448.6h.1M473.2 443.8h.1M478.8 440.7h.1M469.7 444.0h.1M473.2 448.5h.1M466.4 437.5h.1M488.8 448.4h.1M463.7 436.6h.1M468.9 436.8h.1M469.0 440.6h.1M468.9 444.9h.1M466.4 440.2h.1M481.2 447.1h.1M466.0 436.2h.1M492.4 442.0h.1M473.9 445.4h.1M478.9 448.4h.1M480.8 438.9h.1M461.9 432.2h.1M483.6 436.9h.1M477.4 428.5h.1M465.2 456.8h.1M475.8 449.2h.1M467.5 442.8h.1M473.8 444.7h.1M483.3 431.5h.1M477.5 447.6h.1M462.9 439.6h.1M474.5 434.9h.1M468.5 452.6h.1M469.0 456.6h.1M473.0 439.1h.1M479.9 437.3h.1M472.4 439.5h.1M482.5 449.3h.1M467.5 434.2h.1M462.3 447.9h.1M467.9 446.5h.1M466.0 434.4h.1M453.7 442.4h.1M474.1 440.7h.1M473.2 435.4h.1M467.0 433.1h.1M474.4 448.9h.1M476.6 451.6h.1M469.1 446.8h.1M482.5 443.5h.1M463.3 446.3h.1M471.2 430.4h.1M481.0 451.3h.1M467.6 425.7h.1M482.0 433.9h.1M475.5 430.8h.1M467.6 458.6h.1M460.7 441.9h.1M462.6 438.4h.1M470.9 456.4h.1M464.4 439.9h.1M470.5 437.9h.1M467.0 436.5h.1M473.4 448.3h.1M471.7 451.9h.1M470.4 433.5h.1M467.2 437.0h.1M474.6 437.8h.1M466.4 440.1h.1M458.9 430.9h.1M477.7 438.1h.1M478.7 456.3h.1M467.8 448.7h.1M472.0 440.6h.1M473.6 433.6h.1M476.9 448.1h.1M464.8 456.0h.1M468.9 456.6h.1M466.8 428.4h.1M465.2 429.2h.1M472.5 443.6h.1M457.4 449.9h.1M464.3 444.7h.1M481.8 427.1h.1M471.7 441.6h.1M472.8 433.8h.1M462.7 447.6h.1M476.4 443.8h.1M465.2 435.0h.1M472.2 453.0h.1M470.6 450.9h.1M466.8 444.2h.1M468.0 437.2h.1M475.6 435.1h.1M467.7 440.8h.1M456.3 444.6h.1M475.0 436.9h.1M464.9 440.8h.1M454.6 465.1h.1M476.4 441.9h.1M473.8 436.4h.1M470.0 441.7h.1M468.1 446.1h.1M478.2 441.0h.1M469.5 429.9h.1M456.7 455.9h.1M462.0 450.9h.1M483.5 431.5h.1M462.9 429.4h.1M469.2 429.0h.1M466.8 459.6h.1M471.3 456.7h.1M485.2 428.8h.1M480.1 444.1h.1M466.3 437.2h.1M471.3 442.5h.1M473.0 440.2h.1M477.9 457.9h.1M474.2 436.0h.1M471.1 452.1h.1M471.5 440.7h.1M477.1 456.0h.1M470.7 438.3h.1M469.1 441.2h.1M458.5 454.2h.1M463.4 435.4h.1M474.9 450.8h.1M463.7 444.8h.1M470.6 443.3h.1M464.8 451.2h.1M477.3 447.1h.1M486.4 430.7h.1M475.1 435.3h.1M462.7 444.4h.1M464.1 451.8h.1M489.4 433.7h.1M469.5 439.3h.1M458.7 449.3h.1M468.3 448.2h.1M473.5 451.2h.1M463.1 442.3h.1M453.3 454.9h.1M465.2 435.5h.1M469.1 454.1h.1M464.8 450.9h.1M476.7 433.9h.1M468.9 451.0h.1M476.0 460.9h.1M467.4 448.3h.1M473.8 445.6h.1M472.5 441.4h.1M452.0 434.9h.1M461.5 447.7h.1M477.5 436.6h.1M487.6 446.0h.1M472.0 442.7h.1M486.4 432.5h.1M476.1 445.0h.1M478.4 445.3h.1M459.1 448.7h.1M466.2 441.9h.1M468.6 445.2h.1M466.3 442.9h.1M476.1 444.9h.1M465.4 446.7h.1M469.1 445.8h.1M482.2 437.9h.1M468.8 449.8h.1M468.2 440.1h.1M465.4 435.9h.1M477.1 440.3h.1M467.7 451.9h.1M471.9 440.9h.1M453.3 442.2h.1M469.1 452.0h.1M469.7 427.0h.1M469.3 441.5h.1M476.5 428.1h.1M471.7 448.2h.1M480.4 444.6h.1M481.4 437.1h.1M468.8 434.8h.1M461.5 447.8h.1M477.2 448.2h.1M453.1 436.3h.1M461.3 450.0h.1M478.4 429.4h.1M469.9 449.6h.1M476.5 436.5h.1M463.5 451.2h.1M472.2 448.3h.1M473.8 444.9h.1M486.2 451.2h.1M481.3 433.5h.1M470.2 441.4h.1M465.0 451.8h.1M467.3 442.6h.1M459.7 449.6h.1M468.3 436.2h.1M478.1 430.1h.1M476.0 432.6h.1M450.4 425.2h.1M475.2 433.7h.1M463.1 445.7h.1M464.0 448.7h.1M479.5 442.9h.1M471.5 440.7h.1M475.1 447.0h.1M470.5 445.7h.1M483.4 436.2h.1M468.9 446.3h.1M486.0 440.9h.1M491.8 449.5h.1M470.5 445.0h.1M460.2 431.8h.1M481.3 443.6h.1M467.1 431.9h.1M477.8 433.0h.1M461.4 430.2h.1M458.3 431.8h.1M470.8 442.3h.1M476.9 437.9h.1M473.4 444.1h.1M476.3 445.7h.1M476.6 430.7h.1M466.4 461.8h.1M458.3 509.6h.1M460.6 505.8h.1M410.7 480.5h.1M451.0 493.6h.1M453.9 447.3h.1M411.1 431.5h.1M500.7 496.9h.1M478.2 463.4h.1M456.5 465.0h.1M435.4 510.5h.1M439.7 449.2h.1M475.0 480.7h.1M466.9 492.9h.1M466.5 496.4h.1M467.6 488.9h.1M428.3 503.3h.1M461.0 444.2h.1M409.4 462.6h.1M425.1 439.8h.1M441.2 475.3h.1M487.5 446.1h.1M456.0 469.0h.1M487.8 454.6h.1M435.4 474.5h.1M439.8 474.4h.1M453.9 511.7h.1M443.4 475.9h.1M455.8 477.3h.1M458.8 458.4h.1M441.5 511.1h.1M470.0 487.5h.1M488.3 481.4h.1M477.1 454.5h.1M449.1 444.1h.1M470.9 472.0h.1M475.1 483.5h.1M433.9 438.4h.1M492.4 506.3h.1M418.6 443.4h.1M472.6 491.2h.1M485.8 514.4h.1M454.0 480.8h.1M464.3 484.2h.1M492.9 511.8h.1M419.0 506.6h.1M484.5 434.0h.1M495.8 517.2h.1M469.6 499.1h.1M472.9 463.1h.1M474.4 519.3h.1M446.6 475.5h.1M440.7 438.8h.1M440.7 475.3h.1M490.1 466.4h.1M473.6 441.6h.1M446.1 468.6h.1M478.8 471.5h.1M408.9 435.9h.1M467.0 445.8h.1M498.1 480.4h.1M429.2 473.9h.1M458.1 474.1h.1M502.3 501.0h.1M439.0 484.2h.1M479.7 442.9h.1M436.0 469.3h.1M458.5 445.4h.1M446.6 489.5h.1M462.9 494.4h.1M470.2 495.9h.1M465.6 497.2h.1M459.1 499.7h.1M436.0 425.7h.1M484.7 514.1h.1M456.2 477.3h.1M444.2 479.5h.1M464.0 509.3h.1M496.7 458.5h.1M455.5 486.5h.1M460.3 507.5h.1M413.1 508.4h.1M450.8 466.8h.1M426.5 487.9h.1M467.7 461.4h.1M461.4 479.7h.1M499.0 468.6h.1M476.6 480.1h.1M418.6 473.6h.1M454.7 449.9h.1M462.5 453.3h.1M438.6 488.7h.1M467.6 439.3h.1M457.3 457.9h.1M468.1 506.3h.1M460.9 491.8h.1M483.4 502.9h.1M425.9 495.2h.1M442.4 507.3h.1M479.9 479.6h.1M437.9 488.1h.1M461.8 477.7h.1M452.6 503.6h.1M485.9 441.5h.1M439.7 478.9h.1M461.4 476.0h.1M467.0 519.3h.1M460.0 518.9h.1M426.4 519.9h.1M447.1 519.7h.1M449.3 519.6h.1M448.8 519.6h.1M458.5 519.3h.1M444.3 520.0h.1M460.2 519.7h.1M425.6 519.0h.1M463.8 519.1h.1M434.6 519.4h.1M434.3 519.5h.1M441.2 519.3h.1M422.6 519.5h.1M423.6 519.7h.1M413.7 519.6h.1M454.5 519.6h.1M455.5 519.3h.1M417.1 519.8h.1M420.9 519.3h.1M459.1 520.0h.1M412.8 519.9h.1M431.7 519.2h.1M409.7 520.0h.1" stroke="#4040f4" stroke-opacity="0.5" stroke-width="0.8" stroke-linecap="square" fill="none"/>
<path d="M455.3 476.4h.1M460.5 480.9h.1M449.2 493.0h.1M454.8 475.4h.1M458.9 473.1h.1M448.6 475.6h.1M445.5 493.7h.1M459.6 472.3h.1M452.5 476.9h.1M460.0 477.4h.1M448.5 479.0h.1M441.9 480.3h.1M437.2 488.3h.1M462.1 480.1h.1M458.3 481.1h.1M437.2 486.7h.1M443.9 483.2h.1M431.7 489.1h.1M442.1 496.0h.1M460.0 481.5h.1M461.8 474.3h.1M457.8 476.8h.1M454.5 490.0h.1M431.3 494.2h.1M443.6 481.2h.1M464.8 477.3h.1M463.1 474.4h.1M445.8 480.4h.1M457.5 485.7h.1M444.2 495.7h.1M454.4 492.3h.1M449.9 492.2h.1M436.0 489.2h.1M457.2 487.7h.1M439.0 480.9h.1M450.6 479.3h.1M434.4 494.3h.1M452.5 478.1h.1M456.1 486.2h.1M447.1 480.5h.1M457.5 485.5h.1M453.0 479.2h.1M462.6 478.2h.1M463.3 473.5h.1M460.2 474.6h.1M453.5 478.8h.1M434.4 486.9h.1M461.0 480.1h.1M446.0 495.3h.1M447.2 480.1h.1M444.7 478.9h.1M463.7 475.7h.1M432.8 493.7h.1M431.5 490.2h.1M435.4 498.2h.1M461.1 480.8h.1M432.4 488.3h.1M432.9 495.6h.1M464.0 480.3h.1M456.0 485.5h.1M429.3 492.4h.1M434.7 498.8h.1M457.8 487.6h.1M444.0 496.9h.1M455.0 474.3h.1M453.7 488.5h.1M447.8 493.5h.1M438.2 500.8h.1M465.3 479.7h.1M457.8 472.8h.1M452.3 478.4h.1M453.6 479.2h.1M459.5 478.6h.1M437.4 493.7h.1M430.5 500.8h.1M457.5 478.7h.1M432.2 494.9h.1M457.1 481.7h.1M463.9 473.0h.1M460.2 477.1h.1M444.4 480.5h.1M446.0 497.7h.1M447.3 480.9h.1M462.2 481.5h.1M462.6 475.6h.1M459.0 481.4h.1M436.3 490.6h.1M463.0 479.5h.1M456.5 474.9h.1M457.2 479.7h.1M450.1 478.5h.1M437.2 495.9h.1M447.3 480.7h.1M458.7 481.5h.1M430.8 495.4h.1M457.2 477.5h.1M454.3 479.1h.1M456.2 479.8h.1M463.4 475.9h.1M443.2 481.8h.1M437.8 494.5h.1M439.2 495.2h.1M432.8 486.9h.1M436.1 494.6h.1M459.3 477.9h.1M452.0 489.1h.1M433.5 494.8h.1M432.5 498.6h.1M454.2 475.8h.1M449.3 494.9h.1M436.2 489.4h.1M465.4 478.6h.1M441.0 497.5h.1M431.6 494.3h.1M432.0 497.6h.1M456.3 474.3h.1M433.8 487.1h.1M430.0 495.5h.1M446.8 479.3h.1M456.5 478.9h.1M446.5 479.4h.1M460.4 483.7h.1M444.2 494.8h.1M452.3 476.0h.1M444.3 477.9h.1M432.3 488.3h.1M436.3 494.3h.1M439.2 494.2h.1M449.9 494.2h.1M457.2 475.8h.1M448.8 475.6h.1M438.6 499.3h.1M445.6 494.1h.1M434.6 493.7h.1M447.6 494.3h.1M440.3 482.4h.1M434.8 495.7h.1M443.8 482.9h.1M457.1 478.7h.1M457.4 482.8h.1M441.5 495.3h.1M445.0 494.2h.1M449.9 492.6h.1M444.3 498.2h.1M440.4 486.0h.1M442.9 481.5h.1M439.6 497.8h.1M453.0 488.7h.1M445.1 496.1h.1M453.1 476.2h.1M460.9 474.3h.1M435.3 496.3h.1M437.3 484.7h.1M446.2 493.0h.1M458.0 477.2h.1M452.6 491.8h.1M445.5 494.1h.1M456.8 489.0h.1M456.8 474.0h.1M447.7 492.8h.1M432.7 494.1h.1M452.4 475.3h.1M454.1 477.1h.1M453.5 478.7h.1M442.8 480.0h.1M440.3 486.2h.1M431.4 491.0h.1M441.6 499.7h.1M448.7 493.1h.1M443.8 493.6h.1M451.7 491.3h.1M456.2 489.2h.1M436.9 491.5h.1M454.7 486.5h.1M440.4 481.8h.1M464.3 480.2h.1M434.6 490.9h.1M435.9 491.5h.1M442.6 498.5h.1M456.0 479.7h.1M436.4 496.0h.1M459.0 488.3h.1M455.2 486.2h.1M453.3 478.1h.1M457.4 476.3h.1M451.3 489.7h.1M451.0 479.6h.1M455.6 490.8h.1M445.4 478.5h.1M436.5 491.8h.1M431.8 491.1h.1M448.0 479.6h.1M450.0 477.1h.1M431.4 500.2h.1M440.6 497.9h.1M459.1 484.2h.1M446.9 494.2h.1M434.9 500.3h.1M435.6 493.1h.1M456.5 476.0h.1M458.7 483.3h.1M435.7 495.9h.1M439.3 494.3h.1M457.5 485.7h.1M439.3 499.8h.1M452.9 492.4h.1M442.6 496.2h.1M441.9 498.7h.1M433.7 485.7h.1M441.4 483.6h.1M438.7 485.3h.1M432.8 499.5h.1M450.6 475.3h.1M436.7 484.6h.1M455.4 487.4h.1M444.4 497.9h.1M452.2 475.6h.1M431.9 500.2h.1M438.2 484.5h.1M450.8 478.6h.1M455.5 490.1h.1M456.6 485.4h.1M433.4 494.5h.1M452.5 477.6h.1M454.4 489.5h.1M440.2 496.7h.1M453.4 477.7h.1M442.0 483.6h.1M438.6 498.0h.1M435.2 495.8h.1M441.3 483.6h.1M461.1 485.3h.1M435.9 489.4h.1M436.4 497.2h.1M456.3 489.4h.1M462.9 473.2h.1M442.3 483.8h.1M450.9 477.9h.1M457.8 482.4h.1M461.7 475.0h.1M457.4 475.5h.1M457.3 484.5h.1M435.8 497.1h.1M459.5 478.2h.1M458.6 476.8h.1M456.0 487.2h.1M461.4 475.3h.1M466.2 477.9h.1M429.1 493.0h.1M439.5 485.6h.1M450.2 480.0h.1M456.0 489.0h.1M449.6 478.4h.1M434.9 484.8h.1M434.8 485.6h.1M455.8 489.8h.1M450.2 477.1h.1M433.9 501.3h.1M455.5 487.9h.1M452.0 477.0h.1M437.0 487.4h.1M438.3 496.4h.1M463.3 480.6h.1M459.4 486.7h.1M431.1 493.2h.1M441.1 480.5h.1M456.5 480.7h.1M455.9 475.1h.1M444.0 481.9h.1M434.2 497.6h.1M439.2 486.1h.1M428.5 494.4h.1M457.9 477.8h.1M452.6 478.0h.1M457.7 476.9h.1M430.4 494.2h.1M432.7 494.9h.1M438.2 497.4h.1M434.2 493.6h.1M448.5 479.0h.1M466.2 478.9h.1M441.3 496.2h.1M433.1 495.6h.1M436.6 489.9h.1M444.5 479.9h.1M440.4 480.5h.1M455.9 489.7h.1M457.9 481.0h.1M436.9 488.6h.1M440.3 500.2h.1M459.2 478.1h.1M458.2 485.8h.1M433.9 496.6h.1M440.2 485.4h.1M433.3 498.6h.1M453.0 479.4h.1M451.2 477.0h.1M435.1 488.0h.1M444.2 481.1h.1M460.8 476.9h.1M458.9 478.0h.1M461.8 483.7h.1M435.8 489.7h.1M453.5 473.7h.1M435.2 490.2h.1M436.6 500.9h.1M437.6 500.8h.1M436.7 485.3h.1M445.2 481.6h.1M458.3 479.8h.1M462.3 475.7h.1M464.4 474.1h.1M451.4 491.1h.1M430.0 491.9h.1M446.3 479.4h.1M457.2 474.4h.1M461.6 476.2h.1M435.9 488.8h.1M455.5 489.7h.1M436.1 496.9h.1M429.8 493.3h.1M455.4 477.5h.1M447.1 493.4h.1M456.7 483.6h.1M438.4 481.7h.1M448.5 476.7h.1M429.7 491.5h.1M442.4 483.4h.1M457.1 481.0h.1M458.6 486.1h.1M437.2 494.5h.1M462.7 477.5h.1M465.0 476.9h.1M435.2 495.1h.1M435.2 493.5h.1M434.6 487.2h.1M436.1 487.5h.1M452.8 492.7h.1M440.7 496.0h.1M432.4 488.7h.1M441.4 494.6h.1M451.9 489.2h.1M431.1 494.9h.1M458.6 479.4h.1M439.6 499.4h.1M434.4 499.5h.1M449.4 491.4h.1M454.2 475.8h.1M454.4 488.8h.1M452.2 479.0h.1M433.0 495.1h.1M438.9 484.4h.1M462.2 475.0h.1M428.5 498.6h.1M434.5 491.1h.1M436.2 500.6h.1M454.8 478.9h.1M454.7 487.7h.1M439.5 481.7h.1M442.3 481.9h.1M443.3 495.9h.1M434.5 490.8h.1M437.9 496.4h.1M450.4 478.6h.1M449.5 492.6h.1M433.4 494.8h.1M452.4 476.3h.1M438.1 499.2h.1M439.4 496.0h.1M437.7 498.1h.1M447.2 476.7h.1M458.3 484.2h.1M430.9 493.3h.1M446.7 481.2h.1M457.8 480.6h.1M438.0 489.0h.1M431.1 494.1h.1M434.9 485.6h.1M435.4 494.1h.1M457.0 481.9h.1M435.1 487.6h.1M432.6 496.9h.1M444.7 495.2h.1M444.3 482.6h.1M450.6 495.1h.1M431.5 497.8h.1M451.4 478.2h.1M449.4 478.5h.1M432.9 492.2h.1M453.7 489.5h.1M441.2 485.0h.1M447.6 494.9h.1M461.1 484.7h.1M429.2 491.3h.1M451.2 490.3h.1M445.9 493.7h.1M442.6 498.2h.1M445.3 497.2h.1M440.2 484.8h.1M452.9 490.1h.1M460.7 479.8h.1M450.8 475.4h.1M437.4 488.3h.1M461.3 483.0h.1M438.9 486.0h.1M436.3 490.4h.1M453.2 476.4h.1M453.5 492.5h.1M453.6 489.3h.1M448.5 491.9h.1M436.7 490.3h.1M459.5 474.6h.1M464.5 474.9h.1M445.0 481.4h.1M428.6 494.8h.1M458.2 483.8h.1M462.3 481.4h.1M440.2 497.5h.1M435.5 492.1h.1M434.7 485.8h.1M453.8 474.3h.1M455.7 473.4h.1M443.5 497.9h.1M438.0 488.7h.1M456.5 477.4h.1M456.1 474.6h.1M430.3 493.1h.1M431.7 499.9h.1M460.9 481.5h.1M456.6 476.5h.1M434.2 494.6h.1M432.9 487.6h.1M459.4 481.7h.1M444.6 494.7h.1M445.4 481.1h.1M456.1 477.2h.1M456.5 474.8h.1M459.5 483.7h.1M441.5 497.3h.1M455.3 486.3h.1M448.9 480.3h.1M462.3 481.6h.1M432.5 495.9h.1M436.6 489.8h.1M448.2 479.3h.1M461.7 473.6h.1M458.7 475.6h.1M444.4 493.9h.1M452.0 476.1h.1M430.0 495.1h.1M439.4 498.2h.1M447.9 494.8h.1M449.0 480.2h.1M454.6 490.1h.1M436.3 491.1h.1M451.5 490.0h.1M460.2 480.7h.1M448.7 476.8h.1M453.5 475.7h.1M450.4 494.4h.1M440.8 481.1h.1M450.1 495.5h.1M464.7 479.2h.1M447.9 478.6h.1M445.4 481.6h.1M429.3 492.4h.1M453.9 477.4h.1M436.8 485.9h.1M447.2 480.6h.1M452.2 478.7h.1M456.7 479.7h.1M457.3 477.8h.1M441.4 497.6h.1M448.4 477.4h.1M437.4 486.8h.1M437.6 493.7h.1M434.3 484.9h.1M447.4 494.2h.1M461.6 485.6h.1M430.1 496.1h.1M450.7 491.0h.1M438.1 496.9h.1M435.9 493.5h.1M439.7 484.0h.1M451.3 494.6h.1M433.7 490.3h.1M453.3 478.4h.1M432.8 497.1h.1M440.5 497.1h.1M460.8 483.1h.1M454.9 490.9h.1M441.9 495.7h.1M433.8 489.8h.1M444.6 481.5h.1M433.0 495.2h.1M460.0 482.2h.1M452.2 478.7h.1M450.5 492.2h.1M438.6 482.5h.1M436.9 495.9h.1M460.3 478.2h.1M445.7 495.3h.1M453.3 475.7h.1M436.6 489.0h.1M436.3 490.5h.1M431.2 498.9h.1M463.8 482.7h.1M459.5 478.5h.1M430.9 489.0h.1M445.0 495.3h.1M463.3 479.3h.1M461.0 478.7h.1M463.5 480.0h.1M438.9 487.6h.1M462.7 475.5h.1M429.6 492.8h.1M454.4 488.2h.1M436.9 485.2h.1M445.3 495.2h.1M432.2 498.3h.1M435.6 488.2h.1M441.9 494.5h.1M437.8 496.1h.1M449.5 492.0h.1M457.5 475.4h.1M457.9 483.0h.1M458.5 489.5h.1M462.2 483.1h.1M454.3 489.1h.1M459.4 482.4h.1M439.8 494.8h.1M462.2 479.2h.1M441.5 494.7h.1M434.0 492.1h.1M452.3 475.5h.1M432.4 493.5h.1M458.9 483.3h.1M451.3 474.6h.1M433.9 490.5h.1M451.4 490.2h.1M433.9 487.9h.1M465.8 477.9h.1" stroke="#3a3af2" stroke-opacity="0.7" stroke-width="0.8" stroke-linecap="square" fill="none"/>
<path d="M445.7 492.4h.1M456.5 481.0h.1M451.7 487.6h.1M437.5 492.4h.1M438.9 489.8h.1M454.2 484.3h.1M453.4 486.8h.1M440.2 492.0h.1M454.3 486.2h.1M454.0 487.1h.1M454.4 479.6h.1M451.9 488.9h.1M448.3 481.4h.1M449.4 490.0h.1M441.5 485.4h.1M442.0 493.0h.1M454.2 481.7h.1M451.0 489.7h.1M455.5 482.2h.1M441.7 486.7h.1M444.7 492.1h.1M454.9 482.4h.1M443.0 484.9h.1M446.8 491.0h.1M449.3 490.5h.1M454.0 485.7h.1M453.2 479.7h.1M456.3 481.8h.1M439.9 492.2h.1M456.4 482.8h.1M455.1 481.5h.1M441.7 493.4h.1M453.0 486.4h.1M443.2 485.1h.1M443.5 484.6h.1M449.3 481.9h.1M451.7 488.4h.1M438.6 489.5h.1M441.7 492.2h.1M456.3 483.3h.1M450.9 480.5h.1M448.0 481.3h.1M443.8 483.3h.1M454.2 486.3h.1M451.5 487.8h.1M440.9 494.0h.1M452.6 487.4h.1M442.3 486.2h.1M437.4 491.1h.1M452.1 487.6h.1M440.5 492.5h.1M440.3 492.1h.1M448.3 481.4h.1M438.0 491.9h.1M450.6 481.2h.1M442.2 485.1h.1M437.4 492.1h.1M446.5 483.1h.1M440.2 491.3h.1M454.7 481.5h.1M449.6 489.8h.1M454.4 482.4h.1M439.3 487.3h.1M439.3 487.5h.1M449.2 490.8h.1M453.8 485.4h.1M454.8 484.0h.1M455.0 481.7h.1M452.0 489.0h.1M438.5 493.4h.1M438.7 488.2h.1M449.8 481.1h.1M443.2 484.6h.1M439.1 493.8h.1M455.7 482.7h.1M442.5 484.6h.1M438.3 490.2h.1M452.0 488.6h.1M453.9 484.9h.1M449.3 481.8h.1M446.6 491.8h.1M454.4 484.7h.1M445.4 492.8h.1M451.9 479.8h.1M452.6 486.8h.1M447.9 482.3h.1M443.4 492.1h.1M445.1 491.8h.1M455.9 483.8h.1M455.2 480.5h.1M453.7 481.8h.1M449.1 490.9h.1M441.5 485.4h.1M450.3 488.7h.1M438.6 492.0h.1M438.5 491.3h.1M451.5 488.6h.1M443.9 492.4h.1M448.1 490.7h.1M454.9 482.8h.1M453.2 480.4h.1M438.6 493.2h.1M452.3 481.3h.1M440.1 489.2h.1M438.4 490.1h.1M452.6 487.4h.1M451.1 479.9h.1M440.8 487.5h.1M446.2 492.6h.1M439.6 487.1h.1M438.7 489.1h.1M439.0 491.7h.1M446.7 482.9h.1M451.8 488.0h.1M453.5 485.7h.1M440.1 489.6h.1M451.9 487.6h.1M438.8 491.5h.1M449.6 489.8h.1M438.7 491.9h.1M455.4 482.3h.1M453.7 485.0h.1M439.6 492.6h.1M438.4 490.4h.1M446.8 482.8h.1M454.2 486.2h.1M446.2 481.9h.1M455.0 480.5h.1M440.3 491.4h.1M451.5 488.9h.1M448.5 480.9h.1M454.5 483.6h.1M439.9 489.0h.1M450.4 481.0h.1M437.4 491.7h.1M453.1 480.4h.1M449.8 480.9h.1M447.5 491.1h.1M448.5 482.2h.1M442.2 492.9h.1M456.1 484.4h.1M442.8 484.1h.1M447.9 490.8h.1M452.8 479.7h.1M439.4 487.1h.1M446.2 491.2h.1M447.5 490.8h.1M453.5 480.6h.1M444.2 493.2h.1M442.1 485.9h.1M453.7 486.3h.1M447.5 490.9h.1M449.7 489.9h.1M440.2 486.5h.1M444.3 491.8h.1M454.1 483.4h.1M453.9 479.9h.1M439.0 491.7h.1M448.5 491.0h.1M441.0 485.9h.1M453.6 487.5h.1M450.2 489.3h.1M452.1 481.2h.1M444.7 493.2h.1M453.1 487.1h.1M438.7 492.4h.1M445.2 483.8h.1M455.2 484.1h.1M452.5 487.5h.1M451.9 487.8h.1M454.5 483.5h.1M438.9 493.4h.1M450.4 490.0h.1M440.5 491.7h.1M443.4 484.5h.1M451.7 489.0h.1M450.4 481.3h.1M438.5 489.6h.1M454.1 480.4h.1M444.6 493.3h.1M452.6 486.5h.1M456.6 482.0h.1M439.2 491.3h.1M451.2 488.6h.1M448.1 481.5h.1M442.2 492.8h.1M441.6 485.0h.1M453.8 485.9h.1M442.1 493.7h.1M453.7 487.2h.1M440.3 493.3h.1M454.0 479.6h.1M451.2 488.4h.1M446.7 491.4h.1M440.5 487.6h.1M438.3 493.1h.1M453.0 487.7h.1M448.0 482.2h.1" stroke="#20a8f0" stroke-opacity="0.9" stroke-width="0.8" stroke-linecap="square" fill="none"/>
<path d="M450.4 482.1h.1M441.3 487.3h.1M444.7 490.5h.1M445.5 490.4h.1M443.4 489.5h.1M454.0 483.8h.1M445.7 485.0h.1M447.3 483.0h.1M444.6 484.4h.1M446.5 484.2h.1M443.5 489.7h.1M444.9 490.3h.1M452.6 484.0h.1M448.3 482.9h.1M448.3 488.1h.1M451.4 487.5h.1M441.7 491.6h.1M444.1 485.7h.1M450.5 481.9h.1M441.9 491.4h.1M442.9 486.6h.1M452.7 482.7h.1M444.5 491.4h.1M446.8 484.5h.1M446.1 491.1h.1M441.7 488.6h.1M450.7 482.1h.1M446.3 490.6h.1M451.1 482.0h.1M443.6 485.3h.1M452.1 482.5h.1M442.5 488.8h.1M449.2 487.2h.1M442.9 488.4h.1M440.7 488.9h.1M452.6 482.6h.1M452.9 485.3h.1M442.5 491.2h.1M442.2 490.2h.1M440.2 490.5h.1M451.3 484.4h.1M451.3 487.7h.1M446.9 483.1h.1M453.3 483.4h.1M449.0 483.8h.1M443.6 490.0h.1M444.1 491.0h.1M442.1 487.4h.1M443.1 485.8h.1M448.2 488.3h.1M440.3 490.8h.1M452.9 482.9h.1M452.7 483.2h.1M452.7 482.0h.1M450.5 483.4h.1M445.4 489.7h.1M447.6 489.3h.1M449.2 487.5h.1M445.2 489.9h.1M446.3 489.8h.1M442.3 490.9h.1M449.5 483.9h.1M449.9 487.1h.1M449.8 484.2h.1M443.1 487.6h.1M450.3 488.3h.1M445.8 485.2h.1M440.6 490.0h.1M453.0 482.4h.1M443.9 491.3h.1M448.9 489.5h.1M441.4 487.4h.1M445.1 485.6h.1M448.0 483.3h.1M449.0 482.8h.1M448.0 483.7h.1M442.1 491.7h.1M441.1 491.0h.1M440.6 489.2h.1M443.4 490.2h.1M445.8 484.0h.1M452.4 483.3h.1M450.9 481.7h.1M446.8 490.1h.1M440.2 489.3h.1M447.7 483.0h.1M450.4 482.1h.1M452.5 485.5h.1M448.1 489.1h.1M447.2 484.2h.1M446.7 484.9h.1M443.4 486.4h.1M443.2 487.6h.1M443.0 488.5h.1M446.9 489.8h.1M447.8 489.4h.1M447.8 483.6h.1M452.9 483.3h.1M444.7 490.0h.1M443.5 490.8h.1M447.1 489.7h.1M441.3 487.4h.1M452.4 485.7h.1M450.7 484.1h.1M448.8 482.5h.1M445.3 485.6h.1M441.6 490.3h.1M443.8 489.4h.1M446.5 484.3h.1M441.5 488.7h.1M442.6 490.8h.1M452.0 482.1h.1M450.3 482.5h.1M453.5 484.9h.1M451.7 483.3h.1M452.8 483.9h.1M450.0 487.1h.1M450.2 486.7h.1M448.5 483.6h.1M445.1 490.7h.1M442.9 489.6h.1M443.9 484.9h.1M445.5 484.9h.1M442.2 489.6h.1M450.0 487.0h.1M447.9 483.6h.1M442.8 487.6h.1M444.2 489.4h.1M444.6 489.9h.1M442.5 489.6h.1M447.9 488.4h.1M443.7 491.4h.1M443.1 485.5h.1M441.7 491.0h.1M443.7 486.0h.1M441.2 489.5h.1M451.1 485.0h.1M443.7 485.0h.1M450.1 488.1h.1M450.7 485.8h.1M448.5 484.2h.1M450.7 485.9h.1M443.5 487.0h.1M447.4 482.8h.1M451.3 483.3h.1M442.2 490.9h.1M441.6 491.4h.1M445.6 491.2h.1M446.0 483.8h.1M452.8 481.7h.1M441.9 488.3h.1M443.8 489.9h.1M451.0 483.9h.1M450.2 488.4h.1M440.7 488.3h.1M443.6 491.2h.1M440.2 490.7h.1M451.1 487.3h.1M448.4 484.1h.1M452.0 485.6h.1M447.1 489.8h.1M447.6 483.4h.1M441.5 488.0h.1M451.2 482.1h.1M443.4 489.7h.1M440.5 491.0h.1M451.1 485.8h.1M450.3 483.3h.1M442.6 488.9h.1M446.0 484.0h.1M449.0 482.4h.1M444.1 489.6h.1M440.9 490.5h.1M445.7 484.2h.1M452.5 484.4h.1M451.1 487.3h.1M449.6 482.1h.1M443.8 486.1h.1M450.7 485.8h.1M451.7 483.7h.1M447.4 483.0h.1M447.3 483.3h.1M450.6 486.0h.1M448.8 488.7h.1M446.7 488.9h.1M446.0 489.3h.1M451.5 484.1h.1M450.6 487.8h.1M450.1 482.2h.1M442.0 487.6h.1M442.9 491.4h.1M441.1 490.8h.1M450.5 483.9h.1M443.8 490.2h.1M445.6 485.5h.1M444.0 491.1h.1M445.3 485.2h.1M442.1 492.0h.1" stroke="#34d23a" stroke-opacity="0.95" stroke-width="0.8" stroke-linecap="square" fill="none"/>
<path d="M444.0 487.5h.1M446.4 485.5h.1M450.0 485.6h.1M449.6 485.1h.1M448.1 486.9h.1M445.2 486.6h.1M444.4 488.3h.1M448.4 485.4h.1M447.8 488.1h.1M448.6 484.8h.1M448.8 485.5h.1M447.2 485.7h.1M446.6 486.1h.1M446.1 485.5h.1M448.7 484.3h.1M447.4 487.8h.1M449.9 485.8h.1M447.5 487.9h.1M447.8 485.1h.1M446.9 484.9h.1M446.9 486.0h.1M443.8 488.5h.1M446.8 485.8h.1M449.4 484.3h.1M445.2 487.6h.1M447.7 487.8h.1M447.8 484.8h.1M446.2 485.8h.1M444.2 487.8h.1M447.7 485.5h.1M444.8 486.9h.1M449.6 484.4h.1M449.8 486.1h.1M445.8 486.1h.1M444.1 488.6h.1M445.6 488.9h.1M443.9 488.6h.1M445.6 489.2h.1M448.9 485.7h.1M448.5 485.4h.1M444.4 489.4h.1M448.7 486.6h.1M448.9 487.5h.1M448.4 485.4h.1M447.8 487.4h.1M448.7 484.5h.1M446.0 488.7h.1M450.0 484.8h.1M448.8 484.4h.1M449.4 485.8h.1M445.4 488.8h.1M444.8 488.8h.1M449.1 485.1h.1M445.2 487.6h.1M449.3 484.3h.1M444.6 488.7h.1M449.0 484.4h.1M447.9 485.3h.1M446.9 488.0h.1M448.9 486.6h.1" stroke="#c8e020" stroke-opacity="0.95" stroke-width="0.8" stroke-linecap="square" fill="none"/>
<path d="M446.8 486.2h.1M447.9 487.1h.1M447.7 485.9h.1M447.2 486.9h.1M448.3 486.0h.1M445.7 487.2h.1M445.8 487.2h.1M446.7 487.7h.1M446.8 487.5h.1M447.9 486.9h.1" stroke="#ee4a1c" stroke-opacity="1.0" stroke-width="0.8" stroke-linecap="square" fill="none"/>
<line x1="463.30" y1="421.20" x2="463.30" y2="520.90" stroke="#3c3c3c" stroke-width="1.0"/>
<line x1="408.10" y1="469.00" x2="507.00" y2="469.00" stroke="#3c3c3c" stroke-width="1.0"/>
<text x="410.10" y="430.90" font-size="5.6" text-anchor="start" fill="#333">4.43</text>
<text x="501.50" y="430.90" font-size="5.6" text-anchor="end" fill="#333">12.7</text>
<text x="410.10" y="514.90" font-size="5.6" text-anchor="start" fill="#333">78.5</text>
<text x="501.50" y="514.90" font-size="5.6" text-anchor="end" fill="#333">4.35</text>
<text x="461.70" y="555.90" font-size="11.0" text-anchor="middle" stroke="#111" stroke-width="0.22" fill="#111">40</text>
<line x1="558.70" y1="420.90" x2="558.70" y2="540.50" stroke="#222" stroke-width="1.3"/>
<line x1="558.10" y1="539.90" x2="664.50" y2="539.90" stroke="#222" stroke-width="1.3"/>
<line x1="554.10" y1="539.90" x2="558.70" y2="539.90" stroke="#222" stroke-width="1.2"/>
<text x="552.70" y="542.90" font-size="8.4" text-anchor="end" font-weight="bold" stroke="#222" stroke-width="0.28" fill="#222">0</text>
<line x1="554.10" y1="516.20" x2="558.70" y2="516.20" stroke="#222" stroke-width="1.2"/>
<text x="552.70" y="519.20" font-size="8.4" text-anchor="end" font-weight="bold" stroke="#222" stroke-width="0.28" fill="#222">5</text>
<line x1="554.10" y1="492.50" x2="558.70" y2="492.50" stroke="#222" stroke-width="1.2"/>
<text x="552.70" y="495.50" font-size="8.4" text-anchor="end" font-weight="bold" stroke="#222" stroke-width="0.28" fill="#222">10</text>
<line x1="554.10" y1="468.80" x2="558.70" y2="468.80" stroke="#222" stroke-width="1.2"/>
<text x="552.70" y="471.80" font-size="8.4" text-anchor="end" font-weight="bold" stroke="#222" stroke-width="0.28" fill="#222">15</text>
<line x1="554.10" y1="445.10" x2="558.70" y2="445.10" stroke="#222" stroke-width="1.2"/>
<text x="552.70" y="448.10" font-size="8.4" text-anchor="end" font-weight="bold" stroke="#222" stroke-width="0.28" fill="#222">20</text>
<line x1="554.10" y1="421.40" x2="558.70" y2="421.40" stroke="#222" stroke-width="1.2"/>
<text x="552.70" y="424.40" font-size="8.4" text-anchor="end" font-weight="bold" stroke="#222" stroke-width="0.28" fill="#222">25</text>
<text x="532.90" y="478.50" font-size="11.7" text-anchor="middle" stroke="#111" stroke-width="0.22" fill="#111" transform="rotate(-90 532.90 478.50)">Cell apoptotic rate (%)</text>
<rect x="567.40" y="524.50" width="12.60" height="15.40" fill="none" stroke="#2e7a32" stroke-width="1.6"/>
<line x1="573.70" y1="539.90" x2="573.70" y2="544.30" stroke="#222" stroke-width="1.2"/>
<text x="573.70" y="556.00" font-size="11.0" text-anchor="middle" stroke="#111" stroke-width="0.22" fill="#111">0</text>
<line x1="573.70" y1="523.31" x2="573.70" y2="525.68" stroke="#2e7a32" stroke-width="1.0"/>
<line x1="570.50" y1="523.31" x2="576.90" y2="523.31" stroke="#2e7a32" stroke-width="1.0"/>
<line x1="570.50" y1="525.68" x2="576.90" y2="525.68" stroke="#2e7a32" stroke-width="1.0"/>
<circle cx="569.90" cy="526.15" r="2.00" fill="#2e7a32"/>
<circle cx="572.90" cy="523.78" r="2.00" fill="#2e7a32"/>
<circle cx="575.90" cy="524.73" r="2.00" fill="#2e7a32"/>
<circle cx="578.50" cy="524.26" r="2.00" fill="#2e7a32"/>
<rect x="592.50" y="501.98" width="12.60" height="37.92" fill="none" stroke="#3a78c2" stroke-width="1.6"/>
<line x1="598.80" y1="539.90" x2="598.80" y2="544.30" stroke="#222" stroke-width="1.2"/>
<text x="598.80" y="556.00" font-size="11.0" text-anchor="middle" stroke="#111" stroke-width="0.22" fill="#111">10</text>
<line x1="598.80" y1="497.71" x2="598.80" y2="506.25" stroke="#3a78c2" stroke-width="1.0"/>
<line x1="595.60" y1="497.71" x2="602.00" y2="497.71" stroke="#3a78c2" stroke-width="1.0"/>
<line x1="595.60" y1="506.25" x2="602.00" y2="506.25" stroke="#3a78c2" stroke-width="1.0"/>
<path d="M592.76,501.98 L598.05,501.98 L595.40,497.55 Z" fill="#3a78c2" stroke="none" stroke-width="0"/>
<path d="M599.56,501.98 L604.85,501.98 L602.20,497.55 Z" fill="#3a78c2" stroke="none" stroke-width="0"/>
<path d="M596.16,509.09 L601.45,509.09 L598.80,504.66 Z" fill="#3a78c2" stroke="none" stroke-width="0"/>
<text x="598.80" y="498.77" font-size="10.5" text-anchor="middle" font-weight="bold" fill="#111">**</text>
<rect x="618.10" y="474.49" width="12.60" height="65.41" fill="none" stroke="#c2344e" stroke-width="1.6"/>
<line x1="624.40" y1="539.90" x2="624.40" y2="544.30" stroke="#222" stroke-width="1.2"/>
<text x="624.40" y="556.00" font-size="11.0" text-anchor="middle" stroke="#111" stroke-width="0.22" fill="#111">20</text>
<line x1="624.40" y1="467.38" x2="624.40" y2="481.60" stroke="#c2344e" stroke-width="1.0"/>
<line x1="621.20" y1="467.38" x2="627.60" y2="467.38" stroke="#c2344e" stroke-width="1.0"/>
<line x1="621.20" y1="481.60" x2="627.60" y2="481.60" stroke="#c2344e" stroke-width="1.0"/>
<path d="M617.75,475.43 L623.04,475.43 L620.40,479.86 Z" fill="#c2344e" stroke="none" stroke-width="0"/>
<path d="M625.96,475.43 L631.25,475.43 L628.60,479.86 Z" fill="#c2344e" stroke="none" stroke-width="0"/>
<path d="M621.75,464.06 L627.04,464.06 L624.40,468.49 Z" fill="#c2344e" stroke="none" stroke-width="0"/>
<text x="624.40" y="464.87" font-size="10.5" text-anchor="middle" font-weight="bold" fill="#111">**</text>
<rect x="643.30" y="459.32" width="12.60" height="80.58" fill="none" stroke="#746b5c" stroke-width="1.6"/>
<line x1="649.60" y1="539.90" x2="649.60" y2="544.30" stroke="#222" stroke-width="1.2"/>
<text x="649.60" y="556.00" font-size="11.0" text-anchor="middle" stroke="#111" stroke-width="0.22" fill="#111">40</text>
<line x1="649.60" y1="448.42" x2="649.60" y2="470.22" stroke="#746b5c" stroke-width="1.0"/>
<line x1="646.40" y1="448.42" x2="652.80" y2="448.42" stroke="#746b5c" stroke-width="1.0"/>
<line x1="646.40" y1="470.22" x2="652.80" y2="470.22" stroke="#746b5c" stroke-width="1.0"/>
<rect x="647.30" y="446.12" width="4.60" height="4.60" fill="#746b5c" stroke="none" stroke-width="0"/>
<rect x="647.30" y="456.55" width="4.60" height="4.60" fill="#746b5c" stroke="none" stroke-width="0"/>
<rect x="647.30" y="467.92" width="4.60" height="4.60" fill="#746b5c" stroke="none" stroke-width="0"/>
<text x="649.60" y="447.87" font-size="10.5" text-anchor="middle" font-weight="bold" fill="#111">**</text>
<defs>
<filter id="migf" x="0" y="0" width="100%" height="100%" color-interpolation-filters="sRGB">
 <feTurbulence type="fractalNoise" baseFrequency="0.5" numOctaves="2" seed="7" result="n"/>
 <feColorMatrix in="n" type="matrix" values="0 0 0 0 0.81  0 0 0 0 0.82  0 0 0 0 0.69  3.4 0 0 0 -1.35" result="k"/>
 <feColorMatrix in="n" type="matrix" values="0 0 0 0 0.87  0 0 0 0 0.86  0 0 0 0 0.93  0 3.2 0 0 -1.4" result="w"/>
 <feFlood flood-color="#c7c1ea" result="bg"/>
 <feComposite in="w" in2="bg" operator="over" result="bw"/>
 <feComposite in="k" in2="bw" operator="over"/>
</filter>
<filter id="invf" x="0" y="0" width="100%" height="100%" color-interpolation-filters="sRGB">
 <feTurbulence type="fractalNoise" baseFrequency="0.12" numOctaves="2" seed="3" result="n"/>
 <feColorMatrix in="n" type="matrix" values="0 0 0 0 0.80  0 0 0 0 0.79  0 0 0 0 0.84  2.2 0 0 0 -0.9" result="k"/>
 <feFlood flood-color="#d8d3e0" result="bg"/>
 <feComposite in="k" in2="bg" operator="over"/>
</filter>
<filter id="soft" x="-5%" y="-5%" width="110%" height="110%"><feGaussianBlur stdDeviation="0.55"/></filter>
</defs>
<svg x="32.80" y="585.10" width="76.20" height="50.70" viewBox="0 0 76.20 50.70" overflow="hidden">
<rect width="76.20" height="50.70" fill="#ccc" filter="url(#migf)"/>
<g filter="url(#soft)">
<path d="M11.1 23.1h1.1v1.1h-1.1zM53.8 37.1h0.9v0.9h-0.9zM61.0 27.0h0.6v0.6h-0.6zM34.7 2.4h1.2v1.2h-1.2zM72.2 17.0h0.8v0.8h-0.8zM58.5 10.3h0.7v0.7h-0.7zM14.4 17.6h1.0v1.0h-1.0zM73.4 10.7h1.2v1.2h-1.2zM42.3 45.7h1.1v1.1h-1.1zM12.2 32.9h0.7v0.7h-0.7zM0.4 20.1h1.1v1.1h-1.1zM43.1 9.8h1.1v1.1h-1.1zM69.6 12.0h0.9v0.9h-0.9zM48.6 45.7h0.7v0.7h-0.7zM42.2 49.1h1.0v1.0h-1.0zM54.7 39.3h0.9v0.9h-0.9zM22.1 29.9h0.9v0.9h-0.9zM26.2 43.3h0.8v0.8h-0.8zM36.8 38.6h1.1v1.1h-1.1zM67.9 33.0h0.8v0.8h-0.8zM64.6 46.1h1.0v1.0h-1.0zM58.4 26.0h0.9v0.9h-0.9zM44.4 7.5h1.0v1.0h-1.0zM65.6 8.4h1.1v1.1h-1.1zM53.8 6.1h0.6v0.6h-0.6zM45.4 11.1h0.8v0.8h-0.8zM47.3 33.0h1.0v1.0h-1.0zM43.3 16.9h0.6v0.6h-0.6zM8.7 9.8h0.9v0.9h-0.9zM54.9 10.6h0.8v0.8h-0.8zM71.4 20.3h1.0v1.0h-1.0zM47.1 33.4h0.9v0.9h-0.9zM41.5 35.5h0.7v0.7h-0.7zM60.9 44.3h0.6v0.6h-0.6zM15.1 12.6h0.7v0.7h-0.7zM10.7 32.5h0.7v0.7h-0.7zM5.1 48.0h0.8v0.8h-0.8zM41.2 24.0h0.8v0.8h-0.8zM34.6 9.8h0.9v0.9h-0.9zM19.1 7.4h0.7v0.7h-0.7zM31.4 47.2h1.0v1.0h-1.0zM74.7 20.3h0.8v0.8h-0.8zM54.2 9.7h1.2v1.2h-1.2zM29.8 13.8h0.8v0.8h-0.8zM23.2 47.5h1.2v1.2h-1.2zM42.6 11.8h0.6v0.6h-0.6zM6.1 15.1h1.0v1.0h-1.0zM47.7 43.3h1.1v1.1h-1.1zM26.9 34.2h0.9v0.9h-0.9zM55.5 9.3h1.2v1.2h-1.2zM1.7 31.3h0.8v0.8h-0.8zM61.0 7.3h1.1v1.1h-1.1zM0.2 37.3h1.0v1.0h-1.0zM38.7 8.8h0.8v0.8h-0.8zM34.0 10.8h0.7v0.7h-0.7zM64.2 27.9h0.8v0.8h-0.8zM47.7 32.1h0.7v0.7h-0.7zM44.5 29.6h0.7v0.7h-0.7zM22.9 43.8h0.9v0.9h-0.9zM17.0 20.0h0.9v0.9h-0.9zM54.0 43.6h0.7v0.7h-0.7zM3.6 22.4h0.6v0.6h-0.6zM11.8 5.4h0.7v0.7h-0.7zM47.6 4.8h0.9v0.9h-0.9zM73.6 7.1h1.1v1.1h-1.1zM44.5 8.6h1.2v1.2h-1.2zM56.1 19.2h1.1v1.1h-1.1zM7.9 42.3h1.1v1.1h-1.1zM8.8 46.4h1.1v1.1h-1.1zM69.7 14.3h1.0v1.0h-1.0zM59.4 17.7h0.6v0.6h-0.6zM1.1 25.7h0.9v0.9h-0.9zM9.5 32.0h0.6v0.6h-0.6zM36.4 25.9h0.7v0.7h-0.7zM3.6 45.8h1.1v1.1h-1.1zM44.8 1.5h0.9v0.9h-0.9zM73.4 38.9h1.0v1.0h-1.0zM3.0 29.3h0.7v0.7h-0.7zM75.2 0.6h0.7v0.7h-0.7zM67.1 6.1h0.8v0.8h-0.8zM23.3 44.7h1.0v1.0h-1.0zM71.2 9.7h0.7v0.7h-0.7zM26.2 38.8h1.0v1.0h-1.0zM71.3 36.1h0.6v0.6h-0.6zM24.0 10.3h0.8v0.8h-0.8zM50.8 22.5h1.1v1.1h-1.1zM1.2 46.1h0.7v0.7h-0.7zM56.6 42.8h0.6v0.6h-0.6zM41.3 49.4h0.6v0.6h-0.6zM37.9 21.6h0.8v0.8h-0.8zM14.8 9.1h0.8v0.8h-0.8zM16.6 14.9h1.1v1.1h-1.1zM72.3 13.2h0.6v0.6h-0.6zM20.3 43.4h0.7v0.7h-0.7zM50.4 4.7h0.8v0.8h-0.8zM12.9 31.3h0.8v0.8h-0.8zM59.0 26.3h0.8v0.8h-0.8zM1.6 42.5h0.6v0.6h-0.6zM38.0 50.1h1.1v1.1h-1.1zM27.1 47.1h0.8v0.8h-0.8zM44.3 29.2h1.0v1.0h-1.0zM22.0 20.2h0.8v0.8h-0.8zM70.0 37.4h0.8v0.8h-0.8zM59.0 31.3h0.7v0.7h-0.7zM38.0 4.9h0.7v0.7h-0.7zM5.9 4.1h1.0v1.0h-1.0zM63.2 42.3h0.7v0.7h-0.7zM72.2 17.0h1.0v1.0h-1.0zM45.4 24.1h1.0v1.0h-1.0zM67.9 35.3h0.9v0.9h-0.9zM65.6 37.8h0.8v0.8h-0.8zM74.6 20.5h0.6v0.6h-0.6zM73.4 47.8h0.9v0.9h-0.9zM57.2 35.3h0.7v0.7h-0.7zM60.6 31.8h1.2v1.2h-1.2zM36.5 14.1h1.1v1.1h-1.1zM42.1 44.2h0.6v0.6h-0.6zM52.2 46.1h0.7v0.7h-0.7zM6.9 24.9h1.0v1.0h-1.0zM48.1 26.9h0.8v0.8h-0.8zM54.1 50.1h0.9v0.9h-0.9zM30.1 49.1h0.7v0.7h-0.7zM42.9 42.6h1.1v1.1h-1.1zM57.0 34.6h0.9v0.9h-0.9zM73.6 0.1h0.9v0.9h-0.9zM34.3 36.4h0.8v0.8h-0.8zM15.1 22.7h1.0v1.0h-1.0zM40.3 44.4h0.9v0.9h-0.9zM15.6 32.6h0.8v0.8h-0.8zM1.9 20.3h0.7v0.7h-0.7zM48.7 45.8h1.0v1.0h-1.0zM73.0 7.3h1.1v1.1h-1.1zM58.2 12.2h0.9v0.9h-0.9zM13.2 15.7h0.9v0.9h-0.9zM29.6 19.7h1.0v1.0h-1.0zM51.6 5.9h0.9v0.9h-0.9zM59.3 1.6h1.0v1.0h-1.0zM1.6 21.7h0.8v0.8h-0.8zM1.5 3.8h1.0v1.0h-1.0zM20.4 26.3h0.7v0.7h-0.7zM46.9 47.4h1.1v1.1h-1.1zM27.9 48.6h0.8v0.8h-0.8zM21.2 21.4h1.2v1.2h-1.2zM29.5 14.7h0.9v0.9h-0.9zM48.5 38.5h1.0v1.0h-1.0zM51.3 20.9h0.9v0.9h-0.9zM74.8 25.1h1.1v1.1h-1.1zM27.4 0.6h0.8v0.8h-0.8zM39.8 20.2h0.7v0.7h-0.7zM12.3 2.5h1.0v1.0h-1.0zM40.2 41.4h1.1v1.1h-1.1zM57.3 40.3h1.1v1.1h-1.1zM69.6 41.6h1.1v1.1h-1.1zM26.5 50.5h1.1v1.1h-1.1zM61.9 43.1h1.0v1.0h-1.0zM43.8 26.3h1.2v1.2h-1.2zM21.9 32.7h1.2v1.2h-1.2zM20.2 7.9h0.8v0.8h-0.8zM33.7 25.7h0.7v0.7h-0.7zM18.4 7.4h0.9v0.9h-0.9zM10.8 17.9h0.7v0.7h-0.7zM48.2 31.4h0.7v0.7h-0.7zM76.1 14.4h1.1v1.1h-1.1zM22.8 28.5h1.0v1.0h-1.0zM44.1 17.2h1.1v1.1h-1.1zM47.5 28.4h0.9v0.9h-0.9zM21.6 20.7h1.0v1.0h-1.0zM54.1 50.4h1.0v1.0h-1.0zM75.6 16.6h0.8v0.8h-0.8zM76.0 21.6h0.9v0.9h-0.9zM66.2 6.3h0.7v0.7h-0.7zM35.6 10.2h0.6v0.6h-0.6zM54.3 27.9h0.9v0.9h-0.9zM48.7 15.5h0.8v0.8h-0.8zM25.5 32.7h0.9v0.9h-0.9zM44.1 27.8h0.9v0.9h-0.9zM3.5 39.6h1.1v1.1h-1.1zM5.3 37.6h0.9v0.9h-0.9zM56.4 0.8h0.6v0.6h-0.6zM41.5 28.1h0.7v0.7h-0.7zM59.2 5.0h1.1v1.1h-1.1zM60.7 36.7h1.1v1.1h-1.1zM22.2 31.0h0.6v0.6h-0.6zM57.2 9.2h0.6v0.6h-0.6zM57.9 3.1h1.0v1.0h-1.0zM73.1 27.4h0.9v0.9h-0.9zM57.9 37.7h0.9v0.9h-0.9zM3.9 49.9h1.0v1.0h-1.0zM36.4 33.8h0.8v0.8h-0.8zM17.7 2.0h0.8v0.8h-0.8zM43.1 5.2h0.7v0.7h-0.7zM29.6 0.0h1.1v1.1h-1.1zM12.3 46.0h0.9v0.9h-0.9zM23.7 3.6h1.0v1.0h-1.0zM4.5 16.9h1.2v1.2h-1.2zM63.2 36.0h1.0v1.0h-1.0zM47.1 37.8h1.1v1.1h-1.1zM7.5 45.4h1.2v1.2h-1.2zM44.4 16.8h0.6v0.6h-0.6zM26.2 1.8h1.0v1.0h-1.0zM45.3 37.1h1.1v1.1h-1.1zM24.0 38.0h1.0v1.0h-1.0zM42.5 3.2h1.1v1.1h-1.1zM41.9 23.6h1.1v1.1h-1.1zM8.8 1.7h1.0v1.0h-1.0zM54.5 26.9h0.9v0.9h-0.9zM58.8 41.8h1.0v1.0h-1.0zM55.8 25.8h0.7v0.7h-0.7zM60.9 2.4h0.7v0.7h-0.7zM43.5 18.6h1.1v1.1h-1.1zM22.9 24.9h0.7v0.7h-0.7zM64.2 18.3h1.0v1.0h-1.0zM56.1 22.8h0.7v0.7h-0.7zM73.5 1.9h1.1v1.1h-1.1zM12.0 21.8h0.9v0.9h-0.9zM32.4 29.9h1.0v1.0h-1.0zM51.7 3.4h0.8v0.8h-0.8zM14.4 49.1h0.9v0.9h-0.9zM75.4 10.7h1.0v1.0h-1.0zM39.7 16.7h0.7v0.7h-0.7z" fill="#3e3c50" fill-opacity="0.6"/>
<path d="M46.1 45.1h1.2v1.2h-1.2zM39.4 47.9h1.1v1.1h-1.1zM26.9 44.7h1.0v1.0h-1.0zM2.8 33.6h1.2v1.2h-1.2zM69.1 28.9h1.1v1.1h-1.1zM50.5 22.5h1.3v1.3h-1.3zM15.0 3.2h1.5v1.5h-1.5zM64.2 7.6h1.0v1.0h-1.0zM63.1 35.9h1.2v1.2h-1.2zM64.7 41.4h1.5v1.5h-1.5zM69.6 41.0h0.9v0.9h-0.9zM48.8 4.8h1.5v1.5h-1.5zM62.8 30.7h1.2v1.2h-1.2zM52.4 15.0h1.4v1.4h-1.4zM73.3 1.9h1.2v1.2h-1.2zM61.4 9.1h1.1v1.1h-1.1zM62.3 29.0h1.1v1.1h-1.1zM30.5 18.5h1.3v1.3h-1.3zM75.7 12.6h1.1v1.1h-1.1zM67.9 24.7h1.4v1.4h-1.4zM66.1 5.1h1.0v1.0h-1.0zM10.8 9.0h0.9v0.9h-0.9zM18.0 46.5h1.5v1.5h-1.5zM52.3 26.1h1.4v1.4h-1.4zM72.9 14.3h1.4v1.4h-1.4zM9.7 19.3h1.3v1.3h-1.3zM47.8 10.5h1.2v1.2h-1.2zM12.7 18.4h1.5v1.5h-1.5zM18.3 16.7h1.3v1.3h-1.3zM14.5 44.7h1.1v1.1h-1.1z" fill="#5a4ccc" fill-opacity="0.85"/>
<path d="M64.7,39.2 L63.2,38.2 L63.3,35.6 L64.4,35.1 L65.8,35.0 L65.2,38.1ZM5.1,41.0 L3.3,38.3 L4.2,35.9 L5.6,35.7 L6.5,38.1ZM36.6,41.7 L36.7,38.8 L41.7,35.1 L43.4,37.0 L41.0,40.2ZM41.2,47.8 L40.2,47.3 L38.2,45.5 L37.0,43.6 L37.5,42.5 L39.5,43.7 L40.3,45.4ZM21.2,51.4 L19.9,51.4 L18.7,49.9 L18.2,47.2 L19.1,47.7 L20.4,48.5 L21.5,50.1ZM19.1,29.7 L18.7,28.5 L19.4,27.6 L20.0,27.6 L21.1,27.7 L20.6,28.8 L19.8,30.2ZM61.7,51.2 L61.2,49.0 L62.6,47.4 L64.3,47.7 L63.2,50.2ZM65.0,10.3 L64.2,10.5 L59.3,5.2 L58.7,2.3 L60.2,3.5 L61.8,4.2 L64.8,7.2ZM56.4,27.6 L54.1,28.3 L52.0,25.4 L52.6,23.5 L54.6,22.8 L56.4,26.1ZM41.4,30.3 L39.3,32.4 L35.1,31.7 L36.4,29.5 L38.0,29.2ZM57.7,16.3 L56.5,17.0 L55.3,15.9 L55.2,13.5 L56.2,12.8 L57.7,14.0 L58.6,14.9ZM0.7,23.4 L1.2,21.2 L2.7,20.9 L3.6,21.0 L2.9,22.6 L1.8,23.2Z" fill="#4a3cbc"/>
<path d="M24.1,19.1 L22.6,17.5 L22.1,15.2 L23.8,14.7 L25.2,17.0ZM19.6,32.8 L19.6,31.3 L19.5,30.3 L20.6,29.5 L21.5,29.5 L21.3,30.8 L20.8,31.8ZM44.1,50.9 L42.7,49.6 L43.8,47.8 L45.8,47.2 L45.6,50.2ZM25.0,41.7 L23.3,40.2 L24.3,38.6 L25.7,38.0 L27.3,38.8 L26.9,41.2ZM60.7,27.9 L57.3,29.3 L52.8,28.0 L53.6,25.8 L56.5,24.9ZM24.7,47.8 L25.5,44.9 L27.3,44.9 L28.6,46.6 L26.5,48.0ZM68.4,19.6 L69.5,18.2 L71.3,18.5 L72.1,18.7 L71.9,20.0 L70.8,20.6 L69.4,20.5ZM65.9,13.9 L66.7,12.1 L74.0,11.1 L75.7,12.3 L72.4,14.4 L68.0,14.6ZM35.0,18.0 L36.0,15.7 L37.6,14.1 L39.7,15.5 L37.7,18.4ZM14.3,35.5 L12.8,36.4 L9.7,33.4 L9.6,31.0 L12.0,31.5 L14.0,33.0ZM0.3,31.6 L0.1,30.3 L2.4,30.3 L3.3,31.0 L1.8,32.8ZM9.9,12.1 L9.9,10.9 L10.8,9.4 L11.5,9.2 L12.7,8.9 L12.7,10.4 L11.5,12.3ZM23.8,9.1 L23.0,8.3 L24.8,6.2 L26.6,4.2 L27.2,5.6 L27.3,7.7 L25.4,9.4ZM20.4,6.5 L21.3,4.6 L24.9,1.8 L25.7,3.4 L22.6,6.7ZM10.8,30.8 L8.3,31.9 L6.8,32.2 L3.1,31.4 L4.7,30.3 L5.7,29.8 L9.0,29.9ZM57.3,35.8 L55.1,34.5 L55.1,32.5 L55.9,31.0 L57.7,33.3ZM69.3,12.4 L68.4,11.6 L68.3,9.8 L68.6,8.1 L69.9,8.0 L70.5,9.8 L70.9,13.3ZM5.4,1.8 L6.6,0.7 L7.2,0.3 L9.5,-0.4 L9.3,0.7 L8.7,1.7 L7.4,2.0Z" fill="#5244c6" fill-opacity="0.92"/>
</g>
<rect x="61.70" y="43.30" width="11.5" height="0.8" fill="#111"/>
<rect x="63.40" y="45.10" width="8" height="1.1" fill="#777" fill-opacity="0.55"/>
</svg>
<svg x="113.20" y="585.10" width="76.80" height="50.70" viewBox="0 0 76.80 50.70" overflow="hidden">
<rect width="76.80" height="50.70" fill="#ccc" filter="url(#migf)"/>
<g filter="url(#soft)">
<path d="M44.6 9.9h1.2v1.2h-1.2zM71.0 23.7h1.0v1.0h-1.0zM16.5 11.2h0.8v0.8h-0.8zM53.2 10.8h1.2v1.2h-1.2zM5.4 9.8h0.7v0.7h-0.7zM59.1 18.6h0.9v0.9h-0.9zM25.0 32.3h0.8v0.8h-0.8zM16.0 21.8h0.8v0.8h-0.8zM8.5 41.7h1.0v1.0h-1.0zM51.1 44.7h0.8v0.8h-0.8zM29.1 21.4h0.8v0.8h-0.8zM51.4 0.3h0.9v0.9h-0.9zM41.1 17.5h0.6v0.6h-0.6zM54.1 0.5h0.9v0.9h-0.9zM11.8 1.8h0.7v0.7h-0.7zM5.0 7.6h1.0v1.0h-1.0zM55.9 18.4h1.0v1.0h-1.0zM36.5 25.3h1.1v1.1h-1.1zM23.9 44.1h1.0v1.0h-1.0zM52.5 0.3h0.7v0.7h-0.7zM2.5 17.5h1.2v1.2h-1.2zM67.3 42.5h0.7v0.7h-0.7zM54.2 39.3h1.1v1.1h-1.1zM60.8 7.1h0.7v0.7h-0.7zM60.9 37.4h1.1v1.1h-1.1zM34.3 45.1h0.7v0.7h-0.7zM73.5 44.8h0.8v0.8h-0.8zM5.2 27.8h1.0v1.0h-1.0zM26.9 2.9h0.8v0.8h-0.8zM63.3 4.6h1.2v1.2h-1.2zM19.2 10.4h0.7v0.7h-0.7zM75.3 45.7h0.8v0.8h-0.8zM7.3 33.1h1.1v1.1h-1.1zM0.9 32.1h1.1v1.1h-1.1zM35.2 28.9h1.1v1.1h-1.1zM18.3 13.9h1.0v1.0h-1.0zM42.4 27.1h0.8v0.8h-0.8zM72.0 14.6h1.0v1.0h-1.0zM68.7 20.3h0.6v0.6h-0.6zM16.9 3.4h0.7v0.7h-0.7zM9.3 17.4h0.8v0.8h-0.8zM34.4 33.7h1.0v1.0h-1.0zM52.8 18.5h1.0v1.0h-1.0zM42.2 6.5h0.9v0.9h-0.9zM24.4 34.3h1.0v1.0h-1.0zM18.5 22.1h0.9v0.9h-0.9zM22.8 2.1h0.6v0.6h-0.6zM76.2 37.5h0.9v0.9h-0.9zM51.2 13.6h1.0v1.0h-1.0zM73.0 39.2h0.9v0.9h-0.9zM75.5 46.8h0.6v0.6h-0.6zM31.6 22.9h0.8v0.8h-0.8zM47.3 7.3h1.0v1.0h-1.0zM65.9 3.1h1.0v1.0h-1.0zM20.4 32.4h1.0v1.0h-1.0zM75.0 40.5h0.8v0.8h-0.8zM56.1 7.4h1.0v1.0h-1.0zM32.0 13.4h0.7v0.7h-0.7zM16.6 40.4h0.7v0.7h-0.7zM17.8 9.7h0.7v0.7h-0.7zM56.1 29.8h1.0v1.0h-1.0zM69.1 22.8h0.6v0.6h-0.6zM14.5 26.2h1.0v1.0h-1.0zM70.5 25.9h0.7v0.7h-0.7zM45.5 47.4h0.8v0.8h-0.8zM71.5 45.8h0.9v0.9h-0.9zM36.9 6.5h0.7v0.7h-0.7zM3.1 31.0h1.0v1.0h-1.0zM76.3 30.5h1.2v1.2h-1.2zM30.9 6.8h0.6v0.6h-0.6zM22.1 26.9h1.2v1.2h-1.2zM22.8 11.9h1.0v1.0h-1.0zM29.8 28.3h0.7v0.7h-0.7zM65.5 46.6h1.1v1.1h-1.1zM71.9 16.9h0.6v0.6h-0.6zM23.4 45.5h0.9v0.9h-0.9zM15.4 7.7h0.7v0.7h-0.7zM33.7 46.9h1.1v1.1h-1.1zM58.2 38.3h0.7v0.7h-0.7zM59.7 11.4h0.9v0.9h-0.9zM2.6 45.2h0.7v0.7h-0.7zM45.5 33.6h1.0v1.0h-1.0zM52.4 18.7h1.1v1.1h-1.1zM72.1 31.3h1.2v1.2h-1.2zM65.3 2.8h1.0v1.0h-1.0zM7.0 33.5h0.8v0.8h-0.8zM65.6 2.3h1.2v1.2h-1.2zM3.3 2.9h0.6v0.6h-0.6zM9.6 50.0h1.1v1.1h-1.1zM70.4 9.4h1.0v1.0h-1.0zM61.1 36.9h0.8v0.8h-0.8zM74.6 36.9h1.0v1.0h-1.0zM21.9 20.1h1.1v1.1h-1.1zM39.7 24.7h1.2v1.2h-1.2zM32.3 43.5h0.6v0.6h-0.6zM40.7 36.1h0.6v0.6h-0.6zM53.5 14.5h1.0v1.0h-1.0zM47.9 6.9h1.2v1.2h-1.2zM18.6 6.9h0.9v0.9h-0.9zM4.9 5.1h1.1v1.1h-1.1zM7.5 27.4h1.1v1.1h-1.1zM34.9 41.3h1.1v1.1h-1.1zM12.6 3.9h1.1v1.1h-1.1zM66.5 43.2h1.0v1.0h-1.0zM39.2 48.6h1.0v1.0h-1.0zM58.6 46.2h0.6v0.6h-0.6zM56.9 29.6h0.6v0.6h-0.6zM19.6 36.3h0.9v0.9h-0.9zM43.2 14.6h0.9v0.9h-0.9zM67.5 49.7h0.9v0.9h-0.9zM56.2 4.4h0.7v0.7h-0.7zM43.0 41.9h0.7v0.7h-0.7zM11.3 25.3h0.8v0.8h-0.8zM10.8 8.0h0.9v0.9h-0.9zM60.9 8.7h1.1v1.1h-1.1zM5.7 12.7h1.0v1.0h-1.0zM0.5 16.3h0.7v0.7h-0.7zM17.7 45.0h0.7v0.7h-0.7zM55.3 46.1h0.7v0.7h-0.7zM66.2 16.3h1.1v1.1h-1.1zM44.6 17.8h1.1v1.1h-1.1zM53.4 16.2h0.9v0.9h-0.9zM22.6 14.5h1.2v1.2h-1.2zM74.9 8.0h1.1v1.1h-1.1zM54.8 0.6h0.7v0.7h-0.7zM33.5 45.0h1.1v1.1h-1.1zM19.3 22.6h1.2v1.2h-1.2zM16.1 5.3h0.8v0.8h-0.8zM52.3 44.2h1.1v1.1h-1.1zM0.9 8.9h0.7v0.7h-0.7zM45.8 20.6h1.2v1.2h-1.2zM47.3 31.2h1.0v1.0h-1.0zM15.7 45.4h1.1v1.1h-1.1zM63.2 39.7h0.7v0.7h-0.7zM4.1 18.5h1.0v1.0h-1.0zM15.4 44.1h1.1v1.1h-1.1zM53.5 24.5h0.7v0.7h-0.7zM62.2 8.8h0.9v0.9h-0.9zM58.2 32.2h0.7v0.7h-0.7zM67.5 16.3h0.9v0.9h-0.9zM33.7 35.6h0.6v0.6h-0.6zM49.0 24.7h1.1v1.1h-1.1zM28.1 29.0h1.2v1.2h-1.2zM4.5 40.2h0.9v0.9h-0.9zM23.0 13.9h0.7v0.7h-0.7zM64.8 10.3h1.2v1.2h-1.2zM39.7 14.5h1.1v1.1h-1.1zM44.6 44.8h0.7v0.7h-0.7zM53.1 1.4h0.7v0.7h-0.7zM31.8 15.9h0.8v0.8h-0.8zM43.7 37.9h0.8v0.8h-0.8zM39.1 39.6h0.7v0.7h-0.7zM76.6 1.2h0.8v0.8h-0.8zM63.4 11.9h0.8v0.8h-0.8zM13.1 49.4h1.1v1.1h-1.1zM6.2 27.3h0.7v0.7h-0.7zM1.4 11.2h1.0v1.0h-1.0zM40.6 14.6h0.9v0.9h-0.9zM6.3 17.4h0.7v0.7h-0.7zM63.3 19.4h1.0v1.0h-1.0zM25.8 21.1h0.9v0.9h-0.9zM19.9 27.7h1.1v1.1h-1.1zM5.7 10.1h0.6v0.6h-0.6zM37.5 5.6h0.9v0.9h-0.9zM12.4 26.7h0.8v0.8h-0.8zM57.5 41.3h1.2v1.2h-1.2zM35.6 45.1h1.1v1.1h-1.1zM25.8 49.7h1.2v1.2h-1.2zM12.1 38.1h1.0v1.0h-1.0zM47.3 36.0h0.8v0.8h-0.8zM64.1 36.6h0.7v0.7h-0.7zM74.2 37.2h0.6v0.6h-0.6zM2.5 8.6h1.0v1.0h-1.0zM55.5 47.2h1.1v1.1h-1.1zM15.7 9.8h0.7v0.7h-0.7zM30.0 21.5h0.8v0.8h-0.8zM63.1 31.1h1.1v1.1h-1.1zM66.2 38.8h0.9v0.9h-0.9zM31.4 27.2h0.9v0.9h-0.9zM51.4 43.2h1.0v1.0h-1.0zM19.5 28.6h0.9v0.9h-0.9zM9.4 5.4h0.9v0.9h-0.9zM72.3 35.6h0.6v0.6h-0.6zM70.4 36.7h1.0v1.0h-1.0zM0.5 15.7h0.8v0.8h-0.8zM37.1 6.2h1.0v1.0h-1.0zM47.0 32.5h0.9v0.9h-0.9zM42.8 5.7h1.1v1.1h-1.1zM66.7 43.2h1.1v1.1h-1.1zM18.6 14.9h0.6v0.6h-0.6zM60.3 43.6h1.2v1.2h-1.2zM46.1 40.5h1.1v1.1h-1.1zM9.3 3.5h1.1v1.1h-1.1zM74.5 36.3h1.0v1.0h-1.0zM30.4 43.5h0.8v0.8h-0.8zM4.2 40.7h0.6v0.6h-0.6zM55.0 33.0h0.7v0.7h-0.7zM33.5 13.8h1.1v1.1h-1.1zM59.7 16.7h0.7v0.7h-0.7zM26.3 22.3h1.0v1.0h-1.0zM72.8 16.3h0.7v0.7h-0.7zM48.1 21.6h1.0v1.0h-1.0zM50.9 27.7h1.1v1.1h-1.1zM15.0 39.7h0.7v0.7h-0.7zM36.8 28.2h0.9v0.9h-0.9zM8.6 23.3h0.8v0.8h-0.8zM21.3 21.4h0.8v0.8h-0.8zM15.9 34.8h1.2v1.2h-1.2zM72.8 9.1h0.7v0.7h-0.7zM31.2 30.1h1.0v1.0h-1.0zM45.3 25.0h1.2v1.2h-1.2zM73.8 40.7h0.8v0.8h-0.8zM58.9 1.8h1.2v1.2h-1.2zM53.9 46.9h0.9v0.9h-0.9zM54.6 12.7h1.2v1.2h-1.2zM13.7 0.5h0.8v0.8h-0.8zM51.0 27.2h1.1v1.1h-1.1zM52.5 39.6h1.2v1.2h-1.2zM5.1 5.4h0.8v0.8h-0.8zM10.3 28.0h1.0v1.0h-1.0z" fill="#3e3c50" fill-opacity="0.6"/>
<path d="M13.9 25.2h1.1v1.1h-1.1zM1.3 13.4h1.1v1.1h-1.1zM52.8 49.1h0.9v0.9h-0.9zM37.7 23.5h1.3v1.3h-1.3zM11.4 48.5h1.1v1.1h-1.1zM44.4 20.7h1.3v1.3h-1.3zM67.6 31.3h1.1v1.1h-1.1zM73.1 8.9h1.6v1.6h-1.6zM51.7 12.4h1.6v1.6h-1.6zM66.5 25.8h1.5v1.5h-1.5zM7.2 13.9h1.2v1.2h-1.2zM72.5 18.7h1.6v1.6h-1.6zM44.5 36.4h1.4v1.4h-1.4zM10.2 46.6h1.3v1.3h-1.3zM9.4 7.7h1.5v1.5h-1.5zM43.1 47.0h1.5v1.5h-1.5zM42.2 21.2h1.4v1.4h-1.4zM75.1 15.5h1.3v1.3h-1.3zM9.1 2.2h0.9v0.9h-0.9zM28.8 31.3h1.5v1.5h-1.5zM57.6 48.9h1.1v1.1h-1.1zM65.6 16.3h1.2v1.2h-1.2zM41.7 50.5h1.2v1.2h-1.2zM4.5 18.6h1.3v1.3h-1.3zM52.5 7.8h1.1v1.1h-1.1zM12.8 26.0h1.2v1.2h-1.2z" fill="#5a4ccc" fill-opacity="0.85"/>
<path d="M25.9,28.4 L25.0,29.1 L23.7,25.7 L22.7,22.6 L23.8,21.4 L26.0,25.6 L27.1,28.7ZM73.5,2.1 L73.8,0.6 L75.4,0.1 L76.2,1.2 L75.0,2.3ZM22.9,44.3 L23.5,43.0 L25.4,42.6 L26.7,42.4 L27.9,44.2 L26.0,44.3 L23.9,44.8ZM52.7,46.4 L51.4,45.6 L51.9,44.3 L52.8,44.1 L53.3,45.4ZM49.5,42.7 L49.2,41.0 L50.8,39.8 L52.6,41.1 L51.3,43.3ZM40.2,35.6 L37.6,35.6 L31.9,33.4 L30.7,31.5 L34.2,31.1 L37.6,32.7ZM57.8,49.6 L58.5,47.2 L60.3,47.3 L62.2,47.5 L60.8,48.8 L59.5,49.6ZM41.8,44.3 L41.7,43.1 L44.1,41.2 L45.5,41.5 L45.4,42.5 L44.7,43.6 L43.0,44.3Z" fill="#4a3cbc"/>
<path d="M66.8,4.2 L68.3,1.8 L71.2,1.3 L72.9,1.5 L70.1,3.6ZM41.7,51.9 L37.6,50.4 L34.9,47.3 L36.2,45.9 L40.0,49.1ZM70.6,18.9 L69.5,18.9 L68.2,19.2 L67.0,16.8 L68.0,16.4 L69.1,16.6 L70.1,17.6ZM13.2,51.9 L13.5,50.1 L15.3,46.8 L18.0,45.9 L18.5,46.7 L19.3,47.6 L15.2,50.9ZM10.5,19.6 L8.8,20.1 L7.3,19.2 L6.7,17.7 L7.9,16.7 L9.6,18.4ZM37.7,37.1 L35.3,36.2 L34.2,35.8 L32.7,34.4 L33.4,33.3 L35.3,34.3 L36.5,35.3ZM12.5,22.3 L11.9,22.7 L10.4,21.7 L9.4,19.8 L10.2,19.5 L11.6,20.1 L13.2,21.3ZM13.7,23.7 L14.1,21.8 L14.6,20.7 L15.5,20.8 L16.0,21.5 L15.0,22.5ZM1.0,21.5 L0.6,21.2 L1.0,19.0 L2.9,17.0 L3.7,17.3 L3.4,19.6 L1.8,22.1ZM13.0,38.9 L12.1,37.1 L11.6,33.2 L12.9,34.5 L13.8,37.2ZM55.1,5.9 L53.8,4.7 L53.0,2.9 L54.0,2.7 L55.3,4.4ZM68.5,19.8 L69.6,17.2 L73.1,14.8 L74.6,15.5 L74.3,17.9 L70.6,19.9ZM42.7,34.0 L42.4,32.4 L44.5,32.0 L46.0,33.1 L43.8,34.9ZM35.7,5.8 L34.4,5.9 L31.6,4.2 L31.7,3.0 L35.1,3.9ZM34.0,18.5 L36.4,17.4 L38.2,17.4 L38.4,18.6 L36.1,19.1ZM12.3,14.5 L11.3,15.4 L9.6,15.9 L8.8,15.4 L9.4,14.0 L10.7,12.6 L11.8,13.6ZM34.5,37.5 L35.2,35.7 L36.8,35.5 L37.4,35.7 L37.9,36.3 L37.2,37.0 L36.1,37.5ZM30.7,50.6 L30.1,50.2 L30.5,48.3 L31.7,47.0 L32.5,47.3 L32.4,48.9 L31.9,50.2Z" fill="#5244c6" fill-opacity="0.92"/>
</g>
<rect x="62.30" y="43.30" width="11.5" height="0.8" fill="#111"/>
<rect x="64.00" y="45.10" width="8" height="1.1" fill="#777" fill-opacity="0.55"/>
</svg>
<svg x="194.10" y="585.10" width="76.70" height="50.70" viewBox="0 0 76.70 50.70" overflow="hidden">
<rect width="76.70" height="50.70" fill="#ccc" filter="url(#migf)"/>
<g filter="url(#soft)">
<path d="M11.4 31.2h0.7v0.7h-0.7zM54.6 30.8h0.8v0.8h-0.8zM47.4 28.7h0.6v0.6h-0.6zM40.7 31.4h0.9v0.9h-0.9zM67.5 37.3h0.8v0.8h-0.8zM17.4 6.5h1.1v1.1h-1.1zM52.9 30.9h0.9v0.9h-0.9zM38.4 11.3h0.9v0.9h-0.9zM11.1 31.5h1.0v1.0h-1.0zM51.4 12.5h0.7v0.7h-0.7zM25.5 34.9h0.9v0.9h-0.9zM57.3 21.9h0.8v0.8h-0.8zM69.6 8.5h0.7v0.7h-0.7zM45.2 32.0h0.9v0.9h-0.9zM42.8 22.3h1.0v1.0h-1.0zM68.2 41.8h1.0v1.0h-1.0zM36.1 48.0h0.9v0.9h-0.9zM48.0 44.0h1.0v1.0h-1.0zM30.0 37.7h1.0v1.0h-1.0zM70.2 31.6h0.9v0.9h-0.9zM74.7 26.8h0.8v0.8h-0.8zM71.9 47.9h0.7v0.7h-0.7zM5.6 43.5h1.1v1.1h-1.1zM29.5 12.9h1.0v1.0h-1.0zM72.1 10.8h0.9v0.9h-0.9zM50.8 11.2h0.8v0.8h-0.8zM11.0 24.3h0.7v0.7h-0.7zM6.2 19.7h0.7v0.7h-0.7zM9.1 7.6h0.9v0.9h-0.9zM24.4 36.9h0.8v0.8h-0.8zM18.7 9.5h0.8v0.8h-0.8zM57.0 10.2h0.9v0.9h-0.9zM61.9 42.1h0.9v0.9h-0.9zM64.6 32.6h0.7v0.7h-0.7zM7.1 8.6h1.1v1.1h-1.1zM29.9 42.5h1.2v1.2h-1.2zM70.5 23.8h0.6v0.6h-0.6zM21.2 11.1h1.0v1.0h-1.0zM53.8 46.7h1.0v1.0h-1.0zM73.6 32.4h0.9v0.9h-0.9zM64.2 13.9h1.1v1.1h-1.1zM55.8 44.0h0.6v0.6h-0.6zM14.5 48.2h0.7v0.7h-0.7zM34.6 30.5h0.9v0.9h-0.9zM67.4 48.4h0.8v0.8h-0.8zM10.3 46.4h0.9v0.9h-0.9zM19.1 7.0h0.6v0.6h-0.6zM44.7 14.2h0.9v0.9h-0.9zM70.9 24.6h1.2v1.2h-1.2zM5.1 38.4h1.1v1.1h-1.1zM73.5 1.6h0.9v0.9h-0.9zM42.7 30.3h0.9v0.9h-0.9zM20.9 45.8h1.1v1.1h-1.1zM53.8 48.6h0.9v0.9h-0.9zM6.1 35.2h0.7v0.7h-0.7zM57.6 32.9h0.7v0.7h-0.7zM11.7 3.4h0.7v0.7h-0.7zM75.0 11.6h1.1v1.1h-1.1zM10.3 17.2h0.9v0.9h-0.9zM27.5 48.9h0.7v0.7h-0.7zM37.1 10.4h0.7v0.7h-0.7zM53.0 17.2h0.9v0.9h-0.9zM53.1 4.5h0.6v0.6h-0.6zM52.7 50.4h0.6v0.6h-0.6zM34.7 50.4h1.1v1.1h-1.1zM75.9 26.8h1.2v1.2h-1.2zM4.3 23.9h1.1v1.1h-1.1zM30.0 22.3h0.9v0.9h-0.9zM29.1 41.2h1.2v1.2h-1.2zM17.7 16.3h1.1v1.1h-1.1zM57.1 41.3h1.0v1.0h-1.0zM70.2 42.8h1.0v1.0h-1.0zM21.8 4.3h1.1v1.1h-1.1zM65.8 45.2h0.8v0.8h-0.8zM56.6 47.2h0.7v0.7h-0.7zM1.8 8.8h0.7v0.7h-0.7zM52.2 41.6h1.1v1.1h-1.1zM52.9 49.6h1.2v1.2h-1.2zM33.7 46.7h1.0v1.0h-1.0zM18.8 29.7h0.7v0.7h-0.7zM30.7 41.2h0.6v0.6h-0.6zM41.2 22.1h0.8v0.8h-0.8zM5.0 26.5h0.8v0.8h-0.8zM7.5 20.4h1.0v1.0h-1.0zM6.1 39.8h0.6v0.6h-0.6zM36.1 18.6h1.1v1.1h-1.1zM68.5 37.4h0.8v0.8h-0.8zM24.9 41.8h0.9v0.9h-0.9zM48.7 36.7h0.7v0.7h-0.7zM29.5 48.4h0.8v0.8h-0.8zM65.1 7.8h0.6v0.6h-0.6zM38.5 14.4h1.0v1.0h-1.0zM59.1 2.0h0.9v0.9h-0.9zM28.7 45.9h1.1v1.1h-1.1zM67.8 37.6h0.8v0.8h-0.8zM47.5 27.6h0.8v0.8h-0.8zM22.2 32.9h1.1v1.1h-1.1zM18.6 18.0h0.7v0.7h-0.7zM28.0 19.7h0.7v0.7h-0.7zM49.5 17.4h1.1v1.1h-1.1zM18.6 37.2h1.2v1.2h-1.2zM13.0 18.8h1.2v1.2h-1.2zM30.9 16.7h0.7v0.7h-0.7zM63.6 16.5h1.1v1.1h-1.1zM42.8 9.1h1.2v1.2h-1.2zM69.1 38.0h1.0v1.0h-1.0zM57.8 48.0h0.7v0.7h-0.7zM18.5 38.7h0.9v0.9h-0.9zM75.6 42.3h0.9v0.9h-0.9zM12.2 31.0h1.0v1.0h-1.0zM44.5 39.5h0.9v0.9h-0.9zM68.5 30.2h0.7v0.7h-0.7zM63.0 8.6h1.1v1.1h-1.1zM71.1 9.9h0.7v0.7h-0.7zM53.9 23.2h0.8v0.8h-0.8zM57.6 17.0h0.7v0.7h-0.7zM42.3 44.5h1.2v1.2h-1.2zM8.1 37.8h0.8v0.8h-0.8zM74.5 19.8h0.7v0.7h-0.7zM25.4 26.1h0.7v0.7h-0.7zM59.1 16.7h1.0v1.0h-1.0zM17.8 24.9h1.0v1.0h-1.0zM15.8 14.7h1.1v1.1h-1.1zM30.2 17.7h1.0v1.0h-1.0zM53.0 43.8h0.9v0.9h-0.9zM65.5 45.3h1.2v1.2h-1.2zM70.5 35.2h1.0v1.0h-1.0zM29.8 5.4h1.2v1.2h-1.2zM31.8 17.1h0.9v0.9h-0.9zM58.0 42.1h0.7v0.7h-0.7zM60.1 47.7h1.2v1.2h-1.2zM72.3 29.0h1.1v1.1h-1.1zM45.3 43.0h1.2v1.2h-1.2zM28.8 6.3h1.1v1.1h-1.1zM71.9 45.9h0.9v0.9h-0.9zM34.4 6.3h1.1v1.1h-1.1zM20.8 6.2h0.7v0.7h-0.7zM71.4 21.1h1.1v1.1h-1.1zM5.4 24.4h1.0v1.0h-1.0zM59.2 9.6h0.9v0.9h-0.9zM62.3 46.3h0.7v0.7h-0.7zM45.1 45.1h1.0v1.0h-1.0zM60.2 15.1h0.9v0.9h-0.9zM1.1 40.5h0.9v0.9h-0.9zM13.9 47.7h0.7v0.7h-0.7zM2.6 36.7h0.6v0.6h-0.6zM50.5 6.9h0.6v0.6h-0.6zM56.5 31.1h1.0v1.0h-1.0zM54.4 36.4h0.7v0.7h-0.7zM32.5 30.0h1.1v1.1h-1.1zM49.5 24.7h1.1v1.1h-1.1zM64.8 12.7h0.7v0.7h-0.7zM0.4 44.2h0.7v0.7h-0.7zM44.4 26.7h1.0v1.0h-1.0zM72.0 33.3h0.7v0.7h-0.7zM33.0 9.4h0.8v0.8h-0.8zM56.8 33.1h1.0v1.0h-1.0zM66.2 50.6h0.8v0.8h-0.8zM53.8 32.7h0.6v0.6h-0.6zM76.1 20.2h1.0v1.0h-1.0zM17.6 21.5h0.7v0.7h-0.7zM74.2 2.1h0.6v0.6h-0.6zM55.7 29.2h0.8v0.8h-0.8zM72.2 35.4h0.9v0.9h-0.9zM54.6 47.5h1.1v1.1h-1.1zM27.9 39.3h0.7v0.7h-0.7zM29.6 50.3h1.0v1.0h-1.0zM30.7 27.6h0.9v0.9h-0.9zM54.2 26.5h0.9v0.9h-0.9zM32.2 44.6h1.1v1.1h-1.1zM18.6 20.2h1.1v1.1h-1.1zM56.0 30.5h1.0v1.0h-1.0zM15.5 28.8h1.0v1.0h-1.0zM33.8 20.8h0.9v0.9h-0.9zM46.0 11.1h1.1v1.1h-1.1zM5.0 39.2h0.9v0.9h-0.9zM19.2 12.7h0.8v0.8h-0.8zM12.4 50.3h0.8v0.8h-0.8zM6.5 33.4h1.2v1.2h-1.2zM22.1 11.7h1.0v1.0h-1.0zM25.0 23.3h0.9v0.9h-0.9zM76.6 19.1h0.8v0.8h-0.8zM54.3 28.9h1.1v1.1h-1.1zM33.3 32.2h0.9v0.9h-0.9zM46.3 24.8h0.7v0.7h-0.7zM9.5 20.1h1.2v1.2h-1.2zM39.1 25.3h0.9v0.9h-0.9zM59.5 18.0h0.8v0.8h-0.8zM25.7 29.0h0.9v0.9h-0.9zM46.3 47.5h0.8v0.8h-0.8zM47.9 50.3h1.0v1.0h-1.0zM64.7 41.2h0.7v0.7h-0.7zM48.6 17.5h0.8v0.8h-0.8zM9.8 39.6h1.2v1.2h-1.2zM66.1 22.1h1.2v1.2h-1.2zM61.7 31.2h1.1v1.1h-1.1zM59.6 0.6h1.0v1.0h-1.0zM49.8 18.2h1.1v1.1h-1.1zM56.6 4.6h0.8v0.8h-0.8zM0.7 19.0h0.7v0.7h-0.7zM0.1 15.1h1.0v1.0h-1.0zM13.4 49.2h0.7v0.7h-0.7zM63.6 13.7h1.1v1.1h-1.1zM38.9 42.6h0.9v0.9h-0.9zM21.5 44.9h0.6v0.6h-0.6zM9.8 7.1h0.9v0.9h-0.9zM58.2 12.5h0.9v0.9h-0.9zM65.4 0.3h1.1v1.1h-1.1zM10.5 1.4h0.9v0.9h-0.9zM29.7 20.0h1.0v1.0h-1.0zM1.1 30.6h0.7v0.7h-0.7zM72.4 24.0h0.7v0.7h-0.7zM40.2 20.9h0.6v0.6h-0.6zM58.4 21.8h1.1v1.1h-1.1zM58.2 41.9h1.2v1.2h-1.2zM22.7 28.6h0.9v0.9h-0.9zM47.4 37.8h1.1v1.1h-1.1zM49.9 30.6h0.9v0.9h-0.9zM10.9 13.8h0.7v0.7h-0.7zM45.8 30.7h0.7v0.7h-0.7z" fill="#3e3c50" fill-opacity="0.6"/>
<path d="M29.0 43.9h1.0v1.0h-1.0zM41.2 26.0h1.2v1.2h-1.2zM21.9 48.3h1.3v1.3h-1.3zM38.5 3.9h0.9v0.9h-0.9zM36.0 13.4h1.4v1.4h-1.4zM54.4 3.1h1.2v1.2h-1.2zM23.9 32.9h1.3v1.3h-1.3zM66.0 2.0h1.2v1.2h-1.2zM55.8 8.4h0.9v0.9h-0.9zM34.2 11.9h0.9v0.9h-0.9zM65.1 37.6h1.4v1.4h-1.4zM66.9 37.3h1.2v1.2h-1.2zM58.6 47.2h1.6v1.6h-1.6zM67.1 40.1h1.6v1.6h-1.6zM72.4 32.0h1.2v1.2h-1.2zM53.1 49.4h1.0v1.0h-1.0zM33.3 7.0h1.0v1.0h-1.0zM43.9 9.5h1.0v1.0h-1.0zM44.5 28.1h1.2v1.2h-1.2zM1.9 6.8h1.3v1.3h-1.3zM4.9 5.5h1.1v1.1h-1.1zM72.5 38.8h1.5v1.5h-1.5z" fill="#5a4ccc" fill-opacity="0.85"/>
<path d="M37.5,35.0 L37.0,34.0 L37.0,31.7 L37.7,30.9 L38.9,32.5 L38.6,33.6ZM14.7,15.6 L12.9,16.6 L11.2,14.9 L11.2,13.1 L13.8,14.6ZM15.7,6.6 L14.5,5.3 L16.1,2.1 L16.8,3.3 L17.7,4.9ZM21.4,40.0 L20.3,40.4 L19.2,39.6 L19.6,38.9 L21.1,39.1ZM3.4,50.4 L2.6,49.8 L2.4,49.1 L3.1,46.9 L3.7,47.0 L4.6,48.8 L4.7,49.7ZM53.3,13.7 L52.0,10.3 L53.6,7.1 L54.6,8.9 L54.7,11.3Z" fill="#4a3cbc"/>
<path d="M64.1,6.8 L60.1,7.1 L55.9,6.1 L56.1,4.9 L60.3,5.3ZM56.6,32.9 L56.7,31.9 L57.7,30.7 L58.4,31.1 L58.5,32.8ZM43.7,22.1 L41.8,21.7 L40.9,21.0 L40.2,19.6 L40.2,18.5 L41.9,19.5 L43.5,20.5ZM50.4,3.2 L49.3,3.7 L48.7,2.7 L47.5,1.1 L48.2,1.0 L49.9,1.1 L50.1,1.6ZM52.8,41.4 L50.9,41.4 L49.3,41.0 L49.4,40.1 L50.1,39.0 L52.1,40.1ZM15.1,14.5 L14.2,12.8 L15.0,12.1 L15.8,11.4 L17.0,11.4 L17.1,13.0 L16.1,13.5ZM73.5,34.2 L72.3,34.7 L71.9,33.8 L71.6,32.9 L72.5,32.8 L73.5,33.3ZM52.9,23.9 L51.5,25.1 L48.7,23.5 L48.8,22.2 L52.2,22.3ZM67.3,23.2 L67.0,23.8 L64.8,23.7 L64.1,23.7 L64.1,23.1 L65.5,22.4 L67.3,22.8ZM44.8,11.7 L43.3,10.8 L42.4,9.9 L41.7,8.8 L41.9,8.0 L43.3,8.7 L44.4,10.4ZM15.6,33.0 L16.3,31.6 L17.8,31.6 L19.5,31.3 L20.5,32.3 L18.1,32.9 L16.5,33.2ZM62.1,6.4 L60.9,6.2 L61.8,1.4 L62.7,-0.3 L63.3,3.5 L63.4,6.2ZM71.1,20.4 L71.3,19.9 L72.8,19.9 L72.9,20.4 L72.8,21.0 L71.3,21.3ZM12.0,15.0 L10.5,14.7 L9.0,12.7 L9.8,12.4 L11.3,13.3ZM13.5,33.6 L12.2,33.3 L11.0,32.4 L9.5,30.7 L11.1,31.3 L11.9,31.4 L12.5,32.4ZM21.5,32.9 L19.6,32.1 L19.0,29.8 L19.8,28.6 L21.7,31.6Z" fill="#5244c6" fill-opacity="0.92"/>
</g>
<rect x="62.20" y="43.30" width="11.5" height="0.8" fill="#111"/>
<rect x="63.90" y="45.10" width="8" height="1.1" fill="#777" fill-opacity="0.55"/>
</svg>
<svg x="275.30" y="585.10" width="75.90" height="50.70" viewBox="0 0 75.90 50.70" overflow="hidden">
<rect width="75.90" height="50.70" fill="#ccc" filter="url(#migf)"/>
<g filter="url(#soft)">
<path d="M74.3 23.1h1.0v1.0h-1.0zM55.8 10.9h0.6v0.6h-0.6zM45.7 6.2h0.8v0.8h-0.8zM67.5 44.2h0.7v0.7h-0.7zM6.2 11.3h1.1v1.1h-1.1zM1.9 11.4h0.7v0.7h-0.7zM9.7 26.5h0.7v0.7h-0.7zM31.1 37.2h1.0v1.0h-1.0zM31.5 39.9h0.9v0.9h-0.9zM62.8 12.6h0.8v0.8h-0.8zM44.0 48.0h1.0v1.0h-1.0zM36.0 12.7h0.8v0.8h-0.8zM16.4 50.0h1.1v1.1h-1.1zM67.9 26.8h1.0v1.0h-1.0zM22.5 24.4h0.7v0.7h-0.7zM31.9 12.8h0.7v0.7h-0.7zM69.8 4.9h1.1v1.1h-1.1zM53.1 4.6h0.9v0.9h-0.9zM75.6 50.0h0.9v0.9h-0.9zM58.6 35.9h0.8v0.8h-0.8zM41.7 30.3h0.8v0.8h-0.8zM62.2 22.5h1.0v1.0h-1.0zM4.9 22.6h0.6v0.6h-0.6zM49.1 44.2h0.9v0.9h-0.9zM42.9 31.6h0.7v0.7h-0.7zM29.3 29.3h1.0v1.0h-1.0zM28.8 24.2h0.8v0.8h-0.8zM42.1 34.3h0.8v0.8h-0.8zM52.0 43.0h0.9v0.9h-0.9zM74.4 15.7h1.2v1.2h-1.2zM13.8 18.4h1.1v1.1h-1.1zM2.5 31.2h1.1v1.1h-1.1zM71.6 34.6h0.8v0.8h-0.8zM25.2 32.0h0.6v0.6h-0.6zM2.1 44.7h1.0v1.0h-1.0zM12.4 21.7h0.8v0.8h-0.8zM66.0 14.5h1.0v1.0h-1.0zM56.5 16.2h0.8v0.8h-0.8zM39.6 20.3h1.0v1.0h-1.0zM24.9 40.3h0.9v0.9h-0.9zM10.3 39.3h1.1v1.1h-1.1zM51.7 27.7h1.1v1.1h-1.1zM70.9 0.5h0.9v0.9h-0.9zM1.4 16.9h0.7v0.7h-0.7zM35.0 34.3h1.1v1.1h-1.1zM19.8 0.6h1.2v1.2h-1.2zM59.4 27.9h0.7v0.7h-0.7zM4.0 47.4h0.9v0.9h-0.9zM65.3 39.7h1.1v1.1h-1.1zM61.1 12.8h0.7v0.7h-0.7zM32.9 38.9h1.1v1.1h-1.1zM57.5 29.4h0.9v0.9h-0.9zM14.7 33.8h1.0v1.0h-1.0zM39.0 36.8h1.2v1.2h-1.2zM71.6 5.4h0.8v0.8h-0.8zM46.5 35.0h0.8v0.8h-0.8zM70.6 23.4h1.1v1.1h-1.1zM4.0 14.2h0.6v0.6h-0.6zM60.0 26.5h1.2v1.2h-1.2zM46.1 16.5h0.8v0.8h-0.8zM28.5 10.0h0.7v0.7h-0.7zM49.3 15.9h0.9v0.9h-0.9zM53.8 13.9h0.9v0.9h-0.9zM24.6 16.4h1.0v1.0h-1.0zM7.5 20.3h0.7v0.7h-0.7zM50.8 15.1h1.2v1.2h-1.2zM36.6 33.6h0.9v0.9h-0.9zM62.2 35.5h1.0v1.0h-1.0zM2.4 7.2h1.1v1.1h-1.1zM31.3 49.5h1.0v1.0h-1.0zM62.5 37.8h1.2v1.2h-1.2zM49.9 47.5h0.9v0.9h-0.9zM20.3 5.6h0.8v0.8h-0.8zM67.9 33.4h0.6v0.6h-0.6zM2.1 23.3h0.9v0.9h-0.9zM27.4 1.0h0.8v0.8h-0.8zM66.6 36.8h1.1v1.1h-1.1zM20.5 33.9h0.7v0.7h-0.7zM22.9 48.5h0.7v0.7h-0.7zM22.2 11.0h1.1v1.1h-1.1zM52.2 30.0h1.1v1.1h-1.1zM35.2 46.4h1.1v1.1h-1.1zM22.7 12.0h0.9v0.9h-0.9zM33.9 40.0h1.0v1.0h-1.0zM56.4 30.6h0.8v0.8h-0.8zM56.5 49.8h1.0v1.0h-1.0zM54.0 11.8h0.7v0.7h-0.7zM34.0 30.1h1.0v1.0h-1.0zM36.0 27.6h0.7v0.7h-0.7zM3.6 6.2h0.8v0.8h-0.8zM18.5 7.2h0.8v0.8h-0.8zM25.6 41.8h1.2v1.2h-1.2zM75.4 37.4h0.6v0.6h-0.6zM18.1 50.6h1.0v1.0h-1.0zM65.1 10.1h0.7v0.7h-0.7zM7.4 26.6h0.8v0.8h-0.8zM35.7 7.0h0.6v0.6h-0.6zM29.3 47.0h1.0v1.0h-1.0zM43.4 3.2h0.9v0.9h-0.9zM28.0 32.0h0.8v0.8h-0.8zM60.8 13.9h1.0v1.0h-1.0zM0.4 7.4h1.1v1.1h-1.1zM64.8 15.4h0.7v0.7h-0.7zM72.9 30.0h0.7v0.7h-0.7zM75.1 28.7h0.8v0.8h-0.8zM38.4 18.7h0.9v0.9h-0.9zM31.4 19.1h1.0v1.0h-1.0zM23.2 42.1h1.0v1.0h-1.0zM71.6 7.8h1.1v1.1h-1.1zM54.1 9.3h1.1v1.1h-1.1zM38.1 9.0h0.7v0.7h-0.7zM75.8 40.7h0.7v0.7h-0.7zM67.7 1.9h1.0v1.0h-1.0zM48.0 44.1h1.1v1.1h-1.1zM55.5 42.8h0.9v0.9h-0.9zM70.9 21.8h1.0v1.0h-1.0zM57.0 20.5h1.1v1.1h-1.1zM54.5 8.1h1.0v1.0h-1.0zM36.9 30.2h0.6v0.6h-0.6zM53.2 20.1h1.0v1.0h-1.0zM18.3 1.0h0.9v0.9h-0.9zM48.5 39.5h0.9v0.9h-0.9zM66.8 8.3h0.7v0.7h-0.7zM30.6 33.3h1.1v1.1h-1.1zM4.9 30.3h0.8v0.8h-0.8zM40.1 5.0h0.7v0.7h-0.7zM48.4 17.3h1.2v1.2h-1.2zM38.5 17.7h0.7v0.7h-0.7zM39.9 25.9h0.8v0.8h-0.8zM73.6 25.8h1.1v1.1h-1.1zM51.9 42.2h0.7v0.7h-0.7zM73.1 30.3h0.7v0.7h-0.7zM45.1 2.9h0.9v0.9h-0.9zM7.4 2.5h0.9v0.9h-0.9zM63.7 38.5h1.2v1.2h-1.2zM59.1 31.3h1.0v1.0h-1.0zM72.8 6.6h0.9v0.9h-0.9zM41.4 0.7h1.1v1.1h-1.1zM51.6 17.2h1.1v1.1h-1.1zM36.2 36.8h0.9v0.9h-0.9zM65.3 25.6h0.7v0.7h-0.7zM57.9 11.7h0.9v0.9h-0.9zM70.8 36.7h0.6v0.6h-0.6zM63.7 49.0h0.9v0.9h-0.9zM19.3 23.5h0.9v0.9h-0.9zM3.5 42.9h1.0v1.0h-1.0zM30.4 41.3h0.7v0.7h-0.7zM67.5 43.6h0.9v0.9h-0.9zM8.6 22.7h0.7v0.7h-0.7zM41.6 7.2h0.9v0.9h-0.9zM31.1 16.4h0.9v0.9h-0.9zM40.6 44.7h0.9v0.9h-0.9zM43.6 36.9h0.7v0.7h-0.7zM40.8 9.1h0.9v0.9h-0.9zM38.6 45.9h1.2v1.2h-1.2zM23.1 43.3h0.8v0.8h-0.8zM19.0 30.2h0.8v0.8h-0.8zM71.8 45.7h0.6v0.6h-0.6zM74.7 45.0h0.7v0.7h-0.7zM50.1 28.3h0.7v0.7h-0.7zM53.5 0.5h0.8v0.8h-0.8zM38.5 40.7h0.8v0.8h-0.8zM21.8 23.8h0.9v0.9h-0.9zM30.4 4.9h1.1v1.1h-1.1zM15.6 9.5h0.7v0.7h-0.7zM73.2 3.9h1.0v1.0h-1.0zM43.4 11.5h1.1v1.1h-1.1zM13.6 5.8h0.6v0.6h-0.6zM50.2 2.7h1.0v1.0h-1.0zM49.8 5.2h1.2v1.2h-1.2zM10.4 16.6h1.1v1.1h-1.1zM20.3 39.5h1.0v1.0h-1.0zM57.6 19.0h0.8v0.8h-0.8zM35.7 31.6h0.6v0.6h-0.6zM7.0 13.8h0.6v0.6h-0.6zM57.3 49.3h0.9v0.9h-0.9zM25.2 21.6h1.1v1.1h-1.1zM54.9 28.3h1.0v1.0h-1.0zM69.4 31.4h0.7v0.7h-0.7zM67.5 2.2h0.7v0.7h-0.7zM14.7 19.4h0.9v0.9h-0.9zM62.7 12.9h1.1v1.1h-1.1zM75.5 44.3h1.1v1.1h-1.1zM43.0 23.0h0.7v0.7h-0.7zM29.1 11.4h0.8v0.8h-0.8zM5.3 48.9h0.9v0.9h-0.9zM7.0 6.4h0.9v0.9h-0.9zM5.9 34.1h0.8v0.8h-0.8zM48.6 17.2h0.8v0.8h-0.8zM66.9 23.2h1.1v1.1h-1.1zM51.3 37.9h1.0v1.0h-1.0zM42.6 15.9h1.0v1.0h-1.0zM2.8 12.5h1.1v1.1h-1.1zM64.1 1.1h1.1v1.1h-1.1zM34.1 10.8h1.2v1.2h-1.2zM43.7 12.6h1.2v1.2h-1.2zM5.0 35.8h1.0v1.0h-1.0zM56.0 24.0h0.8v0.8h-0.8zM16.7 38.5h0.9v0.9h-0.9zM2.1 35.2h1.0v1.0h-1.0zM60.0 24.1h1.0v1.0h-1.0zM46.0 40.1h0.8v0.8h-0.8zM16.6 42.6h0.8v0.8h-0.8zM1.5 34.5h1.1v1.1h-1.1zM65.6 49.9h0.6v0.6h-0.6zM71.7 14.4h0.7v0.7h-0.7zM21.5 4.6h0.6v0.6h-0.6zM11.2 28.2h0.6v0.6h-0.6zM57.7 0.1h0.7v0.7h-0.7zM12.7 5.9h0.6v0.6h-0.6zM38.6 3.5h0.7v0.7h-0.7zM0.1 42.2h0.7v0.7h-0.7zM31.2 39.2h0.7v0.7h-0.7zM27.5 42.3h1.0v1.0h-1.0zM10.3 26.4h1.1v1.1h-1.1zM40.9 13.8h0.7v0.7h-0.7zM68.7 19.9h0.7v0.7h-0.7zM20.9 30.3h1.1v1.1h-1.1zM50.1 30.8h0.8v0.8h-0.8zM17.8 34.2h0.8v0.8h-0.8z" fill="#3e3c50" fill-opacity="0.6"/>
<path d="M22.6 37.7h1.5v1.5h-1.5zM64.3 6.1h1.4v1.4h-1.4zM40.9 3.4h1.5v1.5h-1.5zM41.3 24.5h0.9v0.9h-0.9zM42.2 24.4h1.5v1.5h-1.5zM68.9 6.7h1.5v1.5h-1.5zM30.0 0.8h1.4v1.4h-1.4zM61.6 40.2h1.0v1.0h-1.0zM56.0 47.1h1.6v1.6h-1.6zM27.5 42.7h1.0v1.0h-1.0zM67.3 29.7h1.4v1.4h-1.4zM57.9 13.1h1.1v1.1h-1.1zM4.9 36.1h0.9v0.9h-0.9zM1.6 33.1h1.2v1.2h-1.2zM75.4 6.9h1.3v1.3h-1.3zM14.7 40.7h1.6v1.6h-1.6z" fill="#5a4ccc" fill-opacity="0.85"/>
<path d="M40.7,47.3 L39.6,45.5 L40.3,43.4 L41.6,43.5 L42.0,45.6ZM53.3,45.6 L52.5,45.0 L51.6,43.2 L52.4,42.8 L53.3,43.3 L54.3,44.9ZM31.1,43.3 L31.5,42.4 L33.1,42.3 L34.0,42.3 L34.3,43.4 L33.5,44.0 L32.3,44.2ZM25.6,42.0 L25.1,41.1 L25.3,39.0 L26.6,37.3 L27.2,37.6 L27.3,38.9 L26.2,41.2ZM69.2,40.3 L68.6,39.5 L69.1,37.6 L69.8,37.5 L70.4,37.7 L70.2,39.2ZM74.2,21.5 L72.9,21.2 L72.3,18.3 L72.4,16.3 L73.1,16.9 L74.5,18.7 L75.2,21.0ZM7.1,25.8 L7.0,25.2 L8.5,24.5 L10.5,23.8 L10.9,24.8 L9.0,25.9 L7.2,26.5Z" fill="#4a3cbc"/>
<path d="M72.4,7.8 L71.6,7.2 L71.0,6.8 L71.6,5.8 L72.4,5.0 L73.2,5.7 L73.6,7.7ZM75.1,36.2 L73.9,34.9 L73.6,33.8 L73.8,31.9 L74.7,33.5 L75.5,34.6ZM38.3,6.4 L40.4,5.3 L42.2,5.5 L41.9,6.4 L40.4,7.0ZM70.6,2.9 L70.9,2.3 L71.7,0.3 L72.9,0.3 L73.4,1.0 L72.9,1.8 L71.8,2.8ZM20.4,34.1 L20.3,32.7 L22.1,32.1 L22.7,32.5 L22.8,33.6 L22.1,34.5ZM17.3,50.5 L16.4,49.9 L16.3,49.1 L17.0,48.3 L17.6,49.5ZM71.0,17.7 L70.1,17.6 L69.6,17.2 L69.5,16.4 L70.1,16.4 L71.0,16.7ZM22.0,6.0 L21.2,4.9 L22.0,3.0 L23.0,2.8 L22.8,4.9ZM2.8,21.7 L2.8,21.1 L4.3,20.8 L4.9,21.3 L5.6,22.0 L4.4,22.4 L3.2,22.7Z" fill="#5244c6" fill-opacity="0.92"/>
</g>
<rect x="61.40" y="43.30" width="11.5" height="0.8" fill="#111"/>
<rect x="63.10" y="45.10" width="8" height="1.1" fill="#777" fill-opacity="0.55"/>
</svg>
<svg x="32.80" y="638.10" width="76.20" height="50.70" viewBox="0 0 76.20 50.70" overflow="hidden">
<rect width="76.20" height="50.70" fill="#ccc" filter="url(#invf)"/>
<g filter="url(#soft)">
<path d="M71.2 19.7h1.1v1.1h-1.1zM18.9 24.4h0.8v0.8h-0.8zM41.3 3.8h0.9v0.9h-0.9zM24.1 2.0h1.1v1.1h-1.1zM69.5 7.6h1.0v1.0h-1.0zM40.3 21.6h1.0v1.0h-1.0zM50.4 14.1h0.8v0.8h-0.8zM38.7 50.4h1.2v1.2h-1.2zM59.2 23.2h1.1v1.1h-1.1zM74.6 44.8h0.7v0.7h-0.7zM31.3 11.5h0.9v0.9h-0.9zM65.1 25.1h0.8v0.8h-0.8zM12.6 7.1h1.1v1.1h-1.1zM72.5 45.1h0.6v0.6h-0.6zM20.4 7.1h0.9v0.9h-0.9zM15.4 24.7h0.9v0.9h-0.9zM48.1 26.1h0.9v0.9h-0.9zM3.4 47.8h0.9v0.9h-0.9zM66.3 16.4h0.7v0.7h-0.7zM75.5 25.0h0.7v0.7h-0.7zM73.4 47.1h0.7v0.7h-0.7zM72.4 6.6h0.7v0.7h-0.7zM11.3 44.4h1.0v1.0h-1.0zM42.3 35.4h0.8v0.8h-0.8zM4.7 4.0h0.7v0.7h-0.7zM44.6 3.7h0.6v0.6h-0.6zM15.3 0.5h0.6v0.6h-0.6zM10.4 6.1h0.8v0.8h-0.8zM64.8 33.9h0.6v0.6h-0.6zM5.4 17.1h0.9v0.9h-0.9zM34.6 27.3h1.0v1.0h-1.0zM48.4 12.6h0.8v0.8h-0.8zM75.7 26.5h1.1v1.1h-1.1zM70.7 41.1h1.0v1.0h-1.0zM56.4 14.7h0.7v0.7h-0.7zM29.8 9.5h0.7v0.7h-0.7zM8.5 8.9h0.6v0.6h-0.6zM10.4 37.3h0.6v0.6h-0.6zM53.9 35.8h0.7v0.7h-0.7zM36.4 30.5h1.2v1.2h-1.2zM46.5 6.9h0.6v0.6h-0.6zM13.3 7.0h1.1v1.1h-1.1zM64.5 5.5h1.1v1.1h-1.1zM68.9 11.2h0.9v0.9h-0.9zM17.8 21.5h1.1v1.1h-1.1zM15.4 25.5h1.0v1.0h-1.0zM66.2 48.8h1.1v1.1h-1.1zM30.6 17.6h1.1v1.1h-1.1zM65.6 41.0h1.0v1.0h-1.0zM72.8 6.7h0.7v0.7h-0.7zM58.0 13.9h1.0v1.0h-1.0zM44.3 31.2h0.8v0.8h-0.8zM73.4 28.5h0.6v0.6h-0.6zM24.3 26.3h1.1v1.1h-1.1zM46.6 48.1h0.8v0.8h-0.8zM4.2 22.8h1.1v1.1h-1.1zM41.2 43.1h1.1v1.1h-1.1zM68.4 25.3h0.6v0.6h-0.6zM43.5 5.0h0.8v0.8h-0.8zM17.8 18.3h0.9v0.9h-0.9zM52.2 48.5h1.1v1.1h-1.1zM62.5 8.0h0.9v0.9h-0.9zM29.1 22.2h0.7v0.7h-0.7zM34.8 48.7h1.1v1.1h-1.1zM63.1 4.9h1.1v1.1h-1.1zM30.8 17.4h0.9v0.9h-0.9zM24.5 13.0h1.1v1.1h-1.1zM44.7 23.3h0.9v0.9h-0.9zM5.4 4.7h0.6v0.6h-0.6zM27.1 44.5h0.6v0.6h-0.6zM22.3 44.4h0.7v0.7h-0.7zM38.6 45.6h1.1v1.1h-1.1zM29.9 15.3h0.8v0.8h-0.8zM25.1 50.0h0.9v0.9h-0.9zM33.4 47.4h0.8v0.8h-0.8zM17.8 26.1h0.7v0.7h-0.7zM71.7 0.1h0.8v0.8h-0.8zM2.4 10.9h1.1v1.1h-1.1zM11.7 39.3h1.0v1.0h-1.0zM3.9 48.7h0.6v0.6h-0.6zM63.2 48.4h0.8v0.8h-0.8zM28.9 19.3h1.0v1.0h-1.0zM47.9 8.2h0.7v0.7h-0.7zM11.8 4.1h0.7v0.7h-0.7zM37.6 6.7h1.0v1.0h-1.0zM23.6 48.1h0.6v0.6h-0.6zM47.4 23.0h1.0v1.0h-1.0zM2.1 9.4h1.2v1.2h-1.2zM35.6 18.2h0.7v0.7h-0.7zM44.6 49.1h1.0v1.0h-1.0zM72.9 32.3h0.6v0.6h-0.6zM47.1 28.3h1.2v1.2h-1.2zM60.4 35.7h0.7v0.7h-0.7zM33.4 38.4h0.9v0.9h-0.9zM44.4 4.2h0.9v0.9h-0.9zM6.8 1.1h1.0v1.0h-1.0zM31.3 10.4h0.9v0.9h-0.9zM6.0 31.9h1.2v1.2h-1.2zM61.0 44.4h1.0v1.0h-1.0zM72.9 21.3h0.7v0.7h-0.7z" fill="#3e3c50" fill-opacity="0.6"/>
<path d="M13.7 0.5h1.0v1.0h-1.0zM8.8 8.3h1.4v1.4h-1.4zM28.6 16.9h1.0v1.0h-1.0zM58.4 13.0h1.5v1.5h-1.5zM7.6 0.6h1.5v1.5h-1.5zM37.1 43.1h1.4v1.4h-1.4zM53.8 13.2h1.4v1.4h-1.4zM7.8 46.2h1.5v1.5h-1.5zM48.2 5.9h1.1v1.1h-1.1zM34.8 6.5h1.6v1.6h-1.6zM70.5 24.5h1.1v1.1h-1.1zM38.6 50.3h1.2v1.2h-1.2zM56.5 23.0h1.0v1.0h-1.0zM23.0 21.7h1.4v1.4h-1.4zM29.5 11.3h1.0v1.0h-1.0zM71.3 42.7h1.2v1.2h-1.2zM57.3 20.9h1.1v1.1h-1.1zM5.8 31.8h0.9v0.9h-0.9zM68.7 7.8h1.5v1.5h-1.5zM30.0 34.3h1.0v1.0h-1.0zM15.6 39.1h1.3v1.3h-1.3zM42.6 18.3h1.3v1.3h-1.3z" fill="#5a4ccc" fill-opacity="0.85"/>
<path d="M71.8,49.3 L72.3,47.5 L73.7,45.5 L76.0,47.2 L75.5,48.7 L73.1,50.1ZM15.5,24.6 L11.8,25.6 L4.1,23.8 L7.8,22.1 L14.4,23.0ZM10.7,34.7 L8.9,34.4 L7.0,31.2 L6.3,28.6 L7.9,29.9 L8.8,30.7 L10.7,32.9ZM11.5,45.2 L9.5,46.5 L7.0,45.7 L6.5,43.5 L8.1,42.1 L10.0,43.5ZM66.8,16.2 L65.5,14.9 L65.6,13.3 L66.9,12.0 L67.9,12.9 L67.7,14.7ZM44.4,16.5 L45.3,13.9 L51.5,11.9 L53.7,12.3 L51.9,14.2 L47.0,16.8ZM1.1,9.3 L0.1,9.3 L0.0,5.6 L1.2,5.3 L2.7,5.1 L3.3,7.3 L2.5,9.1ZM67.4,25.3 L67.4,24.0 L69.9,23.0 L70.6,23.9 L70.1,25.3 L68.6,25.7ZM-2.3,5.8 L3.2,1.6 L8.5,-0.3 L10.8,0.1 L6.8,3.1 L3.7,5.0ZM53.4,21.8 L51.4,20.0 L49.1,17.6 L48.1,12.4 L50.1,13.2 L51.3,12.7 L53.9,18.3ZM10.9,36.2 L8.3,36.2 L6.9,34.6 L8.5,33.4 L10.7,34.5ZM58.0,32.2 L56.3,33.0 L53.5,29.9 L54.8,28.3 L57.8,30.2ZM15.4,21.2 L15.4,19.7 L16.8,16.1 L18.6,15.5 L19.3,15.5 L18.8,18.5 L17.5,19.7Z" fill="#4a3cbc"/>
<path d="M60.3,30.8 L60.0,29.1 L59.9,27.3 L61.2,26.9 L62.4,26.9 L62.6,28.8 L62.4,31.4ZM50.5,6.5 L52.1,4.9 L54.9,5.0 L56.1,5.6 L54.0,7.3 L51.8,7.7ZM40.5,35.4 L39.1,34.3 L40.0,30.7 L41.1,29.5 L41.2,34.0ZM22.1,28.3 L20.5,27.6 L24.1,24.0 L25.7,21.7 L27.5,24.0 L25.2,27.0 L23.7,28.2ZM17.2,42.5 L10.9,43.7 L7.8,44.3 L4.6,42.6 L5.9,40.8 L13.0,40.3ZM47.3,8.7 L46.5,6.3 L45.8,3.3 L46.8,1.9 L48.7,2.8 L49.0,7.4ZM28.7,8.6 L25.5,8.7 L23.6,7.8 L22.4,5.9 L23.9,5.7 L26.9,7.0ZM64.0,23.3 L63.2,22.0 L65.4,20.3 L66.3,21.4 L66.3,23.1ZM30.3,43.4 L29.0,41.8 L28.7,38.7 L30.0,35.2 L31.1,35.1 L32.7,38.7 L32.1,42.2Z" fill="#5244c6" fill-opacity="0.92"/>
</g>
<rect x="61.70" y="43.30" width="11.5" height="0.8" fill="#111"/>
<rect x="63.40" y="45.10" width="8" height="1.1" fill="#777" fill-opacity="0.55"/>
</svg>
<svg x="113.20" y="638.10" width="76.80" height="50.70" viewBox="0 0 76.80 50.70" overflow="hidden">
<rect width="76.80" height="50.70" fill="#ccc" filter="url(#invf)"/>
<g filter="url(#soft)">
<path d="M63.5 10.8h1.2v1.2h-1.2zM37.9 20.2h1.0v1.0h-1.0zM13.0 9.8h0.9v0.9h-0.9zM17.6 34.0h0.8v0.8h-0.8zM29.5 14.1h0.7v0.7h-0.7zM55.0 45.8h0.8v0.8h-0.8zM61.8 15.9h1.1v1.1h-1.1zM18.3 28.8h0.8v0.8h-0.8zM66.9 38.6h0.7v0.7h-0.7zM7.6 23.3h0.7v0.7h-0.7zM18.3 48.2h1.2v1.2h-1.2zM1.3 1.1h1.0v1.0h-1.0zM72.8 45.0h1.0v1.0h-1.0zM56.8 24.5h0.9v0.9h-0.9zM65.8 5.5h1.0v1.0h-1.0zM55.3 7.9h1.1v1.1h-1.1zM12.9 49.1h1.1v1.1h-1.1zM35.0 29.6h1.2v1.2h-1.2zM28.2 10.3h1.0v1.0h-1.0zM69.4 7.9h1.1v1.1h-1.1zM29.9 34.8h0.9v0.9h-0.9zM73.0 29.2h1.2v1.2h-1.2zM73.9 6.5h1.2v1.2h-1.2zM58.2 7.3h0.9v0.9h-0.9zM20.9 2.4h0.6v0.6h-0.6zM27.9 44.3h0.6v0.6h-0.6zM45.0 44.3h0.8v0.8h-0.8zM55.2 30.1h1.1v1.1h-1.1zM37.0 49.8h0.8v0.8h-0.8zM16.3 6.2h0.8v0.8h-0.8zM9.1 47.7h0.7v0.7h-0.7zM64.5 39.1h0.9v0.9h-0.9zM3.9 10.3h1.2v1.2h-1.2zM31.8 39.6h0.7v0.7h-0.7zM3.6 18.3h0.8v0.8h-0.8zM15.8 32.5h0.9v0.9h-0.9zM43.0 16.0h0.8v0.8h-0.8zM20.6 28.0h0.8v0.8h-0.8zM50.0 48.8h0.8v0.8h-0.8zM45.5 4.8h1.1v1.1h-1.1zM40.9 30.1h0.9v0.9h-0.9zM8.8 44.5h0.6v0.6h-0.6zM14.8 24.5h1.2v1.2h-1.2zM53.7 45.7h0.8v0.8h-0.8zM42.3 30.4h0.7v0.7h-0.7zM7.2 17.2h0.7v0.7h-0.7zM0.6 9.0h1.1v1.1h-1.1zM47.1 38.0h0.9v0.9h-0.9zM37.0 45.1h0.8v0.8h-0.8zM20.0 14.7h0.6v0.6h-0.6zM1.4 13.8h1.0v1.0h-1.0zM15.1 24.2h0.8v0.8h-0.8zM57.7 12.1h0.9v0.9h-0.9zM57.4 36.5h1.1v1.1h-1.1zM1.2 23.7h0.7v0.7h-0.7zM68.4 12.6h1.1v1.1h-1.1zM39.7 38.9h1.1v1.1h-1.1zM66.2 45.0h0.8v0.8h-0.8zM51.8 46.5h1.1v1.1h-1.1zM34.0 42.0h1.1v1.1h-1.1zM34.0 22.4h0.9v0.9h-0.9zM72.0 11.6h1.2v1.2h-1.2zM10.5 12.9h1.0v1.0h-1.0zM54.4 15.5h0.8v0.8h-0.8zM43.5 38.5h0.8v0.8h-0.8zM36.1 21.8h1.1v1.1h-1.1zM69.4 31.9h0.8v0.8h-0.8zM32.5 21.2h1.0v1.0h-1.0zM24.2 30.9h0.9v0.9h-0.9zM41.7 49.0h0.8v0.8h-0.8zM19.4 0.3h0.6v0.6h-0.6zM52.8 45.2h1.0v1.0h-1.0zM16.0 1.6h0.9v0.9h-0.9zM5.3 3.8h1.0v1.0h-1.0zM11.8 24.5h1.1v1.1h-1.1zM37.4 19.5h0.9v0.9h-0.9zM70.5 9.2h1.0v1.0h-1.0zM18.0 31.1h0.6v0.6h-0.6zM3.7 10.5h1.0v1.0h-1.0zM18.1 36.8h0.8v0.8h-0.8zM65.3 45.4h1.0v1.0h-1.0zM15.8 3.2h0.9v0.9h-0.9zM20.6 1.1h1.0v1.0h-1.0zM63.6 43.0h1.1v1.1h-1.1zM44.2 25.9h1.2v1.2h-1.2zM29.3 38.7h0.8v0.8h-0.8zM72.2 31.3h1.2v1.2h-1.2zM65.4 31.3h0.9v0.9h-0.9zM12.7 10.2h0.6v0.6h-0.6zM46.8 10.8h0.6v0.6h-0.6zM45.5 33.8h0.7v0.7h-0.7zM18.7 45.1h1.0v1.0h-1.0zM60.4 12.9h0.6v0.6h-0.6zM50.6 29.1h1.0v1.0h-1.0zM4.6 31.5h1.1v1.1h-1.1zM37.3 26.2h0.7v0.7h-0.7zM29.1 10.8h0.6v0.6h-0.6zM74.2 14.1h0.7v0.7h-0.7zM44.6 9.9h1.1v1.1h-1.1zM16.1 17.1h0.8v0.8h-0.8z" fill="#3e3c50" fill-opacity="0.6"/>
<path d="M3.2 40.9h1.3v1.3h-1.3zM47.2 48.5h1.0v1.0h-1.0zM61.4 15.3h1.5v1.5h-1.5zM74.3 20.5h1.5v1.5h-1.5zM30.4 5.2h1.2v1.2h-1.2zM48.1 26.0h1.2v1.2h-1.2zM8.2 31.6h1.4v1.4h-1.4zM47.7 11.5h1.4v1.4h-1.4zM60.4 16.5h1.1v1.1h-1.1zM33.0 29.6h1.6v1.6h-1.6zM59.0 0.5h1.1v1.1h-1.1zM45.2 47.1h1.4v1.4h-1.4zM64.5 9.2h1.1v1.1h-1.1zM23.6 5.3h1.4v1.4h-1.4zM48.4 35.2h1.4v1.4h-1.4zM53.0 1.7h1.3v1.3h-1.3zM41.8 11.7h1.1v1.1h-1.1zM65.0 4.1h0.9v0.9h-0.9z" fill="#5a4ccc" fill-opacity="0.85"/>
<path d="M24.1,43.4 L22.4,44.0 L20.0,41.6 L21.7,40.8 L24.4,41.9ZM8.6,42.2 L8.8,40.1 L9.5,38.5 L12.0,37.4 L13.5,37.6 L12.3,39.3 L10.2,41.1ZM15.0,42.7 L16.1,41.5 L18.3,41.0 L20.1,41.7 L18.4,43.6 L15.7,43.6ZM38.6,16.6 L37.0,16.4 L34.4,14.2 L32.9,11.2 L35.0,11.1 L36.4,13.0 L38.1,14.7ZM11.4,21.8 L12.1,20.7 L16.4,21.0 L15.9,22.1 L13.3,22.7ZM67.1,34.5 L69.0,33.6 L71.9,33.2 L73.9,34.2 L72.6,35.1 L68.9,35.4ZM19.0,42.3 L18.5,41.1 L19.9,39.5 L21.0,39.5 L21.1,40.5 L19.7,42.5Z" fill="#4a3cbc"/>
<path d="M65.5,45.9 L65.3,44.4 L65.8,42.7 L67.2,42.8 L68.0,43.7 L66.7,45.6ZM44.8,15.2 L43.4,15.6 L41.1,15.9 L41.3,14.4 L42.0,13.3 L43.4,14.1ZM2.1,30.7 L1.8,29.4 L2.3,28.0 L3.2,25.7 L3.8,26.0 L3.6,28.0 L3.1,30.3ZM30.1,37.3 L29.3,36.2 L30.3,34.1 L32.1,34.5 L31.1,37.2ZM10.8,10.9 L11.4,9.4 L14.6,9.9 L16.0,11.0 L15.1,12.2 L11.1,12.3ZM53.3,15.8 L55.6,14.4 L59.6,13.8 L60.7,15.0 L56.7,16.8ZM56.4,8.7 L55.7,7.9 L57.1,6.2 L57.9,6.0 L58.3,6.4 L58.3,7.1 L57.1,8.6ZM19.6,6.7 L20.4,4.0 L23.1,2.4 L25.0,2.5 L23.0,5.4ZM36.6,36.2 L34.5,35.0 L33.8,32.9 L34.3,31.8 L35.0,31.3 L35.8,31.3 L36.9,33.4ZM74.0,15.7 L74.3,14.7 L76.4,14.1 L76.6,14.8 L76.1,16.1ZM5.1,21.5 L4.3,19.4 L5.6,17.8 L7.6,18.8 L6.4,20.9Z" fill="#5244c6" fill-opacity="0.92"/>
</g>
<rect x="62.30" y="43.30" width="11.5" height="0.8" fill="#111"/>
<rect x="64.00" y="45.10" width="8" height="1.1" fill="#777" fill-opacity="0.55"/>
</svg>
<svg x="194.10" y="638.10" width="76.70" height="50.70" viewBox="0 0 76.70 50.70" overflow="hidden">
<rect width="76.70" height="50.70" fill="#ccc" filter="url(#invf)"/>
<g filter="url(#soft)">
<path d="M36.9 33.8h1.0v1.0h-1.0zM53.6 45.7h1.1v1.1h-1.1zM12.5 11.2h0.9v0.9h-0.9zM29.9 48.8h1.0v1.0h-1.0zM35.9 17.8h0.7v0.7h-0.7zM46.2 46.8h0.7v0.7h-0.7zM34.7 17.5h1.0v1.0h-1.0zM19.5 3.3h1.0v1.0h-1.0zM23.5 32.8h1.1v1.1h-1.1zM44.6 46.3h1.1v1.1h-1.1zM4.9 12.4h1.0v1.0h-1.0zM36.7 0.2h1.1v1.1h-1.1zM49.8 22.0h0.9v0.9h-0.9zM13.1 27.9h0.7v0.7h-0.7zM50.9 47.7h0.7v0.7h-0.7zM20.3 29.2h1.1v1.1h-1.1zM13.0 19.8h1.0v1.0h-1.0zM12.6 3.5h1.0v1.0h-1.0zM47.7 29.4h0.9v0.9h-0.9zM7.9 24.4h0.9v0.9h-0.9zM39.5 8.3h0.6v0.6h-0.6zM39.6 35.3h1.0v1.0h-1.0zM71.9 18.8h0.8v0.8h-0.8zM25.3 25.6h1.0v1.0h-1.0zM66.3 4.7h0.9v0.9h-0.9zM58.8 38.0h0.9v0.9h-0.9zM5.5 16.4h1.0v1.0h-1.0zM59.7 11.0h0.8v0.8h-0.8zM28.2 2.6h1.2v1.2h-1.2zM27.0 22.4h1.2v1.2h-1.2zM60.0 13.9h1.2v1.2h-1.2zM63.3 28.6h0.9v0.9h-0.9zM65.1 46.7h1.0v1.0h-1.0zM24.6 44.2h1.0v1.0h-1.0zM71.4 41.4h1.0v1.0h-1.0zM68.7 22.4h1.0v1.0h-1.0zM57.4 22.3h0.7v0.7h-0.7zM63.5 27.2h0.9v0.9h-0.9zM41.0 14.8h1.1v1.1h-1.1zM21.9 12.4h1.0v1.0h-1.0zM37.5 15.9h0.6v0.6h-0.6zM33.9 21.0h0.9v0.9h-0.9zM49.5 13.9h0.6v0.6h-0.6zM4.7 27.9h1.2v1.2h-1.2zM56.7 47.1h0.7v0.7h-0.7zM15.9 36.2h0.8v0.8h-0.8zM32.3 42.2h0.6v0.6h-0.6zM72.2 9.5h1.0v1.0h-1.0zM50.3 28.4h1.0v1.0h-1.0zM23.4 11.7h1.0v1.0h-1.0zM72.6 3.2h0.7v0.7h-0.7zM75.8 2.6h0.7v0.7h-0.7zM38.7 16.3h1.0v1.0h-1.0zM35.7 40.4h0.7v0.7h-0.7zM17.0 9.8h1.1v1.1h-1.1zM76.6 19.1h0.7v0.7h-0.7zM5.6 9.3h1.2v1.2h-1.2zM73.0 46.9h0.7v0.7h-0.7zM5.8 50.4h1.0v1.0h-1.0zM67.7 45.4h1.1v1.1h-1.1zM0.9 44.2h0.9v0.9h-0.9zM75.4 10.0h0.8v0.8h-0.8zM9.6 38.7h1.0v1.0h-1.0zM66.4 28.3h1.1v1.1h-1.1zM28.1 3.1h0.6v0.6h-0.6zM5.5 1.4h1.0v1.0h-1.0zM56.0 50.1h1.1v1.1h-1.1zM15.2 9.0h0.8v0.8h-0.8zM26.2 6.7h1.1v1.1h-1.1zM55.6 21.3h0.9v0.9h-0.9zM46.1 28.7h1.0v1.0h-1.0zM48.3 49.9h0.8v0.8h-0.8zM6.3 6.9h1.0v1.0h-1.0zM37.2 47.1h0.9v0.9h-0.9zM69.8 42.6h0.8v0.8h-0.8zM18.1 33.9h0.8v0.8h-0.8zM12.0 2.4h1.1v1.1h-1.1zM75.0 37.0h0.7v0.7h-0.7zM1.0 31.3h0.8v0.8h-0.8zM71.5 23.0h1.0v1.0h-1.0zM2.5 2.2h1.1v1.1h-1.1zM47.8 44.9h0.8v0.8h-0.8zM42.4 24.0h1.1v1.1h-1.1zM46.5 42.9h0.7v0.7h-0.7zM49.9 18.8h1.1v1.1h-1.1zM31.5 8.1h0.6v0.6h-0.6zM38.7 6.5h1.1v1.1h-1.1zM67.6 16.5h1.0v1.0h-1.0zM51.7 27.8h0.7v0.7h-0.7zM74.6 15.7h0.6v0.6h-0.6zM58.8 48.5h1.1v1.1h-1.1zM50.9 16.7h1.2v1.2h-1.2zM36.3 36.4h1.1v1.1h-1.1zM30.7 50.1h0.8v0.8h-0.8zM52.5 11.0h0.7v0.7h-0.7zM37.4 7.5h1.0v1.0h-1.0zM14.5 16.0h1.1v1.1h-1.1zM66.3 47.7h1.1v1.1h-1.1zM25.0 16.6h1.1v1.1h-1.1zM42.5 46.8h1.2v1.2h-1.2z" fill="#3e3c50" fill-opacity="0.6"/>
<path d="M33.8 7.9h1.5v1.5h-1.5zM62.3 26.5h1.3v1.3h-1.3zM51.4 25.7h1.1v1.1h-1.1zM30.4 45.2h1.5v1.5h-1.5zM69.6 47.1h1.2v1.2h-1.2zM26.3 44.0h0.9v0.9h-0.9zM66.1 2.1h1.4v1.4h-1.4zM5.3 16.3h1.0v1.0h-1.0zM38.8 22.7h1.5v1.5h-1.5zM31.2 40.3h1.5v1.5h-1.5zM72.6 16.8h1.5v1.5h-1.5zM17.5 21.6h1.5v1.5h-1.5zM43.4 10.7h1.2v1.2h-1.2zM24.2 46.3h1.4v1.4h-1.4z" fill="#5a4ccc" fill-opacity="0.85"/>
<path d="M75.0,34.0 L73.6,33.9 L72.6,33.4 L71.5,32.0 L73.3,31.7 L75.1,32.0ZM29.7,35.0 L28.5,35.5 L27.5,31.7 L27.3,28.2 L29.5,30.6 L30.9,34.5ZM65.6,4.6 L65.3,3.5 L65.4,0.2 L66.4,0.8 L67.1,0.7 L66.6,4.2ZM55.0,9.5 L54.0,9.1 L55.4,6.2 L57.5,3.4 L58.4,4.0 L57.8,6.9 L56.2,8.5ZM4.0,10.2 L3.5,11.2 L1.1,11.3 L-0.3,10.8 L0.3,10.0 L1.9,9.1 L2.7,9.2ZM48.0,9.1 L46.7,9.5 L45.4,8.6 L46.0,7.8 L48.1,8.4ZM70.0,52.9 L68.4,52.0 L67.2,48.1 L67.6,46.3 L68.7,46.5 L70.1,51.2ZM3.2,44.9 L1.1,44.7 L0.8,43.9 L1.5,42.8 L2.7,43.1Z" fill="#4a3cbc"/>
<path d="M10.3,34.4 L10.8,33.1 L11.9,32.5 L12.9,33.4 L12.9,34.4 L11.4,34.6ZM76.6,13.0 L75.8,14.1 L74.8,12.9 L74.2,11.3 L74.7,10.8 L75.9,11.4 L77.0,12.3ZM25.2,12.3 L25.5,9.8 L28.6,8.7 L29.1,10.2 L27.3,11.8ZM8.9,11.1 L7.2,11.4 L6.5,10.0 L6.8,8.5 L9.6,10.0ZM48.6,4.3 L47.5,3.5 L46.7,1.2 L47.6,0.2 L49.2,0.6 L49.4,3.2ZM47.9,2.6 L48.1,1.0 L49.8,-0.1 L51.6,-0.1 L50.9,1.0 L49.2,3.0Z" fill="#5244c6" fill-opacity="0.92"/>
</g>
<rect x="62.20" y="43.30" width="11.5" height="0.8" fill="#111"/>
<rect x="63.90" y="45.10" width="8" height="1.1" fill="#777" fill-opacity="0.55"/>
</svg>
<svg x="275.30" y="638.10" width="75.90" height="50.70" viewBox="0 0 75.90 50.70" overflow="hidden">
<rect width="75.90" height="50.70" fill="#ccc" filter="url(#invf)"/>
<g filter="url(#soft)">
<path d="M2.3 44.0h1.0v1.0h-1.0zM1.4 27.9h0.7v0.7h-0.7zM66.9 43.3h0.8v0.8h-0.8zM45.4 25.1h0.8v0.8h-0.8zM32.9 20.0h0.9v0.9h-0.9zM72.3 37.0h0.6v0.6h-0.6zM26.7 49.1h1.1v1.1h-1.1zM46.0 32.8h1.0v1.0h-1.0zM12.5 20.6h0.8v0.8h-0.8zM14.6 34.9h0.6v0.6h-0.6zM13.6 36.0h1.1v1.1h-1.1zM23.0 43.2h1.1v1.1h-1.1zM11.7 46.4h0.7v0.7h-0.7zM35.8 4.2h0.7v0.7h-0.7zM50.4 42.6h0.7v0.7h-0.7zM24.8 31.0h1.0v1.0h-1.0zM10.6 35.2h0.7v0.7h-0.7zM70.8 33.8h1.0v1.0h-1.0zM70.1 11.9h0.7v0.7h-0.7zM47.5 45.3h1.2v1.2h-1.2zM60.3 30.5h0.8v0.8h-0.8zM59.8 32.2h1.1v1.1h-1.1zM57.4 24.9h1.0v1.0h-1.0zM15.4 14.4h1.1v1.1h-1.1zM53.5 1.4h0.7v0.7h-0.7zM31.8 29.0h0.8v0.8h-0.8zM28.4 47.9h0.8v0.8h-0.8zM33.7 47.6h0.8v0.8h-0.8zM40.1 8.5h1.1v1.1h-1.1zM62.5 12.0h1.0v1.0h-1.0zM18.3 42.5h0.9v0.9h-0.9zM21.7 49.2h0.9v0.9h-0.9zM42.8 49.0h0.8v0.8h-0.8zM34.4 46.0h0.8v0.8h-0.8zM65.0 31.4h1.2v1.2h-1.2zM44.2 45.0h0.9v0.9h-0.9zM17.0 17.5h0.9v0.9h-0.9zM46.7 23.2h0.8v0.8h-0.8zM20.2 25.8h1.0v1.0h-1.0zM48.3 1.8h0.8v0.8h-0.8zM51.3 24.7h0.8v0.8h-0.8zM44.5 2.2h0.9v0.9h-0.9zM71.2 18.0h0.7v0.7h-0.7zM52.1 30.7h0.8v0.8h-0.8zM18.7 0.1h0.7v0.7h-0.7zM60.3 21.0h1.1v1.1h-1.1zM73.5 37.4h0.8v0.8h-0.8zM8.7 46.1h0.7v0.7h-0.7zM10.7 21.3h0.8v0.8h-0.8zM21.1 8.8h0.6v0.6h-0.6zM2.1 47.0h0.7v0.7h-0.7zM32.4 32.5h0.9v0.9h-0.9zM66.3 48.7h1.0v1.0h-1.0zM32.6 32.3h0.8v0.8h-0.8zM13.4 24.4h0.9v0.9h-0.9zM18.5 23.0h0.8v0.8h-0.8zM5.9 48.8h0.9v0.9h-0.9zM43.0 4.3h0.8v0.8h-0.8zM3.4 44.5h1.0v1.0h-1.0zM38.1 35.3h0.9v0.9h-0.9zM39.4 50.5h0.7v0.7h-0.7zM51.0 20.9h0.7v0.7h-0.7zM12.8 29.4h0.7v0.7h-0.7zM61.7 21.2h0.8v0.8h-0.8zM33.0 20.8h0.9v0.9h-0.9zM23.1 20.5h0.8v0.8h-0.8zM57.1 29.8h0.8v0.8h-0.8zM25.4 17.2h1.2v1.2h-1.2zM50.7 47.5h1.1v1.1h-1.1zM54.9 31.2h0.8v0.8h-0.8zM45.9 5.7h0.9v0.9h-0.9zM53.2 25.6h0.9v0.9h-0.9zM49.8 29.7h0.9v0.9h-0.9zM42.9 19.8h0.9v0.9h-0.9zM0.0 31.0h0.7v0.7h-0.7zM50.5 3.6h0.9v0.9h-0.9zM22.7 23.9h1.1v1.1h-1.1zM55.2 42.4h0.9v0.9h-0.9zM66.7 50.1h1.1v1.1h-1.1zM16.7 6.2h0.8v0.8h-0.8zM42.0 11.5h1.2v1.2h-1.2zM39.2 49.0h0.7v0.7h-0.7zM1.2 26.0h1.1v1.1h-1.1zM21.7 49.0h0.7v0.7h-0.7zM70.7 50.5h1.0v1.0h-1.0zM50.1 33.6h0.8v0.8h-0.8zM0.8 34.0h1.0v1.0h-1.0zM27.7 18.5h0.7v0.7h-0.7zM5.1 39.1h0.8v0.8h-0.8zM54.7 44.8h0.6v0.6h-0.6zM1.5 46.8h0.7v0.7h-0.7zM15.3 25.5h1.0v1.0h-1.0zM43.4 43.0h1.2v1.2h-1.2zM5.6 33.8h0.8v0.8h-0.8zM57.9 37.6h1.2v1.2h-1.2zM38.8 12.9h1.1v1.1h-1.1zM75.2 36.5h1.0v1.0h-1.0zM41.4 34.2h1.0v1.0h-1.0zM49.7 12.9h0.9v0.9h-0.9zM36.6 12.7h1.0v1.0h-1.0z" fill="#3e3c50" fill-opacity="0.6"/>
<path d="M47.7 45.6h1.2v1.2h-1.2zM51.7 45.8h1.4v1.4h-1.4zM53.7 28.0h1.0v1.0h-1.0zM7.6 22.5h1.2v1.2h-1.2zM2.9 27.0h0.9v0.9h-0.9zM22.8 15.9h1.1v1.1h-1.1zM4.3 6.5h1.5v1.5h-1.5zM23.7 27.7h1.1v1.1h-1.1zM10.6 13.0h0.9v0.9h-0.9zM12.6 9.3h1.0v1.0h-1.0zM54.7 43.5h1.1v1.1h-1.1zM13.8 10.0h1.3v1.3h-1.3z" fill="#5a4ccc" fill-opacity="0.85"/>
<path d="M24.6,12.5 L23.8,13.2 L22.6,12.1 L22.5,10.4 L23.5,10.0 L24.7,10.8 L24.9,11.8ZM24.6,8.6 L24.2,7.8 L24.0,6.5 L24.4,6.0 L25.2,6.2 L25.6,6.5 L25.6,7.7ZM5.6,42.6 L4.9,42.5 L4.3,40.9 L4.9,40.1 L5.6,40.6 L5.8,41.1Z" fill="#4a3cbc"/>
<path d="M21.8,41.9 L21.1,42.4 L20.7,42.2 L19.6,41.7 L19.9,41.0 L20.8,40.8 L21.3,41.1ZM67.8,18.4 L66.6,17.9 L68.0,15.3 L68.9,14.8 L69.7,16.1 L69.2,18.1ZM30.9,41.6 L30.3,40.8 L30.0,39.9 L29.7,38.0 L30.6,38.1 L31.1,38.4 L31.6,40.4ZM42.4,36.8 L42.7,35.1 L43.3,33.5 L44.7,34.2 L43.7,36.1ZM58.9,26.4 L59.3,24.8 L60.5,23.4 L62.2,23.2 L62.3,24.2 L61.5,25.5 L60.3,26.1ZM10.7,3.4 L10.2,2.3 L10.4,1.2 L11.6,0.7 L12.0,0.4 L12.0,1.9 L11.1,3.7ZM11.4,27.6 L10.9,27.2 L12.2,26.6 L13.6,26.6 L13.2,27.9 L12.8,28.4 L11.6,28.4ZM49.0,13.2 L48.6,12.6 L49.5,10.7 L51.0,9.7 L51.3,10.1 L51.3,11.2 L50.0,12.8ZM65.9,36.8 L66.2,34.2 L67.5,32.2 L68.1,32.6 L68.2,35.0Z" fill="#5244c6" fill-opacity="0.92"/>
</g>
<rect x="61.40" y="43.30" width="11.5" height="0.8" fill="#111"/>
<rect x="63.10" y="45.10" width="8" height="1.1" fill="#777" fill-opacity="0.55"/>
</svg>
<svg x="32.80" y="711.80" width="76.20" height="50.80" viewBox="0 0 76.20 50.80" overflow="hidden">
<rect width="76.20" height="50.80" fill="#ccc" filter="url(#migf)"/>
<g filter="url(#soft)">
<path d="M39.2 9.6h1.2v1.2h-1.2zM48.4 30.0h1.2v1.2h-1.2zM7.0 40.3h0.7v0.7h-0.7zM19.1 16.3h1.0v1.0h-1.0zM71.7 35.9h0.8v0.8h-0.8zM9.8 14.6h0.7v0.7h-0.7zM38.3 25.8h0.7v0.7h-0.7zM15.9 44.6h1.0v1.0h-1.0zM7.2 44.0h0.9v0.9h-0.9zM29.3 40.9h1.0v1.0h-1.0zM33.2 19.5h0.9v0.9h-0.9zM63.6 36.0h0.7v0.7h-0.7zM2.3 18.2h0.8v0.8h-0.8zM59.3 30.9h0.7v0.7h-0.7zM32.1 29.3h0.9v0.9h-0.9zM19.7 35.0h0.8v0.8h-0.8zM75.8 19.2h0.9v0.9h-0.9zM61.2 17.9h1.1v1.1h-1.1zM42.1 27.5h0.7v0.7h-0.7zM25.2 26.8h1.1v1.1h-1.1zM11.7 43.0h1.2v1.2h-1.2zM6.1 32.7h0.7v0.7h-0.7zM7.6 49.6h0.7v0.7h-0.7zM31.6 35.8h1.0v1.0h-1.0zM68.7 49.6h0.9v0.9h-0.9zM8.2 42.5h0.7v0.7h-0.7zM27.7 11.3h1.1v1.1h-1.1zM15.8 41.3h0.9v0.9h-0.9zM46.5 37.9h0.8v0.8h-0.8zM13.8 37.7h1.0v1.0h-1.0zM31.8 9.4h0.7v0.7h-0.7zM34.1 34.4h0.8v0.8h-0.8zM1.1 23.4h0.7v0.7h-0.7zM56.9 35.7h0.9v0.9h-0.9zM6.1 34.5h0.9v0.9h-0.9zM58.2 40.3h0.7v0.7h-0.7zM22.2 28.4h0.7v0.7h-0.7zM12.7 36.5h0.6v0.6h-0.6zM18.8 6.8h1.1v1.1h-1.1zM54.2 38.4h1.1v1.1h-1.1zM17.0 41.5h0.8v0.8h-0.8zM29.6 4.1h0.8v0.8h-0.8zM29.0 41.4h0.9v0.9h-0.9zM21.1 30.8h0.8v0.8h-0.8zM62.0 16.9h0.7v0.7h-0.7zM29.6 29.6h1.0v1.0h-1.0zM20.9 27.6h1.0v1.0h-1.0zM16.8 15.8h0.9v0.9h-0.9zM60.6 6.8h0.8v0.8h-0.8zM68.7 26.7h0.6v0.6h-0.6zM41.4 49.5h0.9v0.9h-0.9zM60.1 41.8h0.7v0.7h-0.7zM67.2 1.9h0.7v0.7h-0.7zM52.3 20.2h1.1v1.1h-1.1zM32.5 28.4h0.9v0.9h-0.9zM55.1 43.7h1.2v1.2h-1.2zM30.2 50.1h0.6v0.6h-0.6zM55.1 30.3h0.6v0.6h-0.6zM21.5 36.4h0.6v0.6h-0.6zM31.9 34.4h0.7v0.7h-0.7zM41.6 2.2h0.7v0.7h-0.7zM5.8 25.6h0.8v0.8h-0.8zM59.7 36.1h1.0v1.0h-1.0zM0.8 24.5h1.2v1.2h-1.2zM40.7 31.4h1.1v1.1h-1.1zM12.5 50.1h0.8v0.8h-0.8zM38.9 50.5h0.6v0.6h-0.6zM56.5 7.1h1.1v1.1h-1.1zM23.9 38.5h0.9v0.9h-0.9zM52.9 46.2h1.0v1.0h-1.0zM58.9 11.2h1.1v1.1h-1.1zM50.4 8.8h0.9v0.9h-0.9zM36.2 22.3h1.0v1.0h-1.0zM7.4 44.2h1.2v1.2h-1.2zM4.6 2.8h0.9v0.9h-0.9zM29.8 21.9h0.9v0.9h-0.9zM20.9 22.2h0.8v0.8h-0.8zM26.2 40.1h0.9v0.9h-0.9zM73.3 44.2h1.1v1.1h-1.1zM22.4 35.9h0.9v0.9h-0.9zM9.1 11.4h0.6v0.6h-0.6zM31.4 31.1h0.6v0.6h-0.6zM48.8 13.2h0.7v0.7h-0.7zM4.8 32.4h0.7v0.7h-0.7zM37.0 19.6h1.0v1.0h-1.0zM53.6 42.2h1.0v1.0h-1.0zM34.9 24.5h0.8v0.8h-0.8zM6.4 12.2h0.9v0.9h-0.9zM25.3 46.8h1.1v1.1h-1.1zM25.7 38.4h1.0v1.0h-1.0zM23.2 29.7h0.6v0.6h-0.6zM23.4 28.2h1.0v1.0h-1.0zM53.8 45.8h1.2v1.2h-1.2zM62.5 30.4h0.9v0.9h-0.9zM28.5 18.1h0.7v0.7h-0.7zM23.3 27.6h0.8v0.8h-0.8zM15.3 34.7h0.8v0.8h-0.8zM44.8 5.4h1.0v1.0h-1.0zM31.9 49.3h0.7v0.7h-0.7zM21.3 38.0h0.9v0.9h-0.9zM47.4 49.7h0.9v0.9h-0.9zM8.3 9.2h1.0v1.0h-1.0zM4.6 38.8h0.7v0.7h-0.7zM11.7 45.6h0.9v0.9h-0.9zM15.2 41.3h1.0v1.0h-1.0zM70.4 46.9h0.9v0.9h-0.9zM65.6 1.2h1.0v1.0h-1.0zM23.1 20.7h1.2v1.2h-1.2zM42.5 22.4h0.9v0.9h-0.9zM75.6 3.8h0.8v0.8h-0.8zM7.8 29.1h1.1v1.1h-1.1zM2.9 27.8h0.9v0.9h-0.9zM73.7 13.4h1.1v1.1h-1.1zM31.9 42.4h1.2v1.2h-1.2zM28.9 23.3h0.7v0.7h-0.7zM58.3 46.3h0.8v0.8h-0.8zM52.1 26.7h1.0v1.0h-1.0zM67.7 10.9h0.9v0.9h-0.9zM57.1 20.2h1.1v1.1h-1.1zM73.2 50.4h0.8v0.8h-0.8zM71.6 40.8h0.7v0.7h-0.7zM4.9 1.3h1.0v1.0h-1.0zM51.4 0.2h1.0v1.0h-1.0zM6.5 46.9h0.7v0.7h-0.7zM45.7 26.2h1.0v1.0h-1.0zM52.0 1.2h1.0v1.0h-1.0zM23.7 23.3h0.8v0.8h-0.8zM0.7 3.9h0.8v0.8h-0.8zM8.9 14.8h1.0v1.0h-1.0zM8.6 22.6h0.8v0.8h-0.8zM3.5 39.1h0.8v0.8h-0.8zM72.4 15.9h1.0v1.0h-1.0zM45.7 40.6h1.0v1.0h-1.0zM2.4 41.7h1.1v1.1h-1.1zM72.8 46.0h1.0v1.0h-1.0zM73.8 5.3h0.9v0.9h-0.9zM32.3 0.1h0.7v0.7h-0.7zM43.0 15.9h0.6v0.6h-0.6zM2.6 26.9h0.8v0.8h-0.8zM54.9 48.1h0.9v0.9h-0.9zM64.7 8.3h1.2v1.2h-1.2zM26.1 39.4h0.7v0.7h-0.7zM10.6 14.2h1.1v1.1h-1.1zM58.9 47.5h0.7v0.7h-0.7zM49.9 25.2h1.1v1.1h-1.1zM29.4 12.4h0.6v0.6h-0.6zM16.4 29.9h1.1v1.1h-1.1zM39.9 29.5h1.0v1.0h-1.0zM6.1 10.7h1.0v1.0h-1.0zM57.6 12.3h0.8v0.8h-0.8zM48.7 8.0h0.7v0.7h-0.7zM50.9 16.7h1.2v1.2h-1.2zM65.7 19.6h1.0v1.0h-1.0zM4.6 0.7h1.1v1.1h-1.1zM31.7 0.2h1.2v1.2h-1.2zM8.7 2.1h0.9v0.9h-0.9zM38.0 4.4h1.1v1.1h-1.1zM22.7 17.8h0.9v0.9h-0.9zM62.1 0.9h0.8v0.8h-0.8zM71.0 37.3h0.8v0.8h-0.8zM10.9 22.3h0.7v0.7h-0.7zM4.9 13.6h0.9v0.9h-0.9zM51.5 13.5h1.1v1.1h-1.1zM41.6 16.1h1.2v1.2h-1.2zM16.5 18.3h0.7v0.7h-0.7zM6.8 8.3h1.0v1.0h-1.0zM25.8 10.2h1.0v1.0h-1.0zM60.3 18.9h0.8v0.8h-0.8zM31.7 1.8h0.9v0.9h-0.9zM48.8 32.9h1.0v1.0h-1.0zM71.1 9.3h1.2v1.2h-1.2zM20.9 42.5h0.6v0.6h-0.6zM46.3 22.4h0.9v0.9h-0.9zM49.2 11.6h1.2v1.2h-1.2zM49.8 2.1h0.7v0.7h-0.7zM33.5 22.1h1.1v1.1h-1.1zM15.5 33.0h0.6v0.6h-0.6zM16.5 25.7h1.0v1.0h-1.0zM1.4 26.6h1.0v1.0h-1.0zM74.9 35.8h0.6v0.6h-0.6zM6.1 14.1h0.8v0.8h-0.8zM40.2 10.7h1.0v1.0h-1.0zM46.9 31.9h0.6v0.6h-0.6zM38.0 14.5h0.7v0.7h-0.7zM7.6 48.5h1.2v1.2h-1.2zM59.9 14.9h0.9v0.9h-0.9zM38.3 11.7h0.9v0.9h-0.9zM70.7 31.9h0.7v0.7h-0.7zM27.1 7.8h1.2v1.2h-1.2zM11.8 38.5h1.1v1.1h-1.1zM44.3 19.6h0.7v0.7h-0.7zM68.7 43.4h0.8v0.8h-0.8zM27.9 49.2h0.6v0.6h-0.6zM25.0 26.0h0.9v0.9h-0.9zM11.0 32.5h0.9v0.9h-0.9zM20.2 17.3h1.2v1.2h-1.2zM34.7 34.9h0.8v0.8h-0.8zM0.9 49.5h1.1v1.1h-1.1zM62.2 14.6h0.8v0.8h-0.8zM12.1 21.1h0.6v0.6h-0.6zM9.0 40.1h0.9v0.9h-0.9zM23.6 40.9h1.0v1.0h-1.0zM55.5 47.9h1.1v1.1h-1.1zM37.9 2.6h1.1v1.1h-1.1zM5.4 19.5h0.7v0.7h-0.7zM27.3 21.0h0.7v0.7h-0.7zM70.6 6.7h1.1v1.1h-1.1zM33.6 45.8h0.9v0.9h-0.9zM45.5 49.3h1.0v1.0h-1.0zM51.2 30.7h0.8v0.8h-0.8zM74.2 25.9h1.0v1.0h-1.0zM71.0 38.7h0.9v0.9h-0.9zM57.6 0.1h1.1v1.1h-1.1zM5.6 18.3h0.9v0.9h-0.9zM39.8 38.4h0.9v0.9h-0.9zM44.1 10.9h0.7v0.7h-0.7zM35.8 33.9h1.1v1.1h-1.1zM66.3 17.2h1.0v1.0h-1.0zM58.3 11.2h0.8v0.8h-0.8zM68.2 0.1h1.1v1.1h-1.1z" fill="#3e3c50" fill-opacity="0.6"/>
<path d="M54.5 18.9h1.0v1.0h-1.0zM21.9 1.3h1.6v1.6h-1.6zM39.7 23.1h1.6v1.6h-1.6zM6.2 31.4h1.3v1.3h-1.3zM59.0 21.6h1.4v1.4h-1.4zM63.2 18.7h1.4v1.4h-1.4zM33.0 20.0h1.4v1.4h-1.4zM62.2 16.7h1.6v1.6h-1.6zM12.3 41.5h1.1v1.1h-1.1zM62.7 28.6h1.6v1.6h-1.6zM57.8 48.2h1.5v1.5h-1.5zM61.9 27.7h1.6v1.6h-1.6zM1.0 24.8h1.0v1.0h-1.0zM9.0 9.1h1.1v1.1h-1.1zM67.0 2.9h1.3v1.3h-1.3zM9.8 23.0h1.0v1.0h-1.0zM43.2 20.5h1.3v1.3h-1.3zM3.9 40.2h1.6v1.6h-1.6zM55.3 15.3h1.3v1.3h-1.3zM53.0 46.7h1.3v1.3h-1.3zM44.9 3.9h1.2v1.2h-1.2zM73.7 33.6h1.0v1.0h-1.0zM72.9 6.5h0.9v0.9h-0.9zM42.1 32.8h1.0v1.0h-1.0zM36.6 15.3h1.0v1.0h-1.0zM75.4 22.8h1.2v1.2h-1.2zM31.3 15.6h1.3v1.3h-1.3zM9.0 4.2h1.4v1.4h-1.4zM75.0 42.7h1.5v1.5h-1.5zM63.1 46.3h1.5v1.5h-1.5z" fill="#5a4ccc" fill-opacity="0.85"/>
<path d="M60.6,42.3 L59.6,42.0 L58.9,40.0 L58.9,38.2 L59.4,37.5 L60.5,38.5 L61.1,41.2ZM76.8,3.5 L74.0,3.4 L71.6,1.6 L72.5,0.4 L75.8,1.7ZM13.8,32.0 L13.3,32.6 L11.1,32.4 L10.6,30.5 L11.0,30.1 L11.9,29.8 L13.7,31.3ZM59.7,26.9 L61.0,25.5 L62.7,25.5 L64.0,26.3 L63.1,27.1 L60.9,28.3ZM3.7,38.1 L2.2,36.3 L1.2,30.0 L3.3,31.6 L5.1,35.9ZM55.1,19.0 L53.7,20.0 L51.6,18.5 L52.0,17.6 L52.2,16.1 L53.5,15.7 L55.4,18.0ZM54.2,21.5 L53.7,18.7 L57.1,13.5 L58.7,14.3 L58.6,16.4 L56.8,19.6ZM68.4,37.5 L69.6,35.9 L70.5,34.7 L71.9,35.3 L72.2,36.4 L70.7,37.3ZM70.9,12.1 L70.2,11.2 L71.2,10.1 L72.1,8.7 L72.8,10.7 L72.0,12.5ZM23.9,33.4 L21.8,34.4 L18.8,32.8 L16.3,31.0 L15.6,29.4 L20.1,31.0 L21.3,31.6ZM70.7,19.3 L69.3,20.3 L67.3,19.6 L66.2,18.7 L67.5,17.4 L69.9,17.5ZM70.0,19.7 L70.6,17.9 L74.6,15.9 L74.3,18.0 L72.3,19.6Z" fill="#4a3cbc"/>
<path d="M24.5,43.4 L22.8,44.1 L20.5,38.9 L21.5,37.8 L24.8,41.7ZM-0.2,31.6 L-1.8,30.5 L2.2,27.7 L5.3,27.2 L6.1,28.2 L4.4,30.9 L0.6,32.0ZM9.4,40.9 L10.4,39.6 L12.9,38.8 L14.9,40.9 L13.6,42.8 L11.4,42.3ZM54.3,18.4 L56.0,16.8 L58.3,16.2 L58.7,17.9 L57.8,20.0 L56.2,19.8ZM53.4,28.8 L52.5,26.8 L53.5,24.3 L54.7,24.7 L54.3,27.2ZM4.6,48.9 L2.0,48.8 L0.1,47.0 L0.1,45.6 L1.7,45.1 L3.3,47.0ZM29.8,14.1 L30.3,11.6 L32.6,8.2 L34.1,8.3 L34.1,10.3 L32.9,12.2ZM28.9,47.8 L29.3,46.0 L30.9,44.1 L33.0,44.4 L32.0,46.0 L30.0,48.2ZM17.5,25.4 L17.1,24.3 L18.4,23.0 L19.1,23.3 L19.3,24.9 L18.4,25.4ZM36.2,49.7 L33.6,49.0 L32.0,46.1 L32.1,44.7 L36.3,48.1ZM42.2,18.9 L41.5,20.4 L39.3,20.1 L38.1,19.3 L37.5,17.1 L39.0,17.4 L41.3,17.0ZM65.9,17.9 L66.3,16.4 L67.8,15.0 L69.2,15.7 L69.0,17.3 L67.0,18.5ZM63.3,29.5 L62.7,27.8 L63.5,26.5 L64.6,25.5 L65.8,26.7 L65.5,27.9 L64.8,29.1ZM36.0,4.2 L38.3,2.2 L44.4,-0.4 L45.0,1.8 L39.5,3.9ZM35.2,24.0 L33.7,23.6 L33.5,20.9 L35.1,19.9 L36.6,20.5 L36.7,22.5ZM72.7,16.0 L71.1,17.0 L68.9,17.1 L64.5,15.8 L66.8,14.7 L68.6,14.7 L72.4,15.6ZM42.4,16.6 L41.8,12.2 L41.6,8.1 L43.2,3.2 L43.9,6.8 L45.2,8.5 L43.9,13.2ZM4.7,18.6 L3.2,16.9 L4.0,13.8 L5.2,13.0 L6.4,14.6 L6.2,17.7Z" fill="#5244c6" fill-opacity="0.92"/>
</g>
<rect x="61.70" y="43.40" width="11.5" height="0.8" fill="#111"/>
<rect x="63.40" y="45.20" width="8" height="1.1" fill="#777" fill-opacity="0.55"/>
</svg>
<svg x="113.20" y="711.80" width="76.80" height="50.80" viewBox="0 0 76.80 50.80" overflow="hidden">
<rect width="76.80" height="50.80" fill="#ccc" filter="url(#migf)"/>
<g filter="url(#soft)">
<path d="M6.7 29.7h0.8v0.8h-0.8zM70.2 31.2h0.9v0.9h-0.9zM72.1 14.5h1.1v1.1h-1.1zM32.4 34.3h1.2v1.2h-1.2zM62.0 30.7h1.1v1.1h-1.1zM1.9 21.8h1.1v1.1h-1.1zM57.8 22.9h0.7v0.7h-0.7zM26.7 21.8h0.7v0.7h-0.7zM72.0 32.9h0.9v0.9h-0.9zM14.0 16.4h0.8v0.8h-0.8zM11.2 17.0h0.8v0.8h-0.8zM56.6 46.1h0.6v0.6h-0.6zM10.5 43.4h0.6v0.6h-0.6zM19.8 28.6h0.9v0.9h-0.9zM16.7 38.3h1.0v1.0h-1.0zM0.4 36.2h0.8v0.8h-0.8zM37.8 29.3h1.0v1.0h-1.0zM61.6 9.2h0.7v0.7h-0.7zM15.8 9.3h1.1v1.1h-1.1zM66.0 18.4h1.0v1.0h-1.0zM60.8 43.8h1.1v1.1h-1.1zM44.7 40.6h0.8v0.8h-0.8zM45.6 13.8h0.8v0.8h-0.8zM29.1 25.3h0.6v0.6h-0.6zM33.6 25.3h1.1v1.1h-1.1zM54.5 7.7h0.8v0.8h-0.8zM58.1 4.2h1.1v1.1h-1.1zM3.6 34.2h0.9v0.9h-0.9zM73.6 18.8h0.8v0.8h-0.8zM13.8 14.1h0.8v0.8h-0.8zM44.5 14.1h0.7v0.7h-0.7zM66.6 3.5h1.2v1.2h-1.2zM19.8 38.9h1.0v1.0h-1.0zM73.3 39.1h0.6v0.6h-0.6zM58.4 49.2h1.1v1.1h-1.1zM39.9 2.4h0.6v0.6h-0.6zM18.9 36.7h0.7v0.7h-0.7zM43.1 38.2h0.9v0.9h-0.9zM56.0 40.7h1.0v1.0h-1.0zM0.5 33.6h0.9v0.9h-0.9zM63.0 13.1h0.7v0.7h-0.7zM3.9 22.9h0.7v0.7h-0.7zM59.3 29.6h0.8v0.8h-0.8zM26.1 4.6h0.7v0.7h-0.7zM68.4 8.6h0.9v0.9h-0.9zM43.9 38.2h0.7v0.7h-0.7zM30.3 6.8h0.7v0.7h-0.7zM28.8 26.9h0.8v0.8h-0.8zM29.9 28.3h0.6v0.6h-0.6zM65.5 0.9h0.8v0.8h-0.8zM54.9 0.4h0.7v0.7h-0.7zM1.6 7.0h0.9v0.9h-0.9zM57.2 49.1h0.9v0.9h-0.9zM67.6 21.2h0.9v0.9h-0.9zM73.5 1.3h1.1v1.1h-1.1zM23.1 22.3h1.2v1.2h-1.2zM33.6 46.8h1.0v1.0h-1.0zM11.3 49.6h0.6v0.6h-0.6zM53.0 16.3h1.2v1.2h-1.2zM18.7 9.3h0.8v0.8h-0.8zM54.7 20.2h1.0v1.0h-1.0zM70.0 36.3h1.1v1.1h-1.1zM21.0 4.3h0.9v0.9h-0.9zM13.7 38.6h0.9v0.9h-0.9zM45.8 10.8h0.8v0.8h-0.8zM63.6 32.4h0.8v0.8h-0.8zM42.3 26.4h1.1v1.1h-1.1zM49.1 5.2h0.7v0.7h-0.7zM16.9 41.8h0.8v0.8h-0.8zM0.2 32.7h0.9v0.9h-0.9zM17.7 3.7h1.0v1.0h-1.0zM40.6 47.2h0.7v0.7h-0.7zM27.9 42.2h1.0v1.0h-1.0zM17.4 12.7h1.0v1.0h-1.0zM32.0 0.0h0.9v0.9h-0.9zM71.0 25.3h0.8v0.8h-0.8zM28.9 4.1h1.1v1.1h-1.1zM10.7 21.4h0.9v0.9h-0.9zM20.9 2.4h0.6v0.6h-0.6zM67.7 47.7h0.9v0.9h-0.9zM75.5 44.1h1.0v1.0h-1.0zM15.1 11.4h0.6v0.6h-0.6zM56.3 0.9h1.2v1.2h-1.2zM51.1 43.4h0.9v0.9h-0.9zM65.6 22.8h0.8v0.8h-0.8zM67.9 1.6h1.1v1.1h-1.1zM42.3 44.7h1.1v1.1h-1.1zM6.3 19.6h0.9v0.9h-0.9zM46.2 4.6h1.1v1.1h-1.1zM4.7 1.5h1.1v1.1h-1.1zM40.4 45.6h0.8v0.8h-0.8zM75.3 47.6h0.7v0.7h-0.7zM25.3 3.8h0.9v0.9h-0.9zM7.1 38.0h0.8v0.8h-0.8zM69.0 21.3h0.8v0.8h-0.8zM16.7 44.3h0.9v0.9h-0.9zM57.0 21.0h1.1v1.1h-1.1zM11.8 36.7h0.7v0.7h-0.7zM76.2 5.1h1.0v1.0h-1.0zM4.2 2.0h1.1v1.1h-1.1zM74.2 1.6h0.8v0.8h-0.8zM28.0 2.8h0.8v0.8h-0.8zM28.4 20.5h1.0v1.0h-1.0zM32.7 1.9h1.0v1.0h-1.0zM16.5 23.8h1.0v1.0h-1.0zM2.4 47.9h1.2v1.2h-1.2zM37.4 6.4h0.9v0.9h-0.9zM59.7 35.5h1.1v1.1h-1.1zM59.1 40.0h1.0v1.0h-1.0zM24.0 11.9h1.1v1.1h-1.1zM44.9 16.7h1.1v1.1h-1.1zM3.3 44.6h0.7v0.7h-0.7zM41.8 28.0h1.0v1.0h-1.0zM1.1 32.1h0.6v0.6h-0.6zM11.8 14.9h1.2v1.2h-1.2zM14.6 37.0h1.1v1.1h-1.1zM65.0 29.9h0.9v0.9h-0.9zM29.3 16.6h0.9v0.9h-0.9zM69.0 38.0h0.6v0.6h-0.6zM59.8 0.7h1.1v1.1h-1.1zM10.0 1.9h1.0v1.0h-1.0zM12.6 26.9h0.8v0.8h-0.8zM7.1 7.7h1.1v1.1h-1.1zM71.4 48.9h1.2v1.2h-1.2zM71.2 2.5h0.8v0.8h-0.8zM76.0 44.0h1.2v1.2h-1.2zM25.4 6.0h0.7v0.7h-0.7zM21.5 4.8h0.9v0.9h-0.9zM17.7 19.5h0.8v0.8h-0.8zM75.1 48.5h1.0v1.0h-1.0zM51.5 10.4h1.1v1.1h-1.1zM43.9 7.9h1.1v1.1h-1.1zM45.6 20.0h0.7v0.7h-0.7zM54.7 5.6h0.7v0.7h-0.7zM67.1 9.1h1.0v1.0h-1.0zM33.8 23.6h0.9v0.9h-0.9zM50.6 7.2h1.1v1.1h-1.1zM4.9 38.8h1.0v1.0h-1.0zM25.0 48.1h1.0v1.0h-1.0zM26.4 45.7h1.1v1.1h-1.1zM6.2 6.4h0.9v0.9h-0.9zM48.3 38.3h1.2v1.2h-1.2zM68.6 17.5h1.0v1.0h-1.0zM38.6 32.3h0.7v0.7h-0.7zM25.5 27.7h1.1v1.1h-1.1zM73.9 48.6h1.0v1.0h-1.0zM7.4 50.6h1.0v1.0h-1.0zM37.4 29.3h0.9v0.9h-0.9zM55.3 49.4h1.0v1.0h-1.0zM44.0 41.4h0.7v0.7h-0.7zM40.1 10.8h0.7v0.7h-0.7zM76.7 19.7h0.9v0.9h-0.9zM23.8 22.0h1.1v1.1h-1.1zM35.7 25.0h1.1v1.1h-1.1zM41.1 50.7h1.0v1.0h-1.0zM35.3 15.2h1.0v1.0h-1.0zM71.1 2.8h1.0v1.0h-1.0zM14.0 20.1h0.6v0.6h-0.6zM53.3 37.5h0.8v0.8h-0.8zM24.7 27.3h0.8v0.8h-0.8zM29.8 12.8h1.0v1.0h-1.0zM73.9 11.6h1.0v1.0h-1.0zM32.3 19.6h1.1v1.1h-1.1zM64.3 44.3h0.7v0.7h-0.7zM32.8 18.6h0.9v0.9h-0.9zM46.7 8.7h0.9v0.9h-0.9zM35.8 5.6h0.6v0.6h-0.6zM51.4 8.9h0.9v0.9h-0.9zM56.6 16.2h0.9v0.9h-0.9zM75.8 26.7h0.7v0.7h-0.7zM63.0 10.5h0.9v0.9h-0.9zM8.3 18.9h0.9v0.9h-0.9zM22.8 29.3h0.7v0.7h-0.7zM30.5 27.9h0.9v0.9h-0.9zM51.3 23.1h1.1v1.1h-1.1zM62.8 24.0h0.8v0.8h-0.8zM36.1 17.1h0.9v0.9h-0.9zM74.2 16.5h1.1v1.1h-1.1zM56.6 8.0h0.8v0.8h-0.8zM61.7 26.5h1.0v1.0h-1.0zM12.6 48.5h0.6v0.6h-0.6zM0.1 32.3h1.1v1.1h-1.1zM28.2 38.6h0.9v0.9h-0.9zM13.9 5.5h1.0v1.0h-1.0zM49.1 7.7h0.9v0.9h-0.9zM0.5 30.0h0.9v0.9h-0.9zM48.4 43.2h0.6v0.6h-0.6zM22.4 44.5h0.9v0.9h-0.9zM28.5 22.7h0.7v0.7h-0.7zM36.6 49.6h1.0v1.0h-1.0zM52.4 0.2h1.0v1.0h-1.0zM34.7 10.2h1.0v1.0h-1.0zM26.5 26.3h1.1v1.1h-1.1zM10.2 13.6h0.8v0.8h-0.8zM22.9 35.9h0.6v0.6h-0.6zM20.4 4.0h0.9v0.9h-0.9zM28.7 2.9h0.6v0.6h-0.6zM28.7 50.7h0.6v0.6h-0.6zM32.1 31.7h1.0v1.0h-1.0zM35.1 10.9h0.8v0.8h-0.8zM30.4 22.0h1.0v1.0h-1.0zM0.9 35.4h0.7v0.7h-0.7zM53.4 39.0h0.6v0.6h-0.6zM68.7 43.8h0.6v0.6h-0.6zM47.8 50.4h1.2v1.2h-1.2zM24.8 10.6h0.7v0.7h-0.7zM75.5 46.5h0.7v0.7h-0.7zM43.6 21.3h1.2v1.2h-1.2zM17.5 48.6h0.7v0.7h-0.7zM14.0 6.7h1.0v1.0h-1.0zM3.4 20.2h0.8v0.8h-0.8zM42.8 13.1h1.0v1.0h-1.0zM53.9 6.8h0.9v0.9h-0.9zM64.9 19.1h1.0v1.0h-1.0zM39.8 0.3h0.8v0.8h-0.8zM12.5 39.1h0.9v0.9h-0.9zM56.9 39.1h0.8v0.8h-0.8zM19.8 27.6h0.9v0.9h-0.9zM64.6 47.1h1.1v1.1h-1.1zM16.6 10.1h0.9v0.9h-0.9z" fill="#3e3c50" fill-opacity="0.6"/>
<path d="M21.0 47.4h1.2v1.2h-1.2zM0.2 13.3h1.1v1.1h-1.1zM25.2 28.9h1.0v1.0h-1.0zM69.4 45.6h1.0v1.0h-1.0zM47.1 6.4h1.2v1.2h-1.2zM12.1 13.1h1.6v1.6h-1.6zM34.0 17.7h1.0v1.0h-1.0zM34.0 31.1h1.4v1.4h-1.4zM58.0 26.1h0.9v0.9h-0.9zM20.1 7.7h1.5v1.5h-1.5zM9.3 3.4h1.1v1.1h-1.1zM47.9 5.1h1.3v1.3h-1.3zM41.5 9.1h1.4v1.4h-1.4zM68.9 42.0h1.2v1.2h-1.2zM70.7 33.9h1.4v1.4h-1.4zM25.1 19.1h1.6v1.6h-1.6zM49.7 14.5h1.1v1.1h-1.1zM41.5 0.7h1.0v1.0h-1.0zM31.9 18.1h1.0v1.0h-1.0zM29.2 16.0h1.1v1.1h-1.1zM34.6 44.2h1.2v1.2h-1.2zM60.3 6.5h1.5v1.5h-1.5zM42.8 18.7h1.1v1.1h-1.1zM30.9 11.9h1.0v1.0h-1.0zM0.0 35.6h1.5v1.5h-1.5zM21.9 0.2h1.5v1.5h-1.5z" fill="#5a4ccc" fill-opacity="0.85"/>
<path d="M76.6,28.7 L75.6,28.7 L74.3,27.3 L73.9,26.0 L74.2,25.5 L75.6,26.5 L76.5,27.4ZM2.1,14.8 L1.5,14.1 L3.7,11.1 L6.5,9.7 L6.4,11.7 L3.9,14.3ZM60.7,8.2 L60.1,7.2 L60.3,5.9 L62.8,4.5 L62.7,5.8 L63.5,7.3 L62.3,8.9ZM66.1,47.0 L65.6,45.1 L67.0,42.4 L69.0,42.3 L69.9,42.6 L67.5,46.2ZM63.4,38.5 L62.5,38.1 L61.3,35.3 L62.5,35.6 L64.0,37.9ZM57.7,20.2 L57.9,19.4 L59.6,18.5 L60.7,18.9 L59.2,20.6ZM45.3,13.1 L43.4,11.7 L42.2,11.4 L42.5,9.8 L43.0,8.0 L44.6,9.4 L45.1,11.0ZM28.5,25.9 L25.9,25.9 L21.4,22.1 L22.4,21.6 L26.3,23.5ZM15.3,7.3 L14.3,6.8 L13.4,5.7 L14.2,5.2 L15.1,5.6 L15.8,6.2ZM70.1,46.1 L69.1,46.4 L69.2,44.6 L70.2,43.8 L71.2,43.8 L71.5,45.1 L70.9,46.2Z" fill="#4a3cbc"/>
<path d="M24.4,3.7 L24.5,1.6 L27.1,-0.1 L29.4,0.3 L26.9,3.4ZM50.5,7.4 L50.2,5.6 L50.9,3.9 L52.3,4.4 L52.7,6.3ZM30.8,13.8 L29.2,13.4 L28.1,12.1 L29.3,12.0 L30.4,12.6ZM56.9,30.5 L54.4,30.4 L52.7,29.4 L51.6,27.5 L52.2,26.0 L53.0,26.0 L55.8,28.4ZM68.9,6.2 L69.6,5.1 L70.5,5.1 L71.0,5.8 L70.8,6.4 L69.6,7.1ZM6.4,8.1 L4.7,7.0 L3.5,4.9 L4.6,4.6 L6.4,4.1 L6.7,6.0ZM5.1,26.2 L3.8,26.4 L2.5,26.0 L2.5,25.4 L2.8,24.6 L4.0,24.9 L4.7,25.2ZM70.5,31.0 L69.3,30.5 L71.7,28.6 L73.7,28.2 L73.4,29.8 L72.4,31.4ZM71.4,4.1 L69.8,3.8 L69.4,1.9 L69.4,0.1 L71.0,1.3 L71.7,2.7ZM24.7,38.9 L23.5,39.9 L22.7,39.4 L20.7,38.0 L21.7,36.5 L23.1,37.2 L24.4,38.3ZM63.7,13.6 L61.2,11.2 L60.0,7.9 L58.9,3.4 L60.5,5.1 L61.9,5.2 L64.3,11.0ZM21.2,36.5 L19.1,36.7 L17.4,34.8 L18.8,33.2 L20.7,35.1ZM14.8,35.8 L13.8,35.9 L13.9,34.4 L14.6,32.9 L15.3,33.5 L16.0,34.7 L15.3,36.2ZM46.1,18.9 L46.3,16.9 L47.7,14.1 L49.3,13.4 L48.0,18.7ZM73.4,3.9 L74.2,3.0 L75.4,3.3 L76.2,3.7 L76.5,4.5 L75.0,4.7ZM65.4,12.9 L66.1,12.2 L67.1,11.8 L68.1,12.4 L67.4,13.5 L65.9,14.0Z" fill="#5244c6" fill-opacity="0.92"/>
</g>
<rect x="62.30" y="43.40" width="11.5" height="0.8" fill="#111"/>
<rect x="64.00" y="45.20" width="8" height="1.1" fill="#777" fill-opacity="0.55"/>
</svg>
<svg x="194.10" y="711.80" width="76.70" height="50.80" viewBox="0 0 76.70 50.80" overflow="hidden">
<rect width="76.70" height="50.80" fill="#ccc" filter="url(#migf)"/>
<g filter="url(#soft)">
<path d="M39.1 30.3h0.8v0.8h-0.8zM71.3 37.1h1.1v1.1h-1.1zM35.1 42.4h1.0v1.0h-1.0zM45.4 5.4h0.9v0.9h-0.9zM74.4 28.4h0.8v0.8h-0.8zM48.2 7.2h0.8v0.8h-0.8zM59.8 23.9h0.8v0.8h-0.8zM74.7 26.5h0.9v0.9h-0.9zM6.3 30.3h0.9v0.9h-0.9zM21.6 47.3h1.0v1.0h-1.0zM41.4 43.8h0.8v0.8h-0.8zM75.0 34.9h0.8v0.8h-0.8zM35.0 49.2h1.0v1.0h-1.0zM1.0 43.3h0.8v0.8h-0.8zM23.0 24.6h0.7v0.7h-0.7zM51.1 31.4h0.9v0.9h-0.9zM36.9 17.0h1.0v1.0h-1.0zM63.9 2.6h1.0v1.0h-1.0zM61.8 50.4h1.1v1.1h-1.1zM73.1 32.4h1.1v1.1h-1.1zM56.6 12.8h1.0v1.0h-1.0zM47.5 27.0h0.7v0.7h-0.7zM72.3 41.1h1.1v1.1h-1.1zM18.6 8.6h0.7v0.7h-0.7zM29.2 17.3h1.0v1.0h-1.0zM30.6 50.5h0.6v0.6h-0.6zM30.4 44.5h0.9v0.9h-0.9zM51.5 43.1h1.0v1.0h-1.0zM13.1 2.6h1.2v1.2h-1.2zM31.6 26.3h0.7v0.7h-0.7zM38.8 18.0h0.7v0.7h-0.7zM52.0 34.5h1.0v1.0h-1.0zM63.8 49.2h1.1v1.1h-1.1zM5.4 26.6h1.0v1.0h-1.0zM68.3 27.5h0.9v0.9h-0.9zM22.2 11.5h1.1v1.1h-1.1zM1.3 37.5h1.2v1.2h-1.2zM4.1 9.3h0.8v0.8h-0.8zM62.5 41.4h1.2v1.2h-1.2zM46.7 26.4h0.9v0.9h-0.9zM42.8 37.3h0.8v0.8h-0.8zM69.4 9.5h1.2v1.2h-1.2zM36.0 1.9h0.7v0.7h-0.7zM51.1 46.2h0.7v0.7h-0.7zM1.8 16.9h1.1v1.1h-1.1zM15.0 20.3h0.8v0.8h-0.8zM0.2 5.4h0.8v0.8h-0.8zM48.1 35.8h1.0v1.0h-1.0zM69.3 29.9h1.0v1.0h-1.0zM54.6 16.0h1.2v1.2h-1.2zM10.0 45.8h0.9v0.9h-0.9zM17.5 18.0h0.9v0.9h-0.9zM12.6 3.9h0.8v0.8h-0.8zM73.8 38.6h0.8v0.8h-0.8zM53.9 11.1h0.7v0.7h-0.7zM34.2 17.7h1.2v1.2h-1.2zM7.3 39.2h0.7v0.7h-0.7zM72.4 38.1h1.2v1.2h-1.2zM50.1 6.3h1.2v1.2h-1.2zM72.2 35.5h1.0v1.0h-1.0zM52.6 21.8h0.8v0.8h-0.8zM19.1 29.0h0.8v0.8h-0.8zM48.4 14.5h0.6v0.6h-0.6zM65.0 31.5h0.9v0.9h-0.9zM54.8 47.9h0.9v0.9h-0.9zM24.6 49.8h0.7v0.7h-0.7zM37.3 31.3h0.7v0.7h-0.7zM22.6 49.7h1.1v1.1h-1.1zM13.9 39.3h1.2v1.2h-1.2zM46.6 43.5h0.7v0.7h-0.7zM23.5 5.0h0.9v0.9h-0.9zM51.7 16.2h0.8v0.8h-0.8zM53.0 43.7h1.1v1.1h-1.1zM38.6 3.0h0.9v0.9h-0.9zM9.5 40.8h0.7v0.7h-0.7zM67.0 4.3h0.8v0.8h-0.8zM46.0 29.4h0.8v0.8h-0.8zM1.1 19.5h1.0v1.0h-1.0zM33.1 48.0h1.0v1.0h-1.0zM33.8 1.6h0.7v0.7h-0.7zM21.0 45.2h1.2v1.2h-1.2zM35.2 12.8h0.7v0.7h-0.7zM41.7 30.2h0.8v0.8h-0.8zM57.6 21.5h0.7v0.7h-0.7zM10.3 34.9h1.0v1.0h-1.0zM72.5 18.4h0.8v0.8h-0.8zM66.4 14.8h0.8v0.8h-0.8zM53.3 6.7h0.8v0.8h-0.8zM7.0 48.5h1.0v1.0h-1.0zM65.0 13.8h1.0v1.0h-1.0zM43.2 26.2h1.0v1.0h-1.0zM17.2 32.0h1.0v1.0h-1.0zM5.1 15.4h0.8v0.8h-0.8zM23.0 47.0h0.6v0.6h-0.6zM36.1 32.3h1.2v1.2h-1.2zM34.2 4.9h1.0v1.0h-1.0zM37.1 1.6h0.6v0.6h-0.6zM31.4 25.2h1.2v1.2h-1.2zM7.6 6.0h0.7v0.7h-0.7zM52.7 36.6h0.7v0.7h-0.7zM16.7 47.1h0.6v0.6h-0.6zM46.6 38.2h0.8v0.8h-0.8zM70.4 40.2h1.0v1.0h-1.0zM5.5 14.6h0.9v0.9h-0.9zM55.4 44.9h0.6v0.6h-0.6zM42.8 43.7h1.0v1.0h-1.0zM68.6 48.7h0.6v0.6h-0.6zM76.5 16.4h0.9v0.9h-0.9zM6.3 22.5h0.7v0.7h-0.7zM5.1 2.9h0.8v0.8h-0.8zM65.8 28.7h0.9v0.9h-0.9zM20.7 21.5h0.7v0.7h-0.7zM19.1 39.0h0.7v0.7h-0.7zM3.1 23.7h0.7v0.7h-0.7zM8.1 7.6h0.7v0.7h-0.7zM22.6 35.4h0.9v0.9h-0.9zM0.5 41.9h1.2v1.2h-1.2zM18.7 4.0h0.9v0.9h-0.9zM73.8 40.7h0.6v0.6h-0.6zM41.1 50.0h0.9v0.9h-0.9zM47.5 20.8h0.7v0.7h-0.7zM13.9 42.2h0.8v0.8h-0.8zM67.5 41.0h0.9v0.9h-0.9zM63.2 22.5h0.7v0.7h-0.7zM59.4 12.2h1.1v1.1h-1.1zM57.9 20.6h1.2v1.2h-1.2zM48.7 4.1h0.7v0.7h-0.7zM55.0 46.8h0.9v0.9h-0.9zM31.5 17.1h0.8v0.8h-0.8zM0.8 20.4h1.0v1.0h-1.0zM65.6 46.4h1.1v1.1h-1.1zM28.0 43.5h0.9v0.9h-0.9zM23.2 35.4h0.9v0.9h-0.9zM2.5 1.7h1.0v1.0h-1.0zM73.5 12.6h1.0v1.0h-1.0zM76.5 21.1h0.7v0.7h-0.7zM27.2 33.8h1.0v1.0h-1.0zM43.6 30.2h0.6v0.6h-0.6zM14.4 5.7h0.9v0.9h-0.9zM20.9 50.3h0.6v0.6h-0.6zM40.7 10.6h0.9v0.9h-0.9zM65.6 34.6h0.6v0.6h-0.6zM48.1 28.6h1.2v1.2h-1.2zM41.1 24.7h1.0v1.0h-1.0zM6.6 34.1h0.7v0.7h-0.7zM12.5 38.2h1.1v1.1h-1.1zM35.2 50.0h0.6v0.6h-0.6zM53.4 8.1h1.0v1.0h-1.0zM16.8 14.1h0.9v0.9h-0.9zM32.5 35.0h0.8v0.8h-0.8zM21.3 20.8h1.1v1.1h-1.1zM43.1 48.9h1.1v1.1h-1.1zM34.2 32.3h0.7v0.7h-0.7zM44.4 5.5h1.0v1.0h-1.0zM47.4 40.0h1.1v1.1h-1.1zM69.4 35.0h0.6v0.6h-0.6zM12.2 7.5h0.7v0.7h-0.7zM28.3 30.7h0.8v0.8h-0.8zM68.1 34.4h0.7v0.7h-0.7zM43.1 34.7h0.6v0.6h-0.6zM61.1 32.9h0.7v0.7h-0.7zM74.2 28.4h1.0v1.0h-1.0zM41.6 50.1h0.9v0.9h-0.9zM42.9 50.2h0.9v0.9h-0.9zM37.5 9.1h0.7v0.7h-0.7zM12.4 29.3h1.1v1.1h-1.1zM1.0 10.8h1.1v1.1h-1.1zM32.0 8.3h1.2v1.2h-1.2zM74.7 29.8h0.6v0.6h-0.6zM48.0 35.3h0.6v0.6h-0.6zM75.0 26.8h0.6v0.6h-0.6zM48.8 29.7h0.8v0.8h-0.8zM19.4 8.6h0.6v0.6h-0.6zM21.5 47.1h0.7v0.7h-0.7zM4.3 19.4h1.0v1.0h-1.0zM69.5 29.7h1.0v1.0h-1.0zM65.5 17.6h0.6v0.6h-0.6zM32.6 11.7h0.9v0.9h-0.9zM60.4 40.4h0.6v0.6h-0.6zM39.8 35.4h0.7v0.7h-0.7zM72.7 39.0h0.6v0.6h-0.6zM58.6 5.2h1.1v1.1h-1.1zM58.8 40.6h0.9v0.9h-0.9zM46.7 37.5h0.9v0.9h-0.9zM47.8 18.0h0.8v0.8h-0.8zM29.2 33.5h1.1v1.1h-1.1zM34.3 0.3h0.8v0.8h-0.8zM31.8 26.4h1.0v1.0h-1.0zM21.0 40.5h1.0v1.0h-1.0zM58.8 10.0h0.6v0.6h-0.6zM70.0 34.6h1.0v1.0h-1.0zM47.0 11.9h0.7v0.7h-0.7zM31.0 23.6h1.0v1.0h-1.0zM6.0 5.7h0.6v0.6h-0.6zM35.1 5.3h1.1v1.1h-1.1zM64.3 39.8h0.7v0.7h-0.7zM66.6 28.1h0.8v0.8h-0.8zM71.0 36.8h1.0v1.0h-1.0zM51.0 16.6h1.2v1.2h-1.2zM8.4 10.9h0.8v0.8h-0.8zM53.2 26.4h1.1v1.1h-1.1zM43.8 12.0h0.9v0.9h-0.9zM26.2 44.6h0.8v0.8h-0.8zM11.3 31.3h0.8v0.8h-0.8zM2.9 17.5h0.9v0.9h-0.9zM50.2 45.1h0.9v0.9h-0.9zM31.1 38.0h1.0v1.0h-1.0zM46.5 21.1h1.1v1.1h-1.1zM59.5 8.9h0.8v0.8h-0.8zM59.6 44.5h1.2v1.2h-1.2zM2.1 40.2h0.8v0.8h-0.8zM47.0 3.8h0.9v0.9h-0.9zM53.2 25.5h1.0v1.0h-1.0zM62.5 24.2h0.9v0.9h-0.9zM29.5 15.8h0.8v0.8h-0.8zM61.5 21.1h0.9v0.9h-0.9zM44.4 47.8h0.8v0.8h-0.8zM35.4 26.4h0.8v0.8h-0.8zM25.5 27.7h0.9v0.9h-0.9zM17.9 46.1h0.8v0.8h-0.8z" fill="#3e3c50" fill-opacity="0.6"/>
<path d="M61.9 28.5h1.0v1.0h-1.0zM32.7 37.3h1.0v1.0h-1.0zM2.6 38.9h1.5v1.5h-1.5zM71.3 38.2h1.5v1.5h-1.5zM52.0 12.7h1.6v1.6h-1.6zM4.4 41.5h1.1v1.1h-1.1zM60.9 47.1h1.5v1.5h-1.5zM14.0 22.6h1.2v1.2h-1.2zM18.9 23.6h0.9v0.9h-0.9zM9.7 33.3h1.0v1.0h-1.0zM20.0 9.8h1.1v1.1h-1.1zM42.3 2.6h1.5v1.5h-1.5zM9.2 15.1h1.2v1.2h-1.2zM41.5 3.5h1.6v1.6h-1.6zM73.0 41.7h1.3v1.3h-1.3zM46.2 23.9h1.0v1.0h-1.0zM5.8 21.1h1.3v1.3h-1.3zM23.2 25.1h1.1v1.1h-1.1zM75.4 25.0h1.2v1.2h-1.2zM1.9 28.0h1.0v1.0h-1.0z" fill="#5a4ccc" fill-opacity="0.85"/>
<path d="M40.5,14.2 L40.3,13.4 L41.2,11.9 L41.8,11.9 L42.0,12.9 L41.1,13.8ZM55.3,27.8 L54.5,25.7 L55.4,24.0 L56.7,24.5 L56.3,26.4ZM14.2,5.6 L13.9,4.9 L14.5,3.3 L15.7,2.2 L17.1,2.3 L16.4,4.1 L15.9,5.3ZM57.6,21.2 L57.6,20.7 L58.6,20.3 L59.4,20.0 L60.1,20.6 L59.1,21.3 L58.0,21.8ZM42.0,9.9 L41.5,9.9 L41.3,9.1 L41.7,8.1 L42.5,7.7 L42.6,9.1 L42.6,10.1ZM31.6,36.1 L31.0,35.0 L30.9,32.7 L31.6,31.0 L32.3,31.6 L32.4,32.9 L32.4,34.3ZM21.8,19.3 L20.1,18.4 L19.1,14.0 L18.6,11.5 L20.1,12.2 L21.8,14.1 L22.2,18.1ZM63.6,7.6 L62.6,6.7 L62.0,5.5 L62.9,4.9 L63.7,5.1 L63.8,6.5ZM55.5,3.6 L54.6,3.1 L54.0,1.5 L54.2,0.8 L55.4,0.7 L56.0,1.7 L56.0,3.0Z" fill="#4a3cbc"/>
<path d="M61.0,20.3 L61.2,19.7 L62.0,19.1 L64.8,18.3 L63.8,19.5 L63.1,20.6 L60.9,21.0ZM6.4,42.2 L5.9,42.8 L3.5,42.0 L1.7,40.0 L4.5,40.2 L6.2,40.7ZM28.1,35.7 L27.1,34.2 L27.2,31.6 L28.1,31.5 L29.3,32.2 L29.2,34.6ZM40.4,46.7 L39.1,47.2 L36.7,46.6 L35.0,45.4 L37.5,45.0 L39.8,45.5ZM63.9,14.2 L62.5,13.6 L61.5,12.5 L62.5,11.7 L63.2,11.9 L63.8,12.8ZM11.6,10.0 L10.3,10.9 L9.6,10.3 L8.6,9.4 L9.1,8.7 L10.3,8.6 L11.0,9.2ZM69.2,40.1 L68.4,39.0 L69.0,37.3 L69.5,37.9 L70.0,39.3ZM52.9,7.2 L53.3,5.4 L53.0,4.2 L54.8,2.9 L55.0,4.3 L55.1,5.6 L54.5,6.3ZM60.0,29.1 L56.3,28.3 L53.8,26.9 L53.1,24.9 L56.8,27.0ZM65.2,10.9 L66.9,8.8 L69.9,7.3 L72.8,7.1 L72.1,9.0 L67.8,10.7ZM49.9,39.1 L46.1,37.4 L44.1,35.0 L44.1,33.0 L48.5,36.3Z" fill="#5244c6" fill-opacity="0.92"/>
</g>
<rect x="62.20" y="43.40" width="11.5" height="0.8" fill="#111"/>
<rect x="63.90" y="45.20" width="8" height="1.1" fill="#777" fill-opacity="0.55"/>
</svg>
<svg x="275.30" y="711.80" width="75.90" height="50.80" viewBox="0 0 75.90 50.80" overflow="hidden">
<rect width="75.90" height="50.80" fill="#ccc" filter="url(#migf)"/>
<g filter="url(#soft)">
<path d="M4.0 4.4h0.8v0.8h-0.8zM8.2 45.8h0.6v0.6h-0.6zM40.7 16.9h1.1v1.1h-1.1zM12.1 17.1h0.8v0.8h-0.8zM18.6 0.1h0.9v0.9h-0.9zM6.6 30.4h0.6v0.6h-0.6zM23.9 22.8h1.1v1.1h-1.1zM7.0 7.2h1.1v1.1h-1.1zM1.6 46.3h0.9v0.9h-0.9zM20.1 42.6h1.1v1.1h-1.1zM26.1 40.7h0.7v0.7h-0.7zM46.2 26.8h1.1v1.1h-1.1zM23.9 20.2h1.1v1.1h-1.1zM38.9 34.8h1.0v1.0h-1.0zM50.6 45.2h0.9v0.9h-0.9zM50.7 19.0h0.6v0.6h-0.6zM57.2 9.2h1.1v1.1h-1.1zM69.3 33.4h0.7v0.7h-0.7zM25.6 19.9h0.6v0.6h-0.6zM34.7 29.1h0.8v0.8h-0.8zM14.3 4.5h1.0v1.0h-1.0zM1.0 17.9h0.7v0.7h-0.7zM40.4 36.8h1.1v1.1h-1.1zM48.5 50.4h1.2v1.2h-1.2zM47.8 11.9h0.9v0.9h-0.9zM13.5 50.4h0.9v0.9h-0.9zM57.1 2.2h0.7v0.7h-0.7zM14.7 13.0h0.8v0.8h-0.8zM20.6 22.1h0.9v0.9h-0.9zM8.2 3.2h0.8v0.8h-0.8zM6.7 22.0h0.6v0.6h-0.6zM40.7 3.7h1.0v1.0h-1.0zM30.7 50.1h0.8v0.8h-0.8zM35.9 38.1h0.8v0.8h-0.8zM26.4 32.5h1.2v1.2h-1.2zM67.1 21.3h1.0v1.0h-1.0zM51.5 18.9h0.7v0.7h-0.7zM5.9 44.6h0.6v0.6h-0.6zM39.4 27.3h0.7v0.7h-0.7zM49.8 46.5h1.1v1.1h-1.1zM29.5 6.4h1.2v1.2h-1.2zM39.2 32.0h1.1v1.1h-1.1zM29.3 3.2h0.7v0.7h-0.7zM50.7 17.8h1.1v1.1h-1.1zM56.2 49.8h1.0v1.0h-1.0zM23.1 40.2h0.6v0.6h-0.6zM39.6 44.3h0.9v0.9h-0.9zM10.4 25.4h0.9v0.9h-0.9zM28.0 45.4h0.8v0.8h-0.8zM20.6 25.7h0.7v0.7h-0.7zM24.4 20.2h1.2v1.2h-1.2zM6.1 10.0h0.7v0.7h-0.7zM75.5 45.3h0.7v0.7h-0.7zM42.9 4.3h0.8v0.8h-0.8zM25.9 27.3h1.2v1.2h-1.2zM61.4 27.1h1.1v1.1h-1.1zM36.7 37.1h1.1v1.1h-1.1zM19.5 42.3h0.9v0.9h-0.9zM36.9 20.1h0.7v0.7h-0.7zM38.0 6.4h1.0v1.0h-1.0zM68.2 40.2h1.0v1.0h-1.0zM37.5 35.3h0.7v0.7h-0.7zM4.0 43.8h0.8v0.8h-0.8zM50.8 21.4h0.8v0.8h-0.8zM58.5 17.4h1.1v1.1h-1.1zM62.3 9.2h1.2v1.2h-1.2zM4.7 21.1h0.9v0.9h-0.9zM62.9 8.9h0.9v0.9h-0.9zM28.0 46.8h0.7v0.7h-0.7zM20.1 41.6h0.8v0.8h-0.8zM71.7 2.6h0.8v0.8h-0.8zM8.2 29.1h1.2v1.2h-1.2zM24.6 32.9h0.8v0.8h-0.8zM33.3 29.0h0.7v0.7h-0.7zM52.4 25.5h1.1v1.1h-1.1zM20.9 48.5h0.7v0.7h-0.7zM1.5 33.5h1.0v1.0h-1.0zM36.2 2.2h1.2v1.2h-1.2zM10.7 44.2h1.1v1.1h-1.1zM16.8 43.9h0.9v0.9h-0.9zM68.3 45.1h1.1v1.1h-1.1zM21.9 29.5h1.2v1.2h-1.2zM24.3 19.6h1.0v1.0h-1.0zM4.8 12.9h0.7v0.7h-0.7zM31.6 21.6h1.0v1.0h-1.0zM37.7 8.4h0.6v0.6h-0.6zM39.8 38.8h1.2v1.2h-1.2zM63.7 15.4h1.1v1.1h-1.1zM35.5 14.3h0.7v0.7h-0.7zM33.6 27.7h0.8v0.8h-0.8zM14.8 47.8h0.6v0.6h-0.6zM71.3 20.6h1.1v1.1h-1.1zM8.4 29.0h1.1v1.1h-1.1zM33.1 18.1h0.9v0.9h-0.9zM14.8 10.8h0.7v0.7h-0.7zM2.9 46.2h0.6v0.6h-0.6zM70.4 0.6h1.0v1.0h-1.0zM41.5 2.1h1.2v1.2h-1.2zM55.5 44.7h0.9v0.9h-0.9zM22.1 9.4h0.7v0.7h-0.7zM50.9 41.7h0.7v0.7h-0.7zM2.0 18.4h0.7v0.7h-0.7zM17.1 11.3h1.0v1.0h-1.0zM33.0 28.5h0.8v0.8h-0.8zM74.7 25.2h0.6v0.6h-0.6zM10.6 37.1h1.1v1.1h-1.1zM9.6 23.4h1.1v1.1h-1.1zM41.9 0.9h0.9v0.9h-0.9zM21.9 10.8h1.2v1.2h-1.2zM8.0 42.1h1.1v1.1h-1.1zM45.0 16.5h0.6v0.6h-0.6zM50.8 48.7h0.7v0.7h-0.7zM9.6 24.1h1.1v1.1h-1.1zM0.4 40.1h0.7v0.7h-0.7zM2.5 7.4h0.9v0.9h-0.9zM71.1 33.6h0.6v0.6h-0.6zM11.5 23.4h0.7v0.7h-0.7zM50.7 18.2h1.2v1.2h-1.2zM62.2 41.5h0.7v0.7h-0.7zM32.7 34.1h0.7v0.7h-0.7zM0.7 16.6h0.8v0.8h-0.8zM59.7 41.4h0.6v0.6h-0.6zM4.9 47.0h0.8v0.8h-0.8zM9.5 40.3h1.1v1.1h-1.1zM45.9 39.0h1.1v1.1h-1.1zM64.8 13.4h0.9v0.9h-0.9zM74.7 18.7h1.0v1.0h-1.0zM64.2 44.5h1.0v1.0h-1.0zM26.6 35.1h0.6v0.6h-0.6zM26.6 38.5h1.0v1.0h-1.0zM6.1 36.6h1.0v1.0h-1.0zM33.8 5.3h1.0v1.0h-1.0zM56.6 10.1h1.0v1.0h-1.0zM5.4 10.4h0.8v0.8h-0.8zM59.1 14.4h1.1v1.1h-1.1zM74.6 8.3h0.6v0.6h-0.6zM55.3 38.8h1.1v1.1h-1.1zM51.0 39.6h0.8v0.8h-0.8zM7.7 50.8h1.0v1.0h-1.0zM20.5 45.4h0.6v0.6h-0.6zM4.3 12.9h0.7v0.7h-0.7zM31.2 31.6h0.9v0.9h-0.9zM42.0 6.1h0.9v0.9h-0.9zM74.0 16.8h1.1v1.1h-1.1zM48.4 38.7h1.0v1.0h-1.0zM33.4 11.9h0.7v0.7h-0.7zM8.6 5.1h1.1v1.1h-1.1zM63.6 41.5h1.1v1.1h-1.1zM27.2 34.2h1.1v1.1h-1.1zM10.0 0.0h0.7v0.7h-0.7zM69.5 41.0h0.7v0.7h-0.7zM64.3 8.9h0.8v0.8h-0.8zM12.8 44.9h1.1v1.1h-1.1zM4.9 1.2h1.1v1.1h-1.1zM29.9 28.9h1.0v1.0h-1.0zM41.3 9.6h0.8v0.8h-0.8zM45.3 39.8h0.8v0.8h-0.8zM1.7 7.4h0.8v0.8h-0.8zM73.0 21.7h0.9v0.9h-0.9zM32.1 44.0h1.1v1.1h-1.1zM11.7 33.8h0.9v0.9h-0.9zM68.1 3.2h0.9v0.9h-0.9zM14.4 28.9h1.1v1.1h-1.1zM32.9 27.2h0.8v0.8h-0.8zM71.7 43.8h0.7v0.7h-0.7zM3.2 27.2h0.8v0.8h-0.8zM2.4 34.3h0.7v0.7h-0.7zM48.9 5.0h1.0v1.0h-1.0zM63.6 40.5h1.1v1.1h-1.1zM46.7 17.0h0.7v0.7h-0.7zM49.9 49.5h1.0v1.0h-1.0zM7.9 2.2h0.7v0.7h-0.7zM60.9 6.9h1.0v1.0h-1.0zM44.3 18.5h0.9v0.9h-0.9zM20.0 20.9h0.7v0.7h-0.7zM40.2 33.6h0.9v0.9h-0.9zM75.2 47.0h1.1v1.1h-1.1zM45.8 7.3h1.1v1.1h-1.1zM71.6 30.5h0.9v0.9h-0.9zM49.7 31.8h1.1v1.1h-1.1zM36.4 18.9h1.1v1.1h-1.1zM35.3 32.9h0.8v0.8h-0.8zM40.9 28.6h1.0v1.0h-1.0zM59.7 17.2h0.7v0.7h-0.7zM28.5 29.8h0.9v0.9h-0.9zM28.3 21.4h0.7v0.7h-0.7zM7.9 33.4h0.6v0.6h-0.6zM43.6 49.5h0.9v0.9h-0.9zM54.1 38.8h0.9v0.9h-0.9zM39.9 11.8h1.0v1.0h-1.0zM39.9 17.0h1.2v1.2h-1.2zM47.9 21.1h1.1v1.1h-1.1zM57.9 49.3h0.8v0.8h-0.8zM36.5 12.0h1.0v1.0h-1.0zM63.8 35.1h1.0v1.0h-1.0zM10.9 47.4h0.7v0.7h-0.7zM61.3 8.5h1.0v1.0h-1.0zM56.5 9.1h0.9v0.9h-0.9zM18.9 48.4h0.7v0.7h-0.7zM74.6 25.4h0.6v0.6h-0.6zM11.8 17.8h1.0v1.0h-1.0zM48.5 11.4h0.9v0.9h-0.9zM64.4 24.0h0.8v0.8h-0.8zM48.4 43.9h1.0v1.0h-1.0zM74.4 22.5h0.6v0.6h-0.6zM2.9 49.4h0.8v0.8h-0.8zM59.1 49.3h0.9v0.9h-0.9zM51.1 28.6h1.0v1.0h-1.0zM62.4 35.3h1.0v1.0h-1.0zM2.5 6.4h0.9v0.9h-0.9zM61.9 42.5h0.9v0.9h-0.9zM63.6 17.7h1.0v1.0h-1.0zM9.5 48.5h0.8v0.8h-0.8zM23.6 3.6h0.7v0.7h-0.7zM3.6 28.4h1.2v1.2h-1.2zM0.8 24.7h0.9v0.9h-0.9zM53.5 3.3h0.7v0.7h-0.7zM26.5 16.7h0.8v0.8h-0.8zM37.1 20.1h0.8v0.8h-0.8zM71.2 5.2h0.8v0.8h-0.8z" fill="#3e3c50" fill-opacity="0.6"/>
<path d="M52.6 18.7h1.0v1.0h-1.0zM65.7 21.5h1.4v1.4h-1.4zM69.9 47.2h1.2v1.2h-1.2zM34.0 2.1h0.9v0.9h-0.9zM71.1 48.1h1.2v1.2h-1.2zM63.2 37.2h1.2v1.2h-1.2zM4.8 30.8h1.0v1.0h-1.0zM33.7 25.4h0.9v0.9h-0.9zM15.5 14.6h1.4v1.4h-1.4zM11.5 30.7h1.2v1.2h-1.2zM40.6 44.0h1.3v1.3h-1.3zM63.6 10.6h1.1v1.1h-1.1zM36.1 11.3h1.1v1.1h-1.1zM58.9 10.0h1.2v1.2h-1.2zM25.1 31.8h1.2v1.2h-1.2z" fill="#5a4ccc" fill-opacity="0.85"/>
<path d="M14.4,16.4 L14.2,15.8 L14.9,14.8 L15.3,14.6 L16.3,14.3 L16.4,16.1 L15.7,16.8ZM7.4,23.4 L7.4,22.8 L7.7,22.2 L8.4,22.3 L8.8,23.0 L8.4,23.3 L8.2,23.8ZM35.5,21.0 L34.3,20.7 L33.3,19.8 L32.7,19.0 L34.0,18.7 L35.4,19.9ZM9.5,14.3 L9.5,12.7 L11.1,11.8 L11.2,12.9 L10.4,13.9Z" fill="#4a3cbc"/>
<path d="M68.1,24.3 L67.2,23.2 L67.6,21.2 L68.8,21.2 L69.5,22.7ZM19.7,14.1 L20.0,13.1 L20.8,11.1 L22.1,10.9 L22.2,11.5 L21.7,13.0 L21.2,13.7ZM46.8,11.4 L46.2,11.4 L45.5,10.0 L45.9,9.5 L46.9,10.4ZM32.3,6.8 L32.0,6.1 L32.6,4.8 L33.7,4.6 L34.3,5.3 L33.3,6.6ZM46.7,47.2 L45.9,46.6 L45.8,44.3 L47.1,44.3 L47.8,45.3 L47.6,46.5ZM50.6,36.6 L49.4,36.9 L48.8,36.2 L47.9,34.9 L48.5,34.6 L49.6,35.0 L50.4,35.4ZM22.9,7.8 L20.1,8.2 L18.7,8.0 L14.9,6.8 L16.9,6.5 L17.9,5.6 L20.9,6.4ZM38.1,3.2 L36.7,4.1 L35.6,3.6 L35.7,2.5 L36.4,2.4 L37.4,2.5ZM36.2,34.9 L36.2,34.0 L37.5,30.7 L38.4,29.5 L39.0,30.1 L38.4,31.9 L37.9,33.9ZM72.7,7.7 L71.1,7.3 L71.0,6.3 L70.6,4.6 L71.8,4.5 L72.4,5.7 L72.7,6.8ZM21.9,27.3 L21.3,26.1 L20.6,24.5 L21.3,20.6 L22.1,21.1 L22.7,23.2 L22.7,25.9Z" fill="#5244c6" fill-opacity="0.92"/>
</g>
<rect x="61.40" y="43.40" width="11.5" height="0.8" fill="#111"/>
<rect x="63.10" y="45.20" width="8" height="1.1" fill="#777" fill-opacity="0.55"/>
</svg>
<svg x="31.60" y="765.40" width="76.20" height="50.80" viewBox="0 0 76.20 50.80" overflow="hidden">
<rect width="76.20" height="50.80" fill="#ccc" filter="url(#invf)"/>
<g filter="url(#soft)">
<path d="M39.6 13.9h1.0v1.0h-1.0zM60.8 32.9h0.6v0.6h-0.6zM18.3 17.2h1.2v1.2h-1.2zM50.2 26.9h1.0v1.0h-1.0zM8.0 34.7h1.0v1.0h-1.0zM16.0 18.2h0.8v0.8h-0.8zM72.9 18.8h0.6v0.6h-0.6zM62.0 43.9h0.8v0.8h-0.8zM55.3 49.8h0.8v0.8h-0.8zM50.6 27.8h0.9v0.9h-0.9zM41.0 42.9h1.2v1.2h-1.2zM70.9 6.6h1.1v1.1h-1.1zM8.8 7.9h0.7v0.7h-0.7zM6.6 22.3h0.7v0.7h-0.7zM33.3 45.2h0.8v0.8h-0.8zM6.1 38.5h0.9v0.9h-0.9zM14.0 17.2h0.8v0.8h-0.8zM42.8 46.9h0.7v0.7h-0.7zM33.3 13.7h1.0v1.0h-1.0zM67.6 11.0h0.7v0.7h-0.7zM26.1 27.7h0.9v0.9h-0.9zM46.7 11.7h0.9v0.9h-0.9zM11.0 29.7h0.8v0.8h-0.8zM61.7 25.5h0.6v0.6h-0.6zM47.2 16.3h0.9v0.9h-0.9zM6.9 33.9h0.8v0.8h-0.8zM3.9 23.1h0.7v0.7h-0.7zM36.0 9.1h0.7v0.7h-0.7zM10.3 9.1h1.1v1.1h-1.1zM12.2 18.5h0.9v0.9h-0.9zM13.0 8.7h0.8v0.8h-0.8zM67.3 44.5h1.0v1.0h-1.0zM5.2 10.6h1.0v1.0h-1.0zM21.6 5.8h0.8v0.8h-0.8zM69.6 9.3h1.1v1.1h-1.1zM3.3 32.5h1.1v1.1h-1.1zM2.0 22.7h1.2v1.2h-1.2zM70.5 29.6h0.7v0.7h-0.7zM29.1 14.0h1.0v1.0h-1.0zM16.2 37.8h1.0v1.0h-1.0zM33.9 18.9h1.1v1.1h-1.1zM15.8 27.7h0.6v0.6h-0.6zM3.3 24.3h0.7v0.7h-0.7zM20.7 14.3h0.7v0.7h-0.7zM34.1 15.0h1.1v1.1h-1.1zM64.2 24.0h0.7v0.7h-0.7zM72.4 17.0h0.6v0.6h-0.6zM54.8 9.4h1.2v1.2h-1.2zM28.1 0.7h1.0v1.0h-1.0zM27.0 6.9h0.6v0.6h-0.6zM42.4 4.5h0.7v0.7h-0.7zM22.2 25.5h0.9v0.9h-0.9zM52.7 44.1h1.1v1.1h-1.1zM23.2 37.9h1.1v1.1h-1.1zM34.8 29.4h1.0v1.0h-1.0zM37.5 27.5h1.2v1.2h-1.2zM29.6 2.2h0.8v0.8h-0.8zM12.0 34.8h0.9v0.9h-0.9zM40.8 39.3h1.1v1.1h-1.1zM14.4 45.0h1.2v1.2h-1.2zM14.8 6.0h0.7v0.7h-0.7zM48.1 19.5h1.2v1.2h-1.2zM37.6 14.5h0.7v0.7h-0.7zM42.5 5.8h0.9v0.9h-0.9zM20.6 35.6h0.9v0.9h-0.9zM33.4 36.0h0.6v0.6h-0.6zM32.9 18.4h1.1v1.1h-1.1zM38.5 18.2h1.0v1.0h-1.0zM17.3 37.6h1.2v1.2h-1.2zM41.7 45.7h0.7v0.7h-0.7zM63.6 42.2h0.8v0.8h-0.8zM70.3 29.4h1.0v1.0h-1.0zM64.5 10.7h0.7v0.7h-0.7zM64.1 24.3h0.7v0.7h-0.7zM63.7 19.1h0.8v0.8h-0.8zM48.8 9.0h1.0v1.0h-1.0zM41.4 27.5h0.9v0.9h-0.9zM42.0 16.2h0.7v0.7h-0.7zM23.1 9.2h0.7v0.7h-0.7zM33.9 1.3h0.9v0.9h-0.9zM74.8 43.3h0.9v0.9h-0.9zM55.3 40.1h1.2v1.2h-1.2zM46.3 48.4h0.7v0.7h-0.7zM41.7 2.5h1.0v1.0h-1.0zM47.7 38.0h0.7v0.7h-0.7zM10.6 50.6h1.1v1.1h-1.1zM39.7 21.1h1.0v1.0h-1.0zM28.7 25.5h0.6v0.6h-0.6zM26.6 40.1h0.7v0.7h-0.7zM42.8 22.4h0.8v0.8h-0.8zM32.8 24.4h0.6v0.6h-0.6zM57.1 9.9h0.7v0.7h-0.7zM43.8 19.0h1.2v1.2h-1.2zM42.5 44.8h1.1v1.1h-1.1zM64.4 5.7h1.0v1.0h-1.0zM22.0 35.5h1.0v1.0h-1.0zM16.0 24.1h0.8v0.8h-0.8zM67.9 28.3h0.7v0.7h-0.7zM60.6 25.9h1.0v1.0h-1.0zM28.4 21.8h0.7v0.7h-0.7z" fill="#3e3c50" fill-opacity="0.6"/>
<path d="M45.7 17.0h1.0v1.0h-1.0zM14.1 6.5h1.4v1.4h-1.4zM30.9 5.5h1.1v1.1h-1.1zM55.6 19.7h1.0v1.0h-1.0zM54.4 23.8h1.5v1.5h-1.5zM6.8 39.0h1.5v1.5h-1.5zM41.4 1.6h1.2v1.2h-1.2zM17.9 5.4h1.0v1.0h-1.0zM15.8 18.9h1.1v1.1h-1.1zM57.1 41.6h1.3v1.3h-1.3zM27.6 35.0h1.0v1.0h-1.0zM15.7 34.9h1.5v1.5h-1.5zM42.6 39.3h1.6v1.6h-1.6zM22.5 12.1h1.1v1.1h-1.1zM2.0 10.0h1.0v1.0h-1.0zM19.0 20.2h1.3v1.3h-1.3zM47.5 17.8h1.3v1.3h-1.3zM27.9 44.8h1.5v1.5h-1.5zM7.7 43.7h0.9v0.9h-0.9zM14.5 27.5h1.0v1.0h-1.0zM54.8 45.4h1.2v1.2h-1.2zM50.6 6.7h1.0v1.0h-1.0zM55.3 7.5h1.1v1.1h-1.1zM65.1 0.4h1.2v1.2h-1.2z" fill="#5a4ccc" fill-opacity="0.85"/>
<path d="M33.0,37.7 L33.4,36.6 L34.2,36.2 L35.3,36.0 L35.7,36.8 L35.7,37.9 L34.1,38.4ZM20.2,40.2 L17.8,39.0 L17.7,37.2 L19.2,36.4 L19.9,35.7 L20.7,37.8 L20.5,38.6ZM3.4,22.2 L3.8,20.3 L6.3,18.0 L7.5,19.0 L6.5,21.2ZM42.0,51.9 L40.1,49.4 L41.8,45.2 L43.0,44.5 L44.4,48.9ZM37.6,6.0 L38.5,3.3 L40.0,2.4 L41.1,2.7 L39.8,5.1ZM34.9,31.9 L34.4,33.6 L31.9,30.9 L31.6,28.8 L32.7,28.4 L34.8,28.8 L35.3,30.8ZM31.1,46.9 L29.7,46.3 L28.2,44.3 L29.5,43.8 L31.1,43.1 L32.6,45.4Z" fill="#4a3cbc"/>
<path d="M10.6,22.7 L10.5,21.8 L13.5,20.4 L14.0,21.1 L13.7,22.5 L11.2,23.4ZM51.3,35.0 L50.3,36.4 L47.1,36.0 L45.5,34.5 L47.6,33.1 L49.8,33.0ZM27.0,32.1 L27.3,30.8 L30.3,28.2 L34.1,27.1 L34.0,28.8 L32.6,30.9 L29.5,32.7ZM-1.1,4.4 L-1.4,2.4 L2.4,-1.7 L5.5,-2.5 L5.7,-1.4 L4.4,1.1 L0.7,4.7ZM36.3,3.1 L35.0,4.2 L33.0,3.2 L31.3,2.3 L33.6,1.6 L36.2,1.6ZM75.1,8.7 L73.4,7.5 L72.1,4.2 L73.3,2.7 L75.8,7.4ZM2.0,4.8 L2.0,3.8 L3.8,3.9 L4.4,4.6 L4.1,5.8 L2.1,5.5ZM42.9,9.9 L44.0,5.8 L47.3,4.4 L48.9,4.8 L46.4,8.3ZM70.9,16.0 L69.3,16.3 L66.5,14.7 L67.3,13.1 L69.3,13.3 L70.8,13.5ZM30.3,30.9 L29.7,28.8 L32.3,27.7 L34.2,28.6 L34.4,30.6 L32.2,31.3ZM34.8,10.4 L34.1,9.0 L35.3,4.7 L37.8,1.8 L38.3,3.8 L37.0,8.1ZM40.3,16.1 L37.8,16.3 L34.7,14.7 L35.6,13.9 L38.1,14.3ZM38.8,18.3 L37.2,17.8 L35.7,15.5 L36.7,13.9 L39.6,16.1ZM42.1,4.7 L40.8,4.4 L40.1,2.0 L41.6,-0.1 L42.6,-1.2 L43.1,2.3 L43.4,4.3ZM64.7,13.9 L63.8,14.8 L62.3,13.1 L61.4,11.7 L61.8,10.9 L63.9,12.4 L65.8,13.9ZM27.6,10.3 L25.4,8.1 L23.2,4.4 L24.2,3.2 L24.8,2.1 L27.8,6.9ZM4.0,37.7 L4.7,35.5 L6.7,35.7 L7.3,36.8 L5.8,37.7Z" fill="#5244c6" fill-opacity="0.92"/>
</g>
<rect x="61.70" y="43.40" width="11.5" height="0.8" fill="#111"/>
<rect x="63.40" y="45.20" width="8" height="1.1" fill="#777" fill-opacity="0.55"/>
</svg>
<svg x="113.20" y="765.40" width="76.80" height="50.80" viewBox="0 0 76.80 50.80" overflow="hidden">
<rect width="76.80" height="50.80" fill="#ccc" filter="url(#invf)"/>
<g filter="url(#soft)">
<path d="M24.2 39.1h0.7v0.7h-0.7zM22.0 19.8h1.1v1.1h-1.1zM26.7 30.2h0.7v0.7h-0.7zM13.2 35.5h0.9v0.9h-0.9zM55.3 22.4h0.9v0.9h-0.9zM15.4 11.3h0.6v0.6h-0.6zM12.9 22.9h1.0v1.0h-1.0zM56.6 32.7h1.1v1.1h-1.1zM56.6 0.4h1.1v1.1h-1.1zM38.2 22.1h0.7v0.7h-0.7zM11.8 3.4h0.7v0.7h-0.7zM60.5 19.0h1.1v1.1h-1.1zM75.6 31.6h0.7v0.7h-0.7zM12.2 49.0h0.9v0.9h-0.9zM25.8 48.5h0.7v0.7h-0.7zM67.4 0.5h0.9v0.9h-0.9zM25.8 49.4h0.9v0.9h-0.9zM43.6 41.0h1.0v1.0h-1.0zM63.8 41.5h0.6v0.6h-0.6zM10.6 20.7h0.8v0.8h-0.8zM62.8 7.2h1.2v1.2h-1.2zM62.3 33.0h0.8v0.8h-0.8zM60.0 35.9h1.1v1.1h-1.1zM23.3 40.1h0.7v0.7h-0.7zM34.8 7.0h0.8v0.8h-0.8zM72.7 50.7h0.7v0.7h-0.7zM49.8 0.2h0.8v0.8h-0.8zM33.7 11.7h0.6v0.6h-0.6zM51.5 45.7h0.7v0.7h-0.7zM28.5 37.8h1.0v1.0h-1.0zM53.9 16.1h1.2v1.2h-1.2zM61.0 41.0h1.0v1.0h-1.0zM13.2 48.1h1.0v1.0h-1.0zM38.2 34.5h1.1v1.1h-1.1zM12.2 9.2h0.8v0.8h-0.8zM10.4 35.7h0.7v0.7h-0.7zM47.6 31.4h1.0v1.0h-1.0zM60.7 26.8h0.7v0.7h-0.7zM69.0 31.8h0.9v0.9h-0.9zM66.7 41.4h1.0v1.0h-1.0zM30.1 10.5h0.6v0.6h-0.6zM3.5 1.2h1.0v1.0h-1.0zM10.1 35.3h0.8v0.8h-0.8zM15.1 48.7h0.8v0.8h-0.8zM7.8 33.0h1.0v1.0h-1.0zM72.8 40.3h0.8v0.8h-0.8zM45.0 8.9h0.8v0.8h-0.8zM35.9 12.0h1.1v1.1h-1.1zM60.4 19.5h1.1v1.1h-1.1zM31.8 9.3h0.8v0.8h-0.8zM9.1 36.0h0.8v0.8h-0.8zM4.8 3.3h0.9v0.9h-0.9zM67.1 12.0h1.1v1.1h-1.1zM61.2 4.1h0.8v0.8h-0.8zM69.9 38.4h1.0v1.0h-1.0zM1.5 12.5h1.0v1.0h-1.0zM10.9 10.5h0.6v0.6h-0.6zM39.4 10.1h1.1v1.1h-1.1zM6.3 35.5h1.2v1.2h-1.2zM19.1 19.6h1.1v1.1h-1.1zM15.8 26.0h0.7v0.7h-0.7zM29.6 25.6h0.6v0.6h-0.6zM68.3 22.0h0.6v0.6h-0.6zM7.4 13.4h0.6v0.6h-0.6zM54.2 10.6h0.9v0.9h-0.9zM38.3 12.8h1.0v1.0h-1.0zM27.8 35.2h0.9v0.9h-0.9zM49.7 48.7h1.1v1.1h-1.1zM62.4 41.0h1.1v1.1h-1.1zM33.2 17.6h1.2v1.2h-1.2zM24.1 22.6h0.8v0.8h-0.8zM5.6 28.0h0.8v0.8h-0.8zM13.2 45.8h0.8v0.8h-0.8zM37.8 50.1h1.2v1.2h-1.2zM69.9 35.5h0.8v0.8h-0.8zM28.4 40.8h0.9v0.9h-0.9zM62.9 13.4h1.0v1.0h-1.0zM71.4 23.2h0.6v0.6h-0.6zM23.7 10.4h1.0v1.0h-1.0zM27.7 20.5h0.8v0.8h-0.8zM61.0 25.5h0.6v0.6h-0.6zM12.0 9.0h1.0v1.0h-1.0zM17.7 18.5h1.1v1.1h-1.1zM47.4 41.7h0.9v0.9h-0.9zM37.4 5.0h0.7v0.7h-0.7zM38.8 36.9h0.6v0.6h-0.6zM13.2 31.3h0.7v0.7h-0.7zM25.4 31.0h1.0v1.0h-1.0zM4.3 4.0h0.9v0.9h-0.9zM16.6 7.2h0.8v0.8h-0.8zM37.1 32.8h1.2v1.2h-1.2zM75.4 41.5h0.8v0.8h-0.8zM8.5 12.6h0.7v0.7h-0.7zM62.0 39.8h0.9v0.9h-0.9zM4.9 12.7h1.0v1.0h-1.0zM27.1 18.4h1.0v1.0h-1.0zM0.1 15.3h0.9v0.9h-0.9zM42.1 27.1h0.7v0.7h-0.7zM7.4 11.0h0.6v0.6h-0.6zM70.5 44.0h0.6v0.6h-0.6z" fill="#3e3c50" fill-opacity="0.6"/>
<path d="M61.4 7.3h0.9v0.9h-0.9zM22.2 2.7h1.5v1.5h-1.5zM26.6 44.3h1.1v1.1h-1.1zM76.4 41.5h1.6v1.6h-1.6zM47.5 23.0h1.6v1.6h-1.6zM34.4 5.7h1.0v1.0h-1.0zM46.5 19.0h1.2v1.2h-1.2zM4.9 28.1h1.6v1.6h-1.6zM19.7 32.2h1.3v1.3h-1.3zM73.3 21.7h1.5v1.5h-1.5zM20.7 37.2h1.1v1.1h-1.1zM29.1 46.2h1.5v1.5h-1.5zM31.4 47.3h1.1v1.1h-1.1zM71.6 0.7h1.5v1.5h-1.5zM39.0 32.0h1.5v1.5h-1.5zM13.0 9.8h1.4v1.4h-1.4zM67.6 39.1h1.1v1.1h-1.1zM13.1 32.4h1.2v1.2h-1.2zM29.0 47.4h1.5v1.5h-1.5zM50.2 27.7h1.3v1.3h-1.3zM68.7 22.2h1.6v1.6h-1.6zM50.8 3.4h1.3v1.3h-1.3z" fill="#5a4ccc" fill-opacity="0.85"/>
<path d="M42.5,8.9 L40.5,9.2 L39.1,8.1 L39.2,7.2 L41.6,7.6ZM23.4,30.3 L22.1,28.0 L21.7,26.3 L21.9,25.2 L22.2,23.4 L23.3,25.7 L24.0,28.8ZM40.9,10.5 L38.6,10.5 L36.3,9.2 L34.4,6.8 L35.8,6.7 L37.2,6.1 L39.1,8.0ZM18.7,39.6 L17.4,39.0 L15.9,33.7 L16.9,32.9 L18.2,34.0 L18.8,36.8ZM8.2,7.8 L8.2,9.1 L6.1,8.5 L5.5,7.5 L5.8,6.7 L7.7,6.6ZM60.3,27.9 L60.4,27.1 L61.6,26.4 L63.8,27.0 L63.9,27.7 L62.5,28.8 L61.1,28.9ZM26.4,15.3 L25.4,15.4 L24.4,14.5 L23.9,13.0 L24.7,13.2 L26.1,14.0ZM14.7,20.3 L16.3,19.1 L19.0,19.0 L20.9,19.9 L18.2,21.5 L15.2,21.6ZM10.7,23.3 L11.4,21.7 L13.0,20.6 L13.3,22.5 L12.0,23.5ZM67.1,6.5 L65.3,4.0 L64.4,1.3 L64.9,-1.1 L67.0,3.7ZM27.9,7.6 L30.9,5.1 L35.9,3.9 L37.1,5.5 L31.6,7.4Z" fill="#4a3cbc"/>
<path d="M31.9,16.2 L33.0,14.7 L34.9,14.6 L36.5,15.8 L34.9,17.4 L32.7,17.7ZM70.5,26.6 L69.2,24.9 L68.3,22.4 L67.5,19.0 L68.6,18.0 L70.2,20.8 L70.6,23.2ZM46.6,38.9 L45.5,38.7 L43.9,38.2 L43.4,36.8 L44.5,36.1 L46.3,37.5ZM59.2,6.1 L55.5,5.2 L53.0,2.4 L53.2,0.9 L57.5,3.9ZM26.6,53.3 L25.3,52.1 L22.8,48.6 L22.2,45.8 L24.8,48.0 L27.5,52.0ZM37.4,45.3 L36.4,45.4 L35.2,43.4 L34.9,42.7 L35.8,41.7 L37.4,42.8 L37.6,43.3ZM15.1,36.4 L16.4,34.2 L19.8,31.4 L20.8,32.4 L22.9,32.2 L19.1,35.0 L17.6,35.8ZM11.8,38.5 L11.4,36.3 L13.1,34.0 L14.3,35.3 L13.3,37.6ZM67.2,16.5 L66.6,14.9 L67.6,13.3 L68.5,13.8 L68.4,15.5ZM60.2,5.1 L60.7,2.6 L62.6,0.9 L63.3,2.8 L63.0,4.1ZM52.7,22.2 L52.2,21.5 L53.0,20.2 L54.2,19.7 L54.7,20.3 L54.4,21.6 L54.1,22.0Z" fill="#5244c6" fill-opacity="0.92"/>
</g>
<rect x="62.30" y="43.40" width="11.5" height="0.8" fill="#111"/>
<rect x="64.00" y="45.20" width="8" height="1.1" fill="#777" fill-opacity="0.55"/>
</svg>
<svg x="194.10" y="765.40" width="76.70" height="50.80" viewBox="0 0 76.70 50.80" overflow="hidden">
<rect width="76.70" height="50.80" fill="#ccc" filter="url(#invf)"/>
<g filter="url(#soft)">
<path d="M31.6 20.7h1.1v1.1h-1.1zM68.9 15.6h1.1v1.1h-1.1zM73.5 42.5h0.6v0.6h-0.6zM75.2 13.2h1.1v1.1h-1.1zM13.1 29.3h0.8v0.8h-0.8zM52.9 39.0h1.1v1.1h-1.1zM63.7 44.4h1.0v1.0h-1.0zM40.8 39.7h1.0v1.0h-1.0zM61.0 19.4h1.2v1.2h-1.2zM68.3 10.0h1.1v1.1h-1.1zM42.0 30.7h1.1v1.1h-1.1zM51.6 34.0h1.1v1.1h-1.1zM11.6 3.4h0.8v0.8h-0.8zM27.5 6.7h0.6v0.6h-0.6zM37.0 43.7h1.1v1.1h-1.1zM35.0 44.3h1.0v1.0h-1.0zM44.5 3.1h0.8v0.8h-0.8zM29.3 4.2h0.8v0.8h-0.8zM45.9 4.2h0.8v0.8h-0.8zM59.4 20.3h1.0v1.0h-1.0zM12.0 10.3h1.1v1.1h-1.1zM58.4 5.5h1.0v1.0h-1.0zM59.2 38.5h1.0v1.0h-1.0zM61.2 19.5h1.0v1.0h-1.0zM20.2 27.7h1.1v1.1h-1.1zM65.4 37.5h1.0v1.0h-1.0zM8.5 46.0h0.8v0.8h-0.8zM66.4 3.6h1.0v1.0h-1.0zM37.8 49.0h1.1v1.1h-1.1zM39.0 37.3h0.9v0.9h-0.9zM72.7 8.6h1.2v1.2h-1.2zM70.1 14.8h1.0v1.0h-1.0zM63.4 35.7h1.2v1.2h-1.2zM41.2 24.0h1.2v1.2h-1.2zM38.7 31.7h1.1v1.1h-1.1zM7.3 13.0h1.0v1.0h-1.0zM24.4 41.3h0.9v0.9h-0.9zM70.9 24.7h0.7v0.7h-0.7zM51.0 5.3h1.0v1.0h-1.0zM27.9 15.4h0.7v0.7h-0.7zM36.8 36.0h1.0v1.0h-1.0zM65.2 23.2h1.0v1.0h-1.0zM41.7 1.0h0.9v0.9h-0.9zM52.1 4.0h0.7v0.7h-0.7zM73.9 36.5h0.8v0.8h-0.8zM18.9 46.0h1.0v1.0h-1.0zM35.2 34.0h1.1v1.1h-1.1zM3.5 8.2h0.7v0.7h-0.7zM67.0 2.9h0.6v0.6h-0.6zM71.2 10.4h0.6v0.6h-0.6zM75.7 36.1h0.8v0.8h-0.8zM64.0 46.0h0.6v0.6h-0.6zM46.1 42.9h1.2v1.2h-1.2zM62.2 35.6h1.1v1.1h-1.1zM39.8 47.0h0.7v0.7h-0.7zM34.9 2.8h1.1v1.1h-1.1zM60.6 27.8h0.9v0.9h-0.9zM73.0 20.4h1.0v1.0h-1.0zM59.1 3.5h0.8v0.8h-0.8zM27.5 32.5h0.8v0.8h-0.8zM1.2 11.6h0.9v0.9h-0.9zM39.5 50.3h1.2v1.2h-1.2zM11.2 42.5h0.6v0.6h-0.6zM1.1 40.6h1.1v1.1h-1.1zM59.4 47.9h0.7v0.7h-0.7zM45.2 7.2h0.6v0.6h-0.6zM64.1 8.5h0.9v0.9h-0.9zM54.7 47.9h1.0v1.0h-1.0zM74.9 0.2h0.7v0.7h-0.7zM53.2 23.8h1.1v1.1h-1.1zM50.1 47.8h0.8v0.8h-0.8zM72.3 19.3h0.8v0.8h-0.8zM61.7 9.5h1.1v1.1h-1.1zM2.8 39.9h0.9v0.9h-0.9zM8.4 15.5h1.1v1.1h-1.1zM32.2 25.4h0.6v0.6h-0.6zM55.2 5.2h0.6v0.6h-0.6zM39.2 24.4h0.8v0.8h-0.8zM52.5 9.8h1.2v1.2h-1.2zM68.7 30.7h0.8v0.8h-0.8zM75.8 28.2h1.1v1.1h-1.1zM24.9 5.3h0.9v0.9h-0.9zM44.3 10.8h0.8v0.8h-0.8zM11.1 37.4h0.6v0.6h-0.6zM40.7 18.2h0.7v0.7h-0.7zM1.4 44.9h0.9v0.9h-0.9zM47.6 32.1h1.2v1.2h-1.2zM65.0 26.1h1.2v1.2h-1.2zM60.5 50.2h1.1v1.1h-1.1zM53.3 32.5h0.8v0.8h-0.8zM41.9 14.4h1.0v1.0h-1.0zM42.0 28.5h0.9v0.9h-0.9zM31.7 5.7h1.0v1.0h-1.0zM41.0 14.3h0.9v0.9h-0.9zM13.7 22.0h0.9v0.9h-0.9zM6.9 11.0h1.0v1.0h-1.0zM47.9 36.1h0.9v0.9h-0.9zM71.6 22.2h1.1v1.1h-1.1zM12.2 2.2h1.0v1.0h-1.0zM25.3 6.3h1.0v1.0h-1.0z" fill="#3e3c50" fill-opacity="0.6"/>
<path d="M72.3 45.3h1.0v1.0h-1.0zM29.6 14.8h1.3v1.3h-1.3zM16.4 50.6h1.3v1.3h-1.3zM35.9 18.6h1.1v1.1h-1.1zM17.3 13.0h1.6v1.6h-1.6zM75.9 46.1h1.3v1.3h-1.3zM24.3 17.1h1.4v1.4h-1.4zM42.5 44.1h1.4v1.4h-1.4zM44.4 48.8h1.2v1.2h-1.2zM22.4 41.9h1.3v1.3h-1.3zM34.7 31.7h1.5v1.5h-1.5zM33.2 18.5h1.4v1.4h-1.4zM1.7 44.5h1.2v1.2h-1.2zM59.8 33.2h1.6v1.6h-1.6zM47.2 50.2h1.0v1.0h-1.0z" fill="#5a4ccc" fill-opacity="0.85"/>
<path d="M20.1,39.9 L17.6,40.5 L14.7,39.4 L16.3,38.7 L18.0,38.7ZM16.5,10.6 L15.0,10.1 L12.2,5.9 L12.3,4.3 L12.6,2.9 L14.4,5.7 L15.7,8.3ZM39.1,41.6 L39.3,40.1 L39.9,38.6 L41.4,37.0 L41.1,38.4 L41.2,39.1 L40.5,40.7ZM43.7,50.3 L42.4,50.9 L40.5,50.8 L39.8,49.4 L40.3,48.5 L41.2,48.5 L42.9,49.1ZM13.9,38.3 L12.3,38.5 L10.1,38.0 L8.6,36.6 L9.3,36.0 L11.0,35.8 L12.8,37.4ZM51.2,49.2 L50.9,48.4 L51.8,47.2 L53.4,46.6 L53.7,47.4 L53.0,48.4 L52.4,49.0ZM50.0,47.5 L48.9,46.7 L48.9,44.4 L49.9,42.2 L51.4,43.8 L51.0,46.1ZM65.6,38.0 L65.6,38.7 L64.3,38.5 L64.1,37.8 L64.5,37.3 L64.9,37.0 L65.6,37.5ZM37.3,21.8 L38.5,20.1 L41.5,18.8 L43.8,18.2 L42.9,20.6 L39.6,21.3Z" fill="#4a3cbc"/>
<path d="M2.2,19.0 L2.7,17.1 L4.2,13.9 L5.5,12.9 L6.0,13.8 L5.1,15.9 L4.3,17.7ZM59.7,43.2 L60.6,42.6 L61.4,41.9 L63.0,41.5 L63.6,41.7 L62.9,42.8 L60.5,43.7ZM51.0,29.6 L48.9,30.0 L45.2,28.0 L46.2,26.2 L48.9,27.5ZM22.2,8.6 L20.9,7.4 L21.6,4.0 L23.0,2.8 L23.8,7.3ZM27.8,7.4 L27.4,6.4 L27.3,4.3 L28.1,3.1 L28.6,2.4 L28.6,4.8 L28.6,6.8ZM15.1,21.3 L14.6,21.4 L12.2,20.3 L11.4,19.5 L12.3,19.2 L13.5,19.0 L14.7,20.0Z" fill="#5244c6" fill-opacity="0.92"/>
</g>
<rect x="62.20" y="43.40" width="11.5" height="0.8" fill="#111"/>
<rect x="63.90" y="45.20" width="8" height="1.1" fill="#777" fill-opacity="0.55"/>
</svg>
<svg x="275.30" y="765.40" width="75.90" height="50.80" viewBox="0 0 75.90 50.80" overflow="hidden">
<rect width="75.90" height="50.80" fill="#ccc" filter="url(#invf)"/>
<g filter="url(#soft)">
<path d="M37.5 24.5h1.1v1.1h-1.1zM61.3 17.2h0.9v0.9h-0.9zM47.1 36.0h1.2v1.2h-1.2zM56.5 44.4h1.0v1.0h-1.0zM20.0 14.5h0.6v0.6h-0.6zM38.2 8.0h0.8v0.8h-0.8zM11.4 0.4h1.1v1.1h-1.1zM24.6 33.2h1.1v1.1h-1.1zM22.0 29.3h0.7v0.7h-0.7zM8.9 35.6h0.7v0.7h-0.7zM75.0 12.9h1.1v1.1h-1.1zM73.2 3.6h0.8v0.8h-0.8zM37.6 11.8h0.8v0.8h-0.8zM29.8 24.1h0.8v0.8h-0.8zM46.0 27.6h0.9v0.9h-0.9zM2.7 46.3h0.8v0.8h-0.8zM30.6 9.2h0.8v0.8h-0.8zM45.1 21.6h1.2v1.2h-1.2zM35.5 18.7h1.1v1.1h-1.1zM61.8 49.0h1.1v1.1h-1.1zM43.5 42.2h0.7v0.7h-0.7zM7.6 0.3h1.0v1.0h-1.0zM60.3 10.2h1.1v1.1h-1.1zM18.5 43.1h0.7v0.7h-0.7zM21.3 15.4h0.9v0.9h-0.9zM59.0 25.7h1.1v1.1h-1.1zM5.4 32.7h0.6v0.6h-0.6zM6.0 21.3h1.1v1.1h-1.1zM51.3 36.4h0.7v0.7h-0.7zM71.0 46.0h0.9v0.9h-0.9zM61.4 26.5h1.1v1.1h-1.1zM31.0 29.3h0.8v0.8h-0.8zM50.1 27.3h1.1v1.1h-1.1zM72.7 45.1h1.0v1.0h-1.0zM53.4 6.3h0.6v0.6h-0.6zM13.4 29.0h0.8v0.8h-0.8zM26.8 12.9h1.0v1.0h-1.0zM17.0 14.1h0.6v0.6h-0.6zM66.3 15.3h1.1v1.1h-1.1zM17.4 32.2h0.9v0.9h-0.9zM26.5 29.3h0.9v0.9h-0.9zM19.2 24.0h0.7v0.7h-0.7zM70.9 6.3h0.6v0.6h-0.6zM45.3 23.8h0.7v0.7h-0.7zM12.6 42.5h0.9v0.9h-0.9zM39.5 21.6h1.2v1.2h-1.2zM6.7 17.9h0.8v0.8h-0.8zM27.3 36.2h1.1v1.1h-1.1zM51.7 10.5h0.7v0.7h-0.7zM40.9 34.1h0.9v0.9h-0.9zM32.2 33.1h0.9v0.9h-0.9zM14.2 10.4h0.8v0.8h-0.8zM23.2 12.2h1.1v1.1h-1.1zM12.4 0.2h1.0v1.0h-1.0zM51.1 17.7h0.9v0.9h-0.9zM27.4 19.4h0.7v0.7h-0.7zM75.3 28.2h1.0v1.0h-1.0zM23.3 44.8h0.7v0.7h-0.7zM9.3 12.9h0.9v0.9h-0.9zM42.9 19.6h0.7v0.7h-0.7zM69.1 22.6h0.9v0.9h-0.9zM57.8 22.3h0.7v0.7h-0.7zM24.1 5.9h1.1v1.1h-1.1zM4.9 5.8h0.8v0.8h-0.8zM49.8 10.0h1.0v1.0h-1.0zM32.6 38.5h0.7v0.7h-0.7zM12.3 3.2h1.0v1.0h-1.0zM71.5 0.7h0.7v0.7h-0.7zM22.8 26.7h0.8v0.8h-0.8zM36.3 32.9h0.6v0.6h-0.6zM43.8 20.5h0.6v0.6h-0.6zM8.1 20.5h0.7v0.7h-0.7zM67.6 7.6h1.2v1.2h-1.2zM24.2 47.5h0.8v0.8h-0.8zM53.4 28.4h1.1v1.1h-1.1zM12.1 12.9h1.0v1.0h-1.0zM21.3 39.9h0.8v0.8h-0.8zM57.3 4.1h1.1v1.1h-1.1zM34.4 10.6h1.0v1.0h-1.0zM47.8 29.1h0.6v0.6h-0.6zM19.8 34.5h0.6v0.6h-0.6zM38.9 23.7h0.8v0.8h-0.8zM56.8 23.2h0.8v0.8h-0.8zM32.6 19.9h0.9v0.9h-0.9zM34.4 46.8h0.7v0.7h-0.7zM42.3 30.9h0.8v0.8h-0.8zM30.5 10.2h0.7v0.7h-0.7zM50.7 5.3h1.0v1.0h-1.0zM48.9 5.5h1.1v1.1h-1.1zM42.3 25.9h0.7v0.7h-0.7zM4.6 23.3h1.2v1.2h-1.2zM11.1 38.2h0.6v0.6h-0.6zM24.3 2.0h0.7v0.7h-0.7zM27.5 30.1h0.6v0.6h-0.6zM18.8 10.7h0.7v0.7h-0.7zM40.5 33.0h1.1v1.1h-1.1zM67.5 48.0h1.1v1.1h-1.1zM45.7 2.7h1.1v1.1h-1.1zM34.5 1.4h0.8v0.8h-0.8zM43.8 22.7h1.1v1.1h-1.1z" fill="#3e3c50" fill-opacity="0.6"/>
<path d="M51.9 34.2h1.4v1.4h-1.4zM66.6 22.7h1.1v1.1h-1.1zM3.0 50.0h1.6v1.6h-1.6zM62.7 24.9h1.0v1.0h-1.0zM36.4 25.5h0.9v0.9h-0.9zM56.7 11.3h1.4v1.4h-1.4zM64.4 12.7h1.2v1.2h-1.2zM5.5 40.6h1.1v1.1h-1.1zM55.8 5.9h1.5v1.5h-1.5zM70.4 49.7h1.3v1.3h-1.3zM3.4 35.2h1.3v1.3h-1.3zM63.7 40.4h1.2v1.2h-1.2zM60.3 21.6h1.3v1.3h-1.3z" fill="#5a4ccc" fill-opacity="0.85"/>
<path d="M7.4,47.6 L5.5,46.1 L5.6,43.9 L7.2,43.7 L7.7,46.5ZM38.2,9.4 L37.9,8.4 L38.2,7.6 L38.6,7.2 L39.3,7.7 L39.8,8.3 L39.1,9.1ZM23.5,21.9 L23.2,21.3 L23.3,20.8 L24.0,20.1 L24.3,20.5 L24.6,21.7 L24.1,22.3ZM60.5,45.5 L61.0,44.4 L63.1,44.0 L63.8,44.5 L64.3,45.3 L62.4,45.9 L61.5,46.2ZM57.1,25.1 L56.0,25.4 L55.4,23.7 L56.0,22.0 L56.9,22.0 L58.1,23.1 L57.9,24.3Z" fill="#4a3cbc"/>
<path d="M10.1,38.5 L8.9,38.2 L8.6,37.3 L8.9,36.9 L9.6,37.3ZM65.1,15.3 L63.9,15.2 L62.8,14.3 L62.8,13.1 L64.2,13.3 L65.3,14.2ZM18.0,4.0 L16.3,2.6 L17.2,1.1 L18.3,0.2 L18.8,2.5ZM29.4,35.0 L28.8,35.2 L27.7,33.8 L27.2,32.3 L28.0,32.1 L29.7,32.6 L30.1,34.6ZM1.2,37.7 L0.6,36.3 L2.1,35.4 L3.5,35.2 L3.4,36.0 L2.5,37.2ZM38.2,50.5 L37.5,49.3 L36.9,48.5 L37.6,47.5 L37.9,47.4 L38.9,48.0 L38.7,49.1ZM19.0,5.9 L17.5,5.6 L15.6,3.8 L15.8,2.9 L17.2,2.2 L18.4,4.2ZM26.7,35.8 L25.3,34.4 L24.4,31.3 L25.2,30.6 L26.1,31.5 L27.4,34.5Z" fill="#5244c6" fill-opacity="0.92"/>
</g>
<rect x="61.40" y="43.40" width="11.5" height="0.8" fill="#111"/>
<rect x="63.10" y="45.20" width="8" height="1.1" fill="#777" fill-opacity="0.55"/>
</svg>
<text x="168.20" y="581.40" font-size="10.4" text-anchor="start" stroke="#111" stroke-width="0.22" fill="#111">SY5Y</text>
<text x="173.00" y="710.00" font-size="10.4" text-anchor="start" stroke="#111" stroke-width="0.22" fill="#111">SK-N-SH</text>
<text x="47.80" y="700.60" font-size="11.3" text-anchor="start" stroke="#111" stroke-width="0.22" fill="#111">0</text>
<text x="125.80" y="700.60" font-size="11.3" text-anchor="start" stroke="#111" stroke-width="0.22" fill="#111">10</text>
<text x="218.30" y="700.60" font-size="11.3" text-anchor="start" stroke="#111" stroke-width="0.22" fill="#111">20</text>
<text x="312.30" y="700.60" font-size="11.3" text-anchor="start" stroke="#111" stroke-width="0.22" fill="#111">40</text>
<text x="47.80" y="827.40" font-size="11.3" text-anchor="start" stroke="#111" stroke-width="0.22" fill="#111">0</text>
<text x="125.80" y="827.40" font-size="11.3" text-anchor="start" stroke="#111" stroke-width="0.22" fill="#111">10</text>
<text x="218.30" y="827.40" font-size="11.3" text-anchor="start" stroke="#111" stroke-width="0.22" fill="#111">20</text>
<text x="312.30" y="827.40" font-size="11.3" text-anchor="start" stroke="#111" stroke-width="0.22" fill="#111">40</text>
<text x="25.60" y="610.60" font-size="11.6" text-anchor="middle" stroke="#111" stroke-width="0.22" fill="#111" transform="rotate(-90 25.60 610.60)">migration</text>
<text x="25.60" y="663.80" font-size="11.6" text-anchor="middle" stroke="#111" stroke-width="0.22" fill="#111" transform="rotate(-90 25.60 663.80)">invasion</text>
<text x="25.60" y="737.60" font-size="11.6" text-anchor="middle" stroke="#111" stroke-width="0.22" fill="#111" transform="rotate(-90 25.60 737.60)">migration</text>
<text x="25.60" y="790.50" font-size="11.6" text-anchor="middle" stroke="#111" stroke-width="0.22" fill="#111" transform="rotate(-90 25.60 790.50)">invasion</text>
<circle cx="408.50" cy="594.80" r="3.30" fill="#2e7a32"/>
<text x="418.10" y="600.10" font-size="11.5" text-anchor="start" stroke="#111" stroke-width="0.22" fill="#111">0</text>
<path d="M443.90,591.48 L451.50,591.48 L447.70,597.83 Z" fill="#c2344e" stroke="none" stroke-width="0"/>
<text x="456.20" y="600.10" font-size="11.5" text-anchor="start" stroke="#111" stroke-width="0.22" fill="#111">20</text>
<path d="M404.82,618.94 L412.18,618.94 L408.50,612.78 Z" fill="#3a78c2" stroke="none" stroke-width="0"/>
<text x="414.00" y="621.20" font-size="11.5" text-anchor="start" stroke="#111" stroke-width="0.22" fill="#111">10</text>
<rect x="444.00" y="613.50" width="6.50" height="6.50" fill="#746b5c" stroke="none" stroke-width="0"/>
<text x="455.70" y="621.20" font-size="11.5" text-anchor="start" stroke="#111" stroke-width="0.22" fill="#111">40</text>
<circle cx="568.90" cy="594.80" r="3.30" fill="#2e7a32"/>
<text x="578.50" y="600.10" font-size="11.5" text-anchor="start" stroke="#111" stroke-width="0.22" fill="#111">0</text>
<path d="M604.81,591.48 L612.39,591.48 L608.60,597.83 Z" fill="#c2344e" stroke="none" stroke-width="0"/>
<text x="616.80" y="600.10" font-size="11.5" text-anchor="start" stroke="#111" stroke-width="0.22" fill="#111">20</text>
<path d="M565.22,618.94 L572.58,618.94 L568.90,612.78 Z" fill="#3a78c2" stroke="none" stroke-width="0"/>
<text x="574.40" y="621.20" font-size="11.5" text-anchor="start" stroke="#111" stroke-width="0.22" fill="#111">10</text>
<rect x="604.90" y="613.50" width="6.50" height="6.50" fill="#746b5c" stroke="none" stroke-width="0"/>
<text x="616.30" y="621.20" font-size="11.5" text-anchor="start" stroke="#111" stroke-width="0.22" fill="#111">40</text>
<line x1="385.10" y1="689.35" x2="385.10" y2="807.70" stroke="#222" stroke-width="1.3"/>
<line x1="384.50" y1="807.10" x2="519.00" y2="807.10" stroke="#222" stroke-width="1.3"/>
<line x1="380.70" y1="807.10" x2="385.10" y2="807.10" stroke="#222" stroke-width="1.2"/>
<text x="379.50" y="810.10" font-size="8.4" text-anchor="end" font-weight="bold" stroke="#222" stroke-width="0.28" fill="#222">0</text>
<line x1="380.70" y1="783.65" x2="385.10" y2="783.65" stroke="#222" stroke-width="1.2"/>
<text x="379.50" y="786.65" font-size="8.4" text-anchor="end" font-weight="bold" stroke="#222" stroke-width="0.28" fill="#222">10</text>
<line x1="380.70" y1="760.20" x2="385.10" y2="760.20" stroke="#222" stroke-width="1.2"/>
<text x="379.50" y="763.20" font-size="8.4" text-anchor="end" font-weight="bold" stroke="#222" stroke-width="0.28" fill="#222">20</text>
<line x1="380.70" y1="736.75" x2="385.10" y2="736.75" stroke="#222" stroke-width="1.2"/>
<text x="379.50" y="739.75" font-size="8.4" text-anchor="end" font-weight="bold" stroke="#222" stroke-width="0.28" fill="#222">30</text>
<line x1="380.70" y1="713.30" x2="385.10" y2="713.30" stroke="#222" stroke-width="1.2"/>
<text x="379.50" y="716.30" font-size="8.4" text-anchor="end" font-weight="bold" stroke="#222" stroke-width="0.28" fill="#222">40</text>
<line x1="380.70" y1="689.85" x2="385.10" y2="689.85" stroke="#222" stroke-width="1.2"/>
<text x="379.50" y="692.85" font-size="8.4" text-anchor="end" font-weight="bold" stroke="#222" stroke-width="0.28" fill="#222">50</text>
<line x1="419.50" y1="807.10" x2="419.50" y2="811.30" stroke="#222" stroke-width="1.2"/>
<text x="419.50" y="824.30" font-size="11.4" text-anchor="middle" stroke="#111" stroke-width="0.22" fill="#111">migration</text>
<line x1="486.30" y1="807.10" x2="486.30" y2="811.30" stroke="#222" stroke-width="1.2"/>
<text x="486.30" y="824.30" font-size="11.4" text-anchor="middle" stroke="#111" stroke-width="0.22" fill="#111">invasion</text>
<rect x="392.40" y="713.30" width="8.70" height="93.80" fill="none" stroke="#2e7a32" stroke-width="1.6"/>
<line x1="396.75" y1="702.28" x2="396.75" y2="724.32" stroke="#2e7a32" stroke-width="0.9" stroke-opacity="0.75"/>
<line x1="394.15" y1="702.28" x2="399.35" y2="702.28" stroke="#2e7a32" stroke-width="0.9"/>
<line x1="394.15" y1="724.32" x2="399.35" y2="724.32" stroke="#2e7a32" stroke-width="0.9"/>
<circle cx="396.75" cy="699.46" r="1.45" fill="#2e7a32"/>
<circle cx="394.25" cy="709.78" r="1.45" fill="#2e7a32"/>
<circle cx="399.25" cy="709.78" r="1.45" fill="#2e7a32"/>
<circle cx="395.75" cy="723.85" r="1.45" fill="#2e7a32"/>
<circle cx="398.25" cy="722.68" r="1.45" fill="#2e7a32"/>
<rect x="407.60" y="740.97" width="8.70" height="66.13" fill="none" stroke="#3a78c2" stroke-width="1.6"/>
<line x1="411.95" y1="733.23" x2="411.95" y2="748.71" stroke="#3a78c2" stroke-width="0.9" stroke-opacity="0.75"/>
<line x1="409.35" y1="733.23" x2="414.55" y2="733.23" stroke="#3a78c2" stroke-width="0.9"/>
<line x1="409.35" y1="748.71" x2="414.55" y2="748.71" stroke="#3a78c2" stroke-width="0.9"/>
<path d="M410.28,732.08 L413.62,732.08 L411.95,729.29 Z" fill="#3a78c2" stroke="none" stroke-width="0"/>
<path d="M408.28,741.46 L411.62,741.46 L409.95,738.67 Z" fill="#3a78c2" stroke="none" stroke-width="0"/>
<path d="M412.28,741.46 L415.62,741.46 L413.95,738.67 Z" fill="#3a78c2" stroke="none" stroke-width="0"/>
<path d="M410.28,747.33 L413.62,747.33 L411.95,744.53 Z" fill="#3a78c2" stroke="none" stroke-width="0"/>
<rect x="422.80" y="757.86" width="8.70" height="49.25" fill="none" stroke="#c2344e" stroke-width="1.6"/>
<line x1="427.15" y1="752.70" x2="427.15" y2="763.01" stroke="#c2344e" stroke-width="0.9" stroke-opacity="0.75"/>
<line x1="424.55" y1="752.70" x2="429.75" y2="752.70" stroke="#c2344e" stroke-width="0.9"/>
<line x1="424.55" y1="763.01" x2="429.75" y2="763.01" stroke="#c2344e" stroke-width="0.9"/>
<path d="M425.48,751.50 L428.82,751.50 L427.15,754.29 Z" fill="#c2344e" stroke="none" stroke-width="0"/>
<path d="M423.48,757.83 L426.82,757.83 L425.15,760.62 Z" fill="#c2344e" stroke="none" stroke-width="0"/>
<path d="M427.48,757.83 L430.82,757.83 L429.15,760.62 Z" fill="#c2344e" stroke="none" stroke-width="0"/>
<path d="M425.48,761.35 L428.82,761.35 L427.15,764.14 Z" fill="#c2344e" stroke="none" stroke-width="0"/>
<rect x="437.70" y="772.63" width="8.70" height="34.47" fill="none" stroke="#746b5c" stroke-width="1.6"/>
<line x1="442.05" y1="763.72" x2="442.05" y2="781.54" stroke="#746b5c" stroke-width="0.9" stroke-opacity="0.75"/>
<line x1="439.45" y1="763.72" x2="444.65" y2="763.72" stroke="#746b5c" stroke-width="0.9"/>
<line x1="439.45" y1="781.54" x2="444.65" y2="781.54" stroke="#746b5c" stroke-width="0.9"/>
<rect x="440.60" y="762.03" width="2.90" height="2.90" fill="#746b5c" stroke="none" stroke-width="0"/>
<rect x="438.60" y="769.30" width="2.90" height="2.90" fill="#746b5c" stroke="none" stroke-width="0"/>
<rect x="442.60" y="770.01" width="2.90" height="2.90" fill="#746b5c" stroke="none" stroke-width="0"/>
<rect x="440.60" y="779.86" width="2.90" height="2.90" fill="#746b5c" stroke="none" stroke-width="0"/>
<rect x="459.40" y="725.73" width="8.70" height="81.37" fill="none" stroke="#2e7a32" stroke-width="1.6"/>
<line x1="463.75" y1="721.04" x2="463.75" y2="730.42" stroke="#2e7a32" stroke-width="0.9" stroke-opacity="0.75"/>
<line x1="461.15" y1="721.04" x2="466.35" y2="721.04" stroke="#2e7a32" stroke-width="0.9"/>
<line x1="461.15" y1="730.42" x2="466.35" y2="730.42" stroke="#2e7a32" stroke-width="0.9"/>
<circle cx="463.75" cy="720.80" r="1.45" fill="#2e7a32"/>
<circle cx="461.75" cy="725.02" r="1.45" fill="#2e7a32"/>
<circle cx="465.75" cy="725.02" r="1.45" fill="#2e7a32"/>
<circle cx="463.75" cy="729.25" r="1.45" fill="#2e7a32"/>
<rect x="474.50" y="755.51" width="8.70" height="51.59" fill="none" stroke="#3a78c2" stroke-width="1.6"/>
<line x1="478.85" y1="748.48" x2="478.85" y2="762.54" stroke="#3a78c2" stroke-width="0.9" stroke-opacity="0.75"/>
<line x1="476.25" y1="748.48" x2="481.45" y2="748.48" stroke="#3a78c2" stroke-width="0.9"/>
<line x1="476.25" y1="762.54" x2="481.45" y2="762.54" stroke="#3a78c2" stroke-width="0.9"/>
<path d="M477.18,749.67 L480.52,749.67 L478.85,746.88 Z" fill="#3a78c2" stroke="none" stroke-width="0"/>
<path d="M475.18,756.71 L478.52,756.71 L476.85,753.91 Z" fill="#3a78c2" stroke="none" stroke-width="0"/>
<path d="M479.18,756.71 L482.52,756.71 L480.85,753.91 Z" fill="#3a78c2" stroke="none" stroke-width="0"/>
<path d="M477.18,762.57 L480.52,762.57 L478.85,759.78 Z" fill="#3a78c2" stroke="none" stroke-width="0"/>
<rect x="490.00" y="769.58" width="8.70" height="37.52" fill="none" stroke="#c2344e" stroke-width="1.6"/>
<line x1="494.35" y1="762.55" x2="494.35" y2="776.62" stroke="#c2344e" stroke-width="0.9" stroke-opacity="0.75"/>
<line x1="491.75" y1="762.55" x2="496.95" y2="762.55" stroke="#c2344e" stroke-width="0.9"/>
<line x1="491.75" y1="776.62" x2="496.95" y2="776.62" stroke="#c2344e" stroke-width="0.9"/>
<path d="M492.68,759.00 L496.02,759.00 L494.35,761.80 Z" fill="#c2344e" stroke="none" stroke-width="0"/>
<path d="M490.68,768.38 L494.02,768.38 L492.35,771.18 Z" fill="#c2344e" stroke="none" stroke-width="0"/>
<path d="M494.68,768.38 L498.02,768.38 L496.35,771.18 Z" fill="#c2344e" stroke="none" stroke-width="0"/>
<path d="M492.68,774.25 L496.02,774.25 L494.35,777.04 Z" fill="#c2344e" stroke="none" stroke-width="0"/>
<rect x="504.60" y="784.12" width="8.70" height="22.98" fill="none" stroke="#746b5c" stroke-width="1.6"/>
<line x1="508.95" y1="777.55" x2="508.95" y2="790.69" stroke="#746b5c" stroke-width="0.9" stroke-opacity="0.75"/>
<line x1="506.35" y1="777.55" x2="511.55" y2="777.55" stroke="#746b5c" stroke-width="0.9"/>
<line x1="506.35" y1="790.69" x2="511.55" y2="790.69" stroke="#746b5c" stroke-width="0.9"/>
<rect x="507.50" y="776.81" width="2.90" height="2.90" fill="#746b5c" stroke="none" stroke-width="0"/>
<rect x="505.50" y="783.37" width="2.90" height="2.90" fill="#746b5c" stroke="none" stroke-width="0"/>
<rect x="509.50" y="783.37" width="2.90" height="2.90" fill="#746b5c" stroke="none" stroke-width="0"/>
<rect x="507.50" y="789.24" width="2.90" height="2.90" fill="#746b5c" stroke="none" stroke-width="0"/>
<text x="430.90" y="653.10" font-size="11.6" text-anchor="start" stroke="#111" stroke-width="0.22" fill="#111">SY5Y</text>
<text x="367.00" y="737.10" font-size="11.7" text-anchor="middle" stroke="#111" stroke-width="0.22" fill="#111" transform="rotate(-90 367.00 737.10)">Number of cells</text>
<path d="M396.10,683.80 V679.20 H442.50 V683.80" fill="none" stroke="#222" stroke-width="1.1"/>
<text x="419.90" y="681.70" font-size="10.0" text-anchor="middle" fill="#222">**</text>
<path d="M396.10,690.70 V686.10 H427.50 V690.70" fill="none" stroke="#222" stroke-width="1.1"/>
<text x="412.20" y="688.60" font-size="10.0" text-anchor="middle" fill="#222">**</text>
<path d="M396.10,696.90 V692.30 H412.20 V696.90" fill="none" stroke="#222" stroke-width="1.1"/>
<text x="404.50" y="694.80" font-size="10.0" text-anchor="middle" fill="#222">**</text>
<path d="M465.30,699.80 V695.20 H511.00 V699.80" fill="none" stroke="#222" stroke-width="1.1"/>
<text x="488.60" y="697.70" font-size="10.0" text-anchor="middle" fill="#222">**</text>
<path d="M465.30,706.90 V702.30 H495.90 V706.90" fill="none" stroke="#222" stroke-width="1.1"/>
<text x="480.90" y="704.80" font-size="10.0" text-anchor="middle" fill="#222">**</text>
<path d="M465.30,713.00 V708.40 H480.20 V713.00" fill="none" stroke="#222" stroke-width="1.1"/>
<text x="473.00" y="710.90" font-size="10.0" text-anchor="middle" fill="#222">**</text>
<line x1="545.80" y1="689.10" x2="545.80" y2="807.20" stroke="#222" stroke-width="1.3"/>
<line x1="545.20" y1="806.60" x2="682.60" y2="806.60" stroke="#222" stroke-width="1.3"/>
<line x1="541.40" y1="806.60" x2="545.80" y2="806.60" stroke="#222" stroke-width="1.2"/>
<text x="540.20" y="809.60" font-size="8.4" text-anchor="end" font-weight="bold" stroke="#222" stroke-width="0.28" fill="#222">0</text>
<line x1="541.40" y1="783.20" x2="545.80" y2="783.20" stroke="#222" stroke-width="1.2"/>
<text x="540.20" y="786.20" font-size="8.4" text-anchor="end" font-weight="bold" stroke="#222" stroke-width="0.28" fill="#222">10</text>
<line x1="541.40" y1="759.80" x2="545.80" y2="759.80" stroke="#222" stroke-width="1.2"/>
<text x="540.20" y="762.80" font-size="8.4" text-anchor="end" font-weight="bold" stroke="#222" stroke-width="0.28" fill="#222">20</text>
<line x1="541.40" y1="736.40" x2="545.80" y2="736.40" stroke="#222" stroke-width="1.2"/>
<text x="540.20" y="739.40" font-size="8.4" text-anchor="end" font-weight="bold" stroke="#222" stroke-width="0.28" fill="#222">30</text>
<line x1="541.40" y1="713.00" x2="545.80" y2="713.00" stroke="#222" stroke-width="1.2"/>
<text x="540.20" y="716.00" font-size="8.4" text-anchor="end" font-weight="bold" stroke="#222" stroke-width="0.28" fill="#222">40</text>
<line x1="541.40" y1="689.60" x2="545.80" y2="689.60" stroke="#222" stroke-width="1.2"/>
<text x="540.20" y="692.60" font-size="8.4" text-anchor="end" font-weight="bold" stroke="#222" stroke-width="0.28" fill="#222">50</text>
<line x1="581.40" y1="806.60" x2="581.40" y2="810.80" stroke="#222" stroke-width="1.2"/>
<text x="581.40" y="823.80" font-size="11.4" text-anchor="middle" stroke="#111" stroke-width="0.22" fill="#111">migration</text>
<line x1="648.40" y1="806.60" x2="648.40" y2="810.80" stroke="#222" stroke-width="1.2"/>
<text x="648.40" y="823.80" font-size="11.4" text-anchor="middle" stroke="#111" stroke-width="0.22" fill="#111">invasion</text>
<rect x="553.80" y="713.00" width="9.30" height="93.60" fill="none" stroke="#2e7a32" stroke-width="1.6"/>
<line x1="558.45" y1="704.81" x2="558.45" y2="721.19" stroke="#2e7a32" stroke-width="0.9" stroke-opacity="0.75"/>
<line x1="555.85" y1="704.81" x2="561.05" y2="704.81" stroke="#2e7a32" stroke-width="0.9"/>
<line x1="555.85" y1="721.19" x2="561.05" y2="721.19" stroke="#2e7a32" stroke-width="0.9"/>
<circle cx="558.45" cy="703.64" r="1.45" fill="#2e7a32"/>
<circle cx="555.95" cy="720.02" r="1.45" fill="#2e7a32"/>
<circle cx="560.95" cy="720.02" r="1.45" fill="#2e7a32"/>
<circle cx="558.45" cy="717.68" r="1.45" fill="#2e7a32"/>
<rect x="569.00" y="736.40" width="9.30" height="70.20" fill="none" stroke="#3a78c2" stroke-width="1.6"/>
<line x1="573.65" y1="731.25" x2="573.65" y2="741.55" stroke="#3a78c2" stroke-width="0.9" stroke-opacity="0.75"/>
<line x1="571.05" y1="731.25" x2="576.25" y2="731.25" stroke="#3a78c2" stroke-width="0.9"/>
<line x1="571.05" y1="741.55" x2="576.25" y2="741.55" stroke="#3a78c2" stroke-width="0.9"/>
<path d="M569.98,732.92 L573.32,732.92 L571.65,730.12 Z" fill="#3a78c2" stroke="none" stroke-width="0"/>
<path d="M573.98,732.92 L577.32,732.92 L575.65,730.12 Z" fill="#3a78c2" stroke="none" stroke-width="0"/>
<path d="M571.98,743.45 L575.32,743.45 L573.65,740.65 Z" fill="#3a78c2" stroke="none" stroke-width="0"/>
<path d="M571.98,737.60 L575.32,737.60 L573.65,734.81 Z" fill="#3a78c2" stroke="none" stroke-width="0"/>
<rect x="583.90" y="750.44" width="9.30" height="56.16" fill="none" stroke="#c2344e" stroke-width="1.6"/>
<line x1="588.55" y1="745.76" x2="588.55" y2="755.12" stroke="#c2344e" stroke-width="0.9" stroke-opacity="0.75"/>
<line x1="585.95" y1="745.76" x2="591.15" y2="745.76" stroke="#c2344e" stroke-width="0.9"/>
<line x1="585.95" y1="755.12" x2="591.15" y2="755.12" stroke="#c2344e" stroke-width="0.9"/>
<path d="M584.88,744.56 L588.22,744.56 L586.55,747.36 Z" fill="#c2344e" stroke="none" stroke-width="0"/>
<path d="M588.88,744.56 L592.22,744.56 L590.55,747.36 Z" fill="#c2344e" stroke="none" stroke-width="0"/>
<path d="M586.88,753.92 L590.22,753.92 L588.55,756.72 Z" fill="#c2344e" stroke="none" stroke-width="0"/>
<path d="M586.88,749.24 L590.22,749.24 L588.55,752.04 Z" fill="#c2344e" stroke="none" stroke-width="0"/>
<rect x="599.10" y="778.52" width="9.30" height="28.08" fill="none" stroke="#746b5c" stroke-width="1.6"/>
<line x1="603.75" y1="773.14" x2="603.75" y2="783.90" stroke="#746b5c" stroke-width="0.9" stroke-opacity="0.75"/>
<line x1="601.15" y1="773.14" x2="606.35" y2="773.14" stroke="#746b5c" stroke-width="0.9"/>
<line x1="601.15" y1="783.90" x2="606.35" y2="783.90" stroke="#746b5c" stroke-width="0.9"/>
<rect x="602.30" y="771.22" width="2.90" height="2.90" fill="#746b5c" stroke="none" stroke-width="0"/>
<rect x="600.30" y="778.24" width="2.90" height="2.90" fill="#746b5c" stroke="none" stroke-width="0"/>
<rect x="604.30" y="778.24" width="2.90" height="2.90" fill="#746b5c" stroke="none" stroke-width="0"/>
<rect x="602.30" y="781.75" width="2.90" height="2.90" fill="#746b5c" stroke="none" stroke-width="0"/>
<rect x="620.80" y="725.17" width="9.30" height="81.43" fill="none" stroke="#2e7a32" stroke-width="1.6"/>
<line x1="625.45" y1="720.96" x2="625.45" y2="729.38" stroke="#2e7a32" stroke-width="0.9" stroke-opacity="0.75"/>
<line x1="622.85" y1="720.96" x2="628.05" y2="720.96" stroke="#2e7a32" stroke-width="0.9"/>
<line x1="622.85" y1="729.38" x2="628.05" y2="729.38" stroke="#2e7a32" stroke-width="0.9"/>
<circle cx="625.45" cy="717.68" r="1.45" fill="#2e7a32"/>
<circle cx="623.45" cy="724.70" r="1.45" fill="#2e7a32"/>
<circle cx="627.45" cy="724.70" r="1.45" fill="#2e7a32"/>
<circle cx="625.45" cy="729.38" r="1.45" fill="#2e7a32"/>
<rect x="635.90" y="739.44" width="9.30" height="67.16" fill="none" stroke="#3a78c2" stroke-width="1.6"/>
<line x1="640.55" y1="738.04" x2="640.55" y2="740.85" stroke="#3a78c2" stroke-width="0.9" stroke-opacity="0.75"/>
<line x1="637.95" y1="738.04" x2="643.15" y2="738.04" stroke="#3a78c2" stroke-width="0.9"/>
<line x1="637.95" y1="740.85" x2="643.15" y2="740.85" stroke="#3a78c2" stroke-width="0.9"/>
<path d="M636.88,739.94 L640.22,739.94 L638.55,737.14 Z" fill="#3a78c2" stroke="none" stroke-width="0"/>
<path d="M640.88,739.94 L644.22,739.94 L642.55,737.14 Z" fill="#3a78c2" stroke="none" stroke-width="0"/>
<path d="M638.88,741.81 L642.22,741.81 L640.55,739.02 Z" fill="#3a78c2" stroke="none" stroke-width="0"/>
<path d="M638.88,738.77 L642.22,738.77 L640.55,735.98 Z" fill="#3a78c2" stroke="none" stroke-width="0"/>
<rect x="650.80" y="759.33" width="9.30" height="47.27" fill="none" stroke="#c2344e" stroke-width="1.6"/>
<line x1="655.45" y1="753.95" x2="655.45" y2="764.71" stroke="#c2344e" stroke-width="0.9" stroke-opacity="0.75"/>
<line x1="652.85" y1="753.95" x2="658.05" y2="753.95" stroke="#c2344e" stroke-width="0.9"/>
<line x1="652.85" y1="764.71" x2="658.05" y2="764.71" stroke="#c2344e" stroke-width="0.9"/>
<path d="M653.78,749.24 L657.12,749.24 L655.45,752.04 Z" fill="#c2344e" stroke="none" stroke-width="0"/>
<path d="M651.78,759.77 L655.12,759.77 L653.45,762.57 Z" fill="#c2344e" stroke="none" stroke-width="0"/>
<path d="M655.78,759.77 L659.12,759.77 L657.45,762.57 Z" fill="#c2344e" stroke="none" stroke-width="0"/>
<path d="M653.78,763.28 L657.12,763.28 L655.45,766.08 Z" fill="#c2344e" stroke="none" stroke-width="0"/>
<rect x="666.00" y="783.67" width="9.30" height="22.93" fill="none" stroke="#746b5c" stroke-width="1.6"/>
<line x1="670.65" y1="782.26" x2="670.65" y2="785.07" stroke="#746b5c" stroke-width="0.9" stroke-opacity="0.75"/>
<line x1="668.05" y1="782.26" x2="673.25" y2="782.26" stroke="#746b5c" stroke-width="0.9"/>
<line x1="668.05" y1="785.07" x2="673.25" y2="785.07" stroke="#746b5c" stroke-width="0.9"/>
<rect x="667.20" y="781.75" width="2.90" height="2.90" fill="#746b5c" stroke="none" stroke-width="0"/>
<rect x="671.20" y="781.75" width="2.90" height="2.90" fill="#746b5c" stroke="none" stroke-width="0"/>
<rect x="669.20" y="783.15" width="2.90" height="2.90" fill="#746b5c" stroke="none" stroke-width="0"/>
<rect x="669.20" y="780.58" width="2.90" height="2.90" fill="#746b5c" stroke="none" stroke-width="0"/>
<text x="593.50" y="653.10" font-size="11.6" text-anchor="start" stroke="#111" stroke-width="0.22" fill="#111">SK-N-SH</text>
<text x="528.00" y="736.60" font-size="11.7" text-anchor="middle" stroke="#111" stroke-width="0.22" fill="#111" transform="rotate(-90 528.00 736.60)">Number of cells</text>
<path d="M558.50,686.90 V682.30 H604.80 V686.90" fill="none" stroke="#222" stroke-width="1.1"/>
<text x="581.60" y="684.80" font-size="10.0" text-anchor="middle" fill="#222">**</text>
<path d="M558.50,694.90 V690.30 H589.80 V694.90" fill="none" stroke="#222" stroke-width="1.1"/>
<text x="574.10" y="692.80" font-size="10.0" text-anchor="middle" fill="#222">**</text>
<path d="M558.50,700.40 V695.80 H574.90 V700.40" fill="none" stroke="#222" stroke-width="1.1"/>
<text x="566.70" y="698.30" font-size="10.0" text-anchor="middle" fill="#222">**</text>
<path d="M625.50,700.90 V696.30 H671.70 V700.90" fill="none" stroke="#222" stroke-width="1.1"/>
<text x="648.60" y="698.80" font-size="10.0" text-anchor="middle" fill="#222">**</text>
<path d="M625.50,708.10 V703.50 H657.30 V708.10" fill="none" stroke="#222" stroke-width="1.1"/>
<text x="641.40" y="706.00" font-size="10.0" text-anchor="middle" fill="#222">**</text>
<path d="M625.50,714.60 V710.00 H641.10 V714.60" fill="none" stroke="#222" stroke-width="1.1"/>
<text x="633.30" y="712.50" font-size="10.0" text-anchor="middle" fill="#222">**</text>
</svg>
</body></html>
